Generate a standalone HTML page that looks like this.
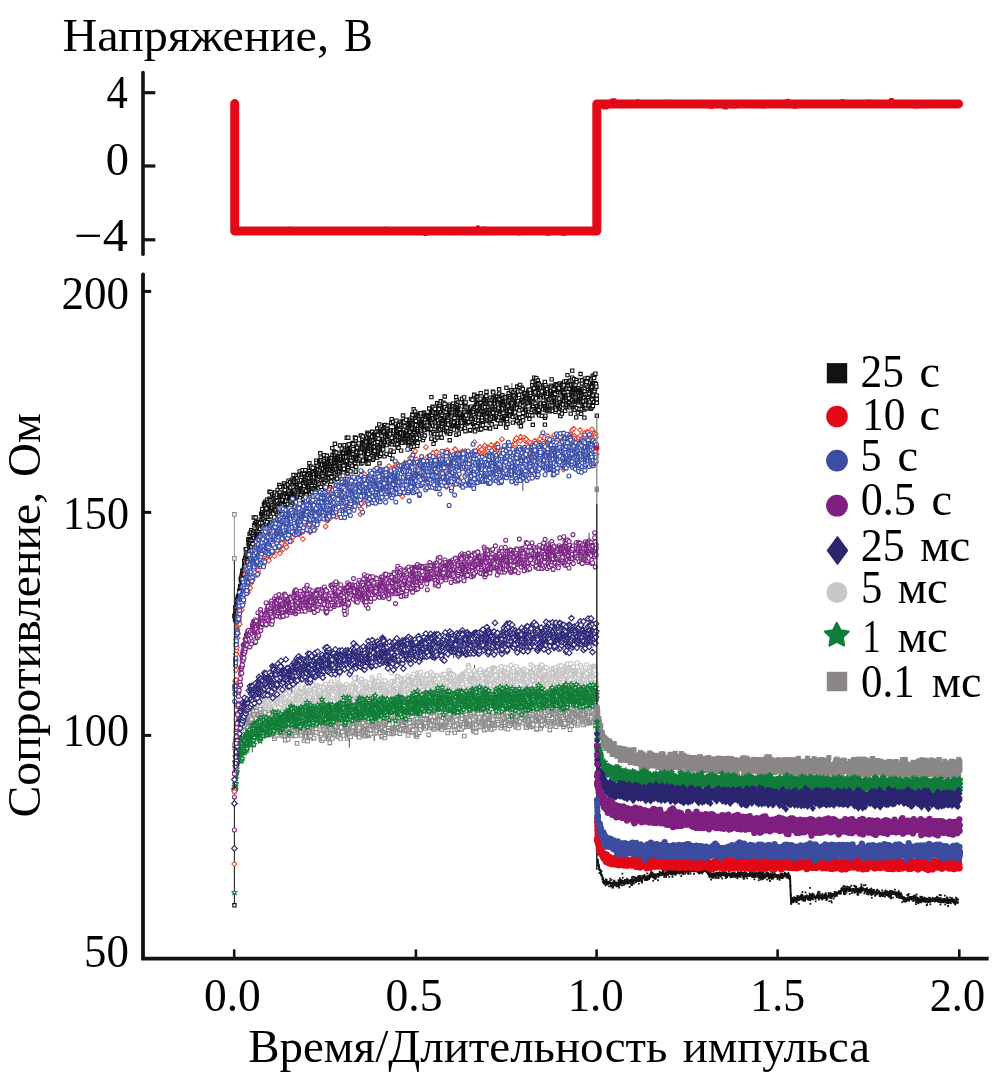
<!DOCTYPE html>
<html><head><meta charset="utf-8"><title>chart</title><style>
html,body{margin:0;padding:0;background:#fff;overflow:hidden}
svg{display:block;will-change:transform}
text{font-family:"Liberation Serif",serif;fill:#000}
</style></head><body>
<svg width="1004" height="1089" viewBox="0 0 1004 1089">
<defs><marker id="hK" markerUnits="userSpaceOnUse" markerWidth="1" markerHeight="1" refX="0" refY="0" overflow="visible"><path d="M-1.65 -1.65H1.65V1.65H-1.65Z" fill="#fff" stroke="#0e0c0c" stroke-width="1.1"/></marker><marker id="hR" markerUnits="userSpaceOnUse" markerWidth="1" markerHeight="1" refX="0" refY="0" overflow="visible"><path d="M0 -2.5L2.5 0L0 2.5L-2.5 0Z" fill="#fff" stroke="#e8442c" stroke-width="1.05"/></marker><marker id="hB" markerUnits="userSpaceOnUse" markerWidth="1" markerHeight="1" refX="0" refY="0" overflow="visible"><path d="M-2.0 0a2.0 2.0 0 1 0 4.0 0a2.0 2.0 0 1 0 -4.0 0Z" fill="#fff" stroke="#3a4eaa" stroke-width="1.1"/></marker><marker id="hP" markerUnits="userSpaceOnUse" markerWidth="1" markerHeight="1" refX="0" refY="0" overflow="visible"><path d="M-2.0 0a2.0 2.0 0 1 0 4.0 0a2.0 2.0 0 1 0 -4.0 0Z" fill="#fff" stroke="#7d2585" stroke-width="1.1"/></marker><marker id="hN" markerUnits="userSpaceOnUse" markerWidth="1" markerHeight="1" refX="0" refY="0" overflow="visible"><path d="M0 -2.8L2.8 0L0 2.8L-2.8 0Z" fill="#fff" stroke="#2c2878" stroke-width="1.2"/></marker><marker id="hL" markerUnits="userSpaceOnUse" markerWidth="1" markerHeight="1" refX="0" refY="0" overflow="visible"><path d="M-2.1 0a2.1 2.1 0 1 0 4.2 0a2.1 2.1 0 1 0 -4.2 0Z" fill="#fff" stroke="#c6c4c4" stroke-width="1.1"/></marker><marker id="hG" markerUnits="userSpaceOnUse" markerWidth="1" markerHeight="1" refX="0" refY="0" overflow="visible"><path d="M0.00 -2.50L0.73 -1.01L2.38 -0.77L1.19 0.39L1.47 2.02L0.00 1.25L-1.47 2.02L-1.19 0.39L-2.38 -0.77L-0.73 -1.01Z" fill="#fff" stroke="#0f7d36" stroke-width="1.15"/></marker><marker id="hY" markerUnits="userSpaceOnUse" markerWidth="1" markerHeight="1" refX="0" refY="0" overflow="visible"><path d="M-1.8 -1.8H1.8V1.8H-1.8Z" fill="#fff" stroke="#8c8989" stroke-width="1.05"/></marker><marker id="fY" markerUnits="userSpaceOnUse" markerWidth="1" markerHeight="1" refX="0" refY="0" overflow="visible"><path d="M-2.5 -2.5H2.5V2.5H-2.5Z" fill="#8b8787" stroke="none" stroke-width="0"/></marker><marker id="fG" markerUnits="userSpaceOnUse" markerWidth="1" markerHeight="1" refX="0" refY="0" overflow="visible"><path d="M0.00 -3.40L0.94 -1.29L3.23 -1.05L1.52 0.49L2.00 2.75L0.00 1.60L-2.00 2.75L-1.52 0.49L-3.23 -1.05L-0.94 -1.29Z" fill="#117d3b" stroke="#117d3b" stroke-width="0.8"/></marker><marker id="fN" markerUnits="userSpaceOnUse" markerWidth="1" markerHeight="1" refX="0" refY="0" overflow="visible"><path d="M0 -3.7L3.1 0L0 3.7L-3.1 0Z" fill="#2c2670" stroke="none" stroke-width="0"/></marker><marker id="fP" markerUnits="userSpaceOnUse" markerWidth="1" markerHeight="1" refX="0" refY="0" overflow="visible"><path d="M-3.1 0a3.1 3.1 0 1 0 6.2 0a3.1 3.1 0 1 0 -6.2 0Z" fill="#7f2080" stroke="none" stroke-width="0"/></marker><marker id="fB" markerUnits="userSpaceOnUse" markerWidth="1" markerHeight="1" refX="0" refY="0" overflow="visible"><path d="M-3.1 0a3.1 3.1 0 1 0 6.2 0a3.1 3.1 0 1 0 -6.2 0Z" fill="#3d4d9f" stroke="none" stroke-width="0"/></marker><marker id="fR" markerUnits="userSpaceOnUse" markerWidth="1" markerHeight="1" refX="0" refY="0" overflow="visible"><path d="M-3.0 0a3.0 3.0 0 1 0 6.0 0a3.0 3.0 0 1 0 -6.0 0Z" fill="#e30a17" stroke="none" stroke-width="0"/></marker><marker id="fK" markerUnits="userSpaceOnUse" markerWidth="1" markerHeight="1" refX="0" refY="0" overflow="visible"><path d="M-0.9 -0.9H0.9V0.9H-0.9Z" fill="#141210" stroke="none" stroke-width="0"/></marker></defs>
<rect width="1004" height="1089" fill="#fff"/>
<path d="M234.7 103.6V231H596.8V103.9H958.6" stroke="#e30a17" stroke-width="9" stroke-linejoin="round" stroke-linecap="round" fill="none"/>
<path d="M460.0 231.5h3.3M319.3 230.3h3.6M241.9 233.1h3.4M404.7 231.8h1.8M329.7 229.5h2.5M434.8 228.8h3.4M459.0 228.9h1.6M296.4 229.0h1.1M252.6 230.7h2.4M562.8 230.9h2.5M414.9 230.2h1.6M483.6 232.7h2.1M241.3 232.4h1.5M334.2 231.2h2.5M538.2 231.1h3.2M272.2 232.4h2.5M546.7 234.2h2.8M260.9 231.1h2.0M292.9 232.1h2.1M584.5 233.3h2.8M464.6 230.3h1.5M395.0 230.1h2.2M274.0 232.8h1.6M476.5 232.0h3.6M473.1 230.8h3.5M572.6 230.5h2.7M291.2 233.4h3.8M434.4 231.6h3.7M465.8 229.2h2.1M384.7 232.9h1.1M548.4 232.1h2.6M353.4 231.0h1.1M371.0 231.6h1.4M580.4 230.5h2.3M424.4 234.6h2.0M447.8 231.3h2.1M422.7 230.7h3.7M293.2 229.3h1.0M505.0 229.3h1.4M387.5 232.6h1.0M461.2 230.1h2.5M495.5 229.2h1.6M367.8 232.4h2.0M573.7 229.6h2.0M335.6 228.5h2.3M585.1 230.9h2.6M555.6 229.4h2.7M390.2 230.9h2.2M564.8 229.0h2.3M422.9 232.5h1.8M523.7 230.5h3.2M461.6 233.3h2.0M380.2 228.8h1.2M314.9 229.9h3.5M279.6 229.8h2.4M449.3 230.7h1.9M578.4 232.2h2.9M463.6 229.8h1.2M384.9 230.8h3.4M497.0 233.1h3.7M522.3 230.9h2.6M562.3 232.0h1.1M247.1 231.0h1.7M306.0 231.6h1.1M447.8 232.5h3.0M247.4 231.9h3.8M429.5 232.5h3.0M455.0 229.0h2.7M254.0 232.4h3.9M540.6 229.2h2.0M351.9 229.4h2.9M520.7 228.4h3.6M520.6 231.1h3.3M550.7 229.6h2.7M464.8 229.4h1.3M472.7 230.9h3.5M522.8 229.9h3.2M545.3 231.3h1.5M249.4 231.5h1.6M438.4 232.4h2.1M329.0 228.7h3.0M275.6 230.9h1.4M473.2 232.8h2.1M370.8 229.9h1.6M327.1 229.9h2.4M268.7 231.1h2.7M345.5 232.8h3.3M286.1 230.9h1.4M268.6 231.9h1.8M347.9 231.8h2.9M305.9 229.0h3.7M372.1 228.9h1.3M496.0 230.3h3.5M477.3 226.8h1.2M422.6 231.1h1.6M333.7 230.7h3.2M555.6 231.0h1.6M521.4 230.4h3.2M590.9 232.5h3.5M513.5 231.2h2.9M304.9 230.7h3.3M493.9 231.9h2.1M387.8 230.0h3.5M430.9 231.1h2.6M494.0 230.9h3.5M563.7 230.6h1.4M507.7 228.5h1.4M490.9 232.4h3.8M283.4 228.8h4.0M281.1 232.0h2.7M397.1 231.0h1.6M561.9 234.2h3.3M263.8 229.3h1.1M350.5 229.2h3.2M400.2 232.7h4.0M552.8 231.9h1.7M378.7 230.1h1.4M251.6 231.1h1.4M302.1 229.5h2.5M304.7 231.5h1.8M425.5 231.5h2.5M461.2 231.3h2.2M518.4 234.0h1.5M288.0 228.3h3.9M571.4 228.7h3.9M313.2 230.8h2.5M562.1 229.9h1.9M451.2 231.3h1.7M403.7 230.9h3.3M531.8 231.2h3.1M539.1 232.7h3.2M346.2 231.8h3.3M298.4 230.5h2.8M356.0 232.3h1.5M421.1 232.6h3.9M442.5 231.3h1.8M522.2 232.6h2.9M574.6 229.5h2.2M483.6 228.0h2.0M475.7 233.1h2.7M510.7 229.2h3.2M245.4 233.5h2.4M384.0 228.3h2.6M497.3 229.0h2.7M436.5 229.3h1.1M399.4 230.9h2.7M266.1 230.5h1.7M308.8 230.9h1.6M399.9 231.0h3.1M434.8 232.4h2.4M458.4 229.8h3.0M465.9 229.8h2.7M379.4 232.0h2.1M404.3 230.8h2.5M359.0 229.5h2.1M537.3 232.0h2.3M490.9 230.9h3.6M444.0 229.3h3.0M478.5 231.6h2.3M304.6 231.9h1.9M753.3 102.3h2.3M732.3 106.9h3.8M916.5 103.9h1.8M914.8 107.0h3.1M626.1 102.3h1.6M749.6 105.2h3.5M768.6 103.3h2.4M732.9 104.7h1.6M712.7 102.2h3.3M620.2 102.3h3.5M758.5 103.3h3.0M687.6 103.3h2.1M826.8 103.7h2.4M786.8 103.8h1.6M942.5 103.7h1.9M691.2 102.9h2.3M874.8 102.2h1.6M648.7 104.3h3.3M773.8 102.4h3.0M821.0 104.3h3.3M722.4 104.0h2.3M774.2 103.4h2.3M827.8 104.1h1.4M661.8 103.3h3.9M609.2 103.0h1.5M768.9 104.3h2.4M658.0 103.7h3.4M665.5 101.2h2.2M748.7 104.4h1.5M928.9 103.5h3.0M617.6 104.2h2.8M874.9 105.8h3.9M915.5 101.4h1.9M611.6 99.8h3.7M952.4 101.8h3.0M841.5 103.3h3.9M816.4 106.5h2.5M606.6 101.9h3.1M749.9 104.5h3.3M719.9 102.7h1.4M665.6 104.8h2.3M930.4 103.4h3.7M842.2 101.3h2.2M601.2 104.4h1.7M650.7 102.9h3.1M675.6 103.4h3.8M695.6 102.9h1.4M890.2 99.5h2.5M612.5 105.0h3.5M630.0 104.4h3.3M816.5 103.0h2.9M761.9 107.0h1.9M869.8 104.2h3.2M734.7 106.3h3.1M737.9 103.6h3.9M854.0 101.5h3.2M699.2 102.8h3.6M759.5 104.7h1.9M627.4 105.5h1.8M661.6 102.4h2.4M676.3 102.8h3.8M697.2 102.4h2.5M626.7 105.4h3.4M623.7 105.8h3.6M908.7 104.0h2.6M731.4 103.7h1.2M694.3 104.6h2.4M761.3 101.6h2.0M614.9 103.7h1.5M629.2 103.4h3.9M806.3 103.3h2.0M803.3 103.9h2.8M885.8 103.5h1.6M807.5 102.2h1.5M820.4 105.4h1.4M794.0 107.2h2.2M696.1 105.8h2.6M844.5 103.1h1.3M891.2 104.8h1.3M688.8 102.7h3.5M924.1 104.6h2.0M668.5 101.2h3.8M625.0 103.4h2.5M786.6 100.2h2.3M650.2 105.7h3.9M867.3 101.0h3.4M710.7 103.1h1.0M910.2 104.4h2.4M835.6 103.7h1.5M649.5 103.0h1.2M677.1 103.9h2.4M726.9 106.0h1.8M612.1 106.2h3.3M691.1 103.4h3.3M744.8 103.8h3.8M710.5 107.5h1.8M649.7 104.8h2.8M933.1 103.6h3.1M769.3 104.1h3.9M847.7 104.0h3.7M636.7 100.8h2.0M933.9 105.0h3.8M817.7 101.4h2.7M763.3 102.8h3.2M841.6 100.6h1.5M889.4 102.9h3.3M917.5 106.4h1.8M761.2 102.7h3.8M732.7 104.6h2.2M733.4 103.8h2.4M759.6 103.7h2.3M649.8 104.9h3.3M801.0 104.6h3.4M681.9 101.6h1.8M708.2 104.2h2.1M715.1 104.1h1.6M637.9 103.4h3.3M705.5 104.0h1.1M743.9 102.7h1.8M724.0 108.0h2.8M654.9 102.6h1.2M945.2 103.1h1.8M671.3 102.4h1.9M815.5 101.6h3.9M615.1 103.6h2.8M850.1 105.2h2.0M601.5 102.5h2.7M627.0 102.0h2.0M625.1 104.3h3.8M754.9 105.4h3.1M603.4 107.9h3.9M919.6 103.8h1.3M713.2 103.1h1.7M609.1 103.9h2.9M635.8 104.4h3.7M719.4 105.3h1.3M883.4 104.3h2.6M820.0 102.4h1.8M807.8 105.1h3.5M828.1 103.5h1.0M917.1 102.1h1.4M846.7 102.4h3.4M761.1 102.2h1.1M903.1 105.7h1.7M908.3 103.5h1.9M779.8 104.1h2.3M671.0 105.6h2.5M909.3 104.2h2.0M699.8 105.1h2.5M634.4 103.1h4.0M806.2 105.0h2.5M779.5 105.6h3.9M937.8 103.6h3.5M822.1 105.8h2.7M674.8 105.9h1.0M848.7 103.3h2.4M947.1 103.2h1.2M752.6 102.9h1.2M689.9 103.0h2.6M735.8 103.9h1.9" stroke="#e30a17" stroke-width="3" stroke-linecap="round" fill="none"/>
<path d="M373.7 696.5v-12.0M284.8 695.2v8.2M461.5 694.1v-9.6M305.3 687.5v5.0M288.5 705.7v9.7M283.9 698.8v12.5M418.9 678.0v12.8M489.3 680.1v6.6M474.1 684.6v-10.1M357.0 683.6v-8.8M474.6 677.0v-12.1M562.2 682.9v7.9M548.0 682.9v5.2M426.7 688.9v7.8" stroke="#3a3838" stroke-width="0.9" fill="none"/>
<path d="M234.8 743.4l.6-1.6 .1 1.1 .1-1.9 0 9.2 .2-6 .9-6.7 0 7.4 0-1.8 .3 .5 .5-8.9 .1 1.3 .3-.8 .1 1.4 .4 .1 .4-.8 .3 2.4 .1-11.6 .2 5.9 .1-10 .1 7.7 0-10.2 .5 1.4 .7-1.2 0 5.1 .1-1.2 .1 5.3 .3-7.5 .2-1.5 0 8.2 .1 .6 .1-1.9 .1-.6 .2 .6 .1-3.6 .2 4.2 .1-7.3 .3 .7 .1 3.7 .3-10.5 0 7.9 .2-4.2 .2 5.4 .2 1.2 0-2 .8-1.9 .6-9.2 .4 10.7 0 3.1 .4-4 .2 3.7 .4-3.8 .1 .7 .7-.8 .3 1.9 .2-4.8 .4 .1 .3 3.2 .1-11.6 .1 6.9 .1 5.1 .5-11.4 .8 4.6 .2 .7 0 1.5 .2-6.2 .2 5.2 .5 5.8 .1-10.3 .1 8.7 .3-9.3 .7-3.6 .1-1 .1 .6 0 9.9 0-12.1 .1 17.4 .1 2.4 .2-17.6 .9-.8 0-2.5 .4 15.5 1-11.5 .1 7.2 .6-3.2 0-1.1 .2-1.8 .2 6.6 .3-11.6 .1 14.1 .4-9.2 .2-.6 .1-1.1 0 3.6 .2 8.5 .1-14.1 .4 .3 .3 5.2 0 .3 0-2.3 0 2.4 .1-1.4 .1 1.2 .1 .2 .6 4.9 .1-3.9 .1 4.7 .1-10.3 .1-1 0 13.3 .1-12.3 .9 6.1 .5 13.2 0-13.5 .2-9.2 .4 11.6 .1-1.1 0-12.7 .1 12.7 1-9.8 .2-2.8 .5-2.6 .6 8.3 .2 3.4 .3-1 .1-9 0-4.9 0 13.4 .3-1.9 .4-.5 0-.7 .2 6.4 0 3.3 .1-3.6 .1-9.7 0-5.2 0 12.5 .1 2.2 .2-11.3 0 7.5 .3-1.1 .1-3.8 .4 .1 .2-4.2 .2-1.3 .3 3.8 .2 5.2 .1-6.6 0 6.6 .3 1.5 .3 9.5 .4-11.4 .1 7.9 .2-16 .3 9.5 .1 4 .4-6.8 .2 .8 .2 .9 .3-2.2 .5 5.6 .2-11.8 .1-.7 .1 15.6 .1-2.5 .2 5.8 .1-9.6 .4-10.7 0 9.7 .1-3.2 .2 1.6 0 5.6 .1 4 .3-6.6 .5-1 .1 2.8 .6-3 .1 3.7 .8 8 .4-9 0-.9 0-10.3 .2 2.1 .2 1.9 .3 1.9 .7-.9 .3-8.1 .1 2.9 .2 1.1 .2-5.5 .3 9.3 .1 3.8 .3 4.8 .1-8.6 .1-6 .2 11.2 .6-7.6 0-2.1 .3-.5 .1 7 .1-6.9 .1-.8 .2 1.5 .1 5.9 .1-9.6 .1 5.1 .1 4.4 .3-11.2 .4 6.5 1.1 2.5 .3 6.6 .2-13.3 .6 4 .1 .1 .2-.4 0 8.6 .2-16 .1 11.8 .1 1.2 .2-8.9 0 14.1 .6-8.5 .3-2.7 .3-4.4 0 12.3 .2-2.7 .2 8 .8-5.3 .2-9.3 .2-7 .4 11.6 .4-.2 .1 4.6 .5-3.6 .4-2.9 .5-6.9 .2 10.7 .1-4.6 .5 13 .2-9.4 .6 2.1 .2-2.9 .6-6 .2-8.4 .2 14.1 .2-9.9 0 8.9 0-.6 0 5.7 .2-16 .1 14.8 .1 1.8 .9-1.9 .6-5.3 .4 6 .9-1.3 .1-5.1 .2 2.4 .3-1.3 .3 .1 .3-4.7 0 2.3 .4-1.3 .2 5.2 .3-3.1 0-12.6 .2 15.6 .1-6.6 0 11.8 .2-7.8 .1 2 .3-9.6 .2 11.8 .2-10.5 .1 .7 .5 3.4 .1 1.6 .3 6.6 .4-7.1 .3-4.3 .4 7.8 .2-6.2 .1-1.2 .2 8.3 .3-2.8 .4 0 .1 1.6 0 7.4 .2-11 .2 7.9 0-12.7 .4 4.6 0 .7 .3 0 .2 6.8 .4 .7 .1-14.2 .4 11.5 0-10.7 0 8.9 .2-12.5 .2 15 .2 1.6 .1-17.4 .1 15 .1-14.3 0 8.4 .2-4.9 0 8.1 .9-5.7 .1 7.9 .1-3.1 0 3 .1-8.8 0 11.7 .1-17.7 0 1.2 .5 4.3 .2 5 .6-3.9 .2-.3 .1-2.5 .4 6.3 .3-2.5 .4 6.3 .5-8.8 0-4.6 .8 6.4 .4 7.6 .2-7 .6 10.1 .1-19 .1 19.6 .3-3.9 .2 3.3 .1 2.5 .2-15.3 .4 10.9 .1-5.5 .1 3.4 0 2.3 .3-4.8 .1-1.9 0-4.4 .1 9 .1-8.5 .3 8.1 0-10.7 0 16.7 .3-2.6 .1-5.2 .6-12.5 0 11.4 .8 6.3 .5-17.4 0 19.3 .3-13.9 .1-1.6 .3 5.6 .3-2.2 0-1.5 .1 1.5 .5 2.4 .1-3.5 0-4.7 .1 9.3 .2-9.2 0 3 .1 .8 .5 7.8 .2-5.2 0 2.5 .2 1.4 .4-2.2 .2 1.4 .5 4.8 0-15 .2 8.9 .5 5.6 .1-6.6 .1 4.2 .2 .7 .2-2 .3 1.5 .3 14 .3-17.1 0-8.5 0 .7 .1 11.5 .1-2.8 .1-2.8 .1-1.5 .1 6.4 .1-.9 .1-4.1 0 0 .7-3.4 .4-6.1 .3 9.3 .9 5.2 .1 5 .1-14.1 .4 12 0-4.4 .2-5.8 .1-2.1 .1 7 .2-.5 .2-3.8 0 6.1 0-10.3 .5 10.4 0 .4 .1-2.8 0-2.1 .5-.1 .1 11.7 .2-16.2 0 10.5 .1-10.8 0 16.6 .2-6.1 .2-.6 .1-6.1 .1 .2 .1 5.3 .1-1.1 .1-5.5 .3-9.4 .3 4.4 .1 10.1 .1-14.7 .1 2.7 0-.2 0 17.2 .1-7.2 .3 1.6 .1-2.5 .1 1.6 .2-4 .1-4 0 9.5 .1-4 .7-3.9 0 5.7 .9-8.5 .2 2.4 .1 12.9 .2-12.4 .2-3.9 .6 6.2 .1-.8 0-1.4 .4 3.4 .4-.9 .1-5 .2 12.7 .3 .5 .6-10.1 .1 9.6 0-20 .1 5.7 0 16.1 .5-5 .4-11.8 .1 7.6 0 10.3 .3-8.7 .1-9.3 .1 3.1 .2 4.9 .1-3.4 .1 .1 0 4.6 0-1.8 .3-5.5 .1 8.5 .1-6.8 .2 14.1 .1-12.2 .1 8.1 .3-5.3 0 2.6 .1-4.7 .1 0 0 12 .1-15.6 .4 3.4 .1 5.6 0 0 .1-2.3 0 2.8 .2-9.3 .2-.6 0 12.4 .1-9.1 0 7.3 .1-4 .1 0 0 8.8 .1-6.3 .3 2.1 0-10.9 .6 1.5 .2 11.4 .3-6.7 .4-.8 .1-5.5 .6 6.3 .2-5.1 .1 7 .4-.8 .3 3.6 .2-12.3 .3-.6 .2 3.4 1 2.5 .1 2.9 .2-.8 .1-3.4 .1 .2 .3 1.2 .4 8 0 4.4 .3-4.5 .5-11.5 .2 7.5 .2-2.3 .4 6.6 .5-1.3 0-5.4 .1 2.5 .1-2.3 .1 4.4 .4-8.5 0 4.9 .3-7 .2 4.4 0 4.6 .3 3.4 .3-.9 0-1.2 .2-8.6 .1 12.3 .4-16.2 .1 12 .1-12.8 .5 11.8 .2 6.6 .1-23.4 .1 14.7 .1 8 .3-18.1 0 11.7 .1-4.9 .5 2 0 12.3 .4-10 .1-7.9 0 2.6 .3 1.1 0-4.4 .1 1.6 .4 1.9 .1-5.1 0 5.2 .1-.4 .4 8.7 .5-7.8 0 1.2 .3 4.8 .2-3.9 .2-.7 0-2.4 .5 10.5 0-9.8 .5-3.3 .1 8 .1 .6 .1 4 .4-3.8 0 2.3 .5-3.5 .2 2.4 .1-16.5 .3 .1 .5 3.3 .3 11.9 .3-7.2 .3 5.5 .1-1.4 .2-7.6 0 10.4 .2-2.5 .3 6.1 .3-15.8 .3 20 .1-6.7 .3-8.3 .3 7.7 0-5.1 .1 3.1 .6 4.6 0 1.6 .2-11.9 .1 6.9 0-11.9 .3 2.7 .1 3.6 .1 7.4 .3-7.9 .2-.1 .2 5.1 .3 5.7 .1-2.2 .1-9.7 .2 1.1 .2 7 .5-7.5 .1-.1 .1 7.3 .1-10 .5 11.8 .2-12.5 .2 1.3 .1-1.9 .2 6.3 .3-2.6 .4 10.5 .1-4.6 .2-6.8 .8 8.4 0 2.1 .1-18.7 0 11.2 .2 5 0 3.5 .3-17.3 .2 9.5 .4 6 .1-7.9 .2 9.9 .2-13.4 .1 2.4 0 .3 0 9.6 .1-6.2 0-4.7 .1-2.2 0 3.4 .4-5.5 0 7.6 .2 .8 .1-7.5 .4 5.5 .2-1.7 .2-2.4 .4 10.3 .1-11.3 0 10.2 .4-6.4 0 3.6 .1 6 .3-15.1 .2 15.2 .3-6.2 .1-3.3 0 7.5 .4-8.6 .5-4 .2 12.2 .1-3.2 .6-6.3 .1-8.6 .8 9.2 .3 3.7 0-.5 .2 10.5 .7-8.1 .3 9.5 .1-11.8 .2-2.1 .3 2.1 .2-2.4 .1 3.5 .4-7.9 .1 9.3 0-10 .2 15.6 .1-10.9 .1 10.8 .3-5.7 .6-3.1 .5 9.2 .2-10.6 0 4.4 .1-2.5 .2-7 .2 14.1 .6-.6 .4-4.8 .6 .1 .2-1.6 .1 7.2 .3-3.4 .1-6 0 9.4 .4-7.8 0 5.8 .1 2 1-3.7 0 3.3 .3-2.5 .1 3.3 .1-6.8 .4-5.7 .1 6.8 .1 3.3 1-1.5 .1-18.9 .4 8.6 1.2 9.9 .6 1.5 0-4.5 .1-2.7 .3 5 0-4.2 .2-2.3 .1-3 .8 7.6 .2-2.4 0 4.9 .1-10 .1 11.6 0-7.8 .1 3.9 .3 1.6 .6-9 .1 13.6 .2-6 .1 2.8 .2-15.4 0 12 .2 .2 0 3.3 .4-12.6 .2 3.5 .3 9.6 0-14.6 0 2 .2-3.1 .9 17.4 .8-8.5 .1 3.5 .3 2.4 .1-13.6 .4 15.1 0 4.1 .1-3.2 .1-.7 .4-5.3 0-8.6 .3 18.7 0-10.9 .1 1.9 .2-2.3 0 5 .1-1.1 .1-4.1 0 6.9 .1-1.2 .2-8.4 .1-.8 0 12.5 .2-.4 .1-3.7 0-6.8 .1-1.1 .4 5.5 .1 2.6 0-12 .1 8.8 .1-5.5 .4 3.6 .1-.5 .3-3.1 .1 11.1 .2-3.1 .2-11 .3 9.9 0-11.5 .1 4.8 .7 1.4 .8 2.7 .4 1.8 .4-1.5 .2-11.5 0 3.4 .1 14.3 0-6.8 .2 6 0-5.6 0 1.4 0-4.2 .4 7.8 0-11.7 .5 13.6 .1-8.3 .9-7.9 .1 8.1 .1 4.8 .6-11.5 .4-.2 0-.7 .1 11.1 .2-1.4 .2-9.5 .2 5.7 .4-2.8 .1 1.9 .1-5.1 0-1.6 .1 5.3 .1 6.5 .2-8.1 .1 6 .2-2.2 .3-.1 0-10.2 .4 18.4 .3-11.2 .1 3.1 0 11.4 0-1.8 .1 1.8 .4-10.2 .1-.4 .1 6.2 0-9.7 0 6.3 .1-5.2 .2 4.9 .2-5.7 .6-4.4 0 1.8 0 13.4 .7-14.8 .2 13.6 .3-18.6 .2 13.3 .4-9.6 0 9.1 .2-10.5 .1 12.6 .1-4.7 .1 5.8 .1 .5 .1-11.5 0 13.6 .1-10.6 .2 8.2 .4-15.2 0 15.5 .2-6.4 .2-.4 .4-3.8 0 7.7 .1-11.5 .1 3.1 0-5.9 .4 8.1 .3-.5 .3 .6 .2 1.4 .2 .2 .1 2.7 0-5.7 .3 2.6 .2 1.7 0-4.9 .2 11.9 .6-10.2 0 3.3 .1-1.2 0 4.2 .1 13.8 .3-19.7 .9 1.8 .5 4.8 .1-.4 .3-6 .2 8.5 .8-.4 .1-9.4 0-5.7 .2 13 .1-12 0 11.8 .1-4.8 .5 7.6 0 2.3 .1 1.3 .2-3.8 .3-3.2 .3 8.2 .2-10.7 .2 8.8 0-7.2 .3-1.9 .2 .2 .3-4.3 .4 3.9 .7-10.5 0 23.4 .1 .1 .1-11.9 .5-7.4 .1 .7 .9 8.3 .2-5.1 .4-5.4 .2 2.8 .2 1.4 .1 9.1 .1-8.4 .1 1.2 .4 1.3 .8 2.9 .1 1.7 .3-4.9 0 4.2 .3-5.6 .2-1 .4 11.4 .7 2.3 0-3.1 .2-14.9 .1 .5 0 5.9 .8 12.8 .2-8.8 .2-1.1 .1-6.9 0 15.6 .2-14.7 .9 4.9 .1 2.3 .5 7 .1-5.7 .4-1.1 .7-3.2 .3 7.5 .4-4.2 .3-7.4 .3-4.5 .3 12.3 0-1.3 .1 0 .2-4.5 .5 6 .2 5.9 .4-18.6 .2 13.9 .6-5.1 .2 4.1 .3-7.5 .7-1.9 .3 12.1 0-7.4 .4 7.9 .8-13.7 .7-6.2 .3 16 .1 1.2 0-13.6 .6 7.8 .1 6.6 .1 .5 .1-14.4 .1-1.8 .3 12.8 .1-7.6 0 2.8 .1-7.6 .5 8 0-6.2 .3-.8 .3 6.8 .9-3.2 .1 9.6 .1 2.6 0-7.7 .6-7.6 .2 15.3 .3-6.4 0-5.9 .1 6.2 .2 2.3 .2-9.6 .1 5.1 .1 2.8 .6-4.6 .1 .4 .7 3.4 .1-.1 .6-5.6 .1 6.1 .1 5.2 .1-12.2 .1 8.8 .5 3.6 .2-4.9 .1-3.3 .2 7.9 .6-11.4 .1 12.7 .1-10.7 .1 .9 .2 6.3 .6-4.1 0 6.2 .3-4.9 0-6.3 .1 9 .2 4.2 .3-12.2 .3 .4 .4 14.8 0-18.9 .1 .1 0 8.6 .4-8.1 .1 4.9 .3 .6 0 5 .2-7.2 0 5.1 .4-10.4 .1 4 .2 14.6 .2-17.6 .5 12.1 .1-9.1 .2 2.2 .1 .5 .2-5.4 0-1.2 .2 1.4 .2-1.5 .6 5.9 0-6.9 .7 2.6 0 10 .2-3.1 .3-8.7 .1 3.2 .2 8.5 .2-15 .4 18 .4-9.7 .2 10.9 .2-24 .1 1.8 .4 3.6 .1 19.8 .8-11.6 .2 2.1 .1 4.4 .2-9 .1 1.4 .1-.7 .2 4.3 .1 7.1 0-13.9 .5 14.5 .1-8.9 .4-2.8 0 3.7 .6-3.2 0 5.2 0-4.6 .1 4.6 .1-5.9 .1 1.4 .2 2.9 .2 2 .1-6 .2 4.9 .6 2 .1-5.6 .1 12.2 0-20.4 .1 8.2 .2-2 .5-1.7 .2 10.4 .1-7.9 0-3.8 .3 9.2 0 4.6 .2-12 .4 2.9 .1 10 .2-10.6 .2-2.2 .1-.7 .2 9.2 .4 5.2 .4-2.9 .3 2.5 0-11.1 .1 13.1 .1-6.4 0-12.8 .4 13.6 .1-13.9 .3 6.2 .2 6.4 .1 5.2 .4-.5 0-1.2 .3-15.2 .1-3 .7 8.9 .4 4.1 0-5.4 .2-1.5 .2 1.5 .2-1.5 0 5.2 1.2 3.8 .2-6.3 .1 6.4 .1 4.8 .1-4.9 0-1.2 .6-11.5 .8 2.7 .6 5.7 .1-6.4 .1-1.4 .1 1.4 0 5.5 .1 9.5 0-6.9 .3-7.9 .3 1.7 0-1.1 0 1.5 .1 1.1 .2 1.2 .1-5.8 0 7.6 .1 2.3 .4-.6 .1-1 .2-2.5 .2-8.7 .9 10.4 .1-5 .1 5.3 .1-.5 0-10.2 .2 6.3 .2 2.3 0 6 .2-3.1 .5 2 0-10.5 .2 7.7 0 1.8 .1-8 .1 10.5 .2-3.9 .1-1.4 .7-3.5 .3-.1 .2-4.7 .1 4.9 .5 2.2 .1 9.3 0-19.8 .2 7 .3 7.4 .1 3.6 0-17.9 .2 13.7 0-11.4 .1 11.7 .3-8.9 .2 11 .4-8.3 .1 10.4 0-17.8 .1 1.1 .3 6.3 0-4.7 .1 5.2 0-5.5 .3 9.5 .1-4.8 .2 7.6 .1-3.3 .7-.3 .4 1.8 .3 10.1 0-10.9 .6-11.7 0 12.5 .2-9.5 .3 12.7 .3-6.8 .6-.9 0 0 .6 11.3 0-15.5 .1 9.7 .2-9.3 .1 .7 .1 12.3 .1-15.2 0 2.7 0 2.6 .1-3 0 13.6 .5-20 0 7.6 0 .8 0 4.6 .3-.4 .9 4.9 .3 .1 .3 1.1 .2-12.6 .3 5.9 .1-1.6 .3 1.1 .3 8.2 .1 3.1 0-11.7 .1 4.2 .1-9.5 .1-1.5 0 11.5 .3 3.1 .1-11.5 .4-2.1 .1-4.6 0 12.2 .1-5.1 .5 3.8 0 6.6 .1-11.4 .6 8.1 .1-5.8 .2 9.9 .3-4.4 0-5.2 .3 3.9 .5-11.2 .3 4.3 .4 3.6 .6 .5 .2-2.3 .1 1.1 .1 6.9 0 1.9 .1-9.5 .2 11.8 .4-6.8 .1-5.5 .1-9.3 .3 16.8 .2-3.4 0-1.1 0 4.1 .1-.3 .3-.6 .1-1.2 .3-1.8 0-6.8 0 4.5 .3 6.6 .8 4.6 .1-18.4 .5 9.9 .3-6.8 .1 4.9 .2 4 .3 2.1 .1-3.5 0 10.2 .1-6.4 .2-1.2 .3 .4 .2 3.8 0-1.4 .7-17.9 .2 11.4 0-6 .3 12.7 .2-4.7 .1-7.1 .1 2.6 0-4.6 .2 10.4 .1-5.5 0 14.5 .2-12.4 0-8.1 0 5.7 .3 4.2 0 7.7 .8-8.5 .1-6.4 .3 1.3 .1 .7 .3 .9 .1 2.7 .2-5.3 .3-.6 .4 19 .3-2.7 .1-14.7 0 6.7 1.5-1.1 .2-9.7 .1 8.1 .3-5 .1 1.4 .1-3.2 .1 11.3 0-6.5 .1 1.6 .2 2.3 .2-10.5 .4 15.2 .2-9.2 0-3.5 .1 4.3 .1 3.3 .7 0 0-5.1 .4-2.9 .1 12.5 .3-8.4 .2 3.8 .3-5.5 0-.7 0 12.9 .2-11.3 .1-3.8 .1 5.6 0 9.6 .4-9.2 0 7.5 .5 .5 .1-2.6 .1 2.6 .1 2.1 .2-11.8 1 9.4 .4 1.8 .5-12.9 0-1.9 0 2.7 .1-2 0 10.9 .3-8.9 0-9.5 .5 20.2 .4-10.3 .2 3.3 0-5.2 .2 8.4 .3 8.6 0-9.2 .2-4.9 0 .5 .4 .2 .2 3.7 .1-13.2 .6 5.8 .2-2.4 0 15 .2-16.2 .8 5.4 .2 2.6 .2-.5 .2 2.3 0-5.1 .3 2.8 .1-3.5 .1 6 .1-7.5 .2 10.1 .3-3.1 0-1 .2 3.3 0-13.5 .6 14.4 .2 2.6 0 .9 .3-4.9 .2 5.1 .3-13 .1 3.6 .2-.3 0 2.4 .1 2.7 0-8.4 .3-3.9 .1 10.9 .2-6 .7 14 .2-19.4 0 6.9 .7-9.7 .2 6.2 0 6.3 .2-10.6 .4-2.3 .5 14.7 0 2.1 .1-10.5 .2 2.9 .1 3.5 0-8 0 3.5 .1 6.4 0 6.1 .2-16.7 .1 14.8 .1-1.8 .2-3.5 .5 .1 0-8 .2 6.3 .3-5.7 .2 9.9 .2-13.1 0 7 .3 5.2 .1-3 .5 2.8 0-5.1 .2-7.2 .1 16.8 0-9.8 .1 2.5 .2 9.5 .4-11 .2 11.6 0-9.8 .3-.2 .1 6.4 .4-.6 .1 1.4 .3-9.1 .5 5.6 .1-1.5 .4-5.5 0 5.4 .3-1.4 0-1.4 .1 5.8 .1-1.1 0-2.6 .4 6.7 .5-3.1 .1 1 .1-4.4 0-6.1 .4-2.7 .2-1.1 .6 8 0 .4 .1 6.8 0-.5 0 1.8 .1-5.7 .2-4 .5 .1 .2 9.3 .1-15.7 0 3.8 .4 3.8 .1-8.4 .1 10.6 .9-.5 .5-3.4 0-4.5 0 4.1 .1 6.1 .2-8.9 .3-2.3 .1 3.9 0-6.3 .2 9.4 .4 8.3 .3-9.9 .3 9.7 0 1.9 .1-13.6 .1 10.2 .1-4.2 .3-3.7 .3 4.4 .1-6.9 .2-2.1 .1 3.6 .1 4.1 0-9.3 .2-3.1 .2 16.9 .2-12.2 0 9.3 .1-9.4 .2 7.8 .1-7.2 0 4.3 0 3.6 .5-9.5 .1 5.6 0 1.8 .3-.4 0-3.9 .2 15.4 0-12.1 .1 3.7 0-8.1 .1 10.8 .4-16.8 .6 10.2 .2 7 0-.1 .1-9.7 .1 .7 .5-1.3 .1 4.5 .3-6.8 .4 11.3 .4 4.7 .2-7.7 .6-6.9 .1 4.1 .2-2.9 .6-1.4 .3 3.7 .1 10.1 .2-14.7 0 9.9 .3-11.2 0-4.3 .1 10.3 .6-4.7 .1 11.3 .1-.8 0 1.1 .1-10.1 0-8.1 .6 20.4 .2-.2 0-12.6 .2 17.1 .2-19.9 .3 13.6 0-5.4 .2 10.1 .5-2.6 .2-13.7 0 5.4 .3-2.4 0 5.8 .1-15.9 .1 10.7 .2-.2 .4-6 .8 2.3 .7 14.9 .1-18 .5 15.9 0-8.1 .1-8 .1 15.8 0-12.2 .2 2.2 .1 1 0 8.9 0-11.7 .2 .7 .1 8.1 .1-8.7 .6 7.3 .2-3.8 0 1.6 .7 6 .1-7.5 .1-4.2 .1 11.7 .1-5.4 .1-4.4 .2-.8 0 2.1 .2 10.9 .3-11.8 0 15.1 .1-25.1 .1 11.2 .1-1.4 .1 8.4 .2-6.4 .4-.4 0 10.5 .1-14 .5 5.2 .3-4.3 .2 6.7 .2-4 .1 10.7 .5-13.7 .2 16.1 .8-22 .2 14 .4-11.7 .5 12 .3 .9 0-6.6 .1 3.2 .2 4.3 0-9.9 .1-1.5 .2 4.4 .2-.9 0 1.5 .1 .6 .1 3.9 .1 7.3 .3-3.5 .6-9.5 0 .7 .1-.1 .1 5.4 .1-.4 .2-3.9 .2-4.8 .1 13.7 .1-10.2 .2 1.4 .2 8.8 .5-12.2 .1 10.5 .6-9.3 0-9 .1 15.9 1-3.4 0 .3 .3 4.5 .4-2.8 0 2.4 1-14.2 .3 8.9 .2-5.3 .4 9.6 0-4.4 .5 5.8 .1-7.2 .1 6 0-1.4 .7-10.9 0 5.3 0 14 .8-4.7 0-1.1 .1-6.3 .3 1.3 0-10.5 0 9.2 .2-2.8 0 2.6 .1 .9 .1-3 0-7.1 0 3.9 0 14.9 .2-18.6 .1 14.3 .2 3.1 .2-4.8 .1-5.1 .2-6.9 .3 1 .1 4.5 .2-3 .3 .8 .4 11.8 0-1.3 .1-1.8 .2-4.8 .6 10.5" fill="none" stroke="none" marker-start="url(#hL)" marker-mid="url(#hL)" marker-end="url(#hL)"/>
<path d="M531.8 718.0v11.6M515.0 711.4v-7.8M312.2 733.0v8.1M434.1 712.1v11.7M572.6 715.4v12.3M329.9 735.3v10.0M295.1 726.2v8.3M264.4 734.4v-8.0M407.8 724.2v8.8M453.9 717.0v-10.5M497.2 712.8v8.3M349.3 736.6v11.0M374.2 730.6v10.5M516.3 720.2v-6.0" stroke="#3a3838" stroke-width="0.9" fill="none"/>
<path d="M234.6 748.2l0-2.8 .7-4.3 .9 .1 .3-4.6 0-4 .2-.4 .4-2.7 .3-5.7 .3 .7 .2 6 0-9 .6 3.6 0-5.7 .1 9.8 .2-1.8 0-8.3 .2 .7 .4 5.1 0 .6 .1-8.9 .3 3.3 .2 0 0-6.7 .1 13 1-.9 .1-5.4 0-6.1 .2 5 .2 .7 0-3.1 .2 4.6 .6 .5 .4 2.6 .2 3.2 .1-8.6 0 2.2 .4-5.1 .1 10.1 .1-2.3 .3-11.7 .3 4.7 .7 2.4 .4-8.4 .5 6.5 .1 1.8 .3-15.1 0 16.5 .1-.1 0 4.1 0-6.8 .1-1.9 .3 2.5 .3 9.9 .1-7.4 .5 2.5 .1-5.6 .1 10.3 .3-5.3 1-9.6 .2 7.9 .2-3.9 .3 5.7 .2-1 .4-1.7 .2 6.4 .1-6.1 .1-2.2 .7 10.1 .1-8.6 1.2 6.2 .4-13.3 .3-2.2 .2 1.3 0 11.1 .7-6.5 0 .2 .2-2.1 1 6.7 .5 8.7 .1-6.7 0-11.7 0 11.1 .1-3.8 .1 18.2 .4-8.6 .3-14.1 .2 .6 .8 8.8 .1-8.6 .1 12.8 .1-1.8 .3 8.9 .8-16.3 .2-3.1 0 17.6 .5-23.7 .1 8.6 .1-4.1 .1 4.5 .1 2.2 .4 3.6 .1 5.7 .1-14.5 .1 5.3 1 7.8 .3-10.3 0 3.5 .1 9 0-12.2 .5-1.1 .1 .3 0 7.1 .3-5.6 .3 12.3 .1-9.5 .3 12.6 .3-17.6 .1 4.3 .1-8.6 .2 6.6 .6 2.6 .1 7.3 .2-8.7 0 7.7 .1-.4 .4-9.5 .4 1 .1 13.8 .6-4.3 0-10.5 .3 3.1 .1-2.7 .1-.1 0 3.6 .2-1 .3-2.1 .4-4.8 0 7.2 .3 5.2 .6 .6 .3-7.1 .2 11.7 .3-11.1 .1 7.9 .1-.3 .1 6.5 .6-14.2 .4-.1 .2 10.8 .6-4.7 .3 6.6 .3-.3 .3-13.9 .5 5.8 .2 14 .1-3.7 .2-8.3 .3 .4 .1-1.7 0 .9 .3 9.8 .1-10.4 .9 6.2 .1-11.9 .8 5.6 .1 9.6 .1-15.3 .1 6.3 .3 .8 .1-2.4 .3-2 .1 6.6 .1 .5 .2-3.3 .1 6 0-6.1 1.2 5.2 .1-.7 .2-3.2 .1-2.8 1 5 .2 5.5 .2-11.1 .2-4.5 .1 .7 .3 7.1 0-9.2 .2 17.1 .3-10.9 .1 6.9 .1-12.9 .1 9.3 .5 .7 .2 1.1 .1 6.8 .5-19.1 .3 7.9 .1-2.7 .2 .8 .2 12.9 0 1.5 0 2.4 .1-4 .1-6.1 .3-5 .1 1.5 .1-7.9 .4 10.9 0 2.3 .2-5.8 .2 7.3 .8-1.4 .1 2.7 .5-8 0 12.8 .3-13.1 .4 2.4 .9-.4 1.6-2.8 .5 1.7 .4 2.3 .1-9.1 .3 6 0 9.5 .2-4.6 .3-12.1 .1-4.7 .1 9 .1 1.6 .3 10.1 .5-14.8 .3 5.5 .2-6.2 0 13.1 .1 .2 .2-6.8 .6 4.7 0 3.3 .3 1.8 .2-10.3 0-7.3 .2 8.2 .3-3.3 .3 20.1 .3-13 .5-7.4 .3 9.8 .2-3.1 .1-3.6 .9 .3 .3 6.2 .2-8.2 .6 6.7 0-2.9 .4 7 .2 0 .1-4.1 .4-1.3 0 2.1 .1 0 .3-6.2 .6 3 .2-5.5 .8 7.9 .4-6.7 .1 16.1 .1-13.5 .3-5.9 0 5.2 .2 2.4 0-6.8 .3-.9 .2 11.3 .1-8 0 10.5 .4 3.6 .3-7.3 .2-1.5 .2 6.8 1.1-7.6 .2 12.5 0-13.2 .9 8.1 0-8.1 .1 2.2 .5 1.3 .1-4.6 .1 10.1 0-2.5 .4-15.3 .5 14 .5-12.3 0 14.9 .1-12.2 .9 3.4 .3 5.7 .2 .2 .6-3.4 0 2.2 .4-9.9 .3 7.9 .4 1.9 0-9.2 .1 15.6 1.2-11.1 .4 5.3 .9-3 .1 3.2 .9-8.2 0-1.5 1.9 4.2 .1 1.5 .2 5.2 0-7.6 1.2 10.7 .1 2.6 .2-5.5 .7 6.8 .3-15.7 .7-2.6 .1 1 0-5.9 .2 21.3 .1-13 .1-3.3 1.1 7.2 .3-3.8 .5 7.2 .1-9.3 .1 .4 .2-5.9 .3 3 .5 9.7 .4 1.7 .1 2.3 .4-10.6 .8 9 .1 4.9 .7-10.8 .1-.5 .2 9.9 .5-18.8 0 9.6 0 15.1 .1-7.5 .5-2.5 .1-5.2 0-7.4 0 3.2 .6 1.3 .7 5.9 .1 2.2 .5 5.6 .2-17.1 .4 1.4 .1 2.8 0 7.6 .2 0 .1-6.9 1.1-1.1 .2 5.7 .2 .3 .7-5.1 .1 7.2 0 1.7 .1-11.9 .2 2.9 0 .4 .2 4.4 .9-8.3 .1 9.4 .4 4.6 .6-11.9 .2 9.7 0-3.8 .2 6.5 .5-10 .1 5.2 .1-1.1 .1-8.6 1.2 16 0-11.6 .3 .2 .1-4.9 .1 6.1 .1-.8 .1 4.1 .9 2.7 .2-2.1 1.2 3.3 1.3-8.4 1.5 1.4 .6-2.1 0 9.3 .1-11.6 0 9.5 0-13.1 .2 18.1 .1-21 .2 15.1 .1-14.1 0 12.1 .1-10.4 .1 .6 0 11.2 .3 .6 0-1.9 .6 1.3 .2-7.3 0-2.3 .1 11.2 .2 3 0-17.6 .4 14.4 .2-14.7 .9 18.2 0-6.6 .2-1.8 0 3.5 .1-7.3 .7 3.8 .5 1.4 .3-7.2 .3 2.3 0 6.5 .1-4.6 .3-4.3 .6 1.2 .1-1.7 .8 10.8 .3-12.5 .5 11.3 .5-8.3 .1 8.6 .2 1.7 .2 .7 .1-1.4 .1-4.9 0 5.3 .1-1.6 0-6.4 0 5.1 .1 1.5 .5-6.9 .2-.3 0-5.3 .2 13.6 .1-5.5 .5-5 .1 2.9 .1 7.6 .2-3.4 0 6.7 .3-2.4 .1 3.2 .1-9.7 .6-3.3 .1-4 0 0 .5 .9 .1 1.9 .1 11 1.1-2.7 .7-9.3 .2 9 .1 3.3 .1-7.6 .1-3.8 0 9.5 .1-5.3 1.3 3 .1-2.2 0 7.9 .1-16.6 .3 15.2 .2-5.8 .3 7.4 .3-16.1 0 7.1 .2-1.4 .5 7.4 .4-12.2 .3 7.7 .2 6.1 0-2.5 .5-10 .1 7.5 .3-.5 .1-4.4 .1-7.5 .2 18.5 .1-13.9 0 13.1 .6-1.4 .2-4.7 .2-3.7 .6 .7 .4 3.8 .4 4.3 .3-11.4 0-1.4 .2 2.6 .3 1.8 .6-.2 .1 1.9 .3-3.9 0-.7 0-2.9 .1 5.9 .3-.3 .6 4.5 .2 .8 .4 2.9 .2-6.4 .2-2.5 0-4.9 .2 2.7 .2-2.8 .4 8.6 .2-2.8 .1-5.6 0 1.2 .1 2.2 0 2.6 .1-11.3 .2 8.1 .1 10 .1-2 .9-2.7 .1-1.4 .1-3.4 .6-3.9 .5 5.4 0 .4 .4-6.1 .2 12.9 .2-8 .1-5.2 .1 2 0 5.4 .1 7.2 0-13.8 .3 9.4 .6-5 .2 2.6 .5 10.6 .3-10.9 .2 2.1 .4-3.7 0 11.3 .2-3.2 .1-8 .4-3.4 0 9.4 1-11.6 .1 12.2 0-5.7 .2-3.1 .2 3.7 .2 11.9 0-3.2 .4-5.6 .1-.2 .5-5.3 .1 1.2 .1 7.8 .7-6.9 .1 6.6 .3-7.5 .7 6.7 0 1 .5-6 .1 4.7 .8 2.1 0-8.8 .5-5.1 1.8-1 .1 15.3 .3-2.7 .4-15.9 .5 12.3 .1 1.6 .2 2.2 .1 2.1 .4-2.1 .1-12.4 .2 13.3 .2-3.7 .9-1.1 .1-.6 .1-8.1 .4 12.3 .2 1.6 .2-4.4 0-2.1 .2-1.3 1 7.9 .1-5.3 .7 .6 .6-14.6 .4 5.7 .2 11.3 .5 3.3 .1-10.1 .7 6.2 .1-11.8 .2 8.4 .5-3 .1 5.9 0-8.6 .2 1.3 .1 2.4 .6 .6 .7-5 .2 .3 0-4.1 .1 12.7 .5-6.3 .2-3.6 .5 3 .2 7.5 .1-8.3 .1 9.6 .7-10.6 .1 1.4 .2 8.5 .6-2.1 .5-.6 .4-2.1 0-2.3 0-4.5 .1 2.1 .2 4.3 0-.7 .3 11.3 .1-7.2 .4 1 .6-11 .4 4.8 .1 4.4 .8-1.1 .4 6.1 .5-15.8 1 14.9 .2-14.8 .2 9.7 .4 3.5 .3-9.7 0 .2 .4 1.3 .4 3.9 .2 0 1.1-6.2 .3 16.4 .2-12.6 .2 1 .5 12.2 .1-1.9 .2-12.9 .2 12.2 .1-14 0 5.4 0-6.6 .6 3.4 0-.3 1 7.3 0-2 .1 5.5 .1-6.7 .4-3.8 .2 4.5 .3-7.3 .2-.3 0 7.2 .3 3.4 .4-13.8 .4 5.5 .8-8.3 .5 5.9 .1 2.7 .6 5.8 .2-5 0-7.6 .1 8.8 .4 4 .2-3.5 .4-2.9 0 6.1 .1-8.1 .1 5.9 .5 1.7 0 1.6 0-4.8 0 2.4 1.1-6.6 .1 6.8 .7-11.6 0 11.9 1.2-7.8 .2 16.1 .4-13.5 .1 2.4 .2 4.2 0-6.7 0 2.7 .4-5.2 .2 .9 .2 6.5 0-7.8 .1-.4 .1-.3 .5-.8 0 0 .4 8.4 .3-12.6 1.3 8.4 .1-.6 .5 8.6 .3-3.9 .1 4.3 .1-13 .1-4.3 .9 15.9 0-2.3 .2-4.3 1.7 1.1 0 3.7 .2-.5 .1-3.6 .4-2.8 .1 2.5 .4 5.8 .6-8.6 .1-1.3 .3 .4 .2 2.2 .3-7.8 .3 3.9 0 12.6 .1-.4 .1-12.5 .4 11 .2-.8 .1 1.4 .1-12.1 .3 4.8 .2 3.4 0 .5 0 3.7 .3-6.9 .2 8.3 .7-3.6 .3 .5 .1-9.7 .1 9.5 .2-8.3 .8 7.7 .3-.7 .5 2.9 .4-3.5 0-10.8 0 8.2 .1-5 .2 3.7 .1 4.6 0-7 .1 .7 .2 7.9 1.1-8.7 .1 8.7 .4 6.5 .1-11.4 .7-4 .3 8.2 .1 1 .3-5.3 .2-1.8 .2-5.8 .2 10.5 .8-2.2 .3-2.6 .2-1.4 .7 11.9 .6-10.7 .6 2.6 .1-2.6 .5-5.8 .2 12.5 .2-9.1 .2 9.1 .2-9.8 .2 4 .2 9.9 0-12.1 .2 14.6 .7-16.1 .5 9.3 .1-12.7 .4 6.8 1-7.3 .1 17 .1-14.3 .7 10.2 .1-1.8 .8 4.9 .6-10.3 .3 3.5 .3-2.7 .1 4.6 0-2.6 .1-6.6 .3 9.7 .6 5 .2-5.1 .1-5.6 .5-3.5 .3 9.3 .9 2.8 .5-3.5 0 12.3 .9-16.6 0-3.5 .3 1.4 .2 1.6 .1-4.2 .3 5.1 0-2.7 .1 7 .1 2.6 .1-11.9 .5 6.1 .1 4.3 .1-3.6 .1 3.3 .4-7.7 .4 4.2 .4 2.5 .1-2.6 .2-2.4 .8 7.6 .4-3.1 .1-5.4 0 4.9 0-2.6 .5 4 .6 1.3 .5-11.5 .1 2.1 .8 10 .3-8.4 .1 10.4 .6-4.1 0 6.9 .2-11.9 .2 7.6 .1-2.6 .1 1.9 .1 1.6 0-12.4 0-2.5 .3 18.7 1.3-14.6 .3 6.2 0 3.9 0-2 0 7.4 .3-22 .3 17.7 .1-7.9 .1-5.7 .1-3.8 .5 2.8 .5-.4 .1 7.3 .4 1.1 .1-7.1 .2 12.5 .3-8 .1 3.5 .5-.3 .2-4.9 .8 9.3 .5-3.8 .6-8.8 .1 9.1 .8 0 .2 2.3 0-5.9 .8 8.3 .2-7.3 .4 4.1 .1 5.5 0-13.7 .1-5.4 .1 19.2 .1-10.1 .3-2.6 .1 .9 .2 7.8 0-13.6 .2 8.4 .2 1.1 .5-8.9 0 12.8 .1-1.7 0-12 .5 10.4 .3 6.6 .4-7.9 .2 2.6 0-8.9 .5 3.2 .7 .8 .1 4 .1-2.3 .1 2.2 .1 3.8 .3 1.5 .4-9.8 .7 1.5 .1 6.6 .1-11.6 .2 13 .2-7.9 .2 7.2 .2-11.3 .2 9.1 .1 4.4 .2-16.1 .2 10.1 .2-4 .1-4.7 .3 9.2 .2-2.7 .3-8.7 0 5.1 .1 2.3 .6 3.6 .2 4.5 .9-2.4 .2-1.7 .3 .7 0 .3 0-9 .1 6.9 .9-9.9 0 8.9 .1-7.5 .4-1.4 0 7.8 .4 3.3 .4-1.6 .2-6.8 .3 8.7 .2-8 .6-4.9 1.2 4.7 .3 11.9 .4-4 1-6.7 0-1.2 .3 9.7 .2-6.3 .5-6 .6 9.7 .2-4.5 .2 7.5 .5-8.2 .3 6 0 .4 .3 1.4 .1-2.9 .4 5.6 .1-15.6 .8 5.2 .3 1.5 .3-7.2 .1 5.3 .3 4.7 .4-5.7 0 12.5 .1-9.5 .1 .9 .3-11.2 0 14.8 .2 .2 .9 1.3 0-5.4 .4-.9 .6-2.7 .7 6.5 .3-11.1 .4 3.6 .1-7 .2 12.5 .5-2.4 0 5.6 .1-3.2 .6 2 .3-.2 .4 1 .1-1.6 .6-10.9 .2 12.5 0-13.7 .2 11.4 .2-4.8 .1 10.4 .1-5.9 .1-6.8 .1 5.3 .3 .4 .7 5.9 .1-12.7 .2-3.8 0 6.1 .2 4.9 0-4.5 1 11.8 .1-4.9 .1-9.8 .2 8.2 .2-2 .3-7 .3 5.2 .3 2.6 .1 1.3 .4-6 .6 1.8 .4-10 0 6 .2 4.7 .1-4.4 1-.5 .2 9.8 .1-12.1 .6 5 .8-5.5 .3 10.5 .6-1.4 .1-9.8 0 1.3 0-1.5 .4 5.3 .1 12.3 .3-9.5 .2 10.2 .2-.3 .1-8.9 .6-.5 .2-7.4 .3 4.1 .2 7.3 .2-1.6 .1-1.5 .4-4.1 .1 10.9 .3-9.3 0 9.4 .3-6.7 .6 6.4 .1-8.7 .1-4.2 .4 13 .4 .3 .1-2.4 .3-4.6 0 7.7 .3-8.6 .3 7.1 .1-1.2 .1-5.9 .2 1.9 .2-.8 .3-4.9 0-5.8 .1 16.7 .3-.9 1.5-9.6 .1 6 1.1-7.7 .2 8.6 .1-4.2 0-2.2 .1 5.7 .1 8.7 0-8.6 .1 7.8 .1-23.9 .4 10.7 1 3.6 .1 .3 .4-4.5 .1-2 .4-.3 .2 7.2 .7-2.1 .2 1.1 .1-.8 .2 6 .1 4.4 .5-15.3 .1 .6 .3 12.1 .3-3.7 .1-2.5 0 5.2 .3-4.1 .5-6 .9 2.4 .6 1.1 .1-8.3 .1 5.8 .2 3.7 .3-8.9 .2 .6 .1 1.5 .1 11 0 .1 .2-13.5 .2 7.7 .5 2.3 .6-1.5 .2 5.8 .3-7.7 .1 3.7 0 4.7 .2-8.8 0-1.8 .1 6.9 .1 1 .1-3.8 .2-7.8 .3 10.3 .6-6.2 .2 8 .3-7.3 .2-3.7 0 17.8 .1-6.9 .4 3.4 .6-20.5 .2 5.9 .5 12.3 .2-2.8 .3-6.6 .3-5.7 0 1.5 .2 .9 .3 10.8 .2-8.4 .6-2.5 0 10.3 .1-10.3 0 2.2 .1 10.3 .3-.4 .2 1.8 .3-19 .1 7.5 .2 7.7 .1-9.2 .2 7.5 0-9.4 .1 12.5 .1-12 .4-1 .1 16.9 .8-4.3 .1-2.7 .3-1.5 .3 2.2 .1 3.2 0-9.6 .1-5.2 .3 2.9 .5 10.7 .1-8.7 0 7.5 .6-6.8 .4 3.9 0-7.3 0 4.2 .1-3.3 0 .9 .5 8.1 .1-4.4 .2-4.3 .2-5.4 .2 17.7 .4-14.4 .1 8 0 2.9 .3 1.9 .2-.9 .1-9.2 .1 11.5 .2-17.3 .3 1.5 0 8.5 .3 5.4 .3-3.2 .3 7.7 0-3.7 .2-10.7 .5 8.9 .1 .1 0 3.3 .1-.4 .1-.3 0-12.2 .5 11.5 .3-8 .1-2.6 1.2-.8 0-.6 .1 6.5 .2-5.4 .1 1.4 .1 1.3 .1-11.2 0 14 .2-3.9 .5-6.8 0 .7 .3 12.9 .3-.3 .3-1.7 .3 7.4 .3-6.7 .2-6.5 0-.6 .2 7 .3 10.2 .7-13.3 .3 9.5 0-5.4 0 3.5 .3-10.1 .1 10 0 1.7 .2-16.7 0 6.2 .4-3.7 .4 1.4 .1 2.7 .3 6.2 .3-4.4 0 4.9 .3-10.1 .3-1.8 .1-4.9 .3 6.9 .2 9.8 .5 .8 .1-5.9 .2-5.1 .4 7.9 0-7.3 0 1.4 .3 5.9 .2-6.9 .6 2.8 .1-1 0 7.5 .1-8.3 .4-3.7 .1-1.5 .1 16.5 .5-10.6 .3 8.6 0-8.5 0 4.3 .2 2 0-7 .2-.5 .1-2.2 .1-3.8 .3-1.2 .4 9.1 0-9 .1 0 .6 8.5 .1-.1 .2 3.3 .1-8.2 .2-1.2 0 10.6 .1-4.4 .6 2.4 .1-8.2 .4 6.1 .4 4.2 .2 .4 .4-2.5 .5 4.9 .1 2.8 .1-17.1 0 6.8 .1 5 .1-13.1 .4 8 .7 4.3 .6-11.9 .1 11.8 .1 4.7 .2-7.4 0-10.3 .1 6.5 .1 9.2 .5-15.8 .1 7.7 .3-3.7 .4 .7 .1 5.6 .1-.5 .1 7 .1-9.2 .3 4.1 .1 2.3 .6-5.7 .3 9.2 .1-10.9 0 8.3 .2-12.9 .2 13.6 .3 1.5 .8-1.5 .2-8.8 0 8.7 .1-3.8 .2 2.5 .4-8.1 .3 10.3 .3-17.8 1.1 17.4 .1-10.8 .1 10.7 .3-7.3 .9 5.5 0-6.7 .5 12.9 .1-4.5 .4-16.2 .1 13.5 .1-8.7 0-.6 0 4.3 .2 4.1" fill="none" stroke="none" marker-start="url(#hY)" marker-mid="url(#hY)" marker-end="url(#hY)"/>
<path d="M295.2 718.3v8.5M252.3 744.6v7.7M394.1 699.9v7.8M427.1 702.3v6.6M545.9 696.1v-5.9M463.7 709.6v-8.6M501.2 702.6v-11.2M307.3 714.5v-9.7M282.4 725.1v6.1M302.9 718.0v10.2M308.1 705.8v6.5M397.5 710.7v-8.2M513.7 697.4v-8.4M503.5 705.3v-6.6" stroke="#3a3838" stroke-width="0.9" fill="none"/>
<path d="M234.6 789.3l.1 1.4 .2-4.6 .2 2.9 .1-1.1 .1-3.5 .3-1 .2-4.7 .2-12.8 .1 9 .5-2.2 0-10.2 .1 9.2 0-6.9 0 4 .2-6.1 .2-3.1 .4 2.7 .6-11.6 .4 9.9 .3-4.8 0 1.3 0-7.1 0-5 .1 1.5 .1 10 .3-2.6 0 2.9 .1-5 .6 .8 .3 1.4 .5-9.3 .3-3.3 .1 19.6 .2-.4 .1-11.3 .1 1.7 0 .1 0 3 .1-10.9 .1 3.7 .3 3.1 0-6.4 0 7.3 .3 7.6 .2-8.7 .2-1.2 .3 1.4 0 2.6 .1 .2 .1-14.2 .1 12.4 .1-13.4 .2 1.9 0 3 .1 7 0-9 0 10.7 .3-9.8 0 6.7 .4-7.4 .1 4.7 .1-4.9 .1 1.7 0 10.3 .1-9.9 .1-1.6 .1 3.2 .3 7.1 .2-6 .1-1.6 .2 3.3 .2-13.6 .1 10.7 0-8.2 .1 9.3 .1-9.5 .1 10.6 .2 3.9 0-7.1 .3-.1 0-5.1 .1 9.4 0 1.4 .3-15.1 0 10 0-9.1 .5 1.3 0 2 .1-2.8 .4-3.8 .1 1.2 0 2.2 0 5.7 .2 2.3 .1 .1 .7-4.1 0 2.6 0-11.4 .2 10.3 .2-4.9 .4 .3 .2 8.4 .3-10.7 0-1.1 .2 2 .7 6.3 0-4.7 .1-2.1 .2 7.9 .2-16 .1 19.1 .3-4.5 .1-4.3 .1-3.6 .1 9.5 .1-8 .2-9.1 .2 15.3 .1 .7 0-12.5 .4 16.5 .3-19.1 0 6.5 .2 5.4 .4-5.6 .1-1.4 0 .4 .1-5.7 .3 8.2 .4 .3 .7-11.1 .4 10.3 .2-1.4 .1-8.6 .1 6.2 .1-6.7 0 6.7 .2 4 .1-9.8 0 9.6 .1 .7 .5-4.2 .6 5.2 .1-6 0-2.5 0 3.1 .2 1.6 .1 2.4 0 5.5 .3-15.6 .4 16.2 0-4.1 0-13.2 .1 19 0-5.5 .4-17.2 .1 10.1 .2 7.8 .3-1.6 .1 3.7 0-10.3 .1-10.1 .1 6.7 .2 1.3 .1 7.3 .1-5 .1 5.9 .1-6.9 0 1 .1 5.6 0 .1 .2-13.2 .1 6.4 .6 1.8 .2 6.3 0 .9 .1-8.9 0-.5 .2-6.9 .2 13.3 0-5.7 0 .1 .1-10.2 .2 10.3 1.1 1.1 .9 4.4 .2-15 .2 15.2 .2-3.1 .4-.6 .1-5.4 .1 11.2 .1-10.9 .2 6.5 .5-11.4 0 .3 .5 5.9 0 8.7 .1-14.1 0 .9 .1-.2 .3-1.2 .1 11.5 .2-2.6 .1-4.6 .5 9 0-11.5 .2 9.5 .1-4.8 .3 5 .1-11.7 .2 2.3 .4 .8 0 .3 .1 1.8 .2 2.5 0-3.5 .1-2.2 0 7.5 0-1 .1-4.5 .5 0 0-1 .1 4.5 .5 6.2 .2-2.7 0-18.7 .6 11.1 .3-4.9 .1 11.7 0-2.2 .1 3.4 .2-4.8 .1-6.6 0 2 .3-2.4 .3 4.5 .1-1.5 .4-9.4 .1 3.4 .4 4.6 .2 2 .2-7.4 .2 6.5 .1 4.8 .2 .6 .1-2.2 .1 3 .2-7 .2-3.8 .2 9.6 .1-7.4 .4-7.3 0 15.1 .1-3.9 .2-2.9 0 7 .1-.1 .1-7.7 .3 4.5 0 0 .3-8.2 0 6.9 0 1.7 .1-1 .1-6.9 .4 3.3 .2-4.5 .4 16.7 0-2 0-16.3 .1 12.9 0-3.8 .2 1.6 0-4.5 .4 .9 0-1.6 0-2 .1 3 .5 7.8 0-7.6 0 3.1 .3-3 0 2.7 .3-5.9 .1 7.6 .2-7.5 0 10.8 .1-9.4 0 1.9 .1-3.4 .2 2.6 .2-4.2 .2 4.7 .1-1.8 .2-1.5 .2 8.9 0-12.2 .4 1.7 0 1.1 .6 8.1 0 .2 0-1.7 .1-5.3 .2 3 .2 .1 .2-7.5 .6 1.9 .2 3.2 .2-4.5 0-3.5 .3 11.3 0-.3 .3-8.3 .2 10 .1-6.6 .4 6.9 .1-8.7 .2 4 .1 6 .1-6.8 .1 2 .1 .7 0 2.7 .2-7.8 .1-5 0 1.2 .1 21.2 0-19.3 0-.3 0 18.9 .2-21.5 0 5.9 .2 1.7 .4-.1 .3-5.7 .4 2.1 .3 4.4 .1-6.7 0 1.5 .2 6.3 0-14.3 0 14.5 .1-9.1 .1-2.3 0 6.8 0 2.1 0-5.8 .2 6.5 0-3.9 0-1 0-6.8 .2 7 .1 .7 .2-5.8 .3 15.8 .1-.3 .4-8.1 .2 .1 0-.1 .1-3.7 .1-.8 .4 4.7 0-5.4 .5-3.6 .2 13.2 .1-12.7 0 14.7 .1-7.4 .1 .8 .3-3.3 .1 1.1 .2 3.6 0 .6 .1 8.2 .1-8.1 .1-3.3 .1 3.2 .2 3.6 .1-11.4 0 14.7 .1-6.1 0-.4 .2-9.9 .5 15.3 0-9.1 .1 1.8 .1-6.5 .1 5 0 6.4 .4 .9 .1 0 .1-3.2 .4 1.9 .3-.9 0-3.8 0 6.5 .4-7.6 0-5.1 .1 6.9 .1-7 0 2.1 .8 4.1 0 5 .1-1.2 .2 7.6 .1-1.1 .1-14.7 .1 1.1 0-2.3 .1 10.5 .2-3.1 0-7.9 .1-2.5 .3-.7 0 2.5 .2 2.1 .1-.2 .2-1 .2 2.2 .4 6.2 0-8.1 0 5.8 .1 2.8 .3-4.9 .4 1.5 0-3.2 0 5.1 .1-7.2 .1 9.7 .1-10.5 .7 13.4 .8-16.9 .2 7.1 0 8.4 .1-13.8 .6 12.5 .1-13 .1 4.2 0-1.2 .2 8.8 .3 5.5 .7-8.2 .2-14.4 .1 19.3 0-7.2 .3 3.4 0 9.3 .2-16.7 .3-4.7 0 12 .1 .8 .1-.7 0 5.2 0-8.6 .1-3.6 .4 2.8 .1 8 0-2.1 .1-10.1 .1 13.9 0-5.5 .1-9.5 0 12.3 0-8 .2-2.8 0 5.8 .1-2.7 .2 5.2 .1 1.1 .2-12.6 .5 13.6 0-7.3 .4-7.8 .1 5.6 .1-2 .1 10.2 .2-4.3 .2-2.4 0-4.6 .2 4.5 .2-1 .1 3.8 .2-2.8 0-3.6 .1 11.7 .3-5.5 .1 10 .1-11.6 .1 2.8 .1 4.2 .1-8.7 0 11.2 0-6.6 .1-5 .2 6.3 .4-.1 .1-9.1 .2 1.2 .4 7.8 .1-7.6 .3 6.8 0-6.9 .4 1.9 .2 5.3 .1 2.1 .4-2.2 0-5.7 .2 5.9 .2 7.3 .3-7.3 .2-1 .2-2.9 0-3.2 .2 5.2 .1-9.8 .2 7.4 .5 2.3 .3-6.2 .1 7.1 .1-8.7 0 7.4 .1 5.6 .2-9 0 3.5 .2-4.7 1 12.9 0-3.4 .3-11.8 .2 7.4 .1 5.5 .5-.4 .3-9.4 .1-3.5 .1 5.8 .1-13.5 .5 4.9 .2 10.7 0 .6 0 6.6 .2-13.2 .1 8.4 .4-6.1 .3-3.4 .1 1.2 .1 5.4 0 5.6 .1-.2 0-5.1 .1-4.2 0 1.5 0-2.1 .6-1.2 .1-4.1 .1 6.5 0-5 .6 14.6 .5-2.6 .1 1 .1-10 0 5.7 .2 8.2 .1-9.5 .5-6.5 .1 .2 .1 8 .5-.7 .1-1.9 .1-2.2 .2 7.3 0 4.8 .3-17.8 0 3.3 .2-.8 .3 9.8 .1-5.9 .7 8.6 .3-3.6 .1-.7 0-8.2 .1-1.9 .1 10.4 .1 1.8 .1 3.3 .2-4.2 0 .9 .2-5.4 0-7.1 0 9.8 .1-6.4 .1-2.6 .1 6.8 .1 12 0-8.3 .4-10.5 0 7 .3-6 .4 5.6 .1 2.9 0 5.8 .1-13.8 0 2.1 .1-2.3 .1-2.2 .3 10.4 .1-1.7 0 2.8 .2 .9 .1 4.6 .5-10.3 .2 6 .2-7.4 .2 5.5 .1 1.5 .5-3.5 .2-5.2 .3-2.6 .4 11.3 .4-2 .3-8.9 0 6.6 0-7.6 .2 2.8 .1-1.4 0 12.9 .5-13.3 .2 4.3 0 6.7 .1-2.6 .3-8.9 .1 3.1 .2 8.8 .5-10.8 .3 .6 .1 9 0-10.5 0 4.6 .2 8.5 0-15.4 .2 1.4 0 2.6 .1 2.4 0 4.9 0 .2 .3-.9 .1-8.4 .1 6.1 .2-6.9 0-2.5 .2 1.1 0 14 .4-12.3 0 4.9 .3-3.5 .3-2.8 .1 16.1 0-10 .5-1.6 .4 8.2 .1-4.1 .1-3 .2-.7 .1-3.4 .1 9.1 .3 3.8 .3-21.1 .1 10.9 .2-4.5 .2 11.6 .2-4 .1 7.6 .2 5.7 .1-13.4 .3-.1 0 11.4 .7-9.4 .1-6.2 .1 12.5 .6-15.1 0-1.2 .1-3.4 .2 12.9 .1-15.1 0 19.9 .1 .5 .2-12.1 .1 9 0-7.9 .1 11.9 .2-3.7 .1-9.9 .3 3.8 0 6.5 .3-10.8 .2-2.3 .2 12.3 0-5.7 .1 3.9 .5-14.9 .2 13.7 0 3.2 .1-11 0 1.9 .4 13.6 .1-5.4 0 2 .2 .5 .2-7 .2 .7 .1-4.2 .5 2.3 0 2.1 .3-3.4 .1-1.1 .5 14.7 .2-10.8 .1 4.5 .5-1.9 .3-3.6 0 7 .1-9.6 .7 2.5 .4 5.5 .2-5.5 .3 1.7 0 .8 .1 3 .1 .9 .1-.2 .3-6.1 0 7.9 0-.8 0-8 .4 .3 .2 2.2 .2-.2 .1-1.2 .2 9 0-10.8 0-.7 .3-2.9 .1 10.6 0-4.6 0-5.5 .2 7.5 .2-10.8 .2 7.3 .1 6.7 0-14 .1 4.7 0 14.2 .1-10.9 .1 2.4 .1 2.7 .1-12.5 0 7.2 .4 9.3 .1-2.7 0-3.9 .2 2.2 .1-6.9 .1-8.8 .2 3.2 .2 14.7 0-7.4 .2 7.4 .1-14.8 .1 14.6 .1-4 0 2.1 .3 3.6 .4-6.5 0 3 .5-.1 .7-15 0 3.4 .1 11.6 0-1.1 .2-9.4 0 6.8 0 5.6 .1-7.3 0-3 .1 9.8 .2-7.1 .1-8 .1 16.8 .1-5 .2-9.4 0 9.3 .1-5.1 .5 5.9 .3 4.7 .2-3.8 .4-7.8 0 .5 .3 1.6 .2 5.5 .3 3 0 .8 .1-13.4 .2 10.2 .2-14.6 .5 3.6 0 .1 .1 6.8 .2-1.5 .1 4.6 .1-7.1 .1-1 0-6 .1 7.4 .2 5.2 .1-6.1 0 4.8 .1 .4 .1 .6 .2-4 0 6.3 .1 5.5 .6-18.3 .1 7.8 .2 7.3 0-8.5 .1-2.9 .1 2 0 .3 .1 7.6 .5-1.3 .3 1.9 .8-8.4 .3 9.5 0-5.5 0-5.8 0 1.8 0 11.8 .1-13.6 .1 7.5 .1-9.5 .3 10.6 .1-1.8 .5 9.1 .1-11 .1-11.7 0 14.6 .1 8.9 0-15.9 .1-1.2 0 4.7 0 3.7 .1-10.9 .1 7.8 0 2.2 .1-9.2 .5 11.1 .1-2.7 .1 .6 .1-10.8 .2 14.3 .3 3.1 0-15.4 .2 9.9 .3-4.4 .1-12.5 .2 16.8 .1 2.5 0-7.5 .1-6.2 .2 16.3 .3-8.6 0-4.8 .1-.1 .1 12 .3-1.8 0 1.2 .2-.9 0-3.1 .3 2.3 .2-10.7 .1 1.8 .2-.4 .2 9.5 .5 2.7 0-11.8 .2-3.9 .1 2.5 .1 11.5 .2-5.6 .2-3.4 .1 7.2 0-7.9 .2-5.1 0 8.8 .5 1 .2 3.1 0-3.1 .3 2.8 .1-10.3 .1 10.9 0-11.3 .1 2.5 .1-2.9 .1 3.9 .1-.4 .3 2.5 .2 3.5 .1 .6 .2 4.1 .2-4.1 .1-4.5 .2-9.4 .3 1.7 0 3.3 .1 8.1 .1-1.8 .1 1.8 .1 1.6 .1-10.1 .4 1.5 .2 14 .1-18.1 .2 11.1 .1-8.2 .1-2.4 0 11.4 0-2.1 .2 5.5 .3-11.6 .2 9.9 .2-5.9 .2-5.3 .1 4.9 0-6.1 .3 11.2 .1-3.9 .1 .7 .5-1.3 .4-8.2 0 5 .5 2.4 0-7.6 0 9.1 .1 6.5 .2-4 .5-.5 0-1.6 .7-1.6 .2-4.1 .1-1 .1 17.8 .1-13.2 .2-.4 .1-1 .1 .1 .1 6.5 0-5 0 1.1 .3 1.7 0-2.2 0-.5 0 2.3 .3 1.6 .4-11.3 0 10.3 .1 1.3 .2 1.4 .3-.4 0-12 .2 12 0-2.7 .5-2.1 .1-2.6 .2 1.4 .5 .9 .3-8.1 .1 9.1 0-1.1 .2 3.2 .5-5.6 0 5.4 .1-10.1 .1 .1 .2 2.4 .1 0 .6 2.8 .1-5.7 .2 20.9 .1-18 0-.9 .2 2.2 0-1.5 .2 5.9 .1-7.1 .2 7.9 .2-.7 .1-7 .6 12.1 0-8.4 .3-4.8 0 8.8 .1 1.8 0-6 0-1.2 .2 10 .1-1.9 .1-5 .1 7.6 0-7.8 .1-1.1 .5 2.8 0 5.7 0-17.4 .1 1.9 .3 2.6 .1 2.7 .1 5.1 .1-4.8 .2 3.7 .4-2.7 0 .3 .2-1.6 .1 8.6 .4 2 .1-13.8 0-2.3 .3 .3 .4 9.1 .1 1.1 .3-7.5 .1 15.9 .2-12.6 .1 2.9 0 2.7 .4-4.5 0-4.6 .1 6.4 .1-9.3 0 6.9 .2 .4 .2-6 .5 11.6 .4-8 .1 9.8 .1-5.3 .1 .6 0-2.2 .1 4.8 0-9.9 .1 .8 .2 14.2 .3-14 0 .4 .5 8.4 0 .1 .4 8.5 .2-11.6 .2 4.6 .4 .1 .1-12.1 .2-1.3 .1 1 0 9.3 .1-7.3 .7 10.8 .1-10.5 .1 .3 .2 .3 .3 8 .1-1 0-.6 .1-10.6 .1 8.3 .1-4 .4-.9 .3 10.9 .3-5.7 .1 2.8 .3-7.4 0-.8 .3-4.6 .1 16 0-2.9 0-4.7 .1-5 0 2 .1 6.2 .1-6 .6 9.9 .2-11.5 .4 .6 .1 6.8 .2-11.1 .1 2.3 .1 9.8 0-14.2 .3 11.7 0-11 .1 13.4 0-4.8 .1-5 .1 5.5 0-.3 .2-3.5 .1-8.5 .1 15.3 .1-6.8 .2-5.8 .1 10.8 .3 2.1 .1 3.6 .1-.3 .1-7.8 .6-2.4 .1 5.9 .1-12.8 0 12.9 0 2.2 .2-7.3 0 0 .1 4.8 0-12.7 .2 13.2 .2 5.6 .2-14.1 .1 13.3 .4-10.9 0 6.2 0-7.5 .1 10.4 .2-1.3 .1-18.4 .2 11.5 0 8.6 .1-8.2 .1-3.9 0 9.7 .3-10.9 0 3.9 .1 8.5 0 3.5 .2-6.3 .3-6.8 .2 10.8 .2-9.4 0 7.3 .2-11.9 .1 4.1 .1 10.8 .2-8.2 .1-3.7 .1 3.5 .2-4.3 0 3.6 .3 10.5 .1-2.4 0-9.3 .1 7.1 .4-7.5 0 6.2 .2-5.9 0 8.6 .2-1.5 .1 .4 0-13.3 .2 8.7 .1-10 .2 10 .1-3.9 .1 8.2 .3-9.4 .3 3.8 0-3.5 .1 2.5 .4-3.4 .2 2.5 .5 .6 .2 8.7 .5-12.1 .1 1.4 .1 6.8 .3-5.2 .1 4.2 .2-13.2 .1 .2 .1 13.7 .1-4.9 .4 1.1 .3-4.8 .2 10.7 0-6.7 .1-8.3 .2 8.5 .1 7.8 0-2.6 .2-.5 0-9 .1 10 .1-5.8 .3 3.8 .2 .7 .1-1.6 .1-5.2 .2 2.4 0 .7 0-9 .1 13.9 .1-5 0-3.6 .3 12.3 .2-5 .1-5.2 0 4.9 .1-.8 .1-11 0 7.3 .1-5.2 .1 8.9 .2-2 .3-.2 0 .2 .1 2.8 .1-7.2 0-7.3 .4 8.4 .1-1.6 .2 9.8 .1-10.4 .3 1.8 .3-7.1 .2 7.4 .2 4.1 .3-2.4 .3 8.7 .4-5.6 .2-11.7 .4 6.6 0 7.2 .2 3.7 .2-8.8 0-.1 .2-4.6 .1-.8 .2 5.1 .1 1.1 0 .1 .1 5.4 .3-15.8 .1 7.4 .1-6.1 .5 4.6 .2 2.4 0-2.9 .2 5.9 .3-9.4 .4-.6 .6 10.9 .1-16.6 .1 20.5 0-12.3 .1 13.1 .3-4 .1-9.6 0 12.9 0-5.6 0-1.8 .3 5.5 .1-11 .1 4.9 .3-3.8 0 5 .3-8 .2 13.2 0 1.9 .1-4.1 0-4.3 .2 2.9 .1-2.9 0-2 .1 4.8 0-7.4 .2 6.2 0 3.1 .1-5.2 0 6 .2 3.2 .1-7.1 0-4.4 0 2.6 .1-2.7 .5 9.5 0 .9 0-16.4 0 2.7 .1-1.4 .1 15.1 .1-13.1 .3 3.7 .4-11 .2 17.4 0-7.8 .2 1 .2-1.2 0-.1 .3 5.9 .2 12 .2-20.2 0 3.8 .1-.5 .2-4.5 .2 3 .1 6.2 .3-6.7 .2 8.4 0-4.8 .3 10.2 .1-11.7 .1 9 .1-12.2 .1 15.1 .1-10.1 .4 4.9 .3-1 .2-1.6 .2-6.2 .1 9.3 .2 2.3 .2-12.6 0 8.9 .1-5 .2-7.6 .2 .1 .1 15.4 0 2.3 .1-11.8 .4 9.1 .3-5.3 .2-.9 .3-5.3 .2 4.5 0 1.5 .2-9.5 .2 19.5 .2-6.3 0-7.2 .1 8.9 .3-7.5 .1 3.7 .3-7.9 .1 4.8 .1 11.5 0-2 .2-12.8 0 4.4 .2 8.7 .3-9.7 0 3.3 .4-4.1 0 3.8 .7-8.1 0 13.3 .3-8.5 .4-4.5 0 4.6 0 3.1 0-3.6 .3 13.5 0-2.9 .4 .4 0-3.7 .1 3.8 .3-11.7 .1 4.3 .1 8.3 0-5.3 .1-4.3 .6-8.3 .2 5.2 .2-2.1 0 8.3 .1 3.2 .1-10.5 .8-3.9 .2 17.1 .3 1.7 .3-4 0 .6 .2 4.2 0-21 .3 4.6 0 7 .2 1.6 .4-6 .1 .2 0-2.5 .3-1.1 .1 12.2 0 .7 .1-14.5 .2 4.7 .1 5.9 .1-4.9 .1 1.1 .1 .1 .1-9.5 .5 13.9 .6-6.1 .2-.6 .2-2.9 .1 2.2 .1 14.3 0-20.6 .1 8.1 0-3.1 .1-.7 0-.5 .1-2.7 .1 11.6 .1 3 0-7.1 .1-3.3 0 9.9 .1-9 .2 7.1 0-4.2 0-.7 .3 .2 .3 .8 .3 6.7 .1-6.7 .2 8.9 .5-12.5 .1-2.2 .1 2.4 0-2.5 .2 7 .2 2.9 .2 1.6 .3-8.9 0 6.7 .1-7.6 .2 7.8 0-6.2 .4 2.1 .2-9.3 .1 11.4 0-6.2 0 8.6 0-2.5 .4 2.5 .5-4.2 .3-3.5 .4 1.1 .1-3 .1 5.8 0 2.4 .2-1.2 .2-8.7 .1 2.6 .1 4.4 .1 6.5 .2-9.7 .1 1.7 0 7 .1 4.7 0-16 .2 11.8 .1 3 .1-2.8 .7-1 .5-11.7 0 6 .1-1.4 .2 7.8 .1-.2 0-10.7 .6 4.2 .1 1.3 .2-11.3 .2 4.1 0 12.4 .2-7.3 .1 5.7 .2-14.9 .2 4.1 .1 7.3 .1 2 .1-11 .1 16.8 .1-7.5 .1-7.7 .2 3 .1 10.9 .4-13.3 .8-3.8 .1 5.8 .2-2.6 .1 5.7 0-2.6 .1 8.3 0-7.8 .3 4.8 0-9 0-3.8 .1 16.2 0-7.2 0 5.6 0-9 .1 8.9 .1-11.5 .1 10.4 .2 2.2 .2 2.3 .4-10.7 .1 3.3 .3 8.8 .4-8.5 .1 8.9 .1-.7 .1-12.1 0 7.5 .2-3.7 .2 3.8 .3-5.1 .3 9.3 .3-19.6 0-1.2 .4 15.5 .1-5.4 .1 6.8 .2 4.4 .2-13.1 0 6.1 0 5.1 .1-5.8 0 1.9 .2-4 0 .2 .5 4.7 .1-5.3 0 8.3 .1-1.4 0-4.5 .6-1.3 0-1.4 .3 2.4 .1-7.4 .1 16.5 0-11.7 .2 5.6 .5-6 .1 6.8 0 4.7 .1-6.7 .1 2.5 .2 .7 0-12.9 .2 5 .8-.6 .1 7.6 .1-15.2 .1 3.3 .3 15.5 .1-8.7 0-6 .3 1.3 .1-5.6 0 13.3 .3-2.2 .2 6.7 .1-9.3 .1 6.3 .4-7.7 .4-.8 .1 2.6 .1 9.1 .1-15.9 0 10.1 .5 2.5 .2-8.4 0-1 .4-.8 0-2.8 .1 21.1 .1-9.9 .2 2.3 0-1.1 .3-.3 .1-1.3 .1-5.2 0 3.6 0 2.6 .6-5.4 .4-3.2 .1 12.2 .1-7.5 .5 3.8 .4-3.7 0-.7 .1-1 .8 2.1 .1 4.8 .3-3.4 .1-1 .1-5.2 .7 11.9 .3-7.1 0-1.4 0 5.4 .1 3 0-.3 .1-.1 0-9.2 0 7.6 .2-.6 .3 4.1 .1-7.2 0-.7 .1-5.7 0 6.8 .2-1.2 0 2.7 .3 5.2 0-3.7 .1-14.8 0 2.8 .4 5.6 0 13.6 .2-12.8 0 8.1 .1-7.6 0 5.4 .4-4.1 0-6.9 .4 7 .1 3.7 .1 .7 .4 2.6 .5-5.8 .3-2.4 0 2.6 .1-11 0 11 .1 4.7 0-9.8 .1 3.7 .2-4.5 .1 5.4 .2 1.9 0-11 .3 13.3 .1-.7 0-17.4 .2 6.8 .7-.4 .4 9.1 .3-2.2 0-5.4 .1 6.6 .1 1.2 .1 8.8 .1-13 .1-1 .2 2 0-.7 .1 1.4 0-11.4 0 4.2 .4 6.7 0-.4 .2-4.2 0-2 .6 10.7 0 1.4 0-10.9 0 2.8 .1-3.3 .1 8.6 .1-6.4 .1 1.6 0-4.7 .1-.3 .3 7.1 .2-7.2 .3 2.5 .1 2.4 .2 5.9 .1-7 .1-1.8 0 3 .1 8.1 .1-12.2 0-2.3 .2 16.7 .1-12.2 0 9.9 .2-7.3 .4-7.9 0-2.7 0 10.3 .1-11 .1 12.1 .1 9.6 0-14.4 .2 13.7 0-14.6 .3 2.9 0 1.5 0 1.8 .1-6.6 0 9.5 .1 6.2 .3-11.7 0 .8 .1 4.2 0-2.2 0 1 .1 6.5 .2-4.7 0-8.1 .4-.4 0 5.7 .2 6.2 .1-6.8 0-9 .2 8.7 .2-5.5 .1 2.8 0 4.3 .1-8.5 0 6.5 .4 6 .2-5.7 .2 2.9 .1-5 .1-2.9 .4 1.4 .1 2.8 .1-5.1 .1 1.8 0-3.5 .6 24.9 .1-13.2 .2-7 .1 6.1 0-6.6 .1-7 .1 14.9 .1 6.4 0-16 .3 6.2 0 1.8 .1 4.8 .1-2.1 .5-2.9 0-3.6 .1 1.1 .2-1.6 0 6.2 .1-10.7 .2 12 0-2.8 .1 3.4 .2-7.2 .2 6.9 0-5 .1 1.1 .7-10.8 .1 12.1 0-12 .1 8.5 0-5.2 .1 16.7 .1-7.5 .6 3.6 .4 .1 .2-7.2 .1-.1 .2-7.5 .1 .9 .1 6.6 0-1.2 .1 6.6 .3-5.4 0 6.8 .1-12.9 .1 2.8 .1 6.1 0-11.8 .5 7.3 .2 6.6 0-11.2 0 8.4 .4-13.1 0 14 0-5.6 .4 6.9 .5-6.6 0-4.8 .2 13.7 0-4.2 .1-2.1 .2 8.2 .2-5.9 0 .8 .3-.8 .3-4.8 .1 9.1 0-13.5 .1 21.7 .2-17.7 .2 3.7 .4 2 0 .9 .2-5.6 0 2.2 .2 3.5 .2-9.8 .3-2.4 .5 13.3 .1-11.8 0 6.6 .1 6.8 .1-10.1 .1 .9 0 2 .1-4.4 .3 10.8 .2-13.6 0 5.8 .4 5.8 0-11.2 .1 5 .1 8.8 .1-.7 .2-.4 .1 5.1 0-15.3 0 .6 .1 10.9 .3-7.8 .6-9.7 .1 9 0 6.9 .2-2.7 0-.4 .3-10.9 0 2.2 0-2.8 .1 2.5 .1 0 .4 13.7 .1-6.8 0 .1 .3-9.2 .2 19.8 0-7.3 0-9.8 .1 2.2 .1 7.9 .2 .9 .1-1.2 .1 1 .2-2.1 .1-7.8 .1-1.4 .2 2.8 .3 10.2 .3-11.3 .1 12.7 .1-1.1 .2 2.8 .1-14.5 .3 4.2 .1 6.1 0-5.6 .1 2.2 .2-3.8 .2-1.2 0-2.5 0 13.7 .1-3.8 .2-6.2 0-.9 0 5.4 .1-13.3 .4 8 0 4.6 .2-9.8 .3 5.9 0-3.1 .1-1.3 0-2.6 .1 13.7 0-7.3 0 11.3 .1-5.5 0-9 .1 7.4 0-9.2 .1 8.2 .6-3.6 .6 5.8 .5 2.9 .1-13 .5 4 .1 9.3 .2-11 .2 12.3 0-13.2 .1 7.8 .2-2.8 .3 2.1 0 .6 0 7.9 .1-7.7 0-8.2 0 4.4 0-4.3 .1 5.7 .2 2.7 .6-7.6 .1-6.1 0 5.9 .1 5.9 .2-5.5 .1 5.7 0-7.7 .2-6.8 0 10.9 .3-2.1 .1 7.3 .3-6.9 .3 10.1 .1-9 .3-1.8 .1-2.5 .1 16.4 .5-14.4 .5 6.5 .1-10.5 0 5.3 .4 9 .1 .6 .1 2 0-17.2 .2-.7 .1 5.7 .1-1.6 .2 10.7 .2-4.7 0 4 .4-5 0-2.4 .2 .3 .1 3.6 .1 8.2 .1-6 .1 3.1 .1-8.8 .1 10.1 .1 2.3 .7-3.5 .3-1 .1-3.3 .1 5.3 .2-7.7 .1 7.4 0-12.2 .3 3.3 .5 9.4 .2-1.7 .2-6.6 .3 8.2 0-6.4 .1-2.5 .1 3.8 .1 4.3 .4-4.3 .1-7.1 .5 7.5 0 .6 .4-2.1 .1 .5 .1-6.9 .1 9.3 .1 .9 .2-3.7 .2-2.5 .1 3.5 0-9.7 .4 7.9 .1-5.9 1.8 15.6 0-11.4 .1 1.9 0-1.5 .1-9.6 .1 10.7 .1-3.5 0 8.8 .2-1.4 .2-9.1 .1 7.7 .1 1.2 .2-6 .1-.4 0-.2 0 3.7 .1 5.9 .2-10.3 0-2.7 .3 6.6 .1-5 .1 1.9 .1-3.3 .2 10.7 .1-8.5 0-1.3 .1 3.6 .2 4.9 .1 2.5 .1-2.2 0-7.8 .1-.2 0 .6 0-3.2 .3 5.3 .3-4.8 .1 2.7 0-2.1 .1 9.3 .5-7.7 .2 12 .1-8.3 0 4 0-5.6 0-5.9 .1-1.4 .3 3.9 .5 6.8 .8-8.7 .1 11.5 .2 0 0-12.4 .1 3.4 .1-6.6 .8 13.8 .1-7 .2 9.5 0-.3 .2-2 0 5.4 0-15.3 .4 1.2 .2 4.7 .3 6 0 1.1 0-7.1 .3-7.2 .6 8.4 .3-3.4 0 .7 .2 5.1 .2-3.9 0 4.5 .1 8.4 0-2.3 .2-10.7 0-7.7 0 10.1 0-8.8 .1-2.4 0 20.6 0-17.1 .1 10.5 .1-5.9 .1-4.3 .1 11.6 .1-.8 .2-15.2 .1 14.9 0-8.4 .4 2.8 0 .6 0 2.2 .1-2.1 0-4.4 .2 12.5 .3 2.6 .2-14.3 0-6.2 .1 8.7 .1-.6 .1-6.9 0 11.3 .1-10.5 .1 2.8 0-7.5 .5 0 0 7.6 0 9 .1 2.5 0-14.2 .1 12.9 .3 3.9 0-2.2 .2-9.2 .1-3 .1 15.6 .5-3.3 .1-5.8 .2-.3 .2-1.2 0-4.7 .1-2.6 .1 11 .8-.6 0 .5 .2 1 .1-1.6 0-9.4 .1 2.4 .6 1.9 0 1.8 0-8.1 .2 2.4 0 7.7 0 2 .2-9.2 .3 2.8 0 3.9 .1-.6 .1 3.4 .1-16.4 .1 11.6 .1-1.8 .1 5.6 .1-5.4 0 3.5 .4-2.1 .2-6.7 .2 11.2 .2-8.1 .1-5.8 .4 13.4 0 4.6 .1-9.2 .4-.5 .1-.9 0 2.4 .1 1.9 .1-4.5 .1 7 0-9.7 .2 10.4 .4 .2 .2-12 0 5.2 .3 2.3 .2-9.2 0 16.8 .1-7 0 1.4 0-7.3 0 .8 .1-4.5 .2 13.5 0-.5 .1-1.6 .2-.3 .2 6.3 0-11.6 .3-9.4 .2 21 0-8.2 .3 2.5 .3-2.6 0 2 .5-.7 .1-5.7 .1-2.3 .5-.4 .3 4.2 .1-7.8 .5 4.5 .1 8.2 0 1.2 .6-3 0 4.1 .1-7.6 .1 7.2 .1 2.9 0 3.2 .2-17 .1 11.5 .2-4.4 .1-7.1 .1 6.9 0-5 .2 2.4 0 7.7 .2-1.8 .1-10.8 .1 12.2 0 .4 .1-.2 .5-9.3 .1 8.2 .1-7 .3 .1 .1 2.3 .2 5.7 .2-6.2 .1 11.2 .4-15.4 .1-2.1 .1-2.3 .7 13.4 .2-1.8 .2-4 0 1.6 .2-5.4 .3 9.8 .1-3.7 .2-7.2 .1 .8 .3 14.9 .1-7.9 .1-9.5 .1 11.5 .2-.2 .3-5.1 .1 1 .1 5 .2-10.9 0 8.4 .1-.7 0-3.9 0-1.8 0 4.1 .1-5.4 .1 7.2 .1-8.6 .4 5.2 0 5.9 .2-3.4 0 1.2 .3 .6 .2-5.9 .1-2.4 .2 10.5 .1-7.4 0 3.8 .3 5.2 .3-8.3 0 12 0-12.3 .2-1.7 0 0 .1-6.3 0 5.9 .1 4.6 .1 8.2 0-11.2 .4 12.7 .4-4.9 .3-.5 .2-5.9 .3 2.8 .1 .8 .2 4.5 .1-13.7 0 10.4 .2 7.2 .1-6.6 .2-8 .1 10.2 0-16.9 .2 15.9 .2-11.3 .1 7.2 0-7.4 .2 9.7 .2 .5 .3-6 .1 5.4 .1-6.9 .2 1.8 .1 5.7 0-12 .2 .7 .1 6.6 .2-.7 .1 8.1 .5-14.8 .2 12.4 .6-5.5 .2-2.7 0 6.3" fill="none" stroke="none" marker-start="url(#hG)" marker-mid="url(#hG)" marker-end="url(#hG)"/>
<path d="M458.5 639.1v10.9M528.6 637.4v6.3M318.6 667.8v5.3M291.8 681.0v11.5M448.6 647.6v10.5M334.6 657.1v6.5M339.7 664.8v12.1M384.1 658.5v-10.7M255.9 695.1v11.6M453.6 650.1v8.3M581.2 633.4v8.2M453.8 648.1v-8.6M559.8 641.0v-10.8M501.3 635.2v9.3" stroke="#3a3838" stroke-width="0.9" fill="none"/>
<path d="M234.7 789.7l1.1-28.4 .1 .2 .1 4.2 0-2.7 .2-7.6 0 1.1 0-.4 .1 4.7 .1-13.8 .2 6.2 0-.6 .6-6.2 .1-6 .6-4.6 .3 .5 .1-6.4 .3 6.2 .3-8.4 0-.4 .3-.4 .4-6.1 0 12.8 .2-11.9 .2 .2 .2 6.3 .4-17.7 .2 8.3 .1 3.4 0-15 .1 4.1 .5 9.9 .1 1.5 .1 1.2 .5-4.4 .6-17 .2 17.4 0 1 .2-2.9 0-9.7 .1 2.3 .2 4.3 .6 1.6 .4-8.6 0-10.1 .1 13.4 .1 1.2 .1-7.1 .2-2.3 .1 4 .1 4.8 .1-9.7 .2 7 .2 4.6 .2-9 .1 5.9 .4-1.4 0-4.7 .1-1.7 .1 1.8 .4-2.6 .2-.5 0-2 .6 5.5 .1-2.4 .1 7.1 .2-5.9 .1 3.4 .6-16.6 1-4.4 .7 20.5 .2-7.8 .5-5.7 0 1 0-3.6 .1-1.3 .1 9.6 .1-10.1 .1 15.4 .1-18.4 0 2.8 0 .1 .6 4.4 .3-6.8 .1 14.7 .7-11.9 0 7.6 0-3.4 .2-3.7 .7 13.5 .2-14 .1 2.3 0 4.9 .3-4.4 .1 5.4 .2-.6 .1-13.1 0 13 .1 1.9 .2-11.3 .2 7.9 .1-4.9 .1 2.7 .2-2.9 .1-1.8 .2 4.9 .7 1.5 0-7.6 .2 11.2 .4-5.7 .1 .4 .3-.1 0-4.2 .2-7.9 .3 2.8 0 2.2 0 1.8 .2-3.2 0-7.3 .2 24.8 .1-16.6 .4-4.2 .1-1.8 .1 7.8 .2 6.6 .1-.9 .4 1.2 0-11.1 .2 4.7 .2-8.7 0 10.5 .4-3.2 .2 1.4 0 2.2 .2 5.2 .4-12.9 .5 1 .1 .4 0 1.4 0-5 0 14.8 0-5.7 .2 6.6 0-3.9 0-11.5 .8 13.1 .2-5.5 .4-14.7 .1 17.3 .3-1.4 0 5.9 0-10.9 .3-9.6 .3 3.2 0 1.4 .3-.9 .1 1.3 .2 .5 0-4.8 .2 3.1 0-4.7 0 8.9 .2 2.3 0 1.8 .2-1.8 .6-5.4 .1 7.2 .3 .5 0 8.3 .1-7.3 .4-7.9 .1 10.7 .2 .4 .2-.8 .2-12 0 1.5 .2 .5 .6-7.4 .3 11 .1-2.6 .3-.4 .1-3.9 0 7.2 .4-1.8 0-5.5 .3 .7 .1 .7 .3 7.5 .1 6 .1-9.8 .2-6.7 0-.7 0 5.4 .4 .6 .1-14.5 .4 31.7 .2-13.9 .4-3.8 0 7.4 0-20.4 .1 1.9 .2 1 .3 7 0 .7 .1 6.8 .1-2.1 .3 .2 0-9.6 .5 7.6 0 7.9 0-9.1 .1-5.4 .3 .3 .2 1.5 .2-.1 .2 7.8 .2-12.8 .1 4.9 0-3.1 .1 1.8 .4 12.4 0-3.7 .2 2.7 0 8.7 .1-15.7 .2 5.7 .7-20.5 1.2 9.7 0-3.4 .3-2.4 .7 6.3 .2 6.9 .2-15 0 .6 .1 16.6 .1-6 .2-16.3 .6 22 .2-9.3 0 10.5 .6 5.6 .3-19.6 0 1.2 .7 11.4 .2-8.5 .1 2.3 .2-4.5 .1 2.4 .4 5.2 .3-9.2 .1 5 .1 3.8 0-6.9 .3 6.9 .3-6.1 .3 2.8 0-16.5 .2 11.1 .1-1.2 .1 8.2 .2-6.5 .1 6.7 .2-9 .7 6.9 .2 8.7 0-7.7 0 4.3 .3 5.8 .1-18.5 0 16.2 .3-10.3 .6 8.4 .1-6.7 .1-1.2 .2-3.8 .1 3.6 0 11.9 .1-14.8 .5-.9 .2 .9 .1-.2 .3 .9 .1 3.8 0 5.2 .2-8.5 .7-7 .2 6.9 0 4.8 0 3.6 .2-5.4 .1-2 0 1.7 .2-.6 .1-3.2 0 6.1 0-1.3 .5-9.2 .1 10.1 .1-5.8 .1 12.8 .2-11.5 .1 3.9 .4-13.5 .1 12.1 .1-4 .2-8.7 .5 10.5 .1-8.1 .3 2.3 .5-2.5 0 6.2 .1-4.4 0 13 .1-6.9 0 7.2 .3 1.5 0-17.7 .1 3.4 .3 1.1 .1 7.8 .2-13 0-4.6 .1 11.9 .1-6.6 .5 16.8 .2-12.6 0-1.3 0-5.1 .2 5.1 0 4 .4-1.4 0-7.9 .1 3 .1-4.8 .1-3.1 .2 7.3 0 .7 .1 5.6 .1 2.3 0 2.2 .3-9 .2 7.4 .1-10.6 .2-1 .5-2.9 .1 1.7 0 .4 .3 8.7 .3 1.1 0 7 .3 1.8 .1-11.9 0 3.4 .3 4 .1-8.9 0 7 .3-8.2 .3 14.6 .1-15.3 .1-4.3 .2 12.8 .3 1.2 .2-7.5 .1 3 .2 5.1 .3-14.2 0 17 .2-6.9 0-.7 .2 1.2 .2 .2 .2-4.9 .3 4.7 .5-9.8 0 11.2 .2 5.3 .4-12.7 .1 8.7 0-1.1 .1-6.6 .2-4 .2 11.6 .8 9.2 .2-11.8 .1-12.8 0 21.7 0-14.2 0-5.6 0 9.5 .2-15.3 .1 10 .3-.7 .1 7 .4-.2 0-9.2 .1 6 0 1.7 .4-2.8 .1 2.1 .1 11.7 .1-25.5 .3 11 .1-.4 .1 17.7 .1-8.7 .1 5.9 .2-14 0-1.1 0-5.1 .1 13.5 .2-1.6 0 .7 .1-6.4 .1-1.5 0 2.2 .1-4.9 .2 12.3 .1-.6 .1-16.8 .2 14.9 .1-6.1 .2 2.1 .3-2 .3 4.4 .4 3.3 .2-10.8 .8 13.1 .1-1.7 .1-5.7 .3-6.9 0 16.4 .1-23.1 .3-.7 .2 10.3 .1 4.4 .2 8.9 0-12.8 .1-5.3 .6 9.6 .2 7.3 .3-17.4 .2 12.8 0-7.6 .3 8.1 0-8.7 .3 .2 .1 3.9 0-15.3 0 19.1 .1-9.4 .1 1.6 .2 11.1 .2-.6 .3-5.6 .1-4.6 0 5.9 .1-4 .1-1.2 .2 .6 0 4.4 0-2.1 .5 6.5 0-11.2 .2 7.5 .4-8.6 .1 9.9 .1 4.3 0-16.4 0 12.1 .5-.8 .4-12.2 .1 6.2 .3 1.7 0-7.4 .3 5.3 .1 7.3 0 4.2 .1-20.2 .1 7.9 .1 2.8 .4 12 .1-18.9 .4 7.6 .1-1.1 .1 .5 .3-6 .1 9.7 0-11.9 0 5 .3 8.7 .6-8.4 .1-4 0-3 .2 7.1 .2 .8 0-15.8 .1 16.4 0 2.3 .2-3.3 .1-.9 .1-2.4 .1-4.9 .1 11.6 .1-11 .2 8.9 .1 4 0 .9 .1-.9 .2-13.5 .4 15.2 .1-23.3 0 16.4 0-12.6 .4 5.1 .2 13.6 .1-.6 0-8.3 .1-9.2 .1 8.8 .1 11.6 1.2-11 .1 5.3 0-16.5 .3 11 .2 2.6 0 4.5 0 5.1 0-15.4 .1-4.8 .1 12 .1-5.8 0-5.9 .4 12.5 0-10.7 .2 11.3 0-10.5 .2 .9 0 3.9 .1 6 0-8.3 .3 16 .1-17 0 10.8 .1-8.1 .6 6.8 .2-7.1 .3 7.9 .2-1.6 .3-11.7 0 10.7 .8-11.7 .5 4 .2-.7 .2 11.5 .1 6.3 .3-24.8 .5 7.3 .1 5.3 .2 1.9 .2-7.7 .1 5.6 1.2-5.6 0 8.3 .1-3.9 .1 9 .1-.6 .1 2.4 .1-2.8 .4-16 0 8.4 .2-6.4 0 .1 .1 8.3 .5 2.9 .1 2.6 .1-17.8 .1 21.8 0-7.7 .2-5.2 0-3.8 0 16 0-9.5 .1-7.6 0 5.5 .5 2.6 .2-1.6 0-6 0 6.5 0-6 .4 1.6 .4 6.4 .3 1.7 .3-6.2 0-8.7 0 4.6 .7 8.5 .3 4.3 .1-12.6 .1 6.6 .5-1 .1-3.8 .3 1.9 .1 5.8 .1-4.7 .1-7.2 .1 16.5 .1-12.8 .2 3.7 .4-4.1 .1-2 .2-3.5 .1 3.6 .6 9.7 .1 0 .1-10.4 .5 1.9 0 5.9 .5-11.1 .3 5.2 .1-3.4 .1 1.3 .1 14.6 .2-13 0 6.2 .7 1.5 .1-8.3 .2-.9 .2 2.2 .1-.5 .1 18.9 .4-13.7 0-7.5 0 3.6 .1 4.7 .1-1.9 .2-2.8 .4 6.3 0-.2 0 3 .4 5.4 0-20.9 .2 10.7 .8-3.2 .1-2.7 .1 6.5 .1-.2 .1 2.2 0 1.3 .2-16.6 .1 9.1 .5-1.7 0-12.2 .2 14.9 0-6.6 .1 8.5 .2-7.4 .4 2.2 .2-1.9 .1-1.4 0-1 .2 14.7 0-16.3 .2 13.3 0-6.6 .6-4.1 0 5.5 .2 8.2 .1 .6 0-19.9 .3 21.8 0-13.8 .3 4.3 .2-11.5 .1 12.4 .1-.6 .1-6.4 .1 6.1 .1 .9 .3-5.2 0 1.4 .1 5.1 .1 4.7 .4-9.4 .4-2.4 .1 12.5 0-6.5 .1 3.9 .1-7.8 .5 1.8 .1-4.2 .5-3.2 .1 10.4 .1 3.8 .1 2.5 .2-2.9 .1-6.1 0 2.2 .1-5.4 .4 .5 .4 6.2 0-12.8 .7 12.1 0-5.4 .2 3.2 .2-5.1 0-3 .1 7.5 .1-3.7 .1 0 .1 6.4 .1 4.3 .4-18 .1 22.4 .6-14 .5 5.8 0 8.8 .2-16.8 .1-2.5 0 3.1 .1 5.7 .2 5.2 .1 1.8 .2-9.3 .8 2.4 0-.1 .3-3.8 0 6 1 .7 0-15.2 .1 10.1 .5-15.7 .1 12.5 0-2.6 .1-2.9 .2-2.7 0 3.7 .5 11.8 0-9.4 0 3 .2 1.9 .2 .5 .2 4.4 0-11.7 .1-2.5 .1-.4 .1 11.4 0-2.9 .1 .3 .1 .5 .4 2.6 .1-4 .2 5.8 .1-1.1 .2 7.4 0-5.5 0-4.9 0 3.5 .2-4.5 .1 10.9 0-1.8 0-5.5 .1-8.4 .3 13.5 .2-16 0 10.2 .1-18.2 0 6.7 .1 18.5 .1-2.6 .8-5.2 .2-4.5 1.1-10.5 .2 5.3 0-1.3 .3 17.2 .4-17.5 .2 2.3 .1 6.4 .1-5.2 .1 15.8 .1-8.5 .2 1 .1-3.6 .2 6.3 .2-2 .2-16.6 .2 16.9 .1 2.3 .1-11.8 0 5.8 .2-13.9 .1 7.8 .3 6.3 .1-5.6 .1 1.6 0-1.7 .3-5.7 .4 9.9 .1-9 .2-1.4 .1 14.7 .1 2.2 .1-3.5 0-1.7 .3 3 .2 5.7 0-3.1 .4-14.2 .1 13.9 .2-13.9 0 .6 .4-4.7 0 14.2 .3-1.5 .2-4.7 0 .5 .1-6.4 0 11.2 0-5.3 .1-1.9 .2 9.1 .3-.8 .1-19.2 .1 16.2 .1-13.7 .1 13.7 0 3.2 .1 5.3 0-9.9 .4-13.8 0 18.8 .1-12.5 .2 5.3 0-10.4 .1 21.5 .3-20.2 0 7.8 .1 1.2 .1 8.2 .1-10.2 .4 4.4 .1-7.7 .1 13.1 .1-.3 .2-7.3 .2 5.7 0 4.4 0-7 .2 3.1 .4 5.5 0-17.9 .3 1 .2 7.3 0 1.7 .1-3.3 .1 2.3 .1-1.5 .1 1.3 0 10 .2-18.7 .1 16.9 .2-9.8 0-5.8 .1 11.5 0-5.6 0-3.4 .1-1 0-4.1 .2 9 .2 16.2 .2-15.2 .4 7.4 .1 1.4 .1-7.4 0 1.8 .3-3.4 .1 9.8 0-11.5 .4 7 .1-13 0-3.4 0 14.7 .2-4.8 .3 10.8 .4-1 0-9.9 .7 7 0-8.7 .2 10.3 .2 1.3 .1-7.7 .2-4.5 0 5 .1-1.3 .4 4.8 .2-1.2 0 3.2 .1 3.7 .3-4.2 0-15.8 .3-.9 .1 14.6 .1 12.6 .1-20.8 .5 9.7 .1-10.9 .2-2 .4 13.9 0-18.3 .2 .2 .1 14.9 0-6.8 .2 5.4 .2 3.5 .1-13.2 .4 1.3 .2 15.7 .1-13.1 .2 11.1 .1-3.6 .2-18.4 .1 27 .1-18.1 .4 4.7 .1-5.3 .6 10.5 .1-13.3 .2 12.7 .1 4.1 .5-11.9 .1 11 .2-16.5 .2 6.6 1.1-6.2 .3 5.2 .4 2.6 .1 5.8 .5-14.2 .1 7 .4-2.7 0 13.4 .1 2.9 .1-23.2 .1 4.2 0-2.2 .4 17.2 .1-6.6 .1 15.5 .2-24.2 .2 .7 .2 10 0-3.7 0-1.2 .1 4.3 .6-14 .1 2.5 0 3.7 .1 2 .4 1 0-.1 0-9 .1 1.3 0-.6 .1 .6 .3 12.2 0-9.4 .4 9.3 .6 1.4 .4 4 .1-6.9 .2-8.5 0 1 .1-7.1 0 4.7 .3 11 0-6.5 .2 .1 0 10.9 0-13.8 0-4 .1 8.8 .1-5.4 .4 10.9 .1 4.6 .1-22.3 .7 16 0 1.1 .3-6.6 .4 10.9 .4-5.1 0-14.6 .1 25.2 .4-20.3 .1-1.1 .1 10.1 0 2.5 .1-9.5 0 10.3 .1-3.4 .6-1.9 .1-8.3 .1 15.4 .1-5.5 0-12.1 .2 8 .1-4.6 .1 10.3 .2-8.3 .3 12.8 .3-17.4 .4 7.1 0 7.4 .1-11 .1 .4 0 3.1 .1 7.8 .1-14.5 0 6.4 0-6.4 .2 2.6 0 4.5 .5 4.9 0-1.1 .1-9.8 0-2.6 .1 12.3 0 8 .2-11.6 .4 8 0-1.8 .4-12.1 .7 11.9 .3-7.3 .3 9.4 .1-7.2 .8-4.3 .1-8.8 .2 16.5 0-6 .2-7.8 0 7.6 .1 15.1 .1-10.4 .8-3.6 0 8.7 .1-12 .5 .5 .3 13.7 .1-11.7 .3 4 0-8.3 .1 9.4 .2 4.9 .1-12.7 0 8.9 .2 3.1 .4-14 .1 6 .1 2.5 .1-8.9 .4 3.4 .1-2.7 0 2.4 .2 6.8 .1-4.3 .1 2 0 2.6 .2-3.1 .5-11.6 .2 15.7 .2-9.1 0-1.9 .1 14.8 .3-3.8 0 1.9 .2-12.4 .3-.3 .1-.2 .1 5.6 .2-13.8 .1 12.4 .1-2.9 .4 7.4 .1-11 .1 8.2 .1 9 0-6.6 .2-10.4 0 13.9 .1-.6 .1-1.3 .4 .5 .1-14 .5 3.1 .8-2.1 0 16.4 .4-6.6 .1-1.9 .2 .7 .1-6.5 .1 8.6 .3-.1 .5-15.9 0 3.9 .1 10.5 .1-9.8 .2 6.3 .6 6.5 .2-1.8 .4 7.2 0-18.2 .1 11.6 .3 1.2 .1-5.8 0-2.2 .1 7.3 0 2.1 .1-10.8 .1 14.9 .6-15.6 .2 3.3 0 8.7 .6 4.4 .1-4.9 0-3.9 0-14.3 0 1.9 .1 .8 .1-2 .2 18.7 .2-7.9 .1-5.3 .2 1 0 0 0 15 0-1 .3-8.2 .5 4.3 .1-15.5 .3 5.6 .2-7.4 .1 20.5 .6-15.9 .3 3.5 .2 5.3 .1-13.4 .4 5.4 .8 6.2 .2 4.1 .2-6.2 0-1.2 .3-6.4 0 6.6 .3 6.6 .1 5.8 .3-5.4 .6 5.8 .7-12.5 .4 1.2 .1 14.8 .2-17.4 .2 7.7 .1-2 .1-12.2 .3 11.9 .2-2.9 .1-1 .1 8.3 .3-12.3 .1 21.1 .2-15.1 .7-8.7 .2-4.3 0 11.8 .1-1.2 .4 5.7 .1-4.1 .2 4.2 .1 3.5 .9-13.4 .1 6.8 .2 1.5 .1-6.7 .2 13.5 .3-6.6 .1-9.7 .3 8 .1 1.9 .5-12.9 .3 7.8 .3-10.9 .1 8.8 .3 6.3 .2-4.8 .3 3.2 .1 4.6 .1-15.1 .1 2.6 .1 13.9 .4-6.1 .1-9.2 .1 4.7 0 .8 .2-8 .1 18.1 .2-6.3 0-1.6 .1 7.8 .4-11.1 .2-4.2 .1 2.4 .5 8.3 .1 3.4 .1 0 .2-2 .1-2 .6 5.1 .1-5 0-3 .1 1 .1-7.8 .3 8.2 .1 7.3 .3-7.9 .2 3.4 .1 1.5 .1-5.4 0-7.9 .1 8.7 .2 5.6 .1-.7 .6-15.9 .2 17.9 .6-11.4 .3 14.3 0-.5 .1-5.5 .1-11.5 0 .2 .2 15.9 0-10.5 0-4.1 .1 2.3 0-1.3 .1 16.8 .1-18.6 .1 13.6 0-14.3 .2 16.9 .1-19.5 .2 9.5 0-.8 .3 6.4 .1-2.7 .2-3.4 .1 6.9 0-10.3 .1-1.6 .2 11.3 .1-11 0 3.3 0 4.3 .1-13.5 .3 9.3 .1-1.9 0-2.1 .1-5.6 .6 20.4 .5-4.9 .3-1.5 0-15.7 .1 2.8 0 15.5 .1-13.9 .2 16.7 .3 .6 .1-13.7 .1 .4 .1 13.1 .4-3.5 .2 3.9 .3-2.6 .1-10.1 .4 .5 .1-.8 .1 5.7 .2 1.8 0 6.3 .2-9.3 .5 10.7 .2-1.8 0-13.3 .7-6.8 .1 21.4 .3-6 .1-15.6 .2 2.2 .2 14 0-5.5 .6-1.6 0 3 .1-.8 .2 9.3 0-18.8 0 2.7 .3 2.8 .1 13.2 .2-15.7 0 1.2 .1-.9 .2 2.1 .1 11.7 .4-2.8 0-5.7 .2-7.7 .2 6.4 .1 12 0-14.3 0 5.7 .1-4.4 .2-3.2 0-.6 .4 .9 0 1.5 .3 6.6 .6 6.2 .4-13 .7 9.7 .1-4.7 .1 .4 .3 9.4 .1-20.1 .3 3.2 0 12.9 .1-4.7 .3-11 .1 7.8 .2 6.4 .2 2.6 .2-5.7 .1-7 0-5.4 .5 11.1 .3 7.5 0-18.5 .2 1.5 0-1 .2 2 .1 14.2 .3-15.5 .1 2.4 0 11.8 0-5.6 .1-1.4 .8 .4 .2 11.9 .1-13.6 .3-1.2 .2 8.2 .4-10 .1-4.2 .2 20.7 .1-2.6 .3-7.7 .2 3.7 .8-9.3 .2 6.2 .1 .9 0 1.5 .5-8.7 .1-4.7 0 5.9 .7 7.6 0-16 .4 14.7 .1-2.4 .1-3.4 0-9.5 .1 15.5 .9 4.9 .2-12.3 .7 2.6 .4-4 .1 5.8 .2 .3 .1 5.6 .3 0 .1-10.8 .1-.6 .1 4.4 .1 7.2 0-12.5 .3 3.1 0 8.2 .3-19.9 .6 17.3 0-13.2 .1 10.4 .1-8.4 .1 12.8 .1-13.3 0 2.4 .1 19 .2-14.9 0 4.4 0-2 .1-10.4 .2-.7 .2 21.7 0-.4 0-14.6 .1 8 0-10.7 .1 12.1 .1-15.3 .2 10.1 0 5.4 0-5.1 .3-1 .2-7.9 .1 1.1 .1 2.4 .1 4.9 .4-5.1 .1 8.6 .1 3.4 0-6.6 .3-5.4 .2 3.8 .2-4.6 .6 .6 .2 14.1 .1-.9 .6-.8 0-8.3 .2 5.9 0 6.5 .4-13.6 .2-7 .1 2.5 .3 20.2 .1-20.8 0-2.1 .2 12.2 .6-20.9 0 12.6 .2 .8 .1 3.7 .4 3.5 0-8.8 .2 6.8 .1 9.7 .2-9.5 .2-1.3 .6-5.9 .4 5.3 .2 4.4 .1-11.2 0 7.1 .1 4.5 .1 1.4 .7-2.6 .8 6.7 0-12.1 .4 5.4 1.3-2 0-2.4 0-1.4 .2-2.4 0 2.7 .1 .7 .2 3.5 .1-3.3 .2 15.1 .2-10 0 6.5 .1-13.2 0-4.9 .1 16.7 .1-9.9 .1 6.1 .8-10.1 .2 9.6 .2-1.8 .3-15.1 .1 5.1 0 11.1 .1 1.3 .3-13.3 .3 1.8 .6 2.3 .1 10.2 .2-5.5 0-14.8 .1 13.1 0 8.1 0-5.4 .2 1.5 .3-3.4 0 3.6 .4-9.9 .1-4.7 .3 22.5 0-27.7 .1 1.8 0 24.4 .1-15.4 0 9.6 .4-9.7 .1-1 0 4.5 .6 4.1 0-6.2 .1-8.4 .5 9.5 .1 7.4 .1-3.5 .3-17.4 .1 14.7 .1-7.2 .2-7.3 .3 8 .7 3.7 .3-2.4 .3 6.8 .1 2 .3-9.5 .2-7.2 .1 21.6 .2-1.3 .1-9.3 0 2.2 .4-8.5 .1 6.8 .1-2.2 .1 11.7 .5-1.8 .2 3.3 .1-10.3 .2 5.9 .2-11.7 0 12.6 0-11.1 .7 11.4 .3-13.8 .2 9.7 .1-4.7 .8-3.6 .6 17.7 .1-13.6 .1 16.3 .2-17.7 .1 7 .1 0 .1 0 .1-6.8 .2-2.7 .2 11.5 .2-7.5 .4 12.5 .1-17.1 .4 3.3 0 1 0 5.2 .9-5.2 .2 10.2 .1-11.1 .5 5.1 .1 2.4 .2-13.3 0 14.1 .3-3.8 0-4.9 0-6.5 .2 21.7 0-6.4 .1 1.8 0-3.4 .1 4.1 .4-6.8 .9 12.3 .5-9.1 .3 3.9 .1-8 0-8 .2 13.8 .7-10.2 0 2.9 .3-.7 0 2.1 .1-4.4 .3 11.4 .3-1.1 .1-10.4 .2-4 0 9.8 .1-4.7 .1-8 .1 18.1 .3-7.9 .3 5.4 .2-15.7 0 5.3 0 7.1 .1-3.2 .1 15.7 .1-5.8 .1 1.1 .2-9.4 0-.2 .1 .5 .1-4 .1 8.2 .1-4.4 .5-4.7 .2 9.1 0-7.2 .5 4.5 .1-5.1 .3 10.9 .3-12.6 .1 8.6 .1 6.5 0-11.3 0-4.1 0 14.4 .3-18.7 .3 1.2 1 15.4 .2-10.1 .1 5.8 .1-15.5 0 12.8 .1-4.9 .4 2.1 .1 10.1 .2-6.5 .1 3.4 .1-16.9 .3 15.7 .1 2.8 .3-20.4 .1 17 .2 6.9 .1-4.7 .2-4.2 .8-1.1 .2-5.2 0-5.8 .1-.8 0 8.9 .7 9.2 .2-6.2 .2-2.3 .2 15.9 .3-20.7 0 21 .3-13.5 .1-3.8 0 11.3 .1-5.3 0 9.3 .8-16.7 .2 15.5 .5-4.6 .3-.5 .2 .7 0 .4 .1-9.5 .1 12.9 .3-1.2 .1-17.1 0 4.4 .1-4.6 .4 18.2 .1-18.8 .1 10.9 .1 6.1 .2-10.3 .7 9.1 .1-10.4 0 7 .2-8.3 .2 11.9 .2-5.6 .1 6.3 .4-4.2 0-8.8 .1 .1 .1 11.5 .1 6.4 .2-15.9 .1 5.8 .4-3.6 .3-3.5 .1 12.6 .1-8 .2 5.6 .1-3.3 .2-11.7 0 11.3 .1 4.8 0-8.4 .2 8.7 .1-21.8 0 23 .3-13.5 0-1.9 .5 11.4 .3-7.1 0 7.6 .4-6.9 0-8.3 .1 15 .1-13.7 0 10.6 .3-2.1 .4 15.5 .1-15.4 .2 2.5 .2-12.9 0 3.6 .2-.4 0 3.2 .2-8.9 .1 17.6 .1 0 .1-.5 .2-1.2 .2 6.8 .1-11.6 .4 7.3 0-7.2 .1-3.6 .7-2.6 .6-2.1 .1 7.4 .3-1.7 .1 4.9 .1-14.3 .5 10.6 .1-1.2 .4 4.8 .1 7.2 .1-12.3 .3 5.7 .1 .6 0 9.9 0-.2 .1-3 .1 .7 0 .1 .1-5.7 .2 6.4 .1-17.9 0 5.5 .7 2.7 .1 4.3 .1-17.6 0 18.3 .1-12.8 .4 1.3 0-7 .3 9.6 .1 9.9 .1-3 .1-7.7 .6 8.6 .1-5 .2 .9 0 5.5 .2-8.6 .2 5.2 .1 2.4 .1-4.9 0 7.8 .1-5.9 0 5.9 .2-8.3 0 13.5 .1-19.5 0 6.9 .5-4.8 .3 8.1 .2-16.5 .1 18 .3 .2 .1-17.9 .1 13.9 .1-2.2 .1 13 .2-11.6 0 2.9 .3-9.7 .1 12 .1-3.4 .3 7.2 0-3.4 .6-13.6 .2 9.9 0-13.5 .5 16.4 .3-4.2 0-4.6 .1 2.5 .2 4.3 0-11.8 .2 5.7 .1 .1 .2-7.5 0-.7 .5 8.3 0 .5 .1 5 .2-2.9 0-6.2 0 1 .1 6.8 .5 1.8 .7 12.5 .1-15.7 .2-4.7 .2-5 .1 24.1 .1-12.8 .1 .4 0 3.2 .2-.8 0 5.3 .5-10.8 .4 11 .3-9 .1 1.6 .6 4.7 0-.5 0-1.4 0-11.5 .2-5.3 .1 28.3 .2-23.3 0 11 .1-6.8 0 3.3 .2-11.8 0 16.6 0 3.7 .1-11.1 0 1.4 .5-.7 0-5.4 0 2.4 0 11.7 .2-12.6 0 10.7 .1 1.1 .2-8.2 .2-8.5 .2 16.7 0-4.4 .3-20.6 0 10.4 .1 2.3 .1 9.6 .4-10.6 .1 15 .2 2.7 .1-17.1 .2 8.2 .2-2.2 .3 9.2 .2-14.2 0 5 .3-2.6 .2 11 .3-.4 .1-17.7 .6 3.6 .2 10.2 .3-8.5 .1 3.2 .5-1.5 0-2.4 .1 3 .4-7.3 .1 9.2 .1 3.3 0-12.9 .1 14.2 .2 7 .3-5.7 .3 .7 .1-18 0 11.8 .4-8.4 .3 1.7 .3-.2 .3 10.9 .1 3.3 .1-14.4 0-2.1 .1 7.6 .1 8.3 .2-9.6 .2 3.8 .4 1.7 .1-17.7 .3 12.7 0 1.2 .1-9.8 .2 15.3 .1 1.2 0-17.1 .2 6 0 2.4 0 1.2 .1 8.1 .2 1.5 .4-4.8 .1-1 .1-1.2 0 0 .3 .2 0 4.9 .1-9.1 .3 8 .5-11 .2-8.7 .1 12.7 0 15.7 .4-8.2 0-.9 .1-6 .5-2.5 .2-.7 .4 12.9 .1 3.7 0-11.2 .6-4.8 .3-1.3 0 5.1 .3-3.8 .1 7.2 .1 4.9 0-15.1 0 2.8 0 10.8 .1-9.6 .3 4.2 .1 4.2 .3-1.2 .3-2.2 .2-11.5 0 6.8 .2-14.8 .2 20.9 0-.6 .3-4.8 .4 4.2 .2 8.5 .3-16.3 .1 10 .2-1.7 0-.2 .1-2.7 .1-9.8 0 9.9 .5-12 .3 12 .1-10.8 0 14.9 .1-8.2 0-13.6 .6 17.4 .1 1.9 .1 3.7 0-8.1 .1 7.7 .4-5.3 .1 16.5 .1-21 .2-7.1 0 13.2 .2 2.2 .1-4.3 .4-2.3 .2-1.9 .2 11.7 .5-14.5 0 11.5 0 2.6 .3-14.9 0 5.7 .1 .5 .1-1.3 .1 3.6 .2-2.6 .3 9.9 .4-6.1 .1-13.4 .3 7.4" fill="none" stroke="none" marker-start="url(#hN)" marker-mid="url(#hN)" marker-end="url(#hN)"/>
<path d="M361.4 589.5v12.0M323.6 596.9v6.7M494.5 556.3v6.1M285.8 599.3v7.8M348.2 604.9v10.3M370.5 589.4v11.2M589.1 540.8v-8.1M488.0 559.6v6.2M365.9 592.5v10.7M368.4 592.9v6.4M310.5 599.9v5.8M421.2 578.0v10.0M589.3 551.3v5.7M338.7 586.7v-5.7" stroke="#3a3838" stroke-width="0.9" fill="none"/>
<path d="M234.7 772.8l.3-.4 .2-6 .2-3 .1-6.2 .1-5.2 .6-20.2 0 11.6 0-6.7 .1-.1 .1-7.4 .2-3.6 .1 2 .2-4.1 .4-9.9 .3 1.1 .1-8.1 .2-3 0-7.9 .3 8.4 .1 .9 .2-8.5 .2-4.3 .2-4.1 .2-5.3 .1 7.6 .1-9.3 .3 2.2 .3-4.1 0 2.3 .5-3 .2-5.4 0 .7 0 11.3 .1-16.5 .2-1.3 .1 .6 .5 .7 .3 4.6 0-17.2 0 10.2 .1 .3 .1 .3 .1-5.6 .3 3.7 0-6.8 .3-5.4 .3 3.5 .1 2.9 .1-8.9 0-5.3 0 15.4 0-6.4 .1-1.9 .7 6 .2-7.6 .1-2.7 0 5.8 0-9.5 .2 2.6 .1-1.9 0 1.2 .1 2.2 .4 3.2 .1-12.4 .1 .6 .1 5.6 .1 3.7 .2-5.4 .2 .8 .2 1.7 .1-6.4 .2-4.4 .2-.8 .3 9.8 .2-7.8 .3 8.9 .1-10.4 .1 0 .2-3.7 .3 4.8 .4-5.5 .1 6.7 0-1.6 .4-.8 .1 1.7 .2 2.8 .3-4.6 .1 12.3 .7-14.5 0-.7 1 6.1 .1 6.3 .5-10.5 .4-4.7 0-3 .1-1.3 .8 2.3 .1-.7 .1-.8 0 5.9 .1-10 0 9.8 .2 5.2 .4-9.2 .2-6.1 .3 9.6 0-1.1 .3-4.5 0-2.1 0 19.6 .1-18.1 0 5.3 .1-9.9 .2 6.3 .1-3.6 .2 19.3 .2-15.8 .2-4.7 0 10.1 .1-4.8 .1-5.7 0 6.4 .3 2.2 0 6.5 .7-3.9 .1 5.3 0-.2 .5-24.5 .3 12.5 .2 6.2 .4 4.2 .5-7.3 .2-2.4 .2 .8 .3-4.6 .1 4.1 0-7 .1 11.1 0-3.5 .2-3.6 .1 1.9 .1-15.5 .1 10.3 0-3.5 .1 3.3 0-6.8 0 17.5 .1-15.4 0 7.6 .1-.4 .1-7.1 0 7.8 .1-5.3 0 9.3 .1-7.2 .4-4.2 0-1.3 .6 8.1 0 2.1 .2-.8 0-3.4 .2-1.9 1.4 .8 .3-4.8 .1 1.1 .3 2.3 .3-2.9 .1 7.9 .8 2.3 .1-22.3 0 15.3 0 6.4 .2-11.5 .1 6.3 .4-1.1 0 .2 0-4.4 .2-4.6 .1 .4 .7-2.9 .3 8.5 0-3.2 .1 .1 .2 7.7 0-13.4 0 4.2 1.1 .8 .2 6.5 0-6.8 .3 3.3 .3-5.3 .4-6.9 0 21.4 0-6.8 .1-4.5 .1 3.2 .1 .5 0-8.3 0 9 .2-2.2 .1 5.3 .2-2.5 0 1 0-17.5 .4 16.5 0-12.1 0 18.9 .2-6.3 .4-1.2 0 4.3 .1-4.8 .1-12.9 0 13.5 .4-8.5 1.1 3.1 .1 1.4 .1-9.8 .1-4.7 0 11.1 .1-1 0-4.8 .2 1.5 .1 4.5 0 5.1 .3-6.8 .1 4 .5 4 .1-6.7 .1-13 .1 4.6 .3 3.8 0-1.5 .3-2.7 .2 12.4 .1-5.7 .1-4.2 0 12.8 .1-7.9 .2-9.1 0 10 .5-8.9 .1 13.1 .1-13.6 .3 1.3 .1 10.2 .5-16.2 .1 10.7 0 3.4 .3-.4 .6 7.8 0-13.6 0 4.5 .3 .8 0-7.7 .1 10.7 0-.7 .1 6.8 0-15.6 .1 4.1 0-1 .7-.3 .2 6.6 .3-1 .5-3.4 .2-1.8 0 9.1 .1 2.9 0-12.6 0-7.9 .2 15.6 .1-2.2 .4 6.9 .4-9.7 .2-.5 0-1.3 .7-10.7 .1 1.5 .2-.8 .4 6.8 0 9 0-1.5 .2-4 .2-7 .1 1.2 0-3.5 0 7.3 .4 1.9 .2 1.3 0-5.1 .4 14.1 0-14.7 .2 1.5 0 3.5 .2 5.6 .1-4.1 0 3.8 0-10.2 .7-.2 .2 9.6 .3-10.7 .1 12.7 .6 .1 0-7.3 0 1 .2 1.3 .3-8.7 0 11.6 .1 0 .1-1.8 0 3.4 .1 .7 .1-15.7 .1 8.6 .1 .3 .1-8.3 0 12.9 .7-11.6 0 12.1 .1-7.6 .2 1.2 .8 6.4 .1-2.7 .1-6 .4 2.8 .7 3.3 .2-10.5 .1-.7 .1 15.8 .3-18.4 .2-1.9 .2 18.9 .3 .6 .2-.7 0-19.7 0-.9 .1 13 .1-1 .3 11.2 .1-23.9 0 8.8 .1 3 .1 7 0-8.1 .1 6 .3 5.4 .1-5.2 .1-16 .1 14.3 .1 3.3 0-9.7 0-.8 .1 2.7 .2 6.2 0 3.9 .2-13.2 .1-.8 .1-2 .2-1.5 .2 5 0-.3 0-2.8 .3-1.6 .1 9.8 0 5 .7 2.9 0-16.4 .1 13.7 .6-2.8 .2-.8 .2-7.8 .3-5.7 .2 3.1 .1 12.3 .1-10.1 .4 8.5 .1-.4 .2 2.2 .2-2.2 0-7.9 .3 13.1 .1-7.4 .1-6.9 .2 15.3 .2-10.5 .2 .2 .1 2.2 .1-3.8 .2 7.7 .1-4.4 .3-3.6 .2 1.1 0 5.8 .2-11.4 .1 13.9 .3-18.8 .1 19.2 .4-5.6 .4 8.3 .1-10.3 .3-6 .3 3.1 0 5 .1-4 .1 6.2 .2-6.7 .1 7.5 .1-1.3 .1-17.5 .1 6.6 .4-8.6 .1 8.8 .1 8.8 .1-8.1 .4 2.3 0 .9 .1 5.6 .3 3.5 .4-2.4 0-.2 .2-7.8 .1 7.9 .6-4.4 .1 5.3 0-1 .1 4.2 0-19.1 0 19.5 .2-3.8 0 4.5 .1-13.2 .2 5.6 .3-2.3 0 3.1 .5-4.3 .3 3.2 .2 6.7 .1-11.5 .2-2.8 0-.8 .6 13.6 .1-16.1 0 7.6 .3 8.1 .2-9.8 .1 9.6 .3 1.6 .2-13.1 .1 8.3 .1-1.5 .1-8.1 0 3.9 .5 14.8 0-18.1 .3 2.7 0-1.7 .1 8.8 .2-1.2 .5-3 .1-4.2 .1 10.3 .6-3.7 .2-7.7 .1 10.2 .2-5.1 .3-9.8 .3 10.8 .1 4.6 0-4.1 .1 9.3 .2-9.6 .4-11 .4 13.8 .4-6.9 0-1.1 .4 3.6 .2 2.1 .1-11.1 .6 11.1 .1-6.4 .4-2.8 .2 1.1 1-4.2 .1 19.1 0-11.1 .1-7.3 .4 14.8 .1-13.2 .6 7.9 .2-2.7 .1 1.9 0-1.6 .1 6 .2-9.9 .1 5.5 .4 5.7 0-17.2 .4 11.4 .3-5.7 .1-1.9 .2 4.9 0 0 .3-5.8 .2 21.6 .1-19.2 .1 6.4 .2 14.3 .1-5.1 .1-17.1 .4 7.7 0 13.4 .7-9.2 0-2.6 .3-2.6 .1 8.4 .1-.6 0-3.7 .2-2.9 1 1.3 .4-4.9 .3 4.3 .1-.3 .1 6.7 .6 2.8 .1-15.6 0-7.6 .9 .2 .3-.5 .3 20.4 .1-17.9 .1 9.8 .1-12.6 .1 10.7 1.1-5.7 .1-5.7 0 15.3 .2-6.6 .1 13.6 .6-1.6 .1-11.9 .3 .7 .1 1.7 .2-6.5 .1 10.6 .2-15.4 0-2.2 .1 9.7 .1 12.9 .1 0 .1-10.8 0 7.1 .3-4.8 .2-2 .5 9.3 .3-4.2 .2-5.7 .1-6.3 .3 16 0-9.8 .1-2.6 .3 5.8 .1-9.7 .1 18.2 0-13.4 .4 6 .3-1.6 .4-.8 .5-6.4 .1 8.9 .2-1.8 .1-11 .5 19.2 .6-9.2 .1 .6 .6-3.5 .1 11.5 .3-1.6 .1-11.1 .2 9.8 .1-2.7 .1 5.4 .2-13.6 .2 12.9 0-3.9 .1-1.3 .2 13.2 .2-18.2 0 8.7 .2 6.5 .3-19.1 .1 12.3 .1 13.7 .3-25.4 .6 1.4 .1 .9 .2 12.7 .2-13.4 .3-3.3 0 .8 .2 13.3 .1-5.7 .5 5.1 0 1.4 .1-19.4 .2 6.1 .1-1.4 .1 11 .1 6.4 .4-14.7 0 1 .1 12.1 .3-10.7 .2 .4 .1-8.7 .3 5.8 .1 6.2 0 1.1 .3-12.3 .1 5.7 .4-5.6 .2 6.1 .7 1.8 .2 1.9 .1-8.7 .6 .5 .6-1.4 0-.6 .2 7.8 .2 6.7 .1-12 .1-8.7 0 9.5 .2-2.5 .6 9.4 0-7.7 .2 8.8 .1-4.2 .1-.2 .7-5.8 .6 9.9 0 5.8 .1-16.1 .2 12 .2 3.9 .2-.7 .2-5.7 .5 7.2 0-11.9 0 4.9 0-3.9 .6 5.4 .1-.7 .1-7.3 .1 1.9 .1-6.9 .1 3.8 .6-7.3 .3 9.5 .2 3.9 .2-5.8 0 7.1 .2 .3 .2-.1 0-6.1 .1-6.5 .2 10.7 .1 .3 .5-6.4 .1 10.7 .2-8.3 0-5.9 .4 5.4 0 .7 .3 2.6 .2 7.5 0-5.9 .1 1.8 0-.6 .1-2.1 .2-10.1 .1 13.8 .1-1.9 .1-7.8 .2 6.7 0-8.6 .3 9.2 0 3.7 .1-7.9 .1 5.4 0-5.6 .1-11 .5 17.2 .1-3.5 .1 9.3 0-27.1 0 25.3 .1-5.7 .2-1.2 .1 8.7 .3-14.6 .1 10.4 0-10.4 .2 1.2 .1 6.3 .3-2.3 .1 12.6 .2-3.2 .1-25.1 .1 20.9 .4-7.1 .1-6.9 0 9.8 .1-7 .1-4.3 .4 3.2 .1-7 .1 8.9 .3-11.3 .1 4.7 0 27.6 .1-15.1 0-9.8 .1 5.3 0 3.1 .1 1.1 .3 4.4 0-14.4 .1 7.1 .1 6.9 .1-12.7 .1-5 .4-.4 .1 8.7 .1 9.8 0-7.1 .1 4.1 .1-.1 .1-7.6 .3 .9 .1 10.7 0-9.1 .1 .3 0-12.5 0 .6 .2 23.9 .7-3 .1-8.7 .1-8.7 .2 8.7 0 3.1 .1-9.4 .1-2.5 0 .9 .3 13 .5-3.5 .2-14.5 .3 7 .7 7.6 0-8.5 .2 10 .1-6.9 .2 12.3 .6-5.5 .4-5.5 .3 1.5 .1-.3 0 3 .3-13.4 .4 .6 .2 9.2 .8-3.2 .6 9.4 .4-7.8 .2-.7 .2 1.4 .4 10.2 .1-9 .3 0 .1 5.9 .1-6.2 .3-.4 0-1.2 .2 6.8 0-2.6 .1-5.7 .1-3.1 .2 1.1 .1 3.3 0 5 .3-14.2 .2 8.4 .1 5.3 .4-5.8 0-2.2 .2 .6 .5 13.7 .1-18.9 .1 6.6 0 7.5 .1-15.1 0 8.8 .1 8.8 .1-8.2 0 10.9 .1-14.5 0 4.7 .6-.3 .1-6.4 0-.8 .2 2.6 .3 13.5 0-15.1 .2 9.5 .2-12.3 .1 4.3 0-8.4 .4 11.8 .3-5.9 0-1.1 .2 2.4 .1-4.4 0-2.5 0 16.3 .1 1.2 .3-3.6 .1-1.8 .3-7.1 .2 15.6 .1-8.4 .2 3.7 .4 4.9 .4-1.7 0-10.4 .1 5.8 .1-2.5 .6 12.4 .1-7.7 0-12.6 .3 16 .2-3.5 .1-15.9 .2 11.5 .1 1.2 .3-6.9 0-.8 0 1.5 .5 9.4 .3 2.1 .6-17.2 .1 7 .1 10.9 0-1.9 0-14.7 .3 5.8 0 7.5 .2-7.9 .6 4.6 .7-7.1 .2 6.6 .2-14.4 0 15.2 .1-7.1 .2-6.5 .4 4.3 0 1.4 .2 10 .2-.5 .2-6.7 0-1.9 .1 8.3 .1-9.1 0 23.9 .4-19.9 0 4.2 .1 5.9 .3-8.1 .2-3.9 .3-1.2 .3-1 .1 7.9 .5-18.6 0-2.6 0 6.1 .2 21 .4-4 .5-9.5 .4 8.6 .1 3.9 0-5.2 0-14.3 0 17.6 0-15.6 .1-2.6 .3 7.1 0 5.1 .1-16.2 0 9.4 .8-5 .3 7.9 .1 7.4 .1 8.4 0-13 .4-4.6 .1-8.8 .1 16.4 0 5.5 0-16.8 .3 3.6 0 10.7 .5-2.7 .1-1 .3-1.4 0 1.2 .4 2.9 .1-13.9 .4 3.2 0-7.6 .3 2.5 .1 1.9 .1 21.3 .2-15.2 0-5.8 .2-3.3 .5 13.6 .3-7.1 0-.6 .5-2.1 .2 20.5 0-2 .2-7.9 .1-12.8 .1 17.9 .3-7.5 .1-8.5 .1 8.7 .2-1.3 .1-14.2 .1 19.2 .4-10 .4 5.5 .4-15.9 .1 18.4 .5-15.2 .1 8.2 .1 1.2 .3 4 .8-9 .6 11.9 .3 3.2 .1-1.7 .1-20.7 .3 15 0-1.9 .1 4 0-15.5 .1 6.7 .2-2 .2 18.3 .2 .4 .4-6 .1-1.6 0-4.6 .3-6.1 .1-2.1 0-1.1 .1 11.1 .6-14.7 0 6.3 .1-.3 0-2.7 0 3.5 0-2.1 .3 9.5 .3 1.9 .1-8 0 .7 0-2.8 .1 4.9 .1 3.1 0-13.9 .1 7.3 .4-2.5 .1 1.6 0 2.4 0 7.2 0-13.2 .4-3.6 .1 23.1 .1-12.7 .1-1.1 .1-1.3 0 10.5 0-4.3 .1 1.4 .2-14.5 .1-1.2 .1 .1 .1 10.8 .1-12.7 .2 17.5 0-8.4 .1 15 .8-21.6 .2 10.1 .4 .3 .2-3.9 .1-7.1 .2 11.3 0 4 .5 4.5 .1-4.5 .1 1.6 .2-17.3 .2 8.3 .4 3.6 .1 1.9 .1 1 0 5.4 .2-18.5 0 12.5 .5-13.4 0 4.8 .1 4 .1 2.8 .3-11.6 .5 .4 .6 7.7 .7 3.7 .6-.2 0-.2 .2-9.6 .2 9.9 .1 .6 .1-11 .2-2.2 .1 2.6 .2 7.3 .3 4.3 .2-11.3 0 11.2 .2 3.7 .2-6.8 .1 1.4 .2 1 0 10.3 .1-16.4 .1-4.2 .4-3 .3 8.7 0 .1 .2-6.3 .1 10.1 .1-.8 .1 1.7 0-1 .2-4 .3 3.2 .3 .1 .3-15.3 0 5.5 .2 9.5 0-12.2 .4 8.4 .2 0 .1 1.9 .3-1.3 .6-3.2 .1-5.6 0 12.8 .2-1.6 .2-.8 .1-2.6 .3 3.8 .5-6.2 .6 5.2 .2-11.6 .1 4.3 .5 8.5 .1-13.2 .1 5 .2 11.1 .1-5.5 .2-3.7 .1 13.9 .2-21.8 .3 17.2 .1-15.5 .1 .9 0 2.9 0 4.7 .1 9.9 .1-13.4 .5-5.5 .1 1.9 .5 8.2 .3-1.3 .1-10.8 0 6.6 0-3.2 .1 10.8 .3 4.7 .1-23.3 .1 1.7 .3 21 0 5.2 .2-11.3 .2 .1 .5 .1 .5 4.5 .1-21.9 0 10.9 0-6.8 .1 5.5 .1-.3 .2 2.5 .3 6.5 .2 1.5 .3-9.1 0 3.6 .1 1.2 0 1.5 0 6.8 .1-6.2 .8-3.6 .1 3.9 .4-11.7 .2 5.1 .2 .4 0-1.3 .2 6.7 .3-2.8 .1-9.1 0 6.7 .1 3.6 .4-3.8 .5 9 .3-18.4 .4 6.1 0-1.2 .3 13.5 .1-15.6 0 3.1 .2 14.1 .4-14.6 0 10.2 .1 1.3 .1 .7 .2-7 .5-5.1 .4 10.6 0-7.5 .5 3.6 .1-6.1 0 10 .1-1.3 .1-12 .2 5.9 .4 3.8 .1-9.6 .1 10.6 0-4.3 .1-4.3 .1 .8 0 3 .6-7.4 .4 5.3 0-4.6 0 .8 .2 7.5 .1 2.1 .1-1.5 0 4.6 .2 .4 0-13.4 0 20.2 .5-17.4 .2 5.1 .7-8.7 .2 15.3 0-2.3 0-10.2 .1 1.4 .1-1.5 .1-4.1 .2 8 .2 6.7 .2-5 .1-7.5 0 1.2 .1 2.8 .4 2.7 .3-6.9 .2 14.5 .4 3.1 .1-15.3 .1-6.3 .1 .6 0 22.5 .2-14.2 .8 2.7 .1 1.5 .1 7.4 .4-8.4 0-8.9 .2 13.5 .4 .4 .3-8.7 0 2.6 .1 12 0-18 0 12.1 .1-9.7 .1 14.2 0-7 .1-9.5 .1 2.1 .4 5.3 1.1-8.6 0-4.9 .3-1.3 .3 12.8 0-8.9 .2 6 .1-5.5 .1 18.9 .1-20.6 .2 1.3 .1 5.4 0-6.6 .5 1.3 .1-6.1 .1 8.3 .1 11.8 .1-4.7 .5-.1 .2-1.3 0-2 0-1 .1 2.9 .3-.9 .3 5.2 .1-17.1 0 23.3 0-15.5 .4 6.6 0 11.5 .1-6.9 .1-3.3 .1-15.1 0 7.3 .1 2.6 .3 7 .1-2 .2-15.5 .1 9.2 .1 10.2 .2-9.4 0 5.5 .2 1.3 0-14.4 .6 18.9 0-10.1 .1 2.4 0-2.5 .1 4.2 .3-9.9 0-4.6 .3 10.3 .1 .8 .2-9.6 .1 18.3 .1-16.4 .3 9.1 .5-15 .1 17.2 .2-3.6 0 2 .7-11.5 0 13.6 .1-9.6 .1 9.5 .2-2.7 .2-2.7 .2-9 .4 10.1 .4-11.1 0 4.2 .6 17.2 .2-13.5 .3 2.4 .1 4.6 0-3.4 .1-11.3 .2 15.9 .1-7.6 .1-.9 0-.8 0 9.6 .2-10.2 .6 14.3 .2-11 .2 9.5 .3-21.2 .1 9.1 .1 0 0 11 .4-10 .3-8.8 .1 3.8 .1 3.2 .1 4.2 .2-.3 .4-3.2 .1 8 .7-5.8 0 .5 .1-5.4 0 12.3 .3-13.9 .2 1.3 .1 1.5 .3-8.7 0 .4 .2 14.4 .1-8.6 0 7.1 .3 .7 .1-1.1 .1 3.7 .4-10.5 0 5.6 .3-5.8 .1-1.5 0 15.9 .7-14.2 .4-1.6 0 3.9 .1 3.6 .1-7.6 0 .5 .1 .6 0 16 .3-12.7 .2-.1 .1 2.5 0 5.9 .3-8.8 .1 5.4 .2 1.3 .4-4.3 .3-2.1 0-4.8 .1 5.7 .1 3.6 .1-6.1 .1 .2 0-.5 .4 5.3 0 10.3 .2-9.8 .1-6.8 .1 4.9 .2-15.5 .1 14.8 .2 2.9 .2 2 .1-17.9 .2 28 .1-6.9 .1-10.4 0 11.9 0-17.5 .1 20.3 0-23.5 .3 5.7 0 13.3 .1-1.4 .1-8.6 .1 2.8 .1-5.1 .3 16.7 .1-18.9 0 15.9 .2-8.7 .1 7.5 0-17.4 .3 4.1 .2-7.1 .1 2.6 .2 3.3 .1 .9 0-3.3 0 13.8 .4 3.8 .1-11 0-9 0 6.8 .3 11.7 .1-.4 .3 1.6 .1-1.4 0-13.7 .1 7.5 0-8.4 .4 16.4 .2 1.8 .3-10 .1 6.3 .1 4.1 .1-11.8 .2-3.8 .5-6.8 .4-.2 0 13.7 .1-6.5 .1-3.8 0 15.1 .5-5 .1-1.3 .3-.7 .1 4.7 .3-3.6 0-13.6 0 18.5 .2-13.3 .2 9.4 0-3.5 .4 1.2 .6 6 .2-1.9 .2-9.4 .1 6.6 .2 .8 .6-17.8 .4 9.6 .1 3.6 .1-.3 0 9.3 0-11.5 .4 3.1 .3-1.9 .3 9.6 .3 7.6 .2-7 0-10.7 .1 7.7 .1 5.4 .1-9.4 0-.2 0-2.2 .2 .6 0 1.6 .3 1 .5 8 .2-11.1 .1 11 0-18.5 .2 1.9 0 18.6 .2-5.3 .2-12.4 0 .1 0 15.9 .1-10.3 .1 12 .2-14 .2 6.1 .3-.6 .1 4 .1-1.5 .1-.3 .1-9.2 .3-7.3 0-1.1 0 11.7 .2 9 0-8 .5 11.5 .1-11 0-9.2 .1 12.1 .4-4.1 .4 5.2 .2 4.4 .2-13.5 .1 4 .1-5.9 0 11.9 .1-2 .2-5.6 .3 10.1 .2-11.7 .1 9 .2 6.3 .1-3.1 .1-11 .2 2.9 .2-13.4 0 6.7 .2 3.8 .1 3.8 .1-21.5 0 16.1 .4 3.8 0-2.9 .1 12.5 .2-9.1 0 5.1 .6-9.5 .2-4.7 .1 3.5 .2 2.4 .3 2.7 .3 7.2 .5-2.6 .1-9 .2-4.4 0 9.9 .3-3.8 0 5.7 .1 5.9 .2-18.2 .1 7.2 0 .9 0-4.5 0 2.2 .1 5 0 1.9 .1-7.5 .1 1.6 .1 12 .1-4.2 .3-1.9 0-6.4 0-7.3 .2 12.1 .1-1.1 .1 4.5 0-6.9 0-2.4 .2 16.3 0-.2 .1-21.8 .2 10.8 .1-7 0 11.2 .4-11.4 .1 17.1 .5-2.4 .7-17 .3 5.1 .1-4.3 .2 9.9 .1 3.6 .1 3.7 0-9.5 .3 10.8 0-18.4 .1 4.9 .5 12.4 0 1 .1-20.5 0 .2 .1 11.3 .3 9.1 .4-9.5 0-8.1 .5-.3 0 5.3 .3-9.5 .6 15.1 .1-14.2 .1 7.3 .3 .1 .2 5.8 0-7.5 .1 8.9 .3 8.5 .2-11.1 0-3.2 .7 3.8 .2-6.2 0 7.3 0-24.3 .6 22.8 .3-7.9 .1 4.1 .1-2.4 .2-6.8 .4 5.1 .1 7.1 .1 5.8 .2-4.1 .1-12.6 .2 8 .3 2.5 .2-1.5 0-2.9 .1-3.4 .5-4.5 .4 2 .3 9 0-8.6 .1 14.6 .1-2.5 .1-6.9 .1-7.8 0 5.1 .2 17.4 .6-5.1 .1-5.6 .1 3.7 .4-.1 .1-13.6 .2-3.3 .1 13.3 .5-17.4 0 7.6 .4 12 .1 6.3 .1-12 .1-2.5 .2 11.7 .1-5.5 .2-17 0 9.3 .2 14.2 0-9.8 .1-4.6 .4 17.5 0-16.1 .1 7.5 0-9.8 .1 11.4 0 4.6 .3-11.8 .8 1.2 .1-9.9 .1 9.9 .1 12 .4-10.4 .1 1.5 .1 1.6 .2-1.7 .5-8.3 1-8.7 .6 20.6 .3-9.8 1.2-5.7 .4-.3 .1 9 .2-.8 .1 1.2 .2-4 0-1.5 .3 2.7 .1-4 .1 6.3 0-7 .1 9.1 .1 8.7 .4-1.2 .5-15.4 .1 6.3 .3 4.5 .2-7.3 .2 1.3 .1-8.3 .6 9.5 .2 1.2 .1 10.5 .5-8.3 0-6.4 .1-6.5 .1 3.3 0 6.3 0-2.4 .2 0 0 4.2 .2 5.2 0-18.6 .1 16.5 .7-7.1 .4 .4 0 8.6 .1-2.2 .5-4.8 .2 4.2 0-4.3 .1 .7 .2 3.8 .2 7.4 .1-19.2 0-1.4 .2 12.5 .3 3.8 .2-11.8 .1 13.2 0-18.6 .5 9 .1-12.9 .3 11.4 .3 6 .2 1.3 .2 .6 0 5 .4-8.9 .1-19 .1 15 .2 2.9 .2-9.6 .2 .7 .1 1 .2-1.3 .1 17.9 .2-18.1 .9 20.7 0-14.1 .1 5.1 .4-10.3 .2 5.7 0-3.6 .3-6.9 0 20.2 .1-10.9 0 5.1 0 4.1 .1-6.4 .1-7.9 .3 6.1 .1-1.1 .1 .7 .1 12.4 .2-16.2 .1-2.7 .2 3.6 .1 6.4 .1 4 .2-18.7 0 4.9 .3 .6 .1 9.4 0-3.6 .1-2.4 .2 12.2 .1-16 .1 8.5 0-11.3 .1 16.7 .2-11.4 .1 7.1 0 7.1 .3-13 0-10.4 .1 18.2 0-9.1 .2-5.7 .2 5 .1 12 .1-17.5 .1 5.3 .1 9.1 .3-6.9 0 4.2 .2 3.2 0-.6 .1-8.1 0-4 0 22.7 .7-20.4 .3 2.5 .2-4.9 .5 15.4 .3 .4 0 .9 .2-6.9 .1-5.2 .8 6.9 0-4.1 .1-3.1 0 6.7 0-2.7 0 3.5 0-1.7 .4-4.3 .4 12.5 0-6.8 .1-3.9 .4-7.3 0 7.4 .1 1.5 .2-6.7 .2 17.1 .1 1.6 .1-12.3 .2 7 .7-16.7 .3 1.8 0 9.6 .2-19.3 .2 22.5 .2-.5 .3-11.8 .1 2 .1 9.8 .4-1 .2-8 .1-.3 .1-2 .8 8 0-9.8 .1 14 .3-5.1 0 1.6 .2 5.6 .1-12 .3-4.1 0 2.9 .1 .3 .4-13.2 .3 8.7 0 5.1 .2 12.7 .4-11.4 .1 2.1 .2-12.7 0 21.7 .1 2.3 .3-10.7 .1-9.3 .1 5.7 0 .6 .3-7.9 .1 15.8 .1-1 .3-4.4 .1-12.7 .2 21.8 0-5.8 .1-14.5 .3 21.9 .2-14.9 .2 10.1 .1 5 0-24.9 .2 15 .1 .3 .8-5.7 0 6.2 .2-5.8 .1-5.1 0 23 0-22.2 .1-4.2 0 20.1 .1-11.2 .2-1.1 .1-2.2 0 5.5 .1 5.8 .2-13.2 .3 6.5 .2 7 0-.6 .1-5.1 .3-.5 .2 .2 .3-3.2 .3 8.2 .1-8.3 .1 7.3 .1-9.8 .2 4.4 0 10.5 .3-7.5 .1-7.8 .1 11.8 .1-9.3 .3-14.5 .4 29 .1-17.8 1.4 11.4 .5-1.1 .1-2.2 0 .2 .3 3.6 .2-3.6 0-.1 .1-9 .3 3.3 0 .4 .2-6.2 .1 14.1 1.2-6.8 0 8.4 .2-7.8 .2 5.2 .2-6.9 .3-6.5 .2 2.9 .2-1.7 .1 18.3 .4-14.1 .1 5.8 0 .7 .8-1 .1-9.9 .4 3.8 .1 10.7 0-2.1 .1-5 .1-2.2 0 13.8 .1-9.1 .3-6.4 .2 1.5 0 7.5 .2-4 .2 11.7 .1-18.7 .3 4.4 .5 4.6 .3 5.4 .1-10.4 .3-4.5 0 4.3 .1 8.9 .2-1.3 .4-3.7 .4 5.4 .3-15.9 0 13 .5 4.4 0-11.2 .3 3 .1 1.7 .1-9 .1 9.5 .3-4.9 .1 8.3 0-10.8 .2 16.5 0-17.3 0 15.2 .4-8.4 0-9 .1 15.4 0-12.6 .4 6.2 0 8.5 0-9.7 .1 6.2 .1-11.3 .1-2 .4 7.9 .3 6.8 0-5.6 .1 1 .1-3.3 0-9.6 0 1.3 0 7 .1-2.8 .1 4.4 0 .6 .1-4.7 .1 5.8 .2-8.7 .1-.2 .5 5.4 0 5 .8-2.8 .1-8.5 .1 20.6 .1-7.4 .2 4.4 0-14.8 .2 1 .6 3.6 .1 1.8 0 11 .5-11.6 0-1.3 0-3.3 1.1 4.7 .2 5.4 .1-2 .2-21.9 .1 5 .1 14.9 .1-1 .1-9.5 .1 6.5 .1-.8 .1 19 .1-16.1 0-1.6 .8 5.6 0-10.1 .1 3.5" fill="none" stroke="none" marker-start="url(#hP)" marker-mid="url(#hP)" marker-end="url(#hP)"/>
<path d="M265.7 516.5v6.4M517.1 418.7v6.3M511.9 395.2v-12.2M438.0 420.7v7.2M422.6 417.4v10.9M332.8 468.7v6.5M336.3 469.3v12.3M438.0 422.6v6.5M419.7 422.5v12.7M381.0 443.8v-6.4M547.0 389.1v7.8M487.6 400.8v5.3M403.0 431.4v9.5M290.4 496.9v-7.1" stroke="#3a3838" stroke-width="0.9" fill="none"/>
<path d="M234.7 615.4l0 .7 .3 1.3 .1 2.1 .2-12.1 .1 11.5 0-5.5 .1-2.1 .3 8.4 0-5.7 0 4.3 0 2.4 .3-7.6 .5-.7 .3 .7 .2-10.4 .1 1.7 .1-4.8 0 4 0 .6 .3 .4 .1 2.9 .1-10.4 .4 7.1 .3 0 .1-8.5 .2 .3 .1 5.8 .3-11.1 0 5 .3 5.8 .3 2 .3-17.6 .1 8.1 .1 4.3 0-1.5 .1-8.3 .3-9.4 .1 11 .2-1.5 .1-1.2 0 9.2 0-9.7 .2-6.8 0-1.9 .1 2.7 .1 .4 .1-5.5 .1 12.1 .1 2.2 .1-2.3 .4-5.6 0-8.9 .1 10.8 .1-13.4 .2 3.9 .1-3.6 .1 11.2 .2-7.7 .1-1 .2 7.9 .5-7.7 0-4.9 .2 3.7 .1-7.1 0-4.6 .1 15.6 0-5.2 .1-1.1 0-2.1 0 15.5 .1-17.2 .6-2.6 .1 3.9 0 1.8 0-11.2 0 19.5 .4-12.1 0 5.2 .1-21.5 .2 31.5 0-26.4 .6 1.3 0-6.5 .2 10.8 .7-4.6 .1 6.9 .1 9.7 .1-11.8 .1 1.8 .5-22.5 .4 5.7 0 11.2 0-13.9 .2-3.2 .1 3.4 .3 12.1 0-10.4 .1-2 .2 4.4 0 3.9 0 .2 0-16.8 .2 24.1 .4-15.6 0-2.6 .2 8.2 .2-15.4 .6 13.9 .1-16.4 .1 2 .2 8.8 .1 12.7 .2-10.8 .8 1.2 .2-9.1 0 16.3 .3-18.4 0 4.9 .6-20.4 .5 20.4 .1-12.6 .1 5.9 .5-8.1 .7-5.6 .1 13.4 .4 1 .2-9.3 0 14.6 .1-15.2 .2 18.7 0-2.3 .1-14.4 .1 17.1 .1-16.8 0 13.7 .1-3.9 .1-2.8 .3 4 .3-10.9 0 2 .3 16.2 .1-19 .1 13.1 .3-4.9 0-9.1 .1 4.5 0 6.7 .1-9.5 .6 11.6 .1-.3 .4-.3 .1-12.2 .1 10.7 0-5.1 .2 5.8 .6-15.2 .2-5.6 1 21.9 .1-21.4 0-2 .1-3.3 .1 14.2 0-4.3 .1 8.2 .5-.6 0 11.1 .3-20 .1-3.5 .3 5.1 .1-5 .2-10.2 .1 12.1 .6-3.9 .1-.6 .1 9.9 .1-16.2 0 16.3 .1-19.4 .4 7.5 .1-8.1 .1 13.2 0 1.7 .2-7.2 0 14.9 .1-9.9 .1-1.4 .4-9.7 0 4.9 0 .4 .6 13.7 0-20.9 .1-1.6 .6 13.2 .1-10.5 .5 12.2 .2 2.4 .2-12.9 .6-5.3 .1-7 .4 17.2 .1 13.7 .2-20.6 0-2 .2 16 .1-14.4 0 8.7 .1-18.2 .3 17.6 0 6.5 .3 6.4 .1-9.4 0-7.8 .1 5.6 .1-7.7 .3 7.8 .3-5 .1-11.8 0 12.9 .4-2.3 .5 7.1 .1 1.5 .4-17.2 .1 24.2 .4-24.9 .2 14.4 .3-3.6 0 1.1 .3-4.4 0-8.1 .1-2.6 0 8.3 0 9.2 .5-7.5 .2 6.5 .1 .7 0 .5 .8-8.6 0-4.7 .1 24.8 .3-27.1 .1 6.8 .2 4.8 .1 8.9 .2-25.2 .2 18.8 .6-3.1 0 11.5 .4-7.6 .1-6 .4-18.5 .1 27.4 .1-15.7 .1 .4 0-2.4 .1-2.2 .2-5.5 .1 22.2 .1-13.9 .2 10.7 .1-2.3 .3-7.2 .2 14.3 .3-7.2 .4-6.1 .2 3 .2-4.1 .4-.9 .1 8.8 .1-3.5 .1-1 .2-4 .2 10.7 .2-1.3 .3 4.2 0 5.2 .4-31.1 .2 27.9 0-14.8 .2 15.1 .2 5.7 .1-25.6 0-.9 0-4.7 .1 3.6 .2-4 .1 17.8 0-3.4 .6-6 .2 18.5 .1-11.8 0-14.2 0 15 .2-.8 .2 10.8 .2-15.5 .1 15.5 .1-.8 .1-4 .3-9.8 0-3.9 .5 .7 .3 10.3 0-18.4 .1 22.6 0-23.8 .1 8.9 0-8.8 .2 5.1 0 3.4 0-3.7 .1-8.8 0 20.1 .1-9.2 .6 2 .3 5.1 .1-2.7 .2 3.2 .1-.7 0-4.3 .3-12 0 5.7 .1 13.3 .1-4.3 .2 8.9 .1-18.5 .1 8.7 0 .7 .1 15.1 .3-14.4 .2-1.3 .1 3.1 .2-.8 .2-18.6 .1 14 .1-1.1 .4 5.1 .1-12.9 .2-2.5 0 13.1 .1-13.1 .1 9.3 .2 3.2 .1-2.4 .1-11.6 .1-5.9 0 12.4 .4-5.4 .2 9.2 .1 4.1 .2-14 .3 9.2 .1-11.2 .1 17.8 .1 4 .1-6 .3 9.1 .1-6.5 .1-2.6 .1-1.2 .2-7.5 .2-7.5 .4 17.4 .1-20.6 0 4.7 .1 11.2 0-7.3 .2 11.3 .3-12 0-3.2 .1 8.1 0-10.4 .1 3.6 .3 5.8 .1 11.1 .2-5.1 .5-3.4 .1-15.2 .2 5.8 .1 4.3 .3 15.1 0-24.9 .1 9.5 .3-13.3 0 15.9 .1 12.9 0-8.4 .1-8.3 .2 4.9 0-3.1 .1 12.7 .3-9.6 .5 5.9 .1-14.1 .1 10.5 .2-1.2 .1-15.7 0 18.2 0-2.4 0 11.4 .2-12.9 0 3.1 .1-2.3 .1 1.1 0-.7 .3 1.9 .2-16.8 .1 27 .2-31.3 .2 19.8 .4 9.9 .1-12 .2 11.4 .2-18.2 .2-6.7 .1 6.6 .1-6.8 .1 12.1 .1-5.4 .1 8.5 .4-12.5 .1 18.5 .1-14.7 .1-1.8 .1-8 .1 21.1 .1 13.2 0-35 .2 11.7 .1-5 .3 17.7 0-3.8 .3-7.2 .2 11.6 .3-15.8 .2-2.5 0 0 .3-3.4 0 13.7 .2-.9 0-11.9 .2-.1 0 6.2 0 1.8 .4 5.7 0-4.5 0-8.1 .1 11.4 .1-2.3 0-2.9 .6-3.6 .1 14.6 .1-3.2 0-4 .1 2.1 .1-17.3 .1-6.9 .1 19.5 0-14.9 .2 19.1 0-4.6 .1 7.9 .1-16.5 .4 20.4 .2-9.7 .2-8.3 .4-9.4 .3 22.5 0-3.8 .1-10.9 .1 5.8 .2 10.9 0-5.3 .1-13.2 .2 15.9 .1 3.4 .1-14.4 .1-5.7 .3 2.9 0-1.1 0-5.9 .1 12.1 .1 .9 .1-8.6 0 10.7 .4 5.2 .2-14.3 .1 1.3 .2-.7 .1 8.2 .1-5.3 .1 5.1 .2 6.6 .4 3.9 .4-21.6 .4 19.1 .1-7.6 .2-11.2 .3 3.7 .1 7.7 0-22.4 0 2.3 0 6.7 .2 3 .2 4.6 0 12.8 .1-16.2 .1 6.7 0-2.2 .1-7.2 0-5 .1 13.1 .5 8.5 0-16.2 0-5.7 0 7.7 .2 .2 .2-4 0 15.6 0 2.3 .1-17.8 0 14.9 .2-3 .2-2.5 .1-5.1 0 14.3 .4-13.2 .2-13.2 .3 21.9 0-11.6 .1 4.5 .3-12.2 0 5.8 .1-9.9 .3-7.2 .4 4.3 .1 29.2 0-23 .1 15.8 .2-18 .3-1 .1 16.5 0-16.8 .1 12.7 0-5.2 .2 22.3 0-14.9 .1 8.1 .1-6.1 .1-12.6 0 9.6 .4 0 .2-4.3 .1 6.5 .2-7.6 .7 10 0 3.1 0-21.5 .3 1.9 .1 1.3 0-4.4 .1-4.1 .1 17.3 .2-11.6 0 21.5 .2-17 .2 5.5 0 8.9 .2-9.2 .1-3.4 .2 3 .2 .7 .2-3.9 .1-3.9 .1 13.4 .2-11.9 .2 22 .1-6.8 0-2.4 .4-9.8 0-1.8 0-9.9 0 28.9 0-11.2 .1-4.1 .1 18.8 .1-26.7 0 11.5 0-14.4 .3 8.6 .2 10.9 .1-11.6 0 .6 .4 2.3 0-4.4 .1 10.5 .1-8.9 .1 7.7 .1-12.1 .1 14.9 .1-17.1 0 5.7 .1 .8 .2-7.1 .3 18.8 0-4.6 .5-3.5 0-.5 0 17.7 .1-28.8 0 .1 0 8.5 .1-4.7 .3 7.1 .4-7.4 .1 2 .1 12.1 .1-15.6 .1 6.7 .1 14.2 .1-23.5 .3 19.2 .1-19 .3 11.1 .2-21.2 0 15.8 0 6.6 .1-15.5 .4 13.7 0 2.2 .3-4.7 .1 1.6 .1 .9 .1-2.8 .5-.8 .2-6.6 0 2.3 0-9.4 0 2.1 0 13.6 .1-.3 .2-3.2 .1 6 0-9.5 .1 6.1 0-2.7 .1 17.2 .1-14.8 0-2.5 .1 8.1 0-27.7 0 32.3 0-2.8 .2-18.1 .3 4.8 .2-2 0-5.7 .1 11.9 .1-1.2 .5 6.3 .1-9.7 .2-7 0 5.7 0 20.5 .2-4.4 .2 4.2 0-21.3 .2 4.5 .1-.3 .1 10.1 .5-13.6 .3 0 .1 4.2 0 6.4 .2 4.2 .6-12.6 .1 13.1 0-6.9 .1-5.2 .1-4.2 0 14.5 0-17.9 .1 11.8 .2-9.3 0 10.1 .1 2.2 0-9.2 0 3.4 .1-17.1 .5 22.7 .1-11.2 .3 3.7 0 7 .5 4.6 0-16.4 .1 4 .2 19.5 .1-30.8 .1 10.5 .1-6.1 .5 13.6 .2 6.1 0-18.9 .2 9.3 .3 3.1 0-5.8 0 11.6 0-16.9 .1-3.1 .2 20.8 .2-19.6 0 12.7 .3 2.9 0-12.8 .1 2.3 .1 .8 .3 2.6 .1-16.5 .1 12 .2-6.8 .3 10.1 1-7.8 .2 4.5 0-.3 .1 2.7 .2-7.6 .1-14.2 0 12.2 .1 11 .3 17.9 .1-33.4 .4 28 .2-22.1 .2 17.6 0-2.6 0 .8 .2-2.4 0-12.3 .1-14.8 .1 32.6 .2-21.3 .1 21.3 .1-13.7 0 7.6 .1-19.9 .1 11.9 .2-3.4 .3 9 .3-13.4 .1 6.1 0 10.3 0-13.1 .1-.5 .1 10.4 .1-12.4 .4 14.3 0 7.9 .3-18.6 .2 4.9 .1-9.6 .2 12.4 .4-7.2 .3-1.9 .2 14.3 0-21.3 .2 10.4 .1-8 .2-3.7 .1-.1 0 7.5 .3 .3 0 6.9 .1-13.7 .1 10 0-4.8 1.4 9.1 .1-20.9 .1 20.5 .1 8.4 0-3.3 .1-6.1 .5 14.8 .1-31.2 0 13.3 0-15.7 .2 19.3 .2 9.5 .4-14.7 0 8.3 .1-1.6 .1-7.6 0 1 .1-5.6 0 11.5 .2-10.8 .2 12.2 .3-.6 .8-3.9 .2-10.5 .1-1.2 .3 14.7 .1-5.1 .1 2 0 .1 .1 4.5 .2-6.2 .2 5 .5-2.8 .5-20 .1 16.9 .3 11.1 .3-28.2 .1 21 0-7.8 .5-1.1 .2 1.1 0-8.5 .2-1.2 .1 23.7 .2-20 .1-6.1 .1 7.2 .1 17 .6-11.2 .5-6.6 .4 8 .3-2.6 0-4.2 .1-2.9 .4 7.5 .1 1.8 .5 3.2 0-1.7 .2-10.1 0 18.1 .1-18 .1 14.1 .2-16.9 .1 19.8 0-13.2 0 10.3 .4-5.6 .1 7.4 0-1.6 .2-6.1 0-12.5 .1-4.9 .1 23.7 0 7.3 .1-14.7 .3-4.4 .1 8.9 .1 .2 .1-19.8 .3 13.6 .1 3.2 0 12.7 .2-14.9 .2 .1 0-2.6 0 12.4 0-21.2 .4 4.5 .1 4.6 .2 11.4 .1-23.2 .3 5.8 .1 2.7 .1-4.9 .2 8.8 .1 1.8 .2-11.1 .1 7.4 0 6.1 .3-.6 .1-3.1 .2-7.2 0 1.2 .3 4.3 0 6.9 0-11.4 .3-4.8 .1-4.7 .7 27.9 .1-14.8 .2 3.3 .1 3.5 .1-11.3 .1 18 .2-8.4 0 2.6 0-9.1 .1 3.4 .2 4.2 .1-16.9 .4 22.3 .2-8 .1-1.8 .1-8.4 0 12.6 .1-7.9 .1-9.6 0 3.9 .7-4.9 .1 23 .1-16.5 .1 17.6 .4 .7 .2-22.4 .3 11.3 .2-17.6 0 6.5 0 22.6 .2-14.1 0-6 .1 11 .1-13.8 .1 6.2 0 1.1 .2 5.6 .1-12.7 0 18 .4-1.2 .2-13 .1 16.4 0-3.6 0-20.1 .1 15.9 .5-22.9 .2 39 .5-7.4 .1-26.6 0 23.4 .1-20.7 .1 21.1 .2-8.3 .1 .8 0-14.4 0 .9 .4 11.6 0 3.7 .1 6.2 .1-3.7 .2-6.4 .2-11.1 0 15.8 .1-15.2 .3-2.3 .3 8.1 .1 9.5 .5 .7 0-8.8 .1 4.9 .1-6.1 0-10 .1 3.3 0 17 .2-20 .1 14.7 .6-18.6 .1 6 .1 10.4 .1-10.5 .1 25 .1-13 .1-15.4 .1 14.5 0-.7 .1-.6 0-3.7 .1-12.5 .2 12.2 .1 4.4 .5-14.5 .1 .5 .6 26.3 .1-14.6 .2-4.6 .1 10.4 0-13.2 0 1.7 .2 7.9 .2-8.4 0 7.2 0-11 .3-3.8 .3 8.1 .4 .6 0-.3 0 8.5 .1-11.1 .8 2.6 .7 2.1 0-4.1 0-.4 0 23.3 0-11.1 .4-10.1 .3 16.8 .2-20.3 .2 .2 .3-7.3 0 0 .3 20.2 .1-24.1 0 18.7 .1 6.6 .6 14.3 .2-16.6 .3-10.9 .2 10.1 .1-19.4 0 9.7 .1 1.1 .4 .5 0 18.5 .3-21.1 .7 11.3 .9 2.6 .2-5.7 0-4.1 .1-11.7 0 .9 0 16.2 .2-13 .1 3.6 .1-10.1 .1 12.7 .3-2 .3 .6 .2-3.7 .1 16.2 .1-17.4 .1 9 .1 11.2 .2-16.3 .1 9.2 .1-14.4 0 14.2 .5-2.7 .1 10.6 .5-22.7 .3 7.5 .2-2.8 .3 2.9 0 6.5 .1-7 .1 .4 .2 5.7 .2-16.4 .2 18.3 .3-7.2 .1 9.8 0 7.8 .2-26.3 .4 15.8 .2 2.4 .2 .4 .1-.2 .1-4.9 .5-16.8 .1 1.8 .1-1.3 0 14.6 0-4.7 0-15.9 .2 16.3 .3 1.1 .1 1.6 .1-7.9 .1 2.9 .1 10.8 .1-.8 .3-17.3 .4 4.1 .1 12.5 .3-5.9 0 4.4 .3 5.1 .1-.2 .6-6 0-4.3 .1-12.1 .3 21.5 .2-11.2 0 4.3 .1 1.5 0 0 .6 .3 .1 3.5 .1-4.9 0 0 .3 5.9 0-13 .4 12 .1-.6 0 2.9 0 3.6 .1-11 0-6.3 .2-4.4 .2 15.5 .2 1.5 .1-19 0 21.3 .1-10 0-2.5 .1 10 .2 1.3 .2-13.1 0 19.8 .2-29 0 12.1 .2-7.6 .2 5.2 .2-4 .3 10.9 .2 .9 .2-12.6 .1 3.7 .1 11.5 .1 7 0-5.7 .1-20.7 .2-2.7 .2 7.2 .1 2.3 0 7.4 .1-5.8 0-1.2 0-13.2 .2 25.3 .1-24.5 0 8.8 .2-3.2 .1 .7 0 1.6 .3 2.1 .1 12.6 .1-.5 .1-3.1 0-9.8 .1-15.1 .3 37.2 0-9.3 .3-5.4 .2 6.6 .3-8.4 .1 11.2 .2-16.6 .1-6.4 .1 23.6 0-30.2 .1 10.1 0 6.7 .2 7 .1-.5 .2-6 .1-12.7 .1 4.8 0 4.1 .2 10.7 .2 1.9 0 4.7 .1-27.4 .2-.5 .4 28.4 .1-13.2 0 16.2 0-8.1 .4 5.1 .3-27.3 .1 13.3 .1 2.4 .1-2.9 .1 2.8 .2-15.5 .1 10.1 .5-10 .1 17.6 .5-10.9 .4 9.4 .1-5.4 0 12.4 .1-25.7 0 11.8 .1-.2 .1 3.1 .3-8.5 0-3.3 .1 16 0-18.7 0 12.5 .3-.2 .2 .5 .1-1.2 0 5.4 .2-7.9 .3 .2 .3 11.7 .1-14 0 16 .1-11.5 .1-7.5 .2 4.1 .1 18.6 .5-20.8 .1 18.6 .1-14.2 .1 5.2 .1-16.1 .1 9.1 .1 6.7 .1-5 .1-10.6 .1 1.6 .2 13.8 .1-1.1 0 2.8 .1-3.2 .1 8.6 .2-11.1 .2-4.9 .1 7.8 0-7.2 .1 .1 0-4.7 0 7.2 .1 3.3 .4-10.7 .2 1 .6 9.7 .4 3.2 .3-14 .1 7.1 .1 6.1 0-2.7 .1-9.8 .4 3.5 .3-3.4 .1 12.7 .7-9.4 0-10.8 .2 20 .1-11.9 .4 .1 .1 5.2 .1 .3 0-.9 .3-4.7 0 6.5 0-1.3 .1 5.6 .3-15.2 .1 8.7 0 12.4 .3-3.5 .1 8.9 .1-41.6 .1 31.7 0-17.2 .1 4.4 0 3.5 .2-3.6 .2 3.9 .1-4.8 .1 8.4 0-3.5 0-8.4 .2 8.2 .3-13 .3 6.1 .1 12.9 .1-14.2 .1-4.1 0 24.8 0-13.8 .2 25.5 1-10 0-4.9 .2-7.1 0-12.1 .1 24.3 .1-25.2 .1 7.3 .2 23.6 .3-14.6 .1-5.3 .1 2.5 0 4.1 .3-9.3 .2 .5 .1-.8 .8-13.6 .2 15.7 0 17.4 .1 1.1 .2-3.3 .1-17.1 .3 5.5 0-1.9 0-6.4 .2 13.9 0-15.9 0-3.1 .6-3.3 0 24.4 .1-22.9 0 1.4 .1-2.7 .2 20 .1-2.9 0-8.7 .4-9.3 .1 11.1 0-13.2 .2 24.8 0-15.7 .3 17.3 .3-10.4 .1 14.5 0-32.3 .4 20.7 .2-6 0-3.7 .1 13.5 .1-3.5 .2 15.4 .2-22.8 .2 9.2 .1 3.1 .3-5.8 0 1.1 .1-1.6 .1 8.2 .4-25.3 .1-1.1 .1 9.8 0 7.2 .4-9.6 .1-2.6 .2 22.2 .1-21.5 .1 9.9 .1-7.1 .3-7.2 0 23.7 .1-31 .1 10.8 .2 9.3 .6 3.8 .1-8.4 .2 8.8 .1 6.9 .1 3.8 0-9.1 .1-2 .2 1.8 .2-4 .2 9.4 .2-18.4 0 10.2 .3 1.7 .2 12.3 .3-16.6 0 14.4 .2-10.4 .1 3.9 .1-1.6 .1 1.4 0 7 .5-14 .5-12.9 0 4 .4 31.6 .2-27.5 0-2.4 .1 4.1 0 19.3 .3-20.7 0 2.5 .1-9.2 .3 24.7 .1-15.7 .1-3.4 .2 2.3 .2 .3 .3 14.2 0-13 .1 1 .1 5.6 0-10.3 .1 10.4 .2-15.5 .1 19 .4-13.6 .4-2.9 .2 16.8 0-1.4 0-21.2 .1 2.5 .5 12.1 0 5.3 .2-.9 0 7 .5-11.6 .4-6.7 0-3.8 .2 6.6 .2 11.5 .4-13.4 .3 13 .2-28.2 .1 37.8 .1-26.9 .1-4.5 .1-3.2 .3 13 .1 11 .1-14.4 .1 13.3 .1-13 .2 4.4 .1-1.8 0-3.2 .1-5.6 .1 20.1 .1-2.6 0 5.5 .1-3.4 0-15.7 .3 2.5 .2 6.3 0 9.7 .1-24.4 .1 6.8 .2 24.8 .1-20 .2 1.2 .1 13.6 0-17.9 .6 17.1 .1-14.4 0-7.6 .1 3.3 .1 12.5 .2 1.8 .2-7.2 .1-13.3 .1 26 .1-11.1 0 5.2 .1-12.2 .1-1.3 .2 10.7 0-2.1 .2 7.7 .2-19.1 .1 16.2 0 3.7 .2-27.5 .4 17.3 .5 1.5 0-2.4 .5 .1 .2 2.3 .1-1.3 .4 .3 .1-19.2 .2 25.1 0 6.3 0-16.3 .1-8 .5 23.9 .1-7.9 0-5.7 0 4.1 .1-16 0 15.3 .1-11.3 .1 24.3 .2-28.8 0 19.8 .2-6.9 .1 5.5 .2-5.4 .2 7.9 .3-15.6 .4 13.1 .3 2.5 .3-4.4 .2-9.3 0 11.9 .6 .9 .5-.4 .1-10.6 .9-.4 .2 19.6 .1-18.4 0-5 0 22.8 .1-22.2 .7-8.9 0 18.5 .2 1.6 .1-5.9 0-6.5 .5 15.3 .5-7.8 .1 2.1 .1-16.4 .5 11.4 .1-.4 0-2.1 .1 15 .3-15 .1 3.1 .1 9.6 0-6 .2-.2 .3 10.7 0-31.1 .3 24 .1-9.9 0 18.1 .4-20.1 0 24.5 .2-9.5 .3-4.6 .3-11.9 .1 6.7 .2 7.5 .1-7.6 .2-7.7 .3 21.8 0-29.8 .1 2.8 .2 12.4 .1-4.2 .2-4.4 .1 11.1 0-14.9 .1-1.8 .6 21.6 0-15.8 .3 17.4 0-.2 .1-20.8 .1 11.4 0-6.8 0 10.8 .1 1.9 .2-6.9 .5 4.4 .1-3.3 0 18.6 .2-18.8 .2-1.8 .2-5.7 .4-4.7 .2-5.4 0 9.9 .3 17.5 .2 8.6 0-18.3 .1 13.6 .1 1.2 .2-18 .2 8.7 .2 3.6 .1-2.5 .3-10.5 .1-1.6 .1 9.2 0-4.6 .2 15.1 .2-19.5 0 .3 .4 6.2 0 .5 .1-4.9 0 6.4 .1-6.3 .3-7.1 .1-.3 .2 14.7 .9-7.9 0-10.2 .1 22.1 .2 1.6 .1-3.7 0-17.2 .1 16.9 .1 11.3 .2-13.6 .1-2.7 .3-15.9 0 3.3 .1 22 .1-29.3 .2 25.6 .4-4.5 .1-13.7 .3 3.3 0 17.5 .1-19.2 0 19.6 .2-14.2 .4 1.2 .2 4.9 .3-2.2 .1-8.8 .1-.9 .5 3.2 0-4.1 .1 21.2 .1-10.9 .2 12.8 .1-4.7 0-5.2 .1 2.6 0-.8 .1 14 .1-8.3 0-16 .2-.7 0-5.9 .1 21.1 .2-8.8 0 0 .6 5.9 .4 8.5 .1-24.5 .5 11.5 .1 5.7 .3-7.5 .2-17.9 .3 21 0-20.2 0 5.1 .5 4.7 .1 7.3 .5 8.7 .1 0 .2-16.3 .1 2.8 .1-7.6 0 11.7 .1-10.8 0 5.5 .3 .2 .3-3.6 .2 6.8 0 2 0 9.2 0-17.8 .1 26.4 .1-30.8 .5 21.8 .1-7.8 .1 4.3 0 4.8 .2-5.7 .1 2.9 .1 3 .2-22.4 0 4.5 .1 1.3 .3 15.9 .2-9 .1-6 0-4.4 .2 21.1 .2-10.6 0-4.7 .2 5.3 .2-2.6 .2-7.8 0 16.6 .2-27.1 .1 28 .1-17.9 .1-2.3 0 1.8 0-5.2 .2 18.7 .1-13.2 .2 14.7 .4 9.6 .2-12.3 0 12.4 .3-19.6 .1-7.8 .2 9.9 .1 5.5 .3-.7 .1 7.2 .1-21.8 .1 6.4 .2-6 .1 5.9 .2 4.4 0 4.2 .1 5.7 0-21.6 0 17.2 .2-14.8 .2 10.7 0-1.1 0 2.7 0-3.1 0 1.7 0-6.9 .1-.4 .2 12.3 .3-.2 .1-14.1 .1 20.1 .1-21.4 .1 6.8 .3 13.4 0-16 .7 18.1 .2-18.1 .1 16.8 .2-2.8 0-16.9 0 8.6 .3-10.6 .2 6.6 .2 21.8 .2-23 0 24.9 .1-8.7 .1-31.1 .1 18.7 .1-5.1 0 20.1 .1-4.8 0 1.2 .2-2.2 .1-11.3 0 17 0-10.4 .1 7.8 0-11.7 .4 16.8 .2-13 .3-14.6 .2 5.2 .1 14.3 .1-10 .1 8.4 .2-20.9 0 7.3 .3 11.8 .2 2 0-4 .2 2.3 .1-15.6 .3-.9 .2 14.7 .2-12.9 .1 17.5 .1 .1 .1-15.7 .4-9.6 0 13.5 0 2 .5-15.5 .2 15.1 .1 2.7 .1-7.5 .1 7.9 0-13.3 0 9.6 .5 11 .1-12.4 .3 13.7 0-18.3 .1 23.8 .2-27.5 .5 14.1 0-17.2 0 8 0 9.9 .3-14.1 .1 17.1 .2 .2 0-2.2 .2 3 0-14.2 0 6.9 .4-1.9 .3 3.6 0 4.1 .1-6.2 .2-15.9 .1 14.1 0-6.6 .1 10.7 0 8 .1-15.8 .2 2.2 .4-.2 .5-9.8 .1 15.5 .1-6.8 .1 17.1 0-19.5 0 5.6 .1-6.1 0-12.2 .1 34.5 .6-19.9 .1-10.9 .1 1.4 .4 12.1 .1-7.8 .1-.2 .3 21.5 .1-19.6 0-2.7 .2 15.4 .1-23.4 .1 36.5 .4-5.6 .1-12.8 .1-20.1 .5 19.7 .1-13.4 .2 35 .4-4.6 .4-33.8 .1 12.5 .2-.3 .5 17.1 .3-28 .1 17.1 .1 6.6 .1 7.6 .1-18.6 .7-2.4 .2-5.4 .6 6.9 .1 7.9 .3 1.1 .3-16.6 .1 3.2 .1 7.6 .1-5.2 .1-2.2 .3 .6 0 12.8 0-8.6 .3-.3 .1 14.3 .8-12.8 .1-7.7 0 3.3 .4 12.1 0-17.8 .2 19.3 0 3.2 .3-22.8 .1 19.4 .1-17 .1 7.9 .1-11.8 0 18.8 0-11.1 .1-8.5 .5 21.9 0-15.5 .1 22.4 .3-29 .1 8.7 0 1.9 .2-4.4 0 18.9 .2-19.5 .3 4.1 0-4.9 .1 8.2 .1-4.1 0-5.8 .2 8.9 .5-1 .1 11.1 .1-8.8 .2-3.9 .1 1.6 0 4.9 .4-20.3 .1 30.1 0-5.6 .1-28.1 .3 43 .2-18.9 0-2.4 .1-5.9 .1-7.5 .1-1.1 .1 12.8 .1-10 .1 10.6 .2-9.6 .2-4.7 .3-10.4 .1 33.8 .2-18 .1 0 .3-8.1 .3 6.9 .2 5.1 0 6.1 .2 8 .2-31.1 .2 18 .2-13.5 0-6.7 .8 30 .2-2.1 0 6.1 .2-27.7 .3-4 .1 13.9 .1 15 .1-26.1 .2 6.2 .2 23.7 .2-29.2 .1 3.8 0 24 0-1.8 .1-4.7 .1-17.5 .1 26.4 .1-17.5 0-.5 0 19.1 .1-22.3 0 11.9 .5 1.2 .3-17.4 .1 1.1 0-1.7 .1 8.5 .1-8.2 .1-2.7 0 17 .3 .9 .2 3.5 .1-9.8 .2-9.7 .2 5.2 .2 2 .1-3.4 .1 24.5 1.1-7.6 .1 1.1 0-13.3 0-10.3 .2 17.8 .1-15.6 .1 17.5 .1-17.8 .5 9.7 .1 6.4 .6-18.8 0-3.1 .1 35.8 0 6.9 .1-36.9 .2 19.9 .1-1.4 0 3.3 .1-24.4 0 30.6 .5-21.2 0 13.3 .1-11.3 .3-3.2 .1-5.7 0 5.8 .1 7.3 .3-4.2 .1 14 0-18 0-3.2 0 16.7 .1-16.9 0 3.6 .4-.4 .1 9.3 .3 3.8 0 4.7 .1-4.5 .1-11.9 .4 11.6 .1-5.6 .1 3.8 .2 7 .5-11 .4-12.4 0 24.2 .4-18 .1 1.6 .2 10.6 .2-.1 .1-11.3 .1 16.2 .1-24.5 0 4.3 0 8.3 .3-7.5 .2 3.1 0-6.5 .3-8.1 .6 16.3 .2 13.8 0-4.1 .3 5.5 .1-13.4 .2-4.7 .5 1.4 0-5.4 .1 5 0 8.3 .1-9 0-4.2 .3 10.7 .1-5.4 .1 5.7 .5-1.6 0 4.8 .3 2.6 0 2.6 0-7.2 .1-14.9 0 7.7 .2 18 .1-27.7 .1 20.4 .4 5.1 .4-25.2 0 15.6 .2 4.3 .4-6.8 0-12.6 .1 15.9 .1 2.4 .2-11.9 .3 7 .5-6.5 0-2.2 .5 15 0 3.4 .2-23.2 .1 3.6 0-.4 .3 20.3 .1-9.7 .4-15.2 .1 19 .2 12.9 .1-10.5 .1-11.6 0 15.2 .1 7.6 .8-9.7 .2-21 .4 18.5 0-11.8 .1 21.5 .1-3.5 .1-25.4 .6 15.6 .2-8.8 0 12.7 .1 4.2 .1-6.3 0-9.6 0 12.2 .2-17.4 .1-2.9 0 2.4 .3 7.8 .1-9.2 0 7.3 .4 8.1 0-19.1 .1 14.8 .2-3.7 .1 4.9 .4-.9 .1 14.1 .6-4.3 .1-11.6 .1 4.8 .1 4.7 0-15.7 .1 7.5 .2-15.1 .4 19 .1-2.1 .2-10.8 .2-2.3 .3 10.5 0-20.4 0 9.9 .1 21.6 0-1.5 .5-9.8 .3-12.3 .1 14.3 .1-11.4 .1 9.3 .2-13.4 .2 16.9 .1 4.6 0 2.1 0-7.3 .2 8.2 .2-17.6 .1 18.6 .7-26.5 .3 32.8 .1-27.9 .1 6.6 .2 12.9 .1-11 0-9.6 .3 10 .4 1.1 .3-18 0-7.1 .1 21.6 .1-11.5 0 19.3 .1-10 .1 15 .1-15.7 .1 15 .2-19.6 0 10.7 0 1.7 .1-7.2 .4 6.3 .1-4.9 0 18.3 .3-21.6 .2-8.8 0 9.6 .2-4.1 .2 8.5 0 5.6 0 3.5 .2-8.7 .1 10 0 6.2 .2-20.7 .4 6.3 .1-10.8 0 13.1 .5 4.2 0-13.2 .2 5.3 0 23.4 .1-17.8 .1-19.6 .3 13.2 0-11.1 0 11.5 .1 14.5 .1-18.6 0 11.9 .5-12.4 .4 23.6 .1-12.2 .1 2 .1-11.8 0 1.7 .3-4.2 .5 1.7 .1 11.6 .2-3.9 0-1.7 .2 13.4 .2-18.1 .2-10.5 .2 12.3 .4 7.9 .2-26.8 0 16.8 .1 8 .1 1.1 .1-2.8 .1-6.2 .2 22.9 0-21.6 .1 4.5 .1 1.4 .2-2.2 .1 6.3 0 6.9 .1-10.2 .1-15.4 0 6.2 .3-9.4 .3 11.1 .1 13.9 0-11.6 0-3 .1 10.4 .1-12.5 .2 2 .1 8.3 .2-4.3 .2 1.3 .1 5.4 0 5.1 .7-.3 0-14.1 0 5.6 .1 20 0-8.1 .2-18.1 .1-3.3 .1-9.4 0 6.9 0 22.2 .1-1.7 .2-11.6 .5 10.3 .5-3.4 .1-20.4 .1 3.9 .1 15.3 .2 8 0-14 .1-12.3 .1 15.3 .8 .2 .1-19.4 .1 8.7 .2 11.2 .3 8.2 .2-13.9 0 9.3 .3 3.1 .1-4.4 .4-6.7 .3 8.8 .1-16.7 .1 16 .5-19.2 0 7.9 .4-2.4 .1 20.9 .1-11.8 .1-10.3 0-7.3 .2 9.2 0 .5 .5 18.4 .2-8.9 .2-8.9 0-2.9 0 12.8 0-5.9 .1-9.7 .2 11.5 0 9.8 .1-9.3 .1-18.4 .2-2 .1 30.4 0-11.4 .1-11.1 .4 7.5 .5 11 .2-24.1 0 11.9 0-6.9 0 9.5 .3-1.2 .2-16.3 .1 8.2 .1 2.9 .4 2.5 .2-14.8 0 12 .5-1.7 .4 2.7 0 14.1 .4 2.1 0-7.5 .1 3.7 0 16.6" fill="none" stroke="none" marker-start="url(#hK)" marker-mid="url(#hK)" marker-end="url(#hK)"/>
<path d="M582.9 444.1v11.9M347.4 490.9v11.1M559.2 459.5v9.3M349.0 495.0v11.6M401.4 476.8v10.5M265.6 542.8v-11.3M366.7 496.4v11.7M452.9 467.1v7.2M511.0 469.1v8.7M335.3 495.1v-5.4M354.2 492.5v10.2M446.8 450.8v10.0M252.6 558.3v-10.3M596.2 454.2v6.6" stroke="#3a3838" stroke-width="0.9" fill="none"/>
<path d="M235 686.5l.3-5.4 .1 6.1 .3-5.3 .1-2.1 .1-9.6 .1-10.7 .1-5.9 .1 .9 .2-9 .1 4.8 .4-2.8 .5-17.7 .2-3.3 0 11.4 .1-12.8 .3-.1 .1 8.4 .3-15.1 .2 6.6 .1-14.2 0 12.1 .1-1.4 .1-1.5 .4-3.1 .1-9.1 .3 16.5 .6-14 .1-8.7 .4 3.8 .2-5.8 0 6.9 .3-2.1 .3-7 0 .6 .2 12.3 1.3-11.5 .1 4.6 .3-2.3 1.4-26.6 .6-3.4 .3-1 .1 14.5 .1 6.3 .2-20.2 0 10.2 .3 9.2 .1-6.2 .2-1.6 .6 2 0-5.8 .1-6.5 .2 11.4 .1 1.2 .2 8.2 .1-13.7 .1 10.7 .2-27.8 .1 12.8 .4 14.9 .2-9.9 .1-7.2 0 15.8 .2-20.9 .2 4.4 .3 5.8 .2-3.3 .1 13.8 .6-10.8 .1 3.3 0-2.3 .1-17.6 .2 22.4 .2-4.7 0-10.9 .2 1.3 .2 4.3 .1 .6 .1-3.7 .2-4.3 .4 14.1 0-21.3 0-.2 .4 16.2 .1-14.6 .5 9.5 .6-.9 0 6.4 .1-3.8 .1-.6 .3-4.8 0 1 0 6.2 .3-7.4 .2 4.3 .2-13.1 .1 16.1 .1 1.5 .1-2.3 0-7.8 .1-6 1.1 0 .1-1.9 .7-2 .2 13.1 .3 3.1 0 2.9 .3-14.7 .1-4.5 .2 5.4 0 .3 .3 5.2 .1-4.6 .4 5.6 .5-6.6 .2-3.8 .2-2.2 0 .2 0 2.7 .5-9.1 .3-7.8 .1 5.1 0 13.1 .1-1.5 .8-2.2 0-.4 .6-5.4 .5 2.9 .1 13.2 .5-7.9 .3-11.3 .7 4 .4 .9 0-.8 .2-6.4 .1 12.3 .1-6.7 0-10.4 .3 3.4 .5 9 .2 2.4 .7-18 .2 22.9 0-14.9 0-2.8 0 13.1 .4-14.9 .1 .5 .1 4.3 0 8.4 .2-15.6 .1 10.2 .3 14.5 .5-17.5 .5-7.7 .2-5.1 .3 11.6 0 14.1 .1-19.1 .3 5.6 .7 2.2 .2 6.2 .5-8.1 0-8.1 .5 13.6 .1 4.1 .2-14.1 .1 9.7 .5-9.4 .1 7.8 .6-22.1 .2 31.8 .2-28.4 .3 8.4 .2-7.8 .3 2.8 .1 13.3 .1-4.1 .9 4.1 .1-15.5 .5 6.8 0 14.8 .4-6.2 .3 1.9 .1-16.6 .1-4.5 .1 5.3 .2 12.6 0-2.4 .3 2.3 .3-.3 .3-10.1 .5-5.6 .2 26.5 .2-13.8 .1 3.2 0-8.6 .5 6.9 .2-13.4 .7 15.7 .1-21.9 .2 12.2 .3 15.2 .8-15.6 .1 15.8 .2-38.4 .1 25.5 .4-9.8 0 .7 .1 3.8 .2 .7 .5-10.2 .3 15.1 .5 8.5 0-25.2 .2 8.2 .1 .8 .2-7.9 .2 9 .2-.6 0 18 .1-24.9 .1 18.3 .2-14.9 .6 5.7 .1 3.9 .1 6.7 .3-6.1 0-6.4 .3 2.4 1 1.7 0-11.6 .1 15.7 .1 .8 .3-20.3 .1 6.1 .5 3.6 0 9.6 .2-23.4 .1 10.4 .3-9.8 .3 22.7 .1-15.1 0 10.4 .2 8.2 0-5.7 .4 1.5 .1-6.9 .1-6.9 .4-12.8 0 4.4 .6 22.3 .6-6.7 0-14.1 .5 9.1 .4-4.5 .1 2.1 .2-.5 .1-.6 .4 13.1 .9-26.5 .5-1.1 .4 17.1 .2 3.7 .3-14.1 .6 12.2 .6 4.1 .2 4.7 .2-27.5 0 26.1 .2-10.6 .3 5 .5-15.2 .1-.6 .1 17.2 .1-4.5 .1-1.2 0-3.6 .1 .8 0-5.1 .2-6 .5 15.6 .5-9.2 .6 1.7 .3 21.3 .3-14.3 0-8.6 .2 12.6 .2-.5 .2-3.6 .2-7.6 .1-7.8 .1 12.5 .1 1.3 .3-3.3 .4 5.6 .3-10.8 .1 5.8 .8-17.2 .6 10.7 .4-11.5 .1 3.9 .2 .9 .5 20.6 .3-8.9 .2-17.9 .2 11.2 .1 12 .9-20 .2 28.1 .2-7 0-19.9 .1 10.5 0 16.1 0-29.5 .3 21.2 .3-21.3 .3 6.9 .2-7 .1 2.7 .2 5.2 .1-11.2 0 10 .2 2.5 .7-8.6 .1 15.6 .3-21.8 .1 7 .4 15.9 .1-3.4 .1-3.1 0 12.3 .1-16.3 .5 6.6 .3-3.4 .4-3.4 .1 20.1 1.3-19.7 .1-7 .8 18.3 .6-2.5 0 3.9 .1-24.6 .7 15 .3-2.7 .2 4.2 0-.8 .5-7.4 .1 2.7 0 1.3 0 5.5 .4 2.1 .3-8.3 .1-8.1 0 12.3 .2 1.3 .3-9.8 .5 12.8 .1-14.4 .1 7.4 0-11.4 .4 12.4 0-4.3 .1 1 0-8.6 .3 7.9 0 3.2 .2-7.7 .1-2.5 .9 9.1 .1-9.9 .2 10.8 .1 3.5 .1-10.2 .1-3.1 .1 5.4 0 9.1 .1-9.1 .9-9.3 .1 29.7 0-9.2 .1-1.5 .6-11.7 .6 8.4 .3-.1 .2-2.5 .1-9.6 .1 14 0 6.2 0-17.3 .3-7.3 0 17.2 .4-4.9 .1-7.6 .6-9.2 .2 3.8 .3 23.4 .4-23.9 0-5 .4 7.2 .2 1.8 .2 13.9 .3-7.5 .1-2.2 .3 6.5 .1 7.3 .2-18.4 0 12.4 .3-14.5 .3 6.1 .3-3.6 .1-8.4 .1 18.9 .7-20.3 .1-.4 .3 23.5 .1-5.9 .2-4.6 .4-3.5 .4 3.3 .1 11.6 .2-4.6 0-13.1 .1 12.1 .2 9.1 .1-15.1 .3 5.7 .3 .3 .1-12.4 .3 21.7 .2-2.4 .1-4.6 .1-4.4 0-6.6 .2 4.3 0-3.6 .6 1.9 .5-3 0 .5 .5-6.2 .1-3.4 .1 5.5 .3 12.1 .1-10.5 .5-2.6 .2-4 .4 6.9 .2 11.4 0-21.3 .4 16.9 .3-11.7 0-1.5 0 12.5 .4 6.4 .4-13 .5-12.3 0 17.8 .2-14.5 0 7.8 .2 7.6 .3 4.2 0-6.9 .4-7 .1-11.2 .9 13.1 .3-11.9 .3 7.2 .2 2.4 .3 2 .1 11.3 .3-4.9 .3-9.4 .4-2 .3 1.5 .1 9.7 .2-5.4 0-6.9 .4 1 .3 17.3 .3-4.9 0-1.4 0-20.4 .1 30.6 .2-15.5 .6 12.8 0-21.1 .8 5.1 .4 13.2 .3-17.9 .1-2.5 0 4.8 .7 10.6 .4-15.4 .1 15.4 .1-17.1 0 23.9 .2-2 .1-10.9 .3 8.1 1.1-9.5 .7-12.5 .4 9.4 .2-9.1 0 11.1 .2 7.8 .2-19.8 .4 21.6 0-17.5 .5 5.7 .2-.4 .2-1.9 0 7.7 .2 3.1 .4 3.7 .1-5.7 0-4.3 .1 5.7 .3-4.4 .4-7 .4 6.4 0 3.4 0 10.4 .3-16.5 .2 12.4 .1-14.4 .1 5.7 .5-8.6 .1 29.7 0-24.3 .2-4.9 .3-.9 0 5.2 0 19.6 0-12.1 1-1.7 .2 .7 .3-13.8 .2 11.5 .1 1.2 0-7 .5 9.2 .1-4.6 .1-19.3 1 29 .1-27.5 0 25.3 .1-4.5 0 1.1 .5-18.3 .1 4.2 .5 13.7 .1-7.8 .2-9.9 0 9.4 .2 11.9 .2-4.5 .3-3.8 0 5.1 .8-17.7 .5 17 .2 .3 .3 .1 .1-19.3 0 17.7 .7-12 0-6.2 .1 27.3 .2-14.1 .3-9.6 0 20 .1-19 0 3.4 .1 9.7 .3-15.5 .2-.8 .3 8.3 0 1.7 .1-.9 .5-9.2 0 21.8 .1-22.8 .9 6.9 .2 14.5 .1-10.4 .3-13.9 .6 .3 .1 14.8 .2 .8 0 6.8 .2-5.1 0-2.5 .4-6.1 0 4.4 .2 4.8 .1-2.3 .1 5.1 .4-3.8 .1-22 .7 21.8 .3-11.6 .2-1.2 0 4.2 .1-2.1 .1 16.6 .1-20 .5 .1 .1 24.7 0-13.1 0-19.8 .1 17.5 .1 0 0 14.2 .3-15 0-3.8 .8 14.3 0-13.1 .1 5.1 .4-7.4 .4-10.8 0 16.7 .1 1.4 .2-1.3 .1-11.4 .1 .8 .2 9.2 .7-5.6 .3 10.2 .2-13.4 .1 2.5 .1 7.3 .1-5.1 0 7.8 .3-14.4 0 16.6 .1-6.4 .1 5.8 .3 5.4 .3-2.1 .1-20 .1 12.8 .3-3.9 .8-11.2 1 15.9 .1-4.4 0-1.1 .1-4.3 .3 1.2 .2 15.2 .2-4.5 .1-10.3 0 1 .1-6.4 1.1 21.6 0-18 .3-4.3 0 16 .2-6.1 .1-5.8 .1 15.1 .1 .5 .1-17.1 .4-9.2 .5 7.1 .4 6.7 .1 5 .7 1.4 .1 1.2 .1-.4 0-5.4 .1-.4 .1 6 .3-7.6 0 10.8 .2-14.4 .3 2.6 .8-.1 .1 12.9 .1-18.4 .3 9.3 .6-2.1 .1-6.2 0 14.5 .1-13 .2-8.1 .3 11.2 0 2.5 .3-5.4 .2-7.6 .1 13.9 .2 10.1 0-4 .5 5.2 .5-17.8 .3 10.5 0-3.7 .2-.3 .1-19.4 0 1.2 0 2.5 .3 11.6 .1 1.1 .8-.3 .8 13.5 .4-11.8 .1-5.2 .3-9.4 .1 10.2 .1 2.4 .1 8.8 0-17.2 .2 6.3 .1 5.3 .3-3.2 .1 11.1 0-6.3 .6-10.3 .1 9.1 .1-5.4 .2 6.6 0-4.5 .1-11 .3 .6 .3 27.9 .1-10.1 .1-9 .2 .7 0-5.3 .8 .4 0 4.6 .1-.4 .2-1.7 .1-11.6 .5 14.8 .1 1.3 .5-7 .1 7.9 .2-14 .3 22.4 .2-21.4 .5 6.9 .1 5.3 .3-15.8 .2 5.1 .1 4.2 0-5 .5 17.4 .1-4.9 .7-11.8 .8 18.4 .2-9.1 .3 .9 .4-21.5 0 13 1.3-8.2 .3 6 .1 .1 1-10.2 .3 19.2 .1-10.6 .7-14.1 .4 19 .4-7.4 0 10.2 0-9.2 .1 5.6 .2 19.9 .3-14.3 0-25.9 .4 9 .8-.9 .9 20.9 .1-1.7 .1 0 .2-8.9 .3-2.5 .6 4.8 .1 3 .1-2.1 .2-9.7 .1 9.7 .8-10.2 .3 5.6 .4-.3 .4 3.8 0 12.2 .3-24.4 .4 10.5 .4 5.5 0-2.6 .9 8.4 .7-17.9 0 13.7 .1-3.5 .5 6.3 .2-8.1 .2-1.4 .6 5.2 .2-11.8 .1 1.2 .3-17.8 .5 25.6 .7 6.3 .3-22.2 0 16.1 .6-7.2 0 5.3 .5-6.6 .2 4.7 .5-1 0 3.2 .1 .5 .1 4.3 .7 4.9 .2-8.4 0-11.5 .5 1.3 .2-2.4 .1 8.3 0-2.8 .4 13.4 .3 3.9 0-11.4 .2-10.1 .2-1.1 .2 10.2 .4 1.3 .1-18.9 .2 16.9 0 9 .5-17.2 0 9.6 .3-6.1 .2 11.9 .1-19.2 .4 14.8 .3 2.6 0-1 0-9.8 .2 1.1 0 9.1 .3-13.4 .1-3.4 .1 9.6 .7 4.6 .1-9.1 .1-11.1 .3 24.8 .2-5 .2-9.5 .1 12 .8-9.7 .3 7.1 .1 5.5 0-11.3 .1-4.3 .2 11.1 .2-15 .2 11.2 .7 6.3 .2-5.2 0 4 .1 4.2 .8-17.3 .3 9 .2 1.6 0-.8 .3 .7 .4 6 0-9 .1-13 .1 10.2 .1 8.3 .1-.5 .3-4.6 .3 1.7 .4-4 .4-14.3 .1 .4 .1 9.9 0 12.1 .1-4 0-13.8 0 11 .1-15.8 .2 15.1 .2 4.9 .6-7.3 0 3.1 .4 13.6 .2-2.3 .2-.2 .1-6.7 .1 15.1 .2-17.1 .2-19.2 .1 10.8 .4 7.6 .2-18.7 0 13 .7-11.1 0 3.2 .8 14.1 .2 5.2 .2-10.6 0-9.7 .3 16.1 .1-14.4 0 1 .2 4.6 0 13 .1-11.4 .2 9.4 .1 .7 0-13.2 .1 6.2 0-7.7 .1 16.7 1.3-9.6 .7-4.7 .3 5.8 .3-6.2 .1 8.5 .1-10.2 0 9.9 .3 10 .1-2.5 .1-3.6 0-2 .4-7.5 0 20.4 .7-34.7 .1 16.9 .2 .2 .1-16.8 .8 27.1 .7-11.1 0-11.2 0 8.3 .1 4.4 .3-5.2 .4 9.1 .5-3.2 .2 11.1 .2-19.6 0 9.4 .1-5.8 0-3.7 .2-6.2 .3 11 .5 .2 .1-2.5 .4-3.2 .5 1.7 .5 8 0-11.6 1.1-4.7 0-.2 .1 3.1 .2 8.2 .9 .7 .1 3.1 .3-11.9 .2 .1 .1 1.1 .3 10.6 .1-3.6 .1-5.2 .4-5.8 .2-.9 .4 23.3 .3-14.6 .1-3.9 .3 11 0-14.6 .3 6.5 0 1.6 .4 6.8 .2 2 .4-16.3 0 14.3 .1-11.5 .2-3 1.3 11.6 .1 4.8 .2-11.1 0 10.5 .1-3.3 1.6 1.1 .1-11 .1 17.5 .2-11.3 .2 3 .1 .5 .3 4.7 .4 2.2 0-18.7 0 8.1 .5-9.3 .9 21.1 .4-4.2 0-26.7 .1 19 .2 .2 .3-2.4 .7-5.6 .3 9.4 .2-5.1 .1-6.7 .4 12.9 .2 1.6 .1-2.4 .4 18.1 .1-23 .2 3.8 .1 6.7 0-12.3 0 17 .2-17.1 .1 17.9 .1-15.5 .1 9.3 .2 6.3 .4-10.4 .1 .5 0 1.5 .7-8.4 .1-6.1 .1-4.3 .9 19.9 .2 3 .1-19.9 .3 18.5 .1-18.9 .1 22.2 .3-7.7 .4 9.2 .1-15 0 8.5 .1-9.1 .4 11.9 .1-10.2 0 5.6 .4-9.8 .4-.1 .2 .8 .8-10.4 0 28.4 .4-17.8 .3 8.9 .1-6.1 0-5.7 .2 12.6 0-4.2 .1 5.5 .3-3.4 .1 3.8 .3-1.2 .3-16.3 0 2.3 .1-5 .6 1.6 .1 10 .5-7.5 0 6.9 .1 23.3 .3-23.8 0 .5 .3 3.4 .2-5.6 0 7.8 .1 6.8 .1-23 .5 6.8 .3 8.5 .1 5.8 .5-12.6 .3-2.3 .1 17.8 .1-26.9 1.1 8.3 .1 4.2 0 1.4 .1 4.5 .1-9.7 .1 11.5 .2 .2 .1-11.6 .3 7.3 .2 5.6 .1-8.1 .2 3.3 0-12.9 .5 7.5 .1 14.9 .2-14.7 .1-.4 .1-1.9 0-1.4 .3 3.9 .2 1 .5-11.3 .3 11.2 .4-9.7 .1-4.1 0 1.3 .3 2.2 0 19.3 .4 6 0-4.8 .2-13.7 .1-9.5 .8 6.7 .2 13.3 .1-10.9 .5 .1 1 21.6 .7-25.2 .3 10.4 0-4.7 .3 6.6 .1-8.6 .2 7.8 0-22.6 .2 23.1 .1-7.3 .1 5.4 .2-5.2 .3-1.2 .3 12.9 0 5.5 .3-16.4 0 7.1 0-6.1 .2-2.7 .7-5 .1-1.9 0 20.5 .1-10.5 0-10.2 .1 14.6 0-4.2 .5-.9 .1-.8 0 10.6 .1-15.1 .2-4.4 .3 4.9 0 17.7 .9-19.4 .1-1.8 0 9.6 0 7.1 .7-15.9 0 24.5 .1-10.9 .1 9.8 0-28.7 .2 25.8 0-20.7 .6 12 .6-.6 .1-1.3 .7-7.7 .2 7.9 .2-.9 .2 4.1 .5 6.6 .1-7.4 .8-1.3 .1-6.3 .1 2 0-6.8 .1 2.2 0-5.1 .4-1.1 .1 15.5 .9-1.1 .4-12 .4 20.2 0-14.1 .2 4.6 .1-15.5 .4 25.1 .1 1.5 .1-29.6 0 19.9 0-15.7 .5 13 .6-19 .3 13.4 .1 3.8 .8 .9 .1 6.2 .7-7.6 .4 4.3 .2 6.2 .2-15.1 .3 6.6 .9-16 .2 15.7 .1-19.7 0 12 .2-.6 .1 3.4 .7-2 0-.3 .2 0 0 8.8 .2-4.6 0 11.1 .2-15.5 .2 18.7 .8-5.1 .1-12 .2 5.9 .1 0 .6-5.5 0-13.4 .3 32.2 .1-11.1 .1-18.5 .3 24.4 0 3.4 .2-6.5 .3-7.8 .5 1.7 .1-16.2 .2 21.7 .6-8.4 .1-7.7 .3 4 .4 22.6 .2-6.6 .1-14.5 .3 5.9 .2-14.6 .1 10.7 .5-3.5 0 15.6 .5-13 .5-8.8 .5 11.7 0-4.3 .3 6.5 .1-4.6 .9-6.7 .1 14.7 .1 5.2 .1-14 .4 16.4 .4-5.5 .6-10.7 .3-6 0 12.3 .5-3.4 .2 .3 .2-13.8 .1 30 .2-23.6 .1 3.9 0 14.3 .4-13.8 .4-8 0 14.5 .4 11.8 .2-18.3 .1 5.3 .1-12.8 .2 11.4 .3-11 .1-.7 0 20.9 .1-17.4 .2 7 0-5.2 .1 3.8 .4-11.2 .1 13.1 0 3 .1-13.3 .3 12.2 .2 11.1 .4-5.9 .3-1.2 0-16.3 .1-5.5 .4 13.7 .9-5.8 .1-4 .2 5.3 .2-12.3 .7 10.1 .1 14.9 .1-19.9 .9 6.9 .2 15.4 .4-10 1.4-1.8 0-9.2 .3 5.6 .6 6.9 .5-13.8 .3 2.9 0 21.6 .1-8.9 .4-20.5 .1 14.9 .3-7.4 .1-4.5 0 19.5 .1 5.4 .8-11.8 0-9.7 .3 5.9 0 13.4 .3-19.3 .2 9.1 .7 6.4 .1 2.7 .5-12.6 .1-6.8 .1 9.2 .4-2.4 .6 14.1 .4-23.8 0 10.2 .3-.2 0-.7 .3-2.3 .1-2 .1 12.4 .2-13.4 .3-1 .1 27.4 .1-33.5 .2 10.9 0 8.6 .2 9.8 .1-19.9 .3 7.7 .4 2.9 .1-.8 0-17.1 0 8.7 0 2 .1-4.9 .4-1.5 .5 22.8 .2-4.6 .2-17.6 .1 27.5 .2-18 .2-4.8 0 16.4 .2-23.7 0 6.1 .8 .5 .1-10.5 .7 9 0 9.8 0 5 .1 7.1 0-9.5 .7-6.2 .4-4.8 0-3.5 .2 5.4 0 14.8 .1-14.3 .1-10.6 .9 15.5 .3-4.6 .2-7.1 .4 10.5 .7 1.6 0-4.2 .1-3.1 .1-7.5 0 30.5 .3-29.6 .2 13 .1-12.7 .2 24.7 .2-26.8 .4 28 .2-23.6 .2-4 0-3.6 0 23.8 .2 7.4 .3-11.7 0 10.5 .4-7.2 .8-1.1 .1-13.8 .1-1.6 .6-3.3 .2 11.8 .1-4.9 0 12.1 .4-9.1 .1 .3 .6-.4 0-9.2 .7-4.5 .1 2.9 .8 5.7 .1 5.3 .2 8 .1-15.6 .1-3.5 .4 29.8 0-24.7 .2-6.1 .1 25.2 .1-11.5 .1-19.4 .8 19.6 .3 3.8 .2-4.8 .3-19.9 .7 24.9 .2-4.3 0-13.3 .2 20 0-17.9 .2 20.2 .4 .8 .4-19.8 .5 13.1 .2-5 .3 2.2 .3-8.4 .8 16.4 .2-2.2 0 10.5 .8-27.8 .2 15.6 0-9.9 .7 6.1 .3-14.3 0-5.7 .2 31.9 .1-12.3 .1-6 0 17 .4-1.6 .2-12 0 16.5 .4-8.7 .2-13 .2 18.3 .2-9.5 .6 9.2 .1-15.7 .2 12 .3-18 .3-.6 .1 15.5 .3 1.2 .6-21.1 .5 19.3 .6-15.8 .6 23.5 0-9.4 .4 4.9 .4 5.1 .3-28.9 0 26.5 .4-25.7 .1 6.9 .1 7.2 .3 9 .8-15.9 .1 16.8 .5-3.9 .9 .4 .4-4 .2-10.7 .2 9.5 .3-6.3 .2-12.3 0 11.7 .1 16.1 .4 8.4 .1-16.9 .1 6.8 0-18 .6 3.7 .2 11.4 .4-.5 .1 3.2 .5-17.8 .1-4.5 .5 19.1 .6-17.7 .1 2.6 0 25.6 .4-8.3 .2-.1" fill="none" stroke="none" marker-start="url(#hR)" marker-mid="url(#hR)" marker-end="url(#hR)"/>
<path d="M320.9 511.7v6.3M430.4 486.9v-7.9M459.3 474.0v9.4M289.2 515.7v-12.2M296.3 532.1v-7.7M526.3 460.6v-7.6M404.4 469.6v-9.8M476.8 454.9v6.3M535.5 467.5v7.2M538.4 448.5v6.2M522.8 478.3v12.6M495.1 463.0v11.2M261.6 554.0v8.9M370.2 475.3v9.6" stroke="#3a3838" stroke-width="0.9" fill="none"/>
<path d="M234.7 701.4l.1-15.9 .1 8.6 0-4.9 .1-2.2 .1 2.2 0-3.1 .4-24.9 .1-3.1 0 7.5 0-2.7 .4-23.8 .1 4.5 .2 1.1 .2-4 .1-5.9 .1-4.6 .3-8.4 0 10.3 .2-.5 .1 1.5 .1-13 .3-4.4 0 2 .3-2.8 .1 4.9 0-18.7 .1 5 .1 9.8 .2-14.3 .1 12.1 .1 5.3 .7-16.4 .1 3.9 0 2.8 .1 4.5 0-3.2 .1-18.1 .2 6.6 .6-2.7 .3 2.9 .3-3.3 .1 2.1 .2-1.4 0 3.2 .1 .6 0-2.2 .1-.5 .1-2.8 .2 2.5 0-10.2 0 15.3 .2-8.1 .5 4.8 0-2.1 0-10.5 .1 18.6 .1-8.3 0-17.6 .3 13.7 .1 1.1 0-2.6 .2 .7 .1-9.9 .1 17.6 .2-9.7 .2 .9 .1 3.4 .1-9 .4 4.1 .2-1.8 .8 2.8 .1-23.8 .1 24.6 .1-12.8 .1-9.4 .3 13.4 .1-1 .1-5.7 0 17.4 .3-4 0 1.4 .1-4 .2-2.5 .2-8.1 .1 2.3 0-4.2 .1-5.8 0 10.4 0-1.6 .3-3.6 0 9.2 .3-10.9 .2 10 .5-3.8 0 1.1 0-13 .1-11.6 .4 12.6 .2 6.4 .1 3.5 0 2.1 .2-7.4 .3 7.1 0-14.5 .1-3.5 .1 18.2 .2-4.8 .1 3.8 .1-4.1 .2-4 .3-10.6 .1 21.8 .1-9.4 .4-10.1 .2 19.3 .2-30.4 .3 10.9 0 .6 .2-6 0 9 .1 11.5 .3-16.6 .1 5.8 .2-7.5 .1 10.8 .1-4.6 .2 9.5 0-12.8 .1 8.8 0-7 .1-5.2 0 2.7 .1-2.6 0-7.2 .1 3.8 0 12.4 .2-11.2 .4 16.9 .2-11.5 .3-.8 .3-9.2 .1 10.7 0-4.1 .2 3.6 0-2.8 0-11.8 .2 28.5 0-13.5 0 3.2 .1-23.2 .1 19.1 0-8 .2 11.6 .1-16.9 .1 10.3 0-10.2 .2 15.6 .1-.8 .1-.5 .2 .6 0-.8 .2-.1 .1-5.6 0 18.2 .4-34.3 .2 7.9 0 8.2 .1-10.3 .2-1.3 .1 9.8 .2 3.3 .1-19.4 .2 12.2 0 1.7 .1-12.6 0 16.7 .9 10.1 0-29.5 0 20.6 .1-4.8 0-5.7 .1 14.9 .2 2.7 .1-27.6 .1 22.8 .1-9.1 .1 6.2 .2-11.4 .5-6.4 0 15 .1-11.9 0 8.1 .1-4.6 .1 16.8 0-14.5 .1-5.5 .5-4.4 .3 11.8 .2 1 .1-22.3 .1 10.9 .1 21.6 .2 5.7 .1-32.5 0 14 .4-1.9 .3-17.2 .1 20.1 .1 1.1 .3 11.6 .1-26.8 .1 7.3 0-13.2 .4 2.5 .4 4.5 .2 15 .1 1.1 0-4.8 .1-2.2 0 1.6 .1-6.2 .2 4.5 .2-8.2 .2-8.5 .1 20.1 0-2.7 .7 6.8 0-4.6 .1-9.8 .2 7.6 .1 9.4 .1-17.5 0 9.1 .1-3.1 .3 3.7 .3-18.4 .1 24.7 .2-12.5 .1-.9 .1 10.1 .3-19.8 0 9.7 .1 3.6 .5-3.4 .2-14.7 .3 24.4 0-21.6 0 14.9 .2 8.3 0-9.6 .1-6.4 0-4 .1 2 .1-2.6 .4 17.9 .1-12.5 0-10.3 .1 26 .3-1.1 .1-7.9 0-19 .2 8.4 .7-4.4 .2 .3 0 16.3 .2-7.8 .1-5.9 0-7.3 .5 2.2 .2 10.3 .5 11.3 .2-20.4 .1-3.8 .6-3 0 2.8 .3 15.2 0-8.3 .1 6.8 0 2.4 .8 3.6 .4-22.7 0 10.2 .2-11.1 .3 17.3 .1 3.2 .1-8.3 .1 5.1 0-.9 .5-5.2 .1 16.5 0-16.1 .1 6 .2-3 0-13.6 .1-1.7 0 27.4 .2-29.8 .1-7.2 .1 10.5 0 13.2 .1-24.6 0 15.9 .2 4.5 .1-7.8 .1-1.5 .4 14.4 .4-2.8 .1-4.1 0 12.4 .4-17.5 0 12 .4-26.1 0 13.6 0 10.5 .1-3.5 0-13.4 .1 17.2 0-14.1 .2 3.4 .2 5.4 0 11.7 0-18.3 .2 1.4 .2 5.1 .1-12.3 .3 13.4 .1 4.6 0-23.5 .4 11.5 .2 11.1 .1-.7 .3-8.2 .2-6.2 .3 19.8 .1-14.6 .1 14.5 .3-21.3 .4 18.2 0-18.1 .1 0 .1-4.9 .2 18.3 0-14 0 21.2 .1-11.6 .2-2.1 .3 8.2 0-7.6 .3-2.1 .2 12.3 .3 6.3 0-.7 .4-23.3 .2 15.3 .1-.7 0 4.6 .4 .9 .2-24.6 0 10.2 .1 9.2 0-18.8 .1 4.1 .2 .6 .2-2.7 .1 6.1 .1 12.4 0-23.3 .2 22.5 .1-4.1 0-14.9 0 7.7 .2-1.1 0 23.2 0-12.8 .1-10.6 .1-2.8 .3 3 .1-6 .2 6.3 .1-4.3 .1 4.4 .1-8.3 .5 11.6 0 2.9 .1 1.9 .3 .6 .1-14.1 .1 18.7 .2-33.3 .1 14.3 .6 3.2 .2 1.5 .1-2.5 .2 .6 .6 18.4 0-14.5 0 3.7 .5 3.4 .1-15.4 .4-4.3 0 8.8 .2 12.2 .1-10.4 .1 8.3 .1-8 .3-7 0 23.6 .1-32.4 .1 11.3 0 18.6 0-17.4 .2 16.6 .3-15.2 .1-3.3 0-.1 .3-4.3 .1 14.4 .2 8.2 .1-7.8 .5 1.4 .1-11.8 0 16.3 .2-7.7 .2-15.2 0 18.9 .2-10.4 0-7 .1 25.7 0-5.2 .1-19.8 .2 10.8 .1-3.1 .1 14.2 0-29.5 .1 27.4 .1-24.5 .1 21.3 0-12.6 0 13.3 .1-9.2 0-1.4 .1 8.5 0-4.7 .1 5.9 .6-3.7 .1 10.9 .5-16.3 .1 3.3 0-5.5 .2 12 .1-7 .2-1.7 .2-5.4 .3 20.6 .2-13.3 .2-8.4 .2 20.8 0-14.4 .1-9.9 .2 5.7 .1-6.5 0 .5 .1 21.2 .1-11.1 .3 4 .1-4.8 .3-4.4 .1 12.5 .1-1.9 .1-8.9 .4 2.3 0-1 .2-.8 .2 .1 .1-16.2 .1 21.2 .5-16.5 0 7.7 .1 2.3 0-5.2 .1 8.6 .2-2.7 0-11.7 .1 13 .1-8.9 .3 24.4 .1-20.4 .2 2.1 .3 .8 .4-3.8 0-3.3 .4-5.2 .6 8.2 .5 16.4 .1-3.8 .1-6.9 .1 3.7 .1-2.9 .4-6.4 .1 6.2 0 6.7 0-15.8 .2 14.2 .2 11 0-28.1 .3 9.2 0-10 .1-1.3 .2-1.1 .3 16.7 .3-14.5 .2 11.1 .5-6.9 0 11.7 .3 11.4 0-28.7 0-4.5 0 13.6 .4-4.1 0 15.3 0-11.9 .3 3 0-15 .1 22.9 .3-13.9 .1 24.8 .2-13.5 .1-6.6 0 13.3 .3-7.4 .3-6 0 3.6 .2-3.3 .1-1.1 .2-16.3 .3 21.8 0-5.7 0-13.4 0 20.2 0 5 .5-12.4 .5 11.9 .2 .1 .2 4.4 .2-20.1 .3-8.1 .2 22.4 .2-6.8 .2-9.6 .1 3 0 7.2 .3-10.6 0 0 .1 15.8 .1-15.6 .4 9.7 .6 .8 .1 5.6 .1-9.9 .2-16.6 0 14.9 .3-2.6 .3 7.4 0-13.8 .5 5.7 0-6.2 .1 4.9 .1-.8 .1 7.2 .1 8.6 .1-22.6 .2 7.6 .4-8.9 .3 17.8 0 3.6 0-2.4 .1-4.5 .3 0 .1-1.4 .2 5.7 .1-17 .1 20.5 .2 3.3 .2-24.1 .1 5.1 0 7.7 0-13.4 .2 6.3 .3-8.2 0 5.9 .1-.2 .2 4.1 .1 8 .2 .1 .2-.3 .1-22.7 .1 25.8 .1-11.5 0-7.8 .3 13.9 0 2 0-7 .2 14.4 .1-21.8 .1 5.1 .2-1.7 .2-3.1 .2 24.4 0-2.9 0-9.1 0 2.5 .1-.2 .1-8.8 .1 16.6 .1-4.7 .1-12.7 .1 17.6 0-15.5 0-5.4 .1 17.4 0-17.8 .1 8.2 .4 10.6 .3-3.4 0-13.1 0-3.4 .3 15.3 .2 2.3 .4 2.8 .1-5.9 .3-5.8 .1 .3 .2-5 0-2.7 .1 1.4 .2 .4 .1 12.9 .1-9.4 .5 9.8 .2-10.4 .4-9.6 .5 22.2 .2-11 0 9.1 .1-22.5 0 8.8 .4-8.7 .3 7.1 0 12.6 .2 2.5 0 3.6 0-3.2 0-11.1 .3-.6 0 11.5 .3-10.1 .2 7.3 .1-.4 .6-10.4 .3-9.8 .2 21.8 .1-17.3 .4 18 .1-28 .1 16.8 .1 6 0 2.5 .2-16.7 .2-7.1 .3 19.3 .2-10.2 .4 8 .4-2.8 .4-13.5 .3 20.3 .1-.7 0-19.2 0 20.8 .8 6.8 .2-21.6 .1 3.5 0-.8 0 8.2 1-16.1 .1 6.6 0 23.7 .1-15.5 .2-13.9 .2 9.1 .1 .4 .2-4.5 .1 .8 0-6.6 0-4.4 .1 13.4 .2-14.2 .1 22.3 .3-14.3 .1 16.4 .2-11.5 0 5.5 0-10.8 .1-.4 0 21.1 0-10.1 .1-24.6 .4 23.6 .1-11.3 .3 9.5 .1 5.8 0-11.5 .5 .6 .1 25.2 .1-33.7 0 25.2 .1-12.2 .2-.1 .2-13.8 .1 7 0 12.8 .1 7.6 .2 3.4 0-30.9 0 14.2 .5 12.9 0-27.6 .5 16.8 0 1.3 .2 8.7 .1-14.4 .1 7.5 .4-19.8 .5-.3 .2 8.6 .1-6.6 .1 10.8 .2 14.1 .1-4.4 0-10.7 .5 17.4 .1-23.9 0-.5 0 16.3 .2-21.3 .1 7.2 0-.4 .2 9.8 0-13.9 .1 21 0-2.5 0-23 .2 3 .4 32.3 .2-24.1 .1 10.8 0-19.6 0 5.1 0 5.9 .1 1.7 0 8.5 .3-14 .4-8.9 .1 19.9 .3-9.6 .3 1.5 0 3.5 .1-6.5 .1 4.7 0-5.4 0-12.2 .2 19.1 .3-7.9 .2 10.9 .5-2 0-5.9 .3-13.8 0 33.1 .2-18.8 .2-2 .1 1.1 .1 10.1 .5 5.5 0-18.1 .2 9.7 0-2.2 0 4.2 .2-6 0-1.1 .3-10.6 .2 3.1 0 3.7 .2 6.2 .7 6 .1-8.9 .1 8 .5-16 .2 .8 .2 5.2 .1-12.8 0 23.3 .3-15.1 .1-7 .1 5.9 0 8 .2-5.7 .2 3.8 .4 .5 .2-6.3 .1 2.9 0 8 .2-15.3 .1 22.1 .2-3 .7-11.6 0-2.3 0 1.7 .1-16.5 .2 25.4 .1-20.8 .1 28.1 .5-20.9 .4 3.1 .4-1 0 27.5 .1-30 .2 8.4 .1-6.3 0-6.4 .1 6.9 0 1.2 .1 5 .3-11.6 .1 6.6 .4 6.9 .1-15.7 .2 18.9 0-4.8 0-.5 .2-13.5 .2 2.3 .5 5.2 .6-.9 .3 6.9 0 6.5 .4-9.2 .2 2.8 0-2.1 .2-.9 .5 8.7 .3 .4 0-16.9 .2 21.7 0-11 .2-10 .4 10.3 .2-4.3 0-6 0 23.2 .2-16.5 .1 8.2 .2-1.7 0-17.6 .1 .1 .1 21.6 .1 1 0-14.7 .1 4.3 .2-1.9 .1-4.1 0-4.1 .1-7.6 .1 15.1 .1-10.8 .2 15 .1-6.3 .4-8.7 .2 15.3 .4 .9 .1-11.5 .2 2.8 .1 .6 0-10.2 .1 28.7 0-21.8 .1 9.6 .5 12.9 .2-6 .4-14.1 .2-1 .1 4.9 .2-9.3 0 15.6 .2-8.4 .2 16 .6-19 .1 6.3 0-10.6 0-7.2 .1 15.3 .2 9.7 .3-16.3 .1 3.7 0 13.4 0-18.5 .2 26.2 .1-28.9 .1 12.2 .2 8.1 .1-13 .1-1.4 .1 11.7 .4-2.4 0-21.3 .2 20.4 .1 10.3 .2-14.8 .2 13.4 .2-23.5 0 6.6 .1 0 .1-4.5 0 7.6 .1 11.1 .1-8.5 .1 14.3 .1-15.2 .1-1.9 .1 1.2 .3-2.9 .2-5.2 .1 17.8 .4 .4 .1-10.6 .1-4 .2 8.9 .2-3.5 .1 16 0-32.4 .1 29.5 .2-28 0 .4 .1 16.8 0 9.1 .3-26.6 .2 23 .1-2.8 .1-8.7 .2 11.4 .4-5.2 .1 9.2 .2-15.7 .5 6.2 0 .7 .1-9.8 .1-7.2 .2-1.5 .2 18.2 .2-13.3 .1 3.7 0 4.4 .5 3.8 .1-15.9 .1 11.1 0 1.3 .2 8 .2-2.6 0-11.6 .2-7.7 .3 10.2 0-4.6 .2 3.7 .1 .6 0 7.9 .1 14.9 .2-29.5 0 21.5 .1-5.2 .1-1.9 .2-18.2 .2 10.9 .2 17.5 0-22.1 .2 16 .1-4.8 .7 .7 0 4.9 .4-12.2 .4-2.7 .5 4.8 .2 9.9 .2-13.7 0 1.9 .2 7.8 0-6.5 .3-7.5 .2 17.1 .3-4.4 .1-10.2 0 3.6 .1-.2 .3-4.6 .2-2.9 .1 23.7 0-6.2 .2-18.7 .7 16.1 0 10.7 .1-11.5 .1-9.6 0 14.1 .5-13.4 .5 17.4 .2-10.1 .2-.2 .1-4.2 .2 12.3 .1-20 .1 5.3 0 2.9 0-1.6 .1-.2 .1-5.4 .1 1.4 .1 2.3 0-7.7 .7-8.3 0 13.3 .4-2.1 .1 5.6 0 10 0-6.7 .1 20.6 0-8.3 .3-4.4 .1-10.4 .1 9.7 0-7.2 .3-2 .1 5.8 .2 3.2 0 5 .2-18.3 .1 5.6 .2-2.2 0-.7 .1-.6 .1 6.8 .1-8 .1-3.2 0-2.9 .2-2.3 0 8 .1 2.1 .3 8.3 0-12.8 0 2.6 .2 6.9 .5-16.9 .1 6.9 0 9.3 .1 6.1 .2 1.7 .2-11.8 .1 15.5 .2-18 .1 16.2 .3-21.6 .5 7.2 .2-11.7 .1 8.2 .4 7.4 .1 4.5 .4 1.8 .4-17.3 .2 18.5 0-7.7 .2-9.5 .3 7.4 0-8.7 .2 7.1 .1-12.4 0 6.8 .3-3.8 .1 17.1 .1-18.8 .3 26.4 .1-23 .4-2.9 .8 .2 0 4.8 0 3.8 .3 8 .3 1.5 .3-3.4 0-14.6 .5-4.2 .2 13.8 .1-2.9 .2 14.1 .1-38.4 .1 13.8 0 12.8 0-13 0 9.4 .2 20.3 .1-26.8 .1 15.5 .1 9.7 .2-20 .3 4.2 0-.5 .1 2.7 .1-.3 .2 11.4 .2 12.3 .2-38.8 .5 4.8 .1 13.1 .1-8.6 .2 11 .3-.4 .1-13.9 0 17.8 .1-7.6 0 8.5 .1 .3 .2-19.9 .2-.7 0 12 .1-1.6 .3-18.6 .2 21.5 0 2.3 .1-3.4 .1 13.3 .1-9.4 0-15 .5 10.2 .1-4.8 .1-17.9 .1 15.7 .2 22 0-19.5 .3 1.5 .1 3.1 .2 5.7 .3-6.2 .2-2.3 .1-12.4 .1 19.9 .1 5.8 0 2.9 .3-15.6 .4 5 0 4.6 0-15.3 .1-7.1 .1 23.5 .4-10.9 .2 9.2 0 5 .1-8.9 .4-6.6 0 10.2 .6-22.3 0 22.4 0-14.5 .3 4.6 0 16.9 .5-5.7 .2-9.5 .1-6.8 .1 3.8 .1-2.3 0 6.9 .1-3.6 .2 7.2 .3-17.1 0 29.3 .1-16.9 .2 18.6 0-21.8 .2 20.8 .3-21.2 .6 6.5 0-15 0 9.3 .2-12.5 .1 .4 .1 10.8 0 13.1 .6-29.2 0 6.4 .4 21.5 .3-9 .2-14.4 .4 5.4 .1 16.6 0-21.2 .1 10.9 0-5.1 .1 8.6 0-9.2 .3 9.9 0-16.1 .1 14.3 .5 3.2 .2-11.3 .5 7.2 0-6 .1 5 .2-7.5 .2 10.5 .3 13.4 .2-22.5 0 7.5 .1 8.6 .2-4.8 .5-5.9 .2-5 0 11.1 0-13.7 0-.1 .1 22.9 .4-16.4 .1 10.2 .2-20.3 .1 10.2 .2 8.6 0 2 0-4.5 .5 2 .2-14.8 0-.2 .1 10.7 .4 4 .2-10.7 .3-12.7 .2 16 0-3.3 .1 17 0-17.5 .2-9 0-.5 .1-2.8 .1 6.6 0 1.1 .1 23.4 .1-24.8 .2 17.5 .1 .7 .4 2.7 0-19.4 .3 3.2 0 5.9 .1-6.4 .2-5.4 0 14.4 0-2.2 .3-2.8 .4 16.9 0-19 .1 6.1 .1 1 0 .6 .4-19.1 0 24.4 0-15 .2-.2 .6-3 .1 21.8 0-5.8 0-16.9 0 6.2 .1 10 .4-16 0-1.7 .1 16.6 .2-11.3 .3 4.8 .2-1.3 .1-9 .1 4.2 .1 15.7 0 8.2 .3-7.5 .3-4.5 .6-4.9 .3-7.9 .2 16.6 .1 8.1 .3-3 .1-8.5 0-12.3 .1 18.3 .2-14.4 .2-1.6 .5 2.4 .1 10.7 .1-12.4 0 1.4 .1-12.6 .1 25.8 .1-15.6 0 21.8 .1-25.1 .4 30.7 .1-14.9 .2-2.7 0-17.7 0 26.1 .1-20.4 0-4.4 .5 21.8 0-18.9 0-.5 .1 19.9 .1-.7 .2-1.5 0-16 .1 19.3 0-3.9 .1-11.6 .3 14.2 .1-5.1 .1-.7 .1-14.9 .1-10.1 .1 34 .2-19.8 .2 8.2 .1-13.9 .1 6.4 0-2.3 .2 1.2 .3 11.6 0 1 .1-12.4 .1 .5 .1-1.7 .2 1.5 .2-3.1 .2 19.9 0-14.7 .1-4 .7-4.8 .6 20.1 .1-15.2 .4-3.8 .1 2.5 .1 9.2 .1-15.3 .1 29.7 0-6.5 .1-17.1 .1-1.7 .1-1 .1-7.2 .2 23 .4 3 .1-2.1 .3-3 0 2.9 .1-2.7 .2 3.2 0-15.2 .6 20.5 .3-.3 .1 23.5 .2-24.9 .5-13.4 .1 5.9 0 2 .5 4 .3-7.6 .1-5.2 .1 .7 .1 .9 .2-11.6 .2 16.1 0 18.3 .1-28.2 0 15.6 0 1.4 .1 8.4 .1-6.2 .1-18.6 .2 .7 .3 2.8 .1 6.4 .1-11.9 .2 8.2 .1-10.1 0-1.1 .1 14.7 .1-8.4 .2-1.3 .4-7.8 .2 5.2 0-5.7 .1 8.4 .2-.6 .1 2.7 .2-5.1 .2 35 .1-15.7 0-10.7 0-6 .3 19.9 .1-24.2 .3 14.6 .3-2.3 .3-3.3 0-10.4 0 18.7 .2-20.8 .1 29.1 .4-17 .1 12.8 .2-6 0-13 .2-6.2 .1 14.4 .2 6.2 0 5.6 .1-16.5 .2-10.4 .1 12.7 0-7 .1 1 0 19.9 .4 .5 .4-9.7 .5 2.7 .1-12.7 .3-6.7 0 12 .1-2 .4 .2 .1 19.2 .1-20.1 .3-1.7 .1 20.3 0 2.7 0-19.5 .2-.8 .6-7.7 .1-1.4 .5 3.2 .2-3.6 .1 5.9 0 22.9 0-18.8 .1 1.1 .1 1.8 0-13.7 0 31.8 .1-28.5 .2 29.3 0-23.7 .1-10.9 .2 1.2 .2 27.2 .2-23 .2 6.4 .3 2.6 .8 9.3 .7-12.4 0 21.3 .6-17.2 .1 1.6 .1-.6 0-10.1 .3 15.4 .1-7.7 .3 .4 .2-11.2 .3 7.9 0 9.1 .2-13.4 .3-8.4 .2 32.2 0-27 .4 12.8 .2-5.1 0 7.2 0 13.8 .2-26.2 .5 1.1 .1 8.2 .2 14.1 0 1.5 .2-4.5 .1 5.9 .1-29.7 .1 29.5 .1-7.4 .4 4.8 .2-.3 0-12.5 .3-11.7 .1 11.7 0 6.7 .4-13.2 .2 4 .1 17.8 .1-29.5 .5 27.1 .1-17.8 0-20.2 .3 13.1 .1 14.4 0-6.6 .1-3 0-5.3 .1 14.9 .2 13.5 0 3.2 0-14.5 .2-2.4 0-12.9 .1-7.7 .1 22.1 0-2.3 .2 4.3 0-.6 .3-5.8 .1 14.3 .1-27.4 .2-.2 .1 8.4 .2-.2 .1-12.6 1.1 20.8 .1-6.5 0 17.1 .1-27.5 .2 3.8 .5 13.3 .2 10.5 .1-4.4 0-22.5 .6 6.2 .1 2.7 .1 12.6 .1-9.5 0 6.4 .1-11.8 .7 3.7 0-8.7 .2 22.5 .3-6.8 0-11.2 .1 3.4 .1 1.2 .1 15.2 .6-11.4 0-1.8 .1-2 0-5.9 .1 15.8 .1-7.5 0-3.9 .2-4.9 .1 10.2 0 1.9 0 9.1 0-16.6 .2 8 .4-10.6 .1 17.8 .1-22.6 0 12.5 0-3.2 .2 3.4 1 6.2 0 5.5 0-16.4 .6 10.5 .3-12.6 .1-1.3 .3 8.5 .1-11.3 .1 15.4 .1-4.1 0 10.4 .2-6.9 .1-9.3 .3 11.8 .1 3.6 .1-5.1 .3 5.4 .1-17 .8 10.6 .7 3.7 0-22 0 9.3 .1-.3 .3 18.8 .2-2.9 .3-4.5 0-.5 .1-.9 .1-13.9 0-1.2 .2 24.3 .3-15.3 0 .9 .1-13.3 .3-2.6 0 1.9 .1 1.4 .2 10 .1 11.2 0-4.1 .1 9.1 .2-16.2 0-2.5 .1 .5 0 8.7 1-22.5 0 12.6 .2 3.8 .3 7.3 .1-18.1 .5 8.9 0 .5 0-8.1 0 11.4 .2-3.2 .1 7.7 .2-10.6 .2-3.7 .1 17.5 .1-4 .1 7.4 1-5.7 0 4.3 .1-7.9 0-10 .2 10.9 .1-8.8 .1 7.1 0 .9 .2-6 .2-7.1 0 .4 0 11.3 .2-7.8 .3 9.2 .1 4 .1-4.3 0-13.8 .1 23.9 0-16.5 0 3.2 .1-4.1 .2-8.3 .2 9 .1 9.8 0-11.6 0 15.3 .3-16.2 .1 1.5 .1-3 .1 10.5 0-7.1 .1 3.2 0-1.4 .2-1.9 .2-15.8 .4 17.3 .1 14.4 .2-9.5 .1 13.1 .2-10.9 .2-18.1 .2 15.9 .1-5.3 .2 7.6 .1 7.6 .1-2.3 0-16.5 .1 8.6 .3-13.6 .1 19.6 0-16.3 .7 23.6 0-15.6 .2-11.7 .1 26 0-11.8 .1-13 .7 15.7 0-3.2 .2-9.7 .1 2.5 0 14.3 .1-5.6 .3-20 .4 3 .3 15.9 .3 5 0-1.9 .1-6.1 0 3.1 .2-1.9 .1-21.9 .2 17 0 2.4 .1 11.2 .1-17.9 0 2.7 .2 16.1 .3-15.1 0-5.1 0 1.1 .5 12.6 0-8.4 .4-11.7 .3 27.1 .2-20 .6 16.8 .3-.9 0-17.1 .1 8.8 .3-17.3 .4-5.6 .2 24.9 .4-18.7 0 11.1 .3 4 .1 7.1 .1 3.6 .3-28.8 .2 9.5 .1 6.2 0-3.7 .1 12.4 0-10 .2-7.3 .3 14.5 .2 6.3 .1-6.6 0 5.1 .3-15.3 .4 22.5 0 2.4 .1-15.4 0 7.7 .2-2.6 .3-7.6 .1 2.2 .1 1.2 .3-17.6 .2 5 .1 .8 .1 3 1.1 12.5 .1-17.9 .1 16 0 5 .1-13.1 .1-1.1 .1 13.3 .3-5.5 .1-1.2 .1 9 0-3.7 .1-9.7 .1 3 .3-7.9 .3 .4 .1 25.5 .1-10.6 .1-13.6 .1 6.6 0-11.2 0 24.5 .1-20.9 .4 14.4 .2-17.9 .1 8.1 .1-11 .2 29.3 0-14.6 .1 5.4 .1-8.7 .6 4.5 .1-16 .1 17.7 .1-20.1 .3 23.9 .2 4.9 .2-30.3 .3 29.3 .2 2.8 .2-21.2 0 8.4 .1 13.8 .3-30.9 .1 18.7 .4 3.6 .2-8.9 .1-4.4 .1 17 .2 .9 .2-6.9 .2-8.5 .1-7.9 .2 20.3 0-3.7 .1-.1 .1-21.4 .1 9.2 .1 9.6 .1 11.3 .4-3.9 0-16.7 .3-1.6 .1-7.5 0 0 0 29.3 .1-21.4 .2 6.6 .2 6.6 0-6.9 .2 10.2 .1-9.8 .1-15.6 .1 12.3 .1-10.2 .2 3.8 .1 10.2 .1 11.8 .1-21 .1 16.6 .3-10.7 .1-9.4 .1 23.5 .1-20 .2-4.9 0 16.1 .2-5.1 .1 15.9 .1 .2 .3-1.8 .1 5.5 .4-29.8 .3 16.4 .2 .5 .5-20.5 .3 28.9 .5-16.7 0 9.2 .1 9.8 .8-11.3 .3 3.3 0 4.8 .2-18.3 0 5.8 .3 6.7 0-8.5 .3-12.6 .3 11 .1-10.1 .1 10.4 0 11.7 .2-14.6 .1 2.9 0-3.2 .1 14.3 0 5.6 0-18.5 0-7.5 .1 20.3 .1-13.5 .1 21.1 .4-30.9 .4 3.3 .1 1.5 .4 3.8 .2 5.1 .4-9.8 .1 4 .1-8.9 .4 19.4 .2-3.9 .1-11.3 .3 6.3 0 12.7 .1-1.8 .5-24.1 .4 11 .1 10.6 .9 11.9 .1-14.6 .2 5.6 0-12.8 0 1.5 .1-1.6 .2 15.3 .2 4.4 .2-26.2 0 10 0 12.1 0-12.2 .1 1.9 .2 7.5 .1-22.2 .2 3 .1 15 0-1.6 0-7 .1 2 .3 5.6 0 6.2 .3-21.6 .2 10.8 .3-7.6 0 4.3 .2-2.2 .1 12.1 1.1-5.2 .1-13.5 .1-1.2 1.1-11.9 0 32.4 0-7.8 .2 9.8 .1-1.5 .2-21.3 .1 1.5 0 14 .1-16.4 .4 1.7 .3 22.2 0-7.4 0-3.8 .2-2.3 .5 20.8 0-27.9 .2 7.7 .1 14.2 .8-1.7 0-1.6 0-8.2 .2-4.3 0 3.2 .1 11.3 .2 2.8 .4-7.5 0-9.6 .1 7.9 .1-22.2 .2 25 .2-15.1 0 16.1 0-1.1 .2-5.7 .2 11.1 .1-16.1 .2 13.3 0-10.9 .1 12.7 0-12.9 .1 14.4 0-13.8 .5 .3 .4 1.1 .1-17.4 .2 18.6 .1-12.4 .1 18 .1 5.4 0-15.1 .1 14.1 0-23.8 .3 21.7 0-4.5 0-2.2 .1-4.8 .5 1.3 0 9.3 0-3.6 0-1.2 0-15.7 .3 9.7 0-1.9 .2 14.4 .1-3.5 .4 4.8 .2-18.5 .3 3.3 .5 17.4 0-10.2 0 9.5 0-4.5 0-15 0 24.6 .1-16.1 .1-3.9 0-13.7 .1-.7 .2 8.8 .3-7.1 .2 32 .1-26.6 .2 18.8 0-3 .1-18.4 .2 24.9 0 .1 .3-18.7 0 2.2 .3 3.9 .1-2.3 .3-2.2 .2-5.1 .1 10 .1-8.1 0 4.8 .2-11.9 .1 12.9 .1 9.3 .1-31 .1 14.8 0 11 .2 9.8 0-8.6 .2-13.4 0 24.9 .1-24.8 .2 20.6 0-11.3 .2-4.2 .1-7.2 0 3.1 .1-11.9 0 21.1 .1 .6 .2 3 0-.1 0-10.3 0-15.3 .1 19.2 .1 5.4 .1-.4 .1-7.1 0 1.1 .2-5.3 .4 15.5 .6-19.4 .1 17.4 .1-14.7 .1 10.8 .2-1.8 .1-19.1 0-3.7 1.2 17.3 .5-2.2 .5-6.7 0 23.2 0-.5 0-6.2 .9-8.5 .1 .4 .1 7.2 0-7.2 0-2.2 .1-15.1 .1 14.1 .3 16.3 .3 4.6 .1-14.3 .2-13.3 .2 4.9 .2 3.4 .1 7 0 10.2 .2-27.6 0 5.6 .1 18.5 .3 5.3 0-21.6 0 8.4 .2 2.3 0-3.9 .1-7.4 .1 22.4 .3-10.9 .1 3.8 .1-1.1 .1-13.2 0 13.5 .2-.3 .1-25.6 .1 28.4 .2-2.5 .1-4.8 0-12.6 .1-3.8 .5-1 0 24.6 .1-4.3 .4 6.8 0-12.8 .1 6.7 .2 3 0 14.1 .3-22.6 0-6.7 .1 1.9 .3 7.9 0-20.6 .1 11.5 0 8.9 .1-10.1 0 14.9 .2-1.2 .2-22.3 0 .4 0 25.2 .1-24.7 .2 18.5 .1-5.5 .2-11.4 .1 18 .2-13.5 0 17.9 .4-7.7 .4-2.4 .2 1.4 0-7.9 0 13 .1-9 0 14.7 .1-15.1 .1 11.9 .3 6.1 0-19.9 .4 10.5 .2-14.8 .3-1.6 .4 3.2 0 1.7 .1 11.7 .2-7.5 .2 15.4 .2-13.5 .1-2.9 .2 14.3 0-22 .3 13.2 .2 13.8 0-13.7 .2-6.2 .1 10 0 4.2 .3-20.4 .1 11.8 0-6.2 .1 4.3 .3 .5 0 3.1 .3 3.5 .6-13.9 0 1.6 0 15.1 .1-8 0 8.7 .1-15.5 .1 11.7 0-11.2 0 16.5 .1-13.6 .1 2.8 .3 9.8 .2 4.6 0-11.6 .1-4 .1-5.7 0 24.2 .1-27.4 .2 21.8 0-4 .3-8.7 .5-9.9 0 2.9 .1 9.7 .1-11.3 .1 14.8 .2-5.7 0-6.1 0 5.6 .1 11.9 0-4.8 .1-6.5 .1 6.3 .7-4.1 0 4 0 12.3 .1-32.5 .2 5.8 0 4.9 .2 11.3 .6 5 .1-3.7 .1-22.2 .6 15.3 .2-2.1 0-11.1 0 7.9 .2-9.1 .9 11.9 .1-5.7 .3 1.8 0-14.8 0 7.8 0 27.5 0-14.9 .1-4.3 0 15.5 .1-19.5 .1 .2 0 17.2 .2-1.7 0-6.5 .4 8.6 .1-6.1 0 .8 .6-1.8 0-6.8 .3 3.8 .4-8.6 .1 1.9 .3 13 0-4.3 .3-15.2 0 22.4 0-10.8 0-5.8 .1 10.1 .1 .6 0-9.8 .1 1.1 .2-8.9 .1 20.4 .3-12.1 0 1.2 .2-6.6 .3 8.2 .1-1.1 0 16.1 0-32 0 19.8 .1-2.5 .1 4.2 .6-.5 0 2.9 0-14.5 .1 1.4 .2-.9 .1 16.9 .1-17.4 .4 8.2 0 7.6 .1-6.3 .2 .4 .2-3.9 0 15 0-18.2 .1 11.2 .1-1 .3-12.8 .2-2.8 .7-.6 .2 19.6 .1 5.2 .3-16.7 .1 14.7 .1-11.1 .7-9.6 .1 11.3 .3-9.7 .1-1.6 0 19.6 .1-4.5 .1-15.5 .3 8.9 .1-4.1 .1 7.1 .1-6.9 0 3.9 .2 9.9 .1-4.1 .2-12.6 .1 1.6 0-1.8" fill="none" stroke="none" marker-start="url(#hB)" marker-mid="url(#hB)" marker-end="url(#hB)"/>
<path d="M234.4 514.4V558" stroke="#9a9797" stroke-width="1.1" fill="none"/>
<path d="M234.4 558V905" stroke="#222" stroke-width="1.1" fill="none"/>
<path d="M234.4 514.4h0" marker-start="url(#hY)" fill="none"/>
<path d="M234.4 558.4h0" marker-start="url(#hY)" fill="none"/>
<path d="M234.4 905.3h0" marker-start="url(#hK)" fill="none"/>
<path d="M234.4 892.5h0" marker-start="url(#hG)" fill="none"/>
<path d="M234.4 864h0" marker-start="url(#hR)" fill="none"/>
<path d="M234.4 848.4h0" marker-start="url(#hN)" fill="none"/>
<path d="M234.4 830h0" marker-start="url(#hP)" fill="none"/>
<path d="M234.4 803.5h0" marker-start="url(#hN)" fill="none"/>
<path d="M234.4 797h0" marker-start="url(#hP)" fill="none"/>
<path d="M234.4 791.6h0" marker-start="url(#hR)" fill="none"/>
<path d="M234.4 779.6h0" marker-start="url(#hN)" fill="none"/>
<path d="M234.4 774h0" marker-start="url(#hP)" fill="none"/>
<path d="M596.8 415V504" stroke="#8f8c8c" stroke-width="1.4" fill="none"/>
<path d="M596.8 504V870" stroke="#222" stroke-width="1.4" fill="none"/>
<rect x="594.6" y="486.6" width="4.4" height="5.6" fill="#8b8787"/>
<circle cx="596.8" cy="448" r="2.6" fill="#e30a17"/>
<path d="M597.5 858.7l.4 2.8 .4 3.2 .4 .7 .4 1.8 .4 2.8 .4 .3 .4-.3 .4 .8 .4 4.1 .4-.2 .4 2 .4 .3 .4 .8 .4 .6 .4 1.8 .4 .6 .4 .3 .4 2.5 .4-2.7 .4 1.6 .4-.2 .4 1.8 .4-2.2 .4 1 .4 1.2 .4-1.6 .4-.2 .4 1.4 .4-1 .4 0 .4 .3 .4-.2 .4 .3 .4 3.1 .4-2.8 .4 2.1 .4-2.6 .4 .9 .4 .6 .4-2.4 .4 2.7 .4-4.3 .4 4.9 .4-2.3 .4 1.1 .4-.2 .4-1.4 .4 2 .4-1.2 .5 1.2 .4 0 .4-.5 .4-2.6 .4 3.7 .4-4.3 .4 1.6 .4 2.3 .4-4 .4-.3 .4 1.6 .4 1.2 .4-2.4 .4 0 .4 1.2 .4 1.3 .4 .1 .4-.2 .4-2.5 .4 3 .4-3.8 .4 2.4 .4-1.6 .4 1.3 .4-1.4 .4 1.4 .4-1.7 .4 1.9 .4 .8 .4-1.1 .4-1.1 .4 .3 .4-.7 .4 .8 .4 1 .4-2.5 .4-.8 .4 5.3 .4-3.1 .4-1.3 .4 .3 .4 .6 .4-.5 .4-1.4 .4 1 .4-.1 .4 1.4 .4-2.8 .4 2.8 .4-2 .4-.7 .4 .7 .4-2.8 .4 4 .4 .7 .4-3.1 .4-.6 .4 .5 .4 1.7 .4-1.2 .4 0 .4 4.3 .4-4.5 .4-1.6 .4 1.6 .4-.8 .4 .3 .4-2.7 .4 4.3 .4-1.5 .4 .7 .4-1.7 .4 0 .4 3.4 .4-3.8 .4 .8 .4 .2 .4-1.4 .4 .3 .4 2.4 .4-1.1 .4-2.5 .4 2 .4-.3 .4-4.8 .4 3.8 .4 .5 .4-.1 .4-.4 .4 1.5 .4-2.2 .4 2.4 .4 0 .4-2.1 .4 2.2 .4-1.1 .4 .3 .4-1.7 .4 0 .4-1.3 .5 .5 .4 1.5 .4-1 .4-1 .4 .4 .4-1.1 .4 1.3 .4 .6 .4-2.2 .4 0 .4 .1 .4 .5 .4-1.4 .4 .4 .4 1.2 .4 1.2 .4-.3 .4-.6 .4 .7 .4-.9 .4-.4 .4 2.1 .4-2.4 .4 .4 .4-1.7 .4 .6 .4-.3 .4 1.1 .4-1.3 .4 2.1 .4-2.6 .4 2.4 .4-1.7 .4-.3 .4 .5 .4-.6 .4-1 .4 4.2 .4-2.3 .4-.3 .4-3.7 .4 4.4 .4 .6 .4-2.2 .4-.8 .4 3.9 .4-4.6 .4 3 .4-2.9 .4 1.5 .4 1.6 .4-2.8 .4 .4 .4-.6 .4 2.5 .4-1.1 .4 1 .4-1.7 .4 1.3 .4-.1 .4-1.9 .4 3.4 .4-5.6 .4 4 .4 .8 .4-2.1 .4 .5 .4 .2 .4-3.2 .4 2.6 .4 .1 .4 .6 .4-.2 .4-3.1 .4 2.5 .4 .1 .4 .1 .4 1.5 .4-4.6 .4 1.6 .4 1.4 .4 .1 .4 .9 .4-.4 .4-.6 .4-.7 .4 .7 .4-.8 .4 1.3 .4-1.2 .4-.4 .4 .7 .4 1.1 .4-1.3 .4-.7 .4-.2 .4 .7 .4 .9 .4-.5 .4 1.8 .5 .3 .4 .5 .4-1.5 .4-1.5 .4-.6 .4 .4 .4-.9 .4-1.8 .4 5.7 .4-1 .4-.5 .4-2.5 .4-.1 .4 3.7 .4-3.5 .4 .3 .4 1.5 .4-2 .4 .1 .4-.9 .4 2.5 .4 1.7 .4-1.7 .4 .9 .4 0 .4-.9 .4 2.6 .4 2 .4 .2 .4 1.2 .4-1.4 .4-2.6 .4 3.1 .4-.5 .4 .9 .4-2 .4 3.4 .4-.8 .4-.3 .4-2.4 .4-.2 .4 2.1 .4 .6 .4-.2 .4 .2 .4-1.8 .4 .9 .4-2.3 .4 .6 .4 .7 .4-.1 .4 2.1 .4-.9 .4 .1 .4-2 .4-1 .4 3 .4-1.7 .4 3.1 .4-2.1 .4 .5 .4-2.4 .4 2 .4-.3 .4 .8 .4-.1 .4-1.1 .4 .7 .4-1.7 .4 3.1 .4 .3 .4-2.6 .4 1.3 .4 .9 .4-.8 .4 .2 .4-2 .4 1.5 .4-1 .4-.4 .4 2 .4-.1 .4 1.9 .4-1.4 .4-1.7 .4 1.5 .4 .8 .4-3.6 .4 2 .4 .8 .4 0 .4-1.3 .4 .6 .4-.4 .4 2.6 .4-1.3 .4-.3 .4-1.3 .4 2.4 .4-.5 .5-4.2 .4 2.7 .4 2 .4-.2 .4-2.8 .4-1.1 .4 2 .4 .8 .4-2.6 .4 1.2 .4 1.2 .4 0 .4-1.4 .4 1.7 .4 2 .4-3.9 .4 .8 .4-2.3 .4 2.6 .4 1.4 .4-1 .4-2.6 .4 3.8 .4-1 .4 .4 .4-.4 .4-1.3 .4 2 .4 .1 .4-1.8 .4 .7 .4 .7 .4-1.6 .4 1.5 .4-.2 .4-1 .4-.9 .4 3.6 .4-3.8 .4 1.9 .4 1.1 .4 .7 .4-.3 .4-3.3 .4 3.7 .4-1.1 .4-2.7 .4 1.2 .4-.4 .4 1.5 .4-.7 .4-1.5 .4 4.2 .4-2 .4 .7 .4-4.6 .4 4.2 .4 1.7 .4-2.5 .4 .2 .4-3.3 .4 4.2 .4 3 .4-1.6 .4-4.5 .4 3.4 .4-1.8 .4 3.2 .4-.6 .4-1.9 .4-1 .4-.5 .4 2.7 .4-1.2 .4-2.8 .4 2.4 .4-1.8 .4 1.6 .4 3.9 .4-3 .4 1.8 .4-.1 .4-3.6 .4 4.5 .4-3.2 .4-.6 .4 2.5 .4-1.1 .4 .8 .4-1.6 .4 2.1 .4-2.7 .4 1.1 .4-1.1 .4 2 .4-.6 .4 .8 .4-1 .4 .7 .4-.9 .5 1.8 .4-.8 .4 .5 .4 1.1 .4-.9 .4-.6 .4-2.6 .4 3.5 .4-2.7 .4-.1 .4 .7 .4-1 .4 2.4 .4-1.2 .4 .6 .4-1.9 .4 1.4 .4-2.9 .4 2.4 .4-.2 .4-1.1 .4 1.8 .4-1.1 .4 1.1 .4-1 .4 .6 .4-2.3 .4 4 .4-.7 .4 .2 .4-.4 .4 11.5 .4 8.8 .4 7.5 .4-2.7 .4-2.4 .4 2.1 .4 .3 .4-.9 .4-.1 .4-2.9 .4 3.8 .4-1.7 .4 1.5 .4-3.1 .4 2.3 .4-.2 .4 .8 .4-2.6 .4 1.8 .4-1.8 .4-1.7 .4 3.8 .4-2.1 .4 1.5 .4-.5 .4-1.4 .4 1.3 .4-3.1 .4 .6 .4-.6 .4-.8 .4 3.1 .4 1.1 .4 .4 .4-1.3 .4-.5 .4-.2 .4-.3 .4-1.2 .4 .2 .4-.8 .4 1.6 .4 .5 .4-.4 .4-1.1 .4 .1 .4 3.2 .4-2.4 .4-.7 .4-1.7 .4 5.5 .4-3.5 .4-1.4 .4-.8 .4 4.3 .4-1.4 .4-.9 .4 .2 .4-.2 .4 .1 .4 .8 .4 0 .4 .9 .4 .4 .4-.7 .4-1.6 .4 .4 .4-.8 .4-1.8 .5-.1 .4 1 .4 3.1 .4-2.7 .4 .3 .4 0 .4-.4 .4 1.1 .4 1.8 .4-3.3 .4 2.2 .4-1 .4 1.5 .4-1.5 .4 1 .4-.8 .4 1.8 .4-4 .4 1.7 .4-2.7 .4 4.3 .4 1.4 .4-1.4 .4-.6 .4-.5 .4 .1 .4-1.1 .4 .5 .4 1.1 .4 .2 .4-1.1 .4-3.1 .4 3 .4 2.3 .4-.8 .4-2.8 .4-.5 .4 1 .4-.2 .4 .7 .4 0 .4-2.3 .4 3.2 .4-2.7 .4 1 .4-.1 .4-.8 .4-.6 .4 .3 .4-.2 .4-.7 .4 .5 .4-2.2 .4 .5 .4-.4 .4 0 .4 1.2 .4-1.6 .4 .2 .4-1 .4-1.9 .4 2.1 .4-1.4 .4 .5 .4 1.4 .4 3.3 .4-4 .4-1.8 .4 .6 .4 1.9 .4-1.5 .4 1.4 .4-1.9 .4 .1 .4 .1 .4 .9 .4 1.1 .4-1.6 .4-.3 .4 1.8 .4-3.5 .4 3.1 .4 .4 .4-.9 .4-.3 .4 .6 .4-.9 .4 .2 .4-.2 .4 1.9 .4-1.4 .4-.4 .4 1 .4-2 .4 .8 .4-2.4 .4 5 .4-1.9 .4-.8 .4 3.1 .5 .4 .4-2.2 .4 .5 .4 1.4 .4-3.1 .4 .6 .4 1.1 .4 .2 .4-4.8 .4 4.9 .4-2.2 .4-.5 .4-.1 .4 1.2 .4-.8 .4 1.5 .4 .3 .4 0 .4-1.7 .4 2.6 .4-1.9 .4 2.1 .4-2.4 .4 .6 .4 1.1 .4 1.9 .4-2.8 .4 2.3 .4-1.3 .4-.8 .4 1.4 .4 .2 .4 1.1 .4-4.4 .4 6.4 .4-2.1 .4-.1 .4 .3 .4-2.8 .4 3.3 .4-1.4 .4 .5 .4 .4 .4-1.1 .4 1.2 .4-.5 .4 1.1 .4 .4 .4-1.4 .4-.1 .4 .6 .4 .1 .4-2.3 .4 .7 .4 4.3 .4-3.7 .4 1.4 .4 .9 .4 .1 .4-2 .4-.5 .4 3.7 .4-2.6 .4 .3 .4-1.2 .4 1 .4-1.4 .4 2.2 .4-2.6 .4 1.5 .4 1.3 .4 .1 .4-3.4 .4 3.1 .4 1.5 .4-2.9 .4 .3 .4 3.2 .4-2.8 .4-2.8 .4 3.4 .4 2.9 .4-.9 .4-4.3 .4 1.4 .4-.3 .4 1 .4-1.4 .4 .3 .4 .1 .4-.3 .4 1.2 .4-1.6 .4 1.4 .4-.6 .4 1.6 .4 2.4 .4-3.7 .4 .5 .4 2.1 .5-1.4 .4-3.5 .4 4.5 .4-1.3 .4 2.4 .4-.5 .4-.6 .4-1.7 .4 4 .4 .5 .4-1.2 .4 .6 .4 .3 .4 1.1 .4 0 .4 0 .4 0 .4-.2 .4-.6 .4 2 .4-.9 .4 1.6 .4-2.1 .4-.4 .4 1.3 .4-1.3 .4-1 .4 2 .4-2.3 .4 .3 .4 1.5 .4-2.1 .4 1.4 .4 1.4 .4-2.3 .4 1.2 .4-.2 .4-.3 .4 .8 .4-.9 .4 .6 .4 .1 .4-1.2 .4-.6 .4 3.4 .4 1.7 .4-4.5 .4 0 .4 3 .4-1.5 .4 1.3 .4-1.4 .4 1.5 .4 .1 .4 1.1 .4-3.1 .4-.1 .4 2.5 .4-1 .4-1.3 .4-.2 .4 2.1 .4 .9 .4-1.8 .4 1.5 .4-3.1 .4 2.9 .4-1.5 .4 2 .4-2.9 .4 0 .4 2 .4 1 .4-2.8 .4 1.7 .4 1.2 .4 0 .4-.5 .4-2 .4 .2 .4 1.2 .4-.7 .4 .7 .4-.3 .4 .3 .4 .2 .4-2.3 .4 1.9 .4-1 .4-.5 .4 1.8 .4 .8 .4-.8 .4-.7 .4-.8 .4-1.5 .4 1.5 .4 1 .4-.7 .4 1.9 .5-.5 .4-1 .4-.2 .4 2.4 .4-3.6 .4 3.1 .4-3.6 .4 4.3 .4-1.2 .4 1.3 .4-1.9 .4 0 .4 1.4 .4 .2 .4-2 .4 1.4 .4-2.4 .4 1.3 .4-1.2 .4 .9 .4 1.7 .4-2.3 .4 3.4 .4-4.6 .4 4.4 .4 .1 .4-2.7 .4 1.1 .4 .2 .4 .8 .4-2.1 .4 1.4 .4-.2 .4-1.5 .4 .1 .4 1.1 .4-1.3 .4 1.3 .4 .6 .4 .7 .4-.1 .4-.3 .4 2.7 .4-2.4 .4-.8 .4 .6 .4-1 .4 .8 .4 1.1 .4-1.3" fill="none" stroke="#141210" stroke-width="2.0" stroke-linejoin="round"/>
<path d="M597.5 861.7l.4-7.4 .4 11.9 .4-1.2 .4 3.5 .4 4.6 .4-3.3 .4 2.9 .4-2.2 .4 4 .4-3.3 .4 3.8 .4 4.4 .4 2.8 .4-3.6 .4 2.4 .4 2.1 .4 .7 .4-.9 .4-1.1 .4 3.7 .4-6.1 .4 4.2 .4-3.6 .4 1.8 .4 2.6 .4-1.1 .4-.8 .4-.4 .4 4.2 .4-4.6 .4-.6 .4-2.4 .4 4.8 .4 2.9 .4-6.5 .4 4.5 .4 1.6 .4 1.8 .4-1.3 .4-3.9 .4 1.5 .4-2.7 .4 2 .4 .3 .4 1.7 .4-1.1 .4-.6 .4 2.7 .4-2.5 .5 2 .4 .3 .4-5.9 .4 5.9 .4 1.5 .4-7.4 .4-1.8 .4 4.3 .4-.2 .4-2.5 .4 3.1 .4 2.1 .4-11.6 .4 4 .4 5.9 .4-1.9 .4 3.2 .4-2.1 .4-2.7 .4 3.1 .4-3.1 .4 2.9 .4-3.2 .4 .5 .4-1.6 .4 4.9 .4-3.5 .4 2.1 .4 .6 .4-2 .4 6.1 .4-5.2 .4-1.9 .4 4.4 .4 0 .4 .9 .4-8 .4 7.3 .4-5 .4-2.7 .4 5 .4 1.7 .4-6.3 .4 1.9 .4-1.5 .4 4.7 .4 0 .4-3.8 .4 2.5 .4-1.8 .4-1.1 .4 3.2 .4-4.5 .4 7 .4-2.9 .4-4.9 .4 .3 .4 .3 .4 1.3 .4 3.3 .4-2.1 .4 1.1 .4-4.2 .4 1.4 .4 .8 .4-.4 .4-.4 .4-1.6 .4 2.3 .4 2.1 .4-1.5 .4-1.1 .4-.5 .4 2.8 .4-6.4 .4 3.2 .4 2.5 .4 .3 .4-.4 .4-.6 .4-3.9 .4 2.8 .4-.9 .4-.6 .4-1.9 .4 .2 .4 2.5 .4-3.9 .4 .9 .4 7.1 .4-3.7 .4 .8 .4 0 .4-3.7 .4 4.7 .4 0 .4-1.3 .4-2.7 .4 .9 .4-.2 .5-.2 .4 4.9 .4-3.2 .4-2.1 .4-1 .4-2.1 .4 3.2 .4 .4 .4-2.5 .4 .3 .4-3.8 .4 5.6 .4-1.1 .4-2.2 .4-1.3 .4 3.9 .4 2.5 .4-6.6 .4 5.7 .4-3.8 .4 1.3 .4 3.7 .4-6.8 .4 3.7 .4-3.4 .4 1.7 .4 2.7 .4-4.8 .4 .2 .4 6.6 .4-8.1 .4 3.1 .4-.3 .4 1.6 .4 1.1 .4-3.8 .4-.9 .4 7.1 .4-7.6 .4-2.1 .4-.2 .4 6.5 .4 1 .4-1.4 .4-6.1 .4 7.6 .4-4.8 .4 3.1 .4-2.6 .4 2.7 .4-1.2 .4-4.1 .4 1.8 .4 2.3 .4 .5 .4 1.6 .4-2.8 .4-3.5 .4 .7 .4 7.9 .4-8.8 .4 5 .4-.4 .4 1.9 .4-1.5 .4 1.7 .4-8.1 .4 5.2 .4-1.1 .4 3.5 .4-1.1 .4-5.8 .4 3.5 .4-2.2 .4 3.8 .4-4.8 .4 6.4 .4 .7 .4-6.3 .4 2 .4 1.4 .4 .4 .4 2.1 .4-4.3 .4-.4 .4-1.3 .4 .9 .4-.2 .4 1.4 .4-.2 .4 1.8 .4 2.7 .4-2.7 .4-.5 .4-3.6 .4 2.4 .4-2.8 .4 3.2 .4 1 .4-.5 .5 1.2 .4-1.4 .4 1.6 .4 1.4 .4-.6 .4 .6 .4-4.6 .4-2.2 .4 3.8 .4 1.6 .4-.3 .4 1.8 .4-2.7 .4-.9 .4-1.2 .4-.4 .4 2.8 .4 .2 .4-1.7 .4-1.3 .4-1 .4 .6 .4 3.6 .4 1 .4-3 .4 .6 .4 3.7 .4 .4 .4-1 .4 3.9 .4-.3 .4-7.3 .4 6.5 .4 3.6 .4-4.5 .4-.3 .4 2.3 .4 .9 .4-.8 .4-3.4 .4-2.5 .4 3.3 .4 1.4 .4 .7 .4 1.4 .4-4.9 .4 4.4 .4-7.8 .4 4.7 .4-1.8 .4 3.3 .4 2.3 .4-.4 .4-5.2 .4 1.2 .4-5.8 .4 8.2 .4-3.1 .4 3.1 .4-1 .4-1.1 .4 4.4 .4-6.5 .4 1 .4 1.3 .4-1.1 .4-2.2 .4 3.3 .4-1.2 .4 2.6 .4 2.4 .4-5.8 .4 3.4 .4 1.3 .4-.7 .4-1.7 .4-1 .4-2.9 .4 .7 .4 3.6 .4-1.1 .4 1.1 .4 1 .4-1 .4-1.9 .4 1.7 .4 2.2 .4-3.1 .4 .6 .4 2.1 .4-2.7 .4-1.3 .4-.3 .4 3.5 .4 .2 .4-2 .4 0 .4 .9 .4 1.5 .4 1.9 .5-8.2 .4 5.8 .4-.7 .4 .9 .4-.1 .4-2.1 .4 .3 .4 2.9 .4-5.9 .4 2.6 .4-.6 .4 .1 .4 1.7 .4 1.2 .4 2.5 .4-6 .4 5.9 .4-8.7 .4 6.7 .4-.4 .4-1.8 .4-4.3 .4 3.8 .4 4.4 .4-4.3 .4 0 .4 1.8 .4-.7 .4-.2 .4-1.1 .4-1.7 .4 2.4 .4-1.8 .4-2 .4 5.1 .4 1.1 .4-4 .4 2.6 .4-.6 .4-1.6 .4-.3 .4 6.3 .4-4.3 .4-7 .4 5.5 .4 1.3 .4 0 .4-1.7 .4 1.2 .4 2.3 .4-.6 .4-3.2 .4 7.5 .4-4.3 .4 2.4 .4-7.6 .4 2.6 .4 6.1 .4-1.7 .4-1.6 .4-2.6 .4 2.6 .4 2.4 .4-1.9 .4-3.4 .4 4.4 .4-1.2 .4-.4 .4 1.4 .4-3.1 .4 1.3 .4-3.3 .4 3.6 .4 3.6 .4-4.9 .4 .7 .4-1.9 .4 1.9 .4 2.8 .4-3.4 .4 6.2 .4-4.9 .4-4.6 .4 5 .4 .2 .4 2.1 .4-6.3 .4 1.6 .4 4.3 .4-3.7 .4 2.2 .4-4.3 .4 1.7 .4 0 .4 1.7 .4-.9 .4 1.8 .4-1.8 .4 1.6 .4 2.3 .5-4.1 .4 1.5 .4-.7 .4 .7 .4 3.4 .4-2.5 .4-6.2 .4 5.6 .4-2.3 .4 3.8 .4-4.3 .4 2.3 .4 1.8 .4-3.1 .4 .7 .4 .9 .4-.6 .4-2.1 .4 .9 .4-.9 .4 .1 .4 3.5 .4-.1 .4-1.7 .4 1.2 .4 1.1 .4-4.3 .4 4.7 .4-2.8 .4 3.7 .4-1.6 .4 8.5 .4 9.1 .4 8.3 .4-3.1 .4-2.4 .4 1.3 .4 1.6 .4 1.3 .4-2.9 .4 .1 .4 2 .4-2.3 .4-.3 .4-.3 .4-.5 .4 4.3 .4-.3 .4-6 .4 2 .4-1.7 .4 1.5 .4 6 .4-5.2 .4 0 .4-1.6 .4-.9 .4-.2 .4-.4 .4-1 .4 5.4 .4-7.8 .4 7.6 .4-1.4 .4 2.6 .4-4.5 .4 3.5 .4-1 .4 1.8 .4-8.3 .4 6 .4-1.5 .4-1.4 .4 2.8 .4 1.1 .4-2.7 .4 2.5 .4 .3 .4-2.7 .4-3.2 .4-5.7 .4 15.9 .4-7.9 .4 2.8 .4-3.9 .4 3 .4-3.5 .4-.6 .4 5.6 .4-2.1 .4-2.2 .4 1.7 .4 0 .4 0 .4 4.6 .4-4.2 .4 0 .4-1.2 .4 1.9 .4-3.5 .5-2.3 .4 4 .4 3.7 .4-8 .4 1.7 .4 2 .4 2 .4 .4 .4 .6 .4-1.9 .4 3 .4-5.5 .4 4.6 .4-3 .4 1.2 .4 .6 .4 .4 .4-1.3 .4-.1 .4-1.5 .4 3.6 .4 1.7 .4-2.3 .4 .9 .4-2.6 .4-.5 .4-2.7 .4 1.5 .4 6.8 .4-3.7 .4-.9 .4-3.2 .4 3.4 .4 4.2 .4 1.4 .4-6.1 .4-1 .4-1.4 .4 .7 .4 3.9 .4-3.2 .4-3.5 .4 3.5 .4-.9 .4-2.3 .4 2.3 .4-1.9 .4 3.3 .4-2.5 .4 0 .4-.9 .4 .7 .4-.7 .4-.1 .4 1 .4-1.1 .4 1.6 .4-.7 .4-4.3 .4-.4 .4 .5 .4 1.5 .4-2.3 .4-2 .4 4.2 .4 3.8 .4-8.1 .4 1.1 .4 6.8 .4-2.2 .4-2.2 .4 2.8 .4-5.8 .4 1.8 .4-1.5 .4 1.1 .4 1.5 .4 1.1 .4-3.2 .4 6.6 .4-6.1 .4 3.3 .4-1.3 .4-4.3 .4 4.3 .4 3.1 .4-4.1 .4 0 .4 2.6 .4-1.3 .4-4.4 .4 7 .4-.8 .4-5.7 .4 1.5 .4 0 .4 2.5 .4-.1 .4 4.2 .4-.5 .5 1 .4-5.5 .4-.8 .4 2.3 .4-2 .4-1 .4 4.8 .4-1.3 .4-6.9 .4 5.9 .4 .5 .4-2.7 .4 1.6 .4 .4 .4-4.8 .4 8 .4-3.6 .4 2 .4-6.7 .4 5.6 .4 .7 .4 2.5 .4-5.7 .4 3.5 .4-1.7 .4 4.5 .4-2.1 .4 .9 .4-.4 .4-.2 .4-3.5 .4 5.3 .4-.2 .4-2.9 .4 6.4 .4-5.5 .4-1.9 .4 3.3 .4-1 .4 1 .4-3.8 .4 3.5 .4 2.4 .4-3.9 .4 2.8 .4-1.7 .4-2.5 .4 .4 .4-1.2 .4 3.4 .4-.3 .4-.5 .4-.4 .4 1.4 .4 2.2 .4-.2 .4 1 .4-1.4 .4-1.9 .4 2 .4-4.7 .4 5.1 .4-1.2 .4 1.9 .4-3.3 .4 .9 .4 .7 .4 2.1 .4-6 .4 2.5 .4 2.1 .4-1.5 .4-1.4 .4 2 .4 .7 .4-.9 .4-1.8 .4 4.3 .4-4 .4-.4 .4 1.7 .4 4.2 .4 .3 .4-6.9 .4 1.3 .4-1.6 .4 .6 .4 5.9 .4-5.7 .4 2.1 .4-1.5 .4 0 .4-2.8 .4 4.8 .4 .4 .4-.6 .4-1.7 .4 .1 .4 1.2 .4-.2 .5 3.8 .4-4 .4 1.1 .4 3.3 .4-.3 .4 0 .4-4.2 .4 0 .4 1.6 .4 1.6 .4 5.6 .4-4.3 .4-.5 .4 3.6 .4-3.9 .4 1.6 .4 3 .4-.7 .4-2.9 .4 3.2 .4-1.1 .4 .2 .4-5.5 .4 2.9 .4 .1 .4-2.2 .4-1.8 .4 6.9 .4-2.5 .4-1.4 .4 1.4 .4-1.3 .4 0 .4 1.5 .4-1.2 .4-.6 .4 .5 .4 3.8 .4-3.1 .4-1.9 .4 1 .4 3.6 .4-5.2 .4 .8 .4 7.9 .4-1.4 .4-8.2 .4 3.9 .4 3.6 .4-3.8 .4 5.1 .4-.8 .4-1.3 .4-1.8 .4 2.5 .4-5.2 .4 1 .4 4.7 .4-3.1 .4-2.4 .4 1.1 .4 2.6 .4-1.4 .4 .5 .4 .1 .4-2.2 .4 2.3 .4 2.1 .4-3 .4 .1 .4 .3 .4 5.8 .4-.9 .4-4.4 .4 2.1 .4-.5 .4-1.4 .4-2.4 .4 4.3 .4-4 .4 6.3 .4-2.8 .4-1.6 .4 .7 .4 .6 .4-2.6 .4-.8 .4 2.6 .4-1.2 .4-.3 .4 1.4 .4 .5 .4 .2 .4-3.1 .4 3.3 .4-1.5 .4 1.1 .4-4.1 .4 .6 .4 4.4 .5-3.7 .4 .7 .4 1.5 .4-5.2 .4 6.1 .4 3.4 .4-9.3 .4 5.7 .4-.9 .4 2.2 .4-1.9 .4-1.2 .4 2.5 .4 .5 .4-3.1 .4 3.3 .4-6.7 .4 8.9 .4-4 .4 1.1 .4-1.7 .4-2.5 .4 5.6 .4-3.3 .4 6.3 .4-2.8 .4-2.1 .4 1.1 .4-2.3 .4-2.3 .4 4.8 .4 .8 .4-3.3 .4-1.6 .4 1.9 .4-1.8 .4 2 .4 1.5 .4 .6 .4-2.4 .4 3 .4-3.5 .4 2.7 .4-.2 .4-4.4 .4 2.1 .4-1.2 .4 4 .4-.4 .4-2.9" fill="none" stroke="none" marker-start="url(#fK)" marker-mid="url(#fK)" marker-end="url(#fK)"/>
<path d="M596.9 707l.2 1.2 .1 1.3 .2 1.3 .2 1.2-.6 4.9 .1-7.5 .6 3 0 10.5 .1-2.2 0-3.1 .8 3.5 .3-2.5 .4 3.3 0 8 .1-7.7 .1 .9 .3 2.6 .1 7.3 .4-3.7 .1 5.5 .2-2.1 .2 2.9 0-3.3 0-6.6 .1 8.4 .8 1.5 .1-1.5 .2 3.7 .2-5.7 0 2.2 0 .4 .1 1.4 .2 .1 .4 .8 .3 5.8 .1 .1 0-6.1 .3 4.6 0-3.9 .1 .3 .4 7.5 .2 .8 .2-3.3 .1-3.4 .1-1.5 .1 .7 .1 4.2 0-3 .2 4.4 0-.5 .2-.4 .1-1.4 0-1.5 0 0 .1 3.9 0 2.1 .2-4 .1 5.8 .1 0 .1-4.5 .1 .5 .2-4.9 .2 7.3 .6-2.8 .2-2.5 0 5.9 0 .8 .3-4.4 .1 4.5 .2-7.4 .8 8.2 .2-1.3 .3 3.1 .1-5.9 0-1.5 0-2.4 .3 5.9 .4-5 0 4.3 .1 .8 .1-2.7 0 4.6 .1-.9 .2-2.9 .3-1.1 1.1 7.8 .4-7.4 0 .4 .1 9.8 0-9.8 .1 4 .2 3.3 .1-4.5 .2 3.6 .1-1.8 0-3.1 0 2.3 .4 1 .2-1.3 .1-3.8 .4 4.7 .1-5.6 .2 9.5 .2-2.8 .6 .6 .3 1.9 0-2.3 .2 1.5 .1 .7 .2-1.6 0 2.3 .2 1.2 .1-2.6 .3-2.5 0-.5 .2 7.4 .1-4 0 1.2 .1-4.7 .1 1.7 0-2.5 0 2.1 .1 2.8 .5 1.3 0-4.7 .4 .5 .7 2.1 .1-4 .2 5.8 .1-5.2 .2 .6 .1-.1 .1 6.8 .1-7.9 .2 4.1 .2 8.2 .3-8.1 .3 .7 0 5.2 .1-8.4 .4 7.5 0-3.3 .5-4.2 .1 8.2 0-7.6 .1 4.8 .1-1.1 0 4.5 .3-6.1 0 5.6 .1-7.4 .2-2.2 .2 5.8 .1 1.2 .3-.1 .1 3.8 .1-4.7 .1-2.2 .1 3.7 .2-5.3 0 8.2 .1-2.1 .3-4.5 0 1 .3 3.1 0 2.6 .2-6.9 .1-2.5 0 10.6 .1-9.4 .1 9.1 .3-4 .6-6.6 .1 3.5 .2 1.8 .1 3.7 .2-2.2 .2-4.3 .3 8.9 0-2.5 .1-5.8 .3 3.7 0-1.2 .2 5.3 .4-8.6 .3 .2 .1 6.3 0 .8 .1-8.2 .3 2 .8 6.3 .2-3.3 .1 4.6 .1-.4 .2-5.6 .1 8.4 .5-9.8 .1 6.6 .3-1.4 0 .4 .1-1.3 .1 0 .1-7.3 .2 5.5 .4-4.2 .1 7.6 .2-6.1 .1 4.9 .3 .2 .5 1.1 0-.8 .4 .7 .2 1.2 .1-10.3 0 11.9 .4-3.6 .7 2.5 .5 2.3 .1 .6 0-2.3 0-4.4 0 5 .2 .5 .1-5.1 0 .9 .2-.7 .3-2.6 .1 1 .1 6 0 .2 .3-3.9 .1 4.5 .1-6.6 .1 6.3 .3-1.7 0 2.4 .4-1.8 .2-2.2 .5-.3 .1 2.8 .1-5.1 .1 1.6 0 1.4 .2 1.9 .2-4.6 .1 1.7 0-1.4 .2 7.1 .1-8.7 .1-.1 .2 7.5 0-4.6 .1 1.9 .1 3.6 .1-11.1 0 4.5 .1 5.8 0-6.6 .2 1.4 .3 9.2 .2-9.2 .2-2.5 .2 1.9 0 8 .2-6.5 .2 1.4 0-2.6 .4 7.9 .1-5.8 .4-1.1 0-4.4 .1 7.2 .2-6.1 0 5.9 .2 4.8 .1-7.4 .1-1 .1 5.8 .4-6.5 .3 4.3 .4 2.2 .6 1.3 .2-8.2 .5 2.7 .1 7.8 .1-3.8 0-3.2 .2 2.8 .1-2.3 .3 2.5 0 4.6 .5-9.8 .2 8.9 .2-5.1 .2-1.7 0 5.6 0 .6 .1-9.5 .3 1.5 0-1.9 .3 3.1 .3 2.2 .1-6.3 0 8.7 .1-2.2 .2-1.3 .2-7.2 .1 2.3 .6 4.9 .1-3.3 .3 2 .1-3 .4 .1 0 7.4 .1-9.1 0 3.7 .1-2.9 .2 2 .2 4.5 .1-3.2 0-.8 .3 6.2 0 1 .5 .3 .1-3.3 .4 .7 .3 3.6 .1-8.3 .8-.5 0 5.6 .2-7 .3 2 0 .5 .2-3.1 .4 9 0-1.7 .7-3.9 .2 2.3 0 .3 .1 2 .2-3.6 0-.4 0 1.5 .1-1.9 .1 1.2 .3-.7 .2 5.3 .1-5.1 .1 7.6 .3-4.8 .3-4.7 0 4.6 .1-3.8 .1 5.9 0-1.1 .1 4 .1-4.4 0 4 0-2 .1-.9 0-4.6 .1 .7 .1 0 .5 5.3 .2-8.7 .2 3.8 .2 4.7 .3-9.2 .2-.8 .1 .8 0 5.3 .4 3.8 0-3.3 .1 3.6 .5-2.8 .1-8.8 .1 12.8 0-4.2 0-7.1 0 15.8 .2-7.1 .1-8.8 .3 1.6 .1-1.6 .1 13.2 .1-8.8 .1 2 .3-7.4 0 4.3 .2 3.2 0 1.8 .1-1.4 .1-4.5 0 9.3 .4-2.6 .1 3.5 .5-3.1 .1 1 .1-1 .4 1.2 .1-.3 .2-2.4 0 .7 .5-4.5 .1 5 0-2.9 .1-4.3 .1 6.9 1.2-6 0 4.2 0 .6 .1 7.2 .2-11.1 0 3.9 .1-2.9 .2 .2 .2 2.8 0 5.5 .2-7.8 0-2.2 .1 0 .1 5.3 0-3.3 .1 4.1 0-6 .1 5.9 .2 3.9 .2-2.1 .1-7.1 .3 1.4 .1 5.3 .2-11.5 .1 4.1 0 4.7 .2-4.6 .3-.5 .1 2.6 0 1.6 .3-1.2 .1 4.6 0-8.2 .1 12.2 .1-7.2 0-6.9 0 2.6 .1 3.6 .1 .7 .4 3.8 .3-5.8 0 2.7 0-1.8 0 1.3 .1 .5 0-1.1 0 4.6 .4-7.6 0-.8 .2 9 0 0 .1-4.3 .1-5.2 0 1.5 0-4.7 .1 8 0-1.8 .1-1 .3 2.6 .2-1.6 .1 4.8 0-9 .6 1.9 0 8.4 .1-1.6 .1-7.5 .1 4.6 .2-1.1 .2-7.9 0 7.7 .3 .7 0-1.5 .1 5.5 .2 0 .2 1.5 .1-5.4 0-.2 .3 1.6 .2-4.6 .1 6.9 .1-2 .1-6.2 .1 .7 .4 9 .1-4.1 .3 3.1 .1 .6 0-7.1 .6 4.9 .1-7.6 .3-.7 .2 7.9 .2-6.3 .1 9.5 .1-7.7 .2 .4 .4 9.9 .5-5.7 .4-.5 .1-1.3 .1-.1 0-4.3 .1 7.4 0-11.8 .1 18.5 .5-13.4 .3 14.2 0-13.4 .2-2.5 .1-.3 .5 9.4 0-5.5 .5 1.8 .3-2.8 0 6.4 .1-10.7 .1 6.4 0-3.2 .1 1.5 .1 3.3 .4 2.5 .1-2.3 0-2.6 .1-.5 .2 1.4 .1 2.9 .7-.4 .3 4.2 0-9.4 0 5.3 .1-2.3 0-3.3 .2 8.2 0 .2 .2-10.2 .1 2.4 .5 1.1 0 7.5 .3-6.7 0-2.2 .4 7.3 .1-.7 0-8.4 .2 3.3 .1 4.1 .2-6.7 .1 8.7 .4 1.8 .1-11 .2 4.1 .4 2.2 .1 5 .3-7.6 0 .4 0 5.3 .2-4.5 .1 2.8 0 3.8 .2-11.3 .2 1.6 0 6.8 0-1.1 .1-4.7 0 7.9 0-.7 .1-2.1 .2-5.5 .1 2.2 .1 1.6 0 6 1.6-2.5 .1-9.3 .2 3.3 .1-2.8 0 6 .1-5.3 .1 8.9 .1-5.3 .1 4.9 0-2.3 .2-6.2 .2 4.4 .2-1.7 .2 3.4 .2 3 .2-.3 .1 1.1 .1-7.3 0-.9 .6 4.5 0-7.2 .1 9.8 .8-7.8 0-2.3 .3 1.9 0-.2 .3 .5 0 .6 0 2.2 .1-4.3 .3 3.5 .1 9.9 .1-11.5 .4 2.1 .4 4.1 0-3.4 0-3.7 .2 9.7 0 .1 .1-8.7 .2 2.6 .2 .2 .2-1.2 .1-5.3 0 9.7 0 2 .1-5.2 .1-3.1 .1-1.4 .1-2.2 0 12.5 .6-11.4 .2 7.5 .1 3.8 0-8.4 .1-.8 0 9.6 .3-9.9 .2 2.3 0-2.6 .2 8 .3-4.3 .1 3.9 .3-6.3 0 1.9 .1-3.5 0 6.9 .1-1.7 .5 .9 .4-2.9 .6 2.2 .1 2.8 0-.8 .3-3.5 .1 1.3 .8 .9 .3-.2 .1-6.5 .5 3.6 .3 2.6 .1 2.8 0-5.1 .2 8.1 .4-4.2 .2-2 0 1.1 .5-5.9 .3-1.5 .2 6.5 .2 1.9 0-8.7 .2 9 .1-7.3 0 11.8 .2-2.4 0-8.2 .2 4.4 .1-1.2 0 3.1 .2-3.6 .4-2 0 3.3 .2 5.8 .3 .8 0-1.4 .2-4.8 .6-1.9 .1-1.5 .1 4.6 .1-1.3 .2 1.5 0-5.1 0 2.3 .1 3.3 .1 .4 .2 1.2 .1-1.2 .1-1.5 .2 3.4 .3-7.5 .2 5.3 .2-5 .4-3 0 2.9 .2 11.7 .3-12.8 .3 4.8 .2-5.3 .2 1 .6 6.6 .1-2.7 .2 2.6 .2 .3 .2 .1 .1-6.1 0-1.6 .2 9.8 .2-8.3 .1 4.3 0-1.3 .4-1.1 0 5 .1 2 .5-.7 .4-8.6 .2 3.9 .1-7.3 .1 11.8 .1-6 0 7.6 .1-11.4 .4 4.6 .3-3.6 .1 7.7 0-4.3 .1 6 .4-6.3 .2 2.8 .3 2.1 0 .5 .6-6.1 0 1.9 0 2.3 0-1.5 .3-1.1 .2-2.9 .1 6.1 .2-7.1 .2 3.8 0 5.3 .3-10.6 .1 12.3 0-6.2 .2 2.7 .2 .5 0-7 .1-3.4 0 1.8 .3 11 .1-5.1 .7 .8 0-5.3 0 10 .3-12.2 .3-.1 .6 7.6 .1-1 .1 .8 .1 1.5 .1-6 0-.6 0 10.1 0-3.3 .2-8.4 .1 9.7 0-8.3 0 7.4 .3-7.6 .4 5.4 0 1.1 .1-5.4 .2-1.1 .4 4.1 .3-7.1 0 4.7 .1 6.3 .3-9 0 .7 0 8.4 .2-10.9 0 5.7 .2-4.1 .1 8.3 0 0 .2-1.2 0 2.8 .1-5.5 .1-1.8 .1 5 .2 1.7 .1 .8 .1-5.4 .5-.3 .1 .1 .5 2.9 .3-2.5 0 7.3 0-8.9 .2-4.9 .4 10.2 .3 3.7 0-4.2 .1-.9 0-4 .2-2.6 .1 1.7 0-1.3 .3-.3 0 8.9 .3-4.7 .1-2.7 0-1.7 .1 1.4 .1 .6 .1 1.1 .1 3 0-2.8 .1-1.7 0 4.6 .2-1.2 .5-3.3 0-2.7 .1 11.1 0-3 0-3.4 .4 4.3 0-3.9 .2-.1 .1-2.6 .1 4.2 .1 2.7 .4-3.1 0 2.2 .2-5.9 .4 0 0 2.7 .4 1.6 .1-2 .3 9 .4-7.5 0 .2 .1-4.1 0 4.2 0-1 .1 1.5 .2-1.1 .5-5.6 .1 5.4 .1 3.1 .6 .2 .1-.5 .3 0 0-3 .2-3 .2 .1 1.1 6.4 .3-.2 0-2.1 .2-6.5 0 6.8 .3-3.4 .2-1.5 .3-1.6 .2 7.5 .1-8.9 .3-.6 .3 1.3 .1 15.1 .1-3.9 0-.9 0-12 .3 5.5 .1 4.1 .1-1.6 0 2.8 .1-1.6 .1-3.1 0 4.9 0 1.6 0-5.2 0-2.1 .1 .9 0-1.7 .1 3 0-4.7 .1 2.8 .2 0 0 8.7 .1-2.4 0-4.8 .1-2.9 .1 .6 .4 3.7 0-5 .3 4.5 .2-4.4 .1 4.4 .6-1.6 .1 4.5 .2-10.6 .6 13.4 .3-9 0-1.7 .1 6.3 .3 1 .1-2 .2-2.7 .3 2 .2 4.1 .1-4.4 .1 4.2 0-2 .1-.9 .2 1.7 .2-6 .1 2.6 .1 5.5 .2-3.3 0 6 .2-7.9 .3 5.9 .2-.2 .3-7.5 0 4.2 0-7.3 .2 2 0 1.5 .3 5.3 .1-6.7 .9 3.8 0-4.9 0 5.8 .2-.6 0 2.3 .1 1.4 .5-1.9 .1-8.7 0 2.8 0 2.6 .1 .3 .1 3.6 .4-1.1 .3 3.3 .2-3.4 .4 1.1 .1-1.4 0-1.9 0-3.3 .1 3.8 .1 .1 .4-6.5 .1 2.5 .2 4.1 .1-2.7 0 .2 .1-3.1 .2 1.7 .2 5.2 .3-4.2 0 .2 .2 8.3 0-5.2 .1-6.8 .1 4.4 .1 5.5 .2-1.9 .1 4 0-4.4 .1 1.2 .1-4.9 .4 .4 .1-3.4 .2 11.4 .4-8.6 0 5.4 .3-8 0 6.1 .1 1.8 .1 3.1 .3 1.8 .1-1 .6-8.2 .1-4.2 0 6 .2-6.6 .4 11.3 .2-2.3 .1 1.3 .5-3.6 0 .9 .3-6.1 0 1.8 .1 7.5 .4-5.3 0 2.8 .1-6.1 .1 .8 .5 6.2 .1 .9 .1-5 0-.5 .4 1.9 .1-2.9 .2 .8 0-4.7 .2 7.8 .1-.7 .2 6.7 .3-10.7 0 4.9 .1 2.4 .2-5.9 .1-.9 .1 .1 0 7.9 .1-6.3 .1 2.5 .1-3.4 .2 4.2 .1-2.3 .1 5.2 .1-11.1 .2-2.8 .3 8.4 .2 1.9 .1 5.3 .2-12.7 0 7.3 .1-5.1 .1 1.1 0-3.1 .2 3.7 .1-1 .1 .5 .2 1 0 4.2 0-4.8 .5-.3 .3-1.5 .2-4.9 .1 8.6 .3 2.4 0 7.4 .1-9.7 .1 4.2 .1 1.3 .1-10.5 .4 2.4 .1 .1 0-3.6 .1 7.6 .1-1.6 0-3.5 .1 .7 .1-3 0 2.8 .1-3 .2 3.6 0-1.6 .2 6.8 .1-.7 .1 1.9 .4-3.6 .3 2.2 0 .5 .1-5.1 .1 1.7 .1-1.6 .3 .1 .1 7.4 .2-8.7 0 2 .2 3.4 .1 .1 .1-1.5 .4-2.4 0 .8 .2-3.7 .6 2.9 0 8.8 .5-5.2 .3-1.5 .2 4.7 0-4.4 .1-.9 .2-3 .5 6.4 0-2.5 .1-5.7 .1 1.7 0 1.3 .1 1.7 .1 5.2 .3-8.3 .4-2.4 .2 10.8 .3-4.2 0 .9 0-7.3 0 6.9 .1-3.7 .1-2.2 .3 .9 0 1.7 .5 1.7 .3-4.4 .1 7.6 .1-3.3 0-2.8 .2 7.8 .1 .9 .1-7.3 .1 0 .1-.1 .6 8.3 .2-11.7 .1 6.9 .7 2.5 .1-2.7 0 4.2 .2 .8 .1-8.2 .3 1.2 .5 2.1 .4 1.1 .2 .9 .1 1 0-3.4 .1-4 .2 3 .3-6.1 0 9.2 .2 5.1 .1-12 .2-.7 0 6.4 .2 1.2 .2-4.4 0 6.2 .3 3 0-4.6 .3 4.7 .1-8.3 0-2.5 .2 3.4 .2-.5 .1 4.6 .2-.7 .1-6.9 .2-1.4 0 10.1 .7-2.4 .1-6.2 .1 2.3 .1 4.5 .2 4.5 .1-10 .1 3.8 .1-2.2 0 7.7 .1-5.8 .5-3.7 .1 2.1 0 2.1 .2-8.7 .2 1.9 .8 7.4 .2-3.5 0 1 0 1 .2 .5 .1-3.5 .2 5.2 .1-4.2 .1 .9 .1 5 0-.5 .3-4.4 .1-1.2 0-1 .1-1.1 0 4.2 .1 1.4 .4 3.6 0-6.8 0-4.7 .2 9.7 0-6.9 .1-2.1 .2 3.7 .3-.1 .3 4 .2 3.8 .2 2.6 .1-12 0 5.8 .2-9.5 0 10.1 .3-1.5 .1-5.5 .2 1.7 .1-1.1 .6-2.6 .5 7.7 .3-6.6 0 10 0-3.8 .2-4.3 .1 7.7 .2-5.3 .1-5.1 .3 6.3 .1 5.1 0-1.5 .1-7.9 .2 3.7 .4 2.9 .2-11.4 .1 13.5 0-3.3 .1-1.1 .1-2 .2 4.7 .1-2.9 .1-.3 0-2.7 0-.6 .7 6 .4 3 0-1.4 0-1.8 .2-5.8 .5-1.2 0 5.3 0 3.8 0-6.8 .2 2.9 .1-3.9 0 7.6 .4 .5 0-7.9 0 6.2 .1-2.6 0 3.8 .3 .3 .1-8.1 .1 6.2 .1-4.4 0 8.5 .2-11.7 0 2.3 .1 8.1 0-6.9 0 2.7 .4 4.4 .1-6.9 .2-.5 .1-4.1 0 6.2 .1 .8 .1-.2 0-2.3 .2-.9 .2 1.7 .7 3.5 0-7.6 .4 .5 .2 3.6 .5 .4 .1-1.5 0 2 .1 1.2 .1-.7 0 3.5 .3-6.7 .1 2.7 .1 4.7 .4-3.3 0-4.7 .1 6.2 .1-6.6 .1 1 .2-6.5 0 13.5 .6-10.1 .1 5.8 0 1.7 0 1 .8-5 .1 4.7 .1 2 .1-11.2 .1 9.4 .1-6 .2 9.1 .3-11.5 0 2.9 .1 .3 .2 7.1 .4-4.9 .1 0 0-4.4 .6 5.9 .1 2.8 0-8.8 0 9 .5 .1 .4-3.3 .1-5.5 .2 2.4 .1 0 0-2.8 .1 4.1 .1 .8 .1-4.4 .1 4.6 .2 2.5 .2-1.5 .1-3.4 0 6.8 0-1.5 0-5.4 .2 4.6 .1-1 .1-9.9 .4 8.7 .4-5.6 .4 2.5 .2 6.8 .3-.4 0-3.2 .1 0 .1-1 .3-.2 .1 2.6 .3-6.5 .2 8.6 0 .5 .1-3.9 0-1.8 .2 6 0-9.3 0-2.4 .3 9 .4-.5 0-2.5 .1-.9 0-3 0 4.8 .1 3 .2-.2 .1-1.6 .2-.6 0-2.6 0 4.6 .1 0 .1-2.1 0 7.1 .1-8.7 .1 2.8 0-8.1 0 9.5 .1-3.1 .2 2.7 .1-4.6 .2-2.9 .1 2.7 .3-4.6 .1 9.1 .1-6.3 .3 .4 .1 5 .7-2 .1 7.3 .3-10.5 .1-3.8 .3 11.5 0-.7 .1 .5 .1-1.6 .1-7.6 0 2.2 .1 7.1 0-1.5 .2-7.3 0 12.2 .4-10.9 0 3.7 .1-4.4 .2 10.6 .3-2.2 0-.6 .1 1.4 0-1.2 0 4.9 .1-15.6 .3 11.8 .1-2.1 .2-3.3 0-4.5 .5 10.3 .4-5 .1-3.6 0 3.1 .3 7.4 .1-1.1 .2-6.7 0 5.1 .1-6.8 .1 5.3 0-7.6 .1-.6 .1 .5 .2-1.5 .1 5.6 .1-3.5 .1 7.2 0-7.8 .1 12.4 .5-5 .4 5.5 0-4.1 .2-5.8 0 2.2 .1-4.3 .3-1.5 .3-4.1 .1 9.8 0 2.2 .1-2.1 .1 4.1 .1-5.5 .5-1.5 .1 2.8 .1-.1 .3 1.1 .1 3.2 .1-5.5 .3 3.4 .2-1.3 .2 3.9 .3-4.1 .2 3.3 0-2.9 .7-.2 .1 1.8 0-3.3 .3-1.2 .1 3.2 .4 5 .4-2.8 .1-1 .3-5 .1 6.8 0-2.9 0-3.2 .2 3.8 .1 5 .2-8.7 .1-2.5 .1 1.1 .1 6.9 0 5 0-4.8 .3-1.7 .2-6.3 .1 6.8 0-8.8 .1 6.5 0 0 0-7.8 .1 6.7 .1 4.9 .1-1 0-1 .3-6.6 .1 1.8 .4-4.5 0 .7 0 8.5 .1-5.6 .1 .6 0 3.6 .1-9 .1 14.9 .1-10.3 .1 5.2 .1-6.1 .1 3.7 .5 1.9 .1 3.6 .1-9.2 .2 4.5 .4-.4 .5 3.2 0-2.2 0-6.8 .1 7.4 .1-3.1 .1 .1 0 1.9 .1-5.3 .2 6.7 .2 1.5 .1-8.4 .3 8.2 .1-4.9 .1 7.5 .1-2.1 .1-1.8 .4-4 0 3.5 .1 2.5 0-4.3 0 1.8 .2 1.1 0-2.5 .2 4.9 .3-9.5 0 12.5 .2-12.3 .1 .1 .3 3.8 0-1.9 .4 6.5 0-10.9 .1 6.1 0 4.8 .2-3.7 .1 4 .1-4.7 .4 .4 0 2.6 .2-3.3 0 .2 .2-4.9 0 9.3 .3-10.1 .3 10.4 .4-7.4 0 6.9 .1-5.4 .6 5.7 .3-2.2 .6-.8 0-4.4 0 1.9 .2 3.3 .2 .6 0-4.8 .2 6.1 0-6.1 .4 1.1 .2 2.9 .2-2 0-2.1 .9 .7 .1 6.5 .1-7.6 .1-.4 .1 4.7 .1 4.6 0 .3 .1-5.1 0 2.1 0-6 .3 6.6 .1-9.7 .5 10.7 .4-5.2 0 6.9 .4-8.3 .2-4 .3 10 .1-2.5 0-1.7 0 10.2 .2-6.7 .6-5.9 0 .6 .3 0 0 4.8 .3-1.5 .1-9.2 0 9.2 0 0 .3-5 .2-2.6 0-1.1 0 5.1 .2 1.8 .2 1.4 .1-1.6 .2 6.4 .1-1.1 .3-2.1 .3-7 0 5.2 .2 2.4 .2-1.6 0-5.3 0-3.4 .2 6.4 .3 1 .3-2.6 .1-2.8 0-1.5 .1 10.3 0-.5 .2-6 0 4.7 0-2.9 .2 4.5 0 1.3 .5-7 0 10.6 0-11 .3 4.8 .1 5.1 0-2.3 .2-3.3 0-9.8 0 15.8 .5-5.2 .1-2.2 .1 2.5 .2-2.9 0 7.1 .1-5.2 .1-7.5 0 3.1 .2-2.5 0 1.8 .2-1.1 .6 7.3 .1 4.2 .1-.9 .1-3.1 .8-2.2 0-3.1 .1 2 .2-1.1 .1 4.1 .3-7.3 0 6.9 1.2-7.4 0-3.2 .1 13.4 .1-7.2 .4 5.3 0 .4 .1-1.9 .1 1.8 0-3.4 .5 7.7 .2-7.9 .1 .4 .1-1.6 .3 4.9 .1-7.7 .1 5.4 0-8.7 0 2.2 .1 9.3 .2-6 0 .9 0-2.5 .2 1 .1 4.1 .3 2.1 0-6.8 .1-1.8 .2 11.1 0-7.8 .4 4.5 .1-6.3 .2 3.3 .4 1.6 0-.8 .2 6.8 .1-6.4 .1-6.2 .5 7.6 .1 3.1 .3-12.1 .1 11.7 .2-1.1 .2-.1 .4-7.7 .2 5 .2 1.9 .1-1 .3 4.5 .3-1.8 .6-13.3 .4 6.8 .1-7.2 .1 8.1 .1-6.6 .1 4.8 .5 1.1 0 7.6 .2-6.2 0 .9 .2 2.8 .3 .9 .3-10.2 .1 13.8 .1-8.9 .3 .1 .2-6.1 .1 12.4 .1-2.9 0 1.9 .1-4 0-1.9 .2 1 .4 4.6 .1 .9 .2-7 0 3.7 .3-5.5 .1 7.9 0-7.8 .2 6.1 .2 1.2 0 1.6 0-5 .1-3.7 .3 6 0-.5 .1 3.5 .3-9.1 0 7.4 .1 .8 .1-10 .1-1.5 .3 6 .1-5.3 .1 9.8 0-9.4 .1 4.8 0 3.5 .1 .3 .3-8.1 .1 7.6 .4-6.4 .3 .3 .1 6.3 0-8 .4 5.5 .1-6.3 .1 10.9 .1-9.6 .4-.6 .2 1.6 .2 3.2 .3 4.2 .5 5.1 0-8.7 .1 2.1 0 2.6 .2-7.7 .1 9.2 .1-3.5 .6-3.1 .1-4.8 .2 11 .1 .3 .4-8.4 0 3.5 .4-3.4 .1-.1 0 3.6 .2 .1 .2-4.6 .1 6.2 .1-3.7 .1 4.4 .3-2.5 .3 .6 .1-5 .3 .3 .5 6.1 .4-4.8 .3 .2 .1 3.6 0-2.5 .2 0 .1-4.2 0 9.1 .1-.5 .1 2.3 .4-9.3 0 5.7 .1-4 .2-3.6 0-1.2 .3 7.6 0 4.2 .5-3.8 .2-6.1 .1 13 0-6.2 .3-3.5 .1-4.2 .1 2.6 .1-1.8 0 2.3 .1 3.8 .1 2.2 .1-9.7 .1 .2 .1 3 .1 6 0-6.1 0 1.9 .5-4.3 .5 1.7 .3-1 .2 3.8 .2-2 .5 4.5 .1 1.2 0 0 .2-2 0 3.7 .1-1.1 .3-5.4 .7 3.7 .1 1.8 .2-8.5 .1 3 .2 3.9 0 2.4 .2 1.6 .1-2.4 .1 2.4 .1-.2 .2 1.2 .2-13.3 .3 3.4 .1 8.1 0-6.5 .3-.1 .1 1.4 .1 6.8 .2-.3 .1-.2 .9-7.2 .3 3.3 .2 3.8 0-7.2 .5 1.6 .7-4.1 0 2.1 0-2 .1 1.1 0 1.7 0 6.7 .3-7.6 .1 7.6 .3-7.2 .1-.1 .3 4.7 .3 .5 .4-9.2 0 .2 .1 10.6 .1-8.8 .1-4.7 0 5.1 .3 3.1 .1-8.5 .2 3.1 .1 12 .1-8.7 0 2.2 .1-6 .4 13 .3-3.7 .2 .5 .4-8.7 .2 2 .2-1.7 .1-2.7 .1-1.5 .1 9.6 .1 2.1 0-7.1 .1 3.6 0 1.9 0 3 0 .9 .1-4.6 0-7.1 .3 3.2 .2 1.2 0 6.2 .1-3.5 .4-4.4 .4 6.1 .1 1.9 .1-1.1 .4-6 .3-.5 0 6.2 .3-1.4 .1 2 0 .5 .5-5.3 0 0 0 5.2 .1-6.1 0 4 .2-3 .4-1.3 0 3.7 1.2 5.3 0-10.4 .3 5 0-3.3 .2 6.1 .2-.1 0 .5 .3-2.9 .1-4.4 .3 .3 .3 8.2 .2-2.1 .4-5.2 .1 2.9 .1-6.9 .3 5.6 .1 1.9 .2-7.3 .5 2.4 .7 4.1 .3-1.2 .6-.4 0 3.8 .2 2.8 .6-7.7 .2 .1 0-2.8 .2 7.8 .2-.4 .1-8.1 0 2.5 .1 5.2 0 1.2 .1-5 0-4.6 .1 4.7 .4 3.3 .2 2.3 .1-8.4 .1 3.7 .1 5.1 .1-12.1 .3 7.9 .1-3.3 .1-.5 .6 7 .2-8.1 .2 5.7 .2-.4 .3-6 .1 4.2 .1 7.2 .3-1.9 .3-5.7 .1 4.6 0 1.6 .1-10.3 .1 6 0-9.1 .1 10.7 .6-.3 .2 1.1 0 6.3 0-5 .1-6.3 .2-3.1 .2 7.8 0-2.8 .5 3.1 0 2 0-6.1 0-1.9 .3 3 .2 5.7 .1-7 0 1.7 .1-5.8 .3 6.1 .1-1.1 .1-7.6 0 9.6 .4-4.8 .2-4.6 .1 15 .1-7.8 .4-1.8 .1 6.1 .3 .1 0-.2 0-8 .2 6.9 .1-4.7 0-4.2 .3 13.2 .1-11 0-2.5 .1 7.8 .1 .6 .2-1.4 .7-4.2 0 2.1 .2 5.1 0-8.3 0 1.1 .3 4.7 .5 2 .3-5 .2 .2 0 5.5 .2 2.9 .2-12.5 .1 9 .1-6.1 .5-3.3 0 6 .1-7.8 .2 5.2 .1 2.6 .1 1.3 .1-8.1 0 1.4 .1 5.9 .4-2.2 .2 5 .2-8 .3 7.3 .2 2.1 0-1.2 .1-10 .1 11.1 .1-8.4 0 9.6 .1-.7 .1-9.9 .3 4.8 .3-4.2 0 2.6 .1 7.1 .5-5.1 .1 5.4 .3-5.7 .3 7.9 .1-12.1 .2 5.6 .1-8.5 .1 7.2 .1 5.3 0-7 0-.4 .5 7 .1-2.4 0-4.3 .3 1.9 .7 2.1 .1 1.5 .1 2.5 0-3.9 0-1.1 .2-3.8 .5 5.8 .1-9.3 .1 11.9 .3-8.2 0-.4 .1 1.4 0-1.8 .2 3.7 .1-8.9 .8 7.6 .3 4.8 .3 2.1 .1-4.2 .7-4 .4-1.3 .8 8.4 .1-7.8 .1 1.3 0 5.5 .4-1.6 .1 .8 .8-7.3 .3 9.9 .1-3.1 .1-9.5 .2 7.3 .1 2.3 .1 4.6 0-4.6 0-7 .1 5 .3-3.3 .2-1.9 .1 5.5 .4 4.4 .3-2.7 .6 .5 .1-1.2 .2 6.4 .2-4.1 .4-5.9 .2 7 .9-9.7 .3 .5 .1 4.8 0 .9 .1 2.5 .1-4 .1 5.3 0-2.2 .1-6.2 .1-2.5 .1 .1 .2 5.3 0 2.7 .5 4.3 .1-11.1 .1 5.3 .1-3.2 .2 6 0-8.1 0 3.4 .1-.2 .2-6.2 0 1.1 0 7.7 .1-.6 .1-4 .1-.7 0-2.5 .2 9.6 0 2.2 .2-8.4 .2 6 .1-1.9 .1 4.5 .1-11.5 .1 1.7 .1 0 .1 7.4 0-6.5 .2 2 .3-5 .2 4.8 0 0 .3 3.8 .1-8.7 .2 3.4 .3 0 .9-1.9 .4 2.8 .1 2.9 .1-3.6 .5-3.8 .1 3.5 .1 3.6 .2-2.5 .1 8 0-5.3 .3-2.8 0 3.5 .4 .7 .1-6.8 .4 .3 .1 9.9 .1 .5 0 1.4 .1-16.5 0 7.4 .1 2.1 .3-3.9 .1 1 0 1.1 .2 .9 .1-3.5 .3-3.3 0 2.8 .1 3.4 0 2.7" fill="none" stroke="none" marker-start="url(#fY)" marker-mid="url(#fY)" marker-end="url(#fY)"/>
<path d="M596.9 722l.2 5.8 .1 5.7 .2 5.7 .2 5.8-.4 5.5 .5-4.3 .1 6.8 0-3.7 0-1.2 .2-3.1 0 2.3 .2 3.4 0-2.1 .2 .3 .1 3.6 .1-.5 0-1 0 4.3 .1-5.4 .1 5.4 0-.3 .5-1.5 .1 5.9 .1-5.9 .1 .2 .3 1 0 2.4 .1-5.9 0 2 .1 1.7 .2 7.2 .1-6.8 .1 2.9 .1 4 0-5.4 .1 6.5 .3-4.4 1.1 2.1 .6 2.1 .3 2.6 .3 1.6 .5 2.2 .4-4.3 .2 4.2 .4-7.2 .1 3.5 0 4.9 .1-.4 .1-1.4 0-1.8 .2-2.4 .1 4.7 .2 .5 .3 5 .1-3.5 0-1.6 .3 .2 .5-.4 0 4.3 .1-.5 .1-5.4 .1 4.2 .4-2.1 .4 .7 .4-2.5 .1-.4 .2-1.3 0 2.9 .1 1.6 .1 1.5 .1-5.8 .2 6.1 .2 1.7 0-3.6 .6 3.7 .1-6.5 .2 2.4 .4 2 .1 1.1 .3-5.9 .4 1.3 .1-.8 .1 3.8 .2 2.9 .2 0 .1 1.4 .3-7.7 0 2.4 .1 4.5 .7-6 .1 1.6 0-1.9 .2 5.7 .3-3.6 .2 7.3 .2-1.7 .2-5 .2 2.7 .1-6.1 .7 2.2 0 8.7 .4-12.1 .1 11.8 .5-2.7 .1-1.1 .1-5.2 .1 .2 0-.8 .1 9.2 .1-3.2 .2-8 .2 8.9 0-5.1 .3 4.2 .1-4.1 .2 6.7 0-.1 .4-2.6 0-1.4 0 .3 .2 4.6 .1-11.2 .1 6.4 .1-1.9 .2 7.8 .2-2.1 0-7.9 .1-.4 .1 3 0 7.7 0-2.9 .1-3.4 .4-2.6 .2 4.1 .1 .7 .1-4.1 0 7.4 .2-5.8 .2 1 .1-3.1 .1 2.1 0-1.6 .1 1.5 0 1.2 .4-.6 .2 .2 .3 5.2 .3-2.4 .2 3.6 .1-4.5 .5-3.5 .1 4.9 .1-5 .3 5.2 .1-6.2 .2 5.5 .9-5.2 .1 6 .4-2.8 0 6.2 .2-8.6 .3-2.1 0 5.8 0-1.8 .1 .2 .1 1.3 .3 2.5 0-.7 .1-2.1 .1 3.4 .2-1.5 0 2 .1-5.3 .1 7 .1-1.8 .1-7.3 .1 2.7 .1 1.7 .1 4.8 .2-4.5 .1 2.6 .1-7 .1 5.1 0-1.1 .1 3.4 .1-.7 .2-1 .2 1.2 .1-2.2 .5 5.3 .1-8.5 .5 4.8 .3-5 .1 6.2 0-7.1 .1 3.3 .3-2.2 1 4.3 0 .3 0-1.2 .1 4.7 .1 1.4 0-6.1 0-.7 .1 3.9 .3-6.5 .1 1.7 .2-3.6 .3 4.8 0-1.8 .1-4 0 4.7 .4 3.8 0-3.8 .2 5.8 0-5.9 .3-1.8 .3-.1 0 4.1 .2-2.7 0 1.9 0 1.8 0-2 .1 5.2 0 .2 .3 1.1 .3-6.7 .1-3 0 1.4 .1-2.8 .1 7.3 .1-.5 .1-.3 .1 3.8 0-2.5 .1-2.8 0-2.6 .1 4.1 0-3.8 .2 3.8 .2-5 .3 2.9 0 2.1 .2 2.4 .7 .4 .3-2.2 .2-5.7 .3 6.8 0-6 .4 3.9 .1-.5 0-2.2 .1-.2 .2 1.8 0-2.9 .2 3.6 .2-3.9 .1 3.1 .3-1.2 .2 2.7 .2 1.2 0 0 .3-7.5 .1 3.7 .1 1 .1 5.4 .1-6.8 .1 2.3 .2 .3 .2 1.9 .4-.6 .4-5.5 .3 6.9 .1-5.3 .2 2.8 .1-3.7 0 3.4 .1 3.6 0-11.3 .1 5.9 .1 3.8 .2 2.8 .3 .9 0-11.6 .1 8.2 .1-.7 .1-5.5 .1 4.7 .3-2.5 0 6.5 .2-5.1 .4 5.4 .1-4.7 .1 .8 .3-8.7 0 4.2 .6 3.9 0 0 .1-2.3 .1 .9 0 5.3 .1-2.2 .1-1.4 .3 3.8 .1-2.3 .1-1.9 .1 .6 .1 2.5 0-1.9 .1-4.8 0 5.2 .1-7 .1 .9 .3 1.6 0 4.6 .1-2.3 .1 .9 .1 2.1 .1-4 .1 5.6 0-5.4 .1 3.9 .1 .3 .1-5.8 .1 .2 .1-1.9 0 4.6 .1 1 .1-4.6 0 6.3 .1-.8 0-2.8 .3-4 0 11.8 0-5.1 .1-4.8 0 4.7 .1-.8 .1-4.1 .1 5.1 .2-3.2 .1 7.2 .2-9.9 .1 0 .3 3.9 .4-.5 0 1.4 .1-.4 .1 1 .2-3.2 .4 .8 .3-.9 .1 1.7 .1-2.1 0 2.1 .2 1.5 0 2.7 .5-2.6 .5 1.8 .1-5.3 .2-2.2 .1 3.3 0 6.6 .2-2 0-3.7 .2 1.6 .2 0 .9-4 .6 3.6 0-6.3 .2 6.9 .1-5.4 .1 5.4 .2 .2 .3 1.5 0 2.1 .1-3.8 .4 .3 0-2.9 .1 2.9 .2 4.9 .1-3.9 0-.7 .2 3.9 .5-5 0 1.6 .1-5.7 .2 1 0-.7 .5-1.1 .1 6.8 0-6.6 .1 2.2 .1-.9 .1 8 .1-9 0-2.3 .2 1.4 .1 3.7 .1 1.9 .3 5.1 .1-2 .1-3.4 0 2.8 .1-2.6 .1-3.5 .5 6 .2-1.9 .4 .9 .1-6.9 .5 8.6 0-2.5 .1 1.8 .3 1.7 0-1.5 .1 4.2 0-11.8 .3 7.3 0 1.2 .3-2.1 0-8.2 .1 7 .3 3.6 .1-3.4 .5-8.3 0 10.3 .1-1.9 .2 2.5 0-5.9 .2-.5 0 2.1 .3 1.9 0-6.8 0 2.9 0 5.9 0-9.4 .2 4.7 .1 7.7 .2-4 0-4.2 .1 5.9 .1-7.5 .6 .1 .1 .1 .2 5.2 .3 .1 0-2.8 .1 2.4 .2-6.7 .1 5.1 .1-2.3 .1-.2 .2-1.5 0 .6 .1 2.6 .2-1.4 .1-4 .1 4.3 .2-1.8 .4 1.9 .2 5.2 .5-4.4 0 3.3 .2-1.9 .1 1.5 .7 2 .2-3.8 .1-3.6 .2 6.9 .3-10.5 .1 5.8 0 1.8 .2-5 .7 6.4 .2 .4 .1-2.6 .1 4.2 .5-7.7 .1 10.1 .1-2.6 .1-6.4 .1 9.5 .2-6.9 .4-1.5 .2-.6 .2 3.1 .1 4 .1-2.3 .3-3.9 0-.9 .3-.8 0 .5 0 8 .1-6.2 .4 2.2 .5-3.1 .1 7.9 .5-1.2 .3-3.3 .2 .1 .5-2.3 .1 4.2 0-.7 0-3.1 .2-.9 .2 1.2 0-1.8 0-1.9 .5 5.9 .1 1.8 1-.5 .1-1 0-9.3 .4 13.9 0-6.7 .1-1.3 .4 4.7 .1-4.4 .3-3.6 .1 4.1 .1 2.2 .1-7.9 .2 1.4 .2 4.3 .1-4.3 .2 .2 .3 1.2 .3 6.1 .2-4.1 0 .2 1 5 .2-1.7 0-3.4 .4-3.1 .2 .9 .2-1.8 .2-.2 .7 8.3 .3-5.9 .1 2.6 .3-2.7 .1-.2 .3-.7 0 5.4 .1 5.6 .1-13.7 .1 10.3 0-4.7 .1-1.4 0 4.1 .1-4.5 .4 7.1 .1 1.7 .3 .2 .4-.2 .2-.5 .1-4.7 .2 3.6 .2-1.6 .5 1.9 0-.5 .2 1.2 0-2.7 0 2.5 .1-6.1 .4 1.9 0-5.2 .4 4 .1-3.3 .4 4.8 0 1.3 0-1.1 .1-2 .2 6.6 .1-4.9 .3-1.4 .2 1.2 .1 0 .1-.1 .2 .2 .2-6 .2 4.4 .1-3.8 .2 2.1 .2-.8 .2 3.3 0 .6 .4 2.1 0-2.6 .1 2.3 .1-3 .1 .3 .3-1.2 .2 4.9 .1 2.7 .1-6.3 .4 2.5 .2-4.3 .2 8.7 .1-10.4 .1 8.4 .2-7.2 .1 6.8 .1-9.2 .5 3 0 1.7 .1 4.1 0-3.3 0 1.7 .1-3.4 0 .4 .1 3.6 .2-5.6 .1 1 0-2 .3 4.7 .1-3.6 .1 4.2 .2-3.5 .4 1.3 .1-.6 .1-3 .4 .4 .1 4.2 .2 2.5 .1-2.6 .1 3 0 .2 .2 .5 0-8.3 .1 6.8 .2 1 .1-.1 .4-1.8 .1-3.8 0 1.3 .4-6.7 0 5.8 .2 4.1 .1-.6 .1 2.9 .2-3.4 .4-.9 .2 4 .1-6.5 .2 3.9 .4 1.5 .2-.6 .5-.6 .5-2.3 .1-.4 .1 5.9 .2-4.8 0 .9 .1-2.5 .6 .6 .2-3 .2 8.2 .1-1 .4-5.3 .2 1.1 .6 4.1 .3-2 .1-4.9 .5 5.6 0 1 .2 .8 0-5.3 .1 7.1 0-5.7 .1 .6 0 3.2 .3-8.3 .2 1.1 .6-1.5 0 5.4 .2-3.8 0 .1 .4 6.5 0-4.7 .4 1.1 .1 2.1 .3 2.4 0-1.8 .1-3.1 0-1.3 .2 4.7 0-4.3 .2-4 .2 5.4 .1-1.2 .3 3.1 .4-.7 .3-1.1 .2 .9 .6-3.1 .1 4.6 0 2.1 .1-2.5 0 .9 .1 2.6 .5-6.1 .8-1.8 .1 8.5 .1-6.5 .4-3 0 .6 0 6.4 .3-1.5 0 5 .2-6.7 .3-2.1 .5 3.4 .1-1.5 .1-2.1 .4-.2 .2 7.8 .1-5.4 .1 2.8 .4-3.5 .4 3 .4 .1 .1-1.4 .2 2 .7-.8 .1-5.1 .1 8.1 0-5.7 .2 4.6 .1-6.4 .2-4.9 0 4.5 0 6.8 .1 1.8 0-6.7 .3 1 0-3.9 0 10.9 .2-2.8 0-1.7 .2-4.4 0 8.2 .1-5.5 .4 4.4 0-6.8 .1 .9 .1-3.9 .6 3 .3 1.6 .1 3 .1-.1 .1-1.7 0-2.2 .3 4.5 .3 2.7 .2-8.8 .2 .9 .2 1.2 .1 .2 .1-3.9 .1 6.8 .2 .8 .8-4.8 .2 3.1 .2 1.4 .1-4.3 .5 3.4 .1 1.4 .1-9.2 0 8.7 0-6.5 .1 6.1 .2-4.6 0 2.7 .1-4.8 .2 3.2 0 7.5 .3-10.7 .1 4.2 .5-1.5 0 8.8 .1-3.7 0-5 .1 3.4 .2-6.1 .2 9.9 .3-5.1 .1-.6 .4 5.7 .4-9.9 .2-.1 0 .5 .1 3.6 .1 4.8 .3-1.7 .1 1.1 0-1.6 .1-4.9 .1 3 .1 .6 .1-2.3 .5 2 0-1.8 .1-2.2 .2 7.3 .2-9 .2-1.2 .1 10.6 0-10 .7 8.2 0-6.5 .4 8.6 0-3.5 .2 1.6 0-6.7 .1 4.1 .2-1.3 .2-1.5 .2 8.3 .1-3.4 .1-6 .1 1.6 0 .4 .1 8.5 .1-4.8 0-2.6 .2 2.3 0-5.3 .2 1.9 0 4.7 0 3.5 .3-5.5 0 6.4 .1-9.4 .1 6.9 .3-7 0 2 .1 1.7 .1-2.3 .7 4.5 .2-5.5 .4 1.8 0 3.4 .3-6.9 .3 6.7 0 1.2 .6-1.7 .8 .1 .2-2.4 .2-1.3 .1-1.4 0 .2 .3 4.4 0-1.4 .1-1.7 .1-2 .4 6.5 .2-1.3 .1 2.4 0-6.1 .1 3 .2 1.5 .2-5.1 .6 7.3 0-.2 .3-4.3 .3-4.5 .2 7.8 .2-4.2 .1 1.6 .1-2.1 .7 .6 .2-2.3 .2 3 .1-2.9 0 1.4 .1 .6 .1-2.7 0 4.4 .1-1 .1 4.7 0-3 .2-5.8 0 2.5 .2 3.6 .1-4 .6-2 .2 1.4 0 5.6 .2-2.2 0-5.6 0 5.4 .2-7.2 .1 3 .1 .1 .2 7.7 0-4.1 0 2.4 .2-4.3 .2 7.2 .3-7.8 .2 5.3 .1-1.8 .2-6 0 4.4 .1 5.5 .2 1.5 .1-2.1 0-5.1 0 4.7 .1 .6 .2-5.8 .2 1.9 .3 2.3 .1-7.7 .1 .9 .3 9.3 .3-5.4 .4 2.9 0-.3 .2-4.5 .2-1.7 .4 2 .1-2.6 .2 3.4 .1-.7 .4 .3 .1 4.1 .2 .3 .6-2.5 .1-2.2 .1 3.1 0-.3 .2 2.2 .3-7 0 3 .1 .7 .1-1.3 .6-1.5 .2 6 .1-1.2 0-1.5 .1 1.3 .1 .2 .1-2.2 0 1.6 .2-5.7 .3 1.7 .3 8.4 0-6.4 .3 2.9 .2 3.1 0-6.4 .2 4 .1-6.4 .1 .8 0 4.8 .1-6.8 .2 8.9 0-6.2 .4 .1 .3 4.9 .4 2.2 .3-8.9 .2 3.7 0-4.5 .4 .1 0 1 .1 5.6 0-7.1 0 4.6 .2-3.6 0 4.4 0-6.4 .5 9.2 0-.3 .3-1.3 0 5 .1-3.4 .3-3.5 .1-1 .1 3.6 .8-6.8 0 4.8 .1-3 0 .6 .1-1 .1 6.1 .3-.7 .2-3.9 .4-.7 .3 1.9 0 .1 .1-4.1 .3 7.7 .1-8.1 0 6.4 .1-2.7 0-3.8 .6 3.1 .1 7.4 .1-7.9 .2 4.1 .1 .7 .1-.6 0-1.1 .1-1.6 .1-1.4 0 3.6 .1 1.8 .3-2.1 .1 2.9 .3-.3 .2-.3 0 .1 0-6.6 .1 .4 .1 .3 0 .1 .1 4.2 0-.7 .2 .7 .4-2.4 .2-.1 0-1.6 0 2.9 .1-4.7 .1-2.9 0 11.3 .1-9.9 .2 6.7 .1-8.3 .1 7.4 0-5.7 .6 2.3 .3 2.7 .1 1.5 .1 2.1 .1-3.5 .1-.2 .3 5 0-8.9 .5 9.7 .1-6.1 0 3 .1-3.6 0 1.4 .4-3.3 .3 6.2 1.3 .8 .4-3.9 .1 2.3 .1-3.6 .2-1.4 0 4.6 .1-2.5 0 1.9 .4 3.5 .4-4 0-1.6 .1 3.3 .4-5 0 2.7 .4 1.2 .6 3 0-6.8 .1 6.4 .1-1.7 .4 .7 0-4.1 .1-1 0 4.1 .2-2.6 .6 .8 .1 1.8 .1-2.8 0-3.6 .4 7.6 0 1.8 0-1.5 .2-3.9 .2-4 .1 4.1 .1-4 .1 7.7 0 .9 .1-4 .2 .8 0-4.4 .5 7.7 .2-3.3 0 4.9 .1-3.8 .1-1.2 .3 4.7 0-7.3 .2 4.9 .2-.9 0-1 .3 4.2 .1-4 .1-3.6 .5 3.7 .1-5.3 .2 2.5 0 2.4 .3 .1 .1 3 .1-4.2 0 7.2 .3-1.6 .3-5.9 .5-.6 0 4 .1-1.7 .1 3.9 .2-8.4 .1 4.8 .1-2 .1 5.9 .2-7.4 .1 8.6 0-8.6 .3 5.4 .2-3.3 .1 4.3 0-1.9 0-2 0 1.6 .2-9.7 .2 11.1 .4-.8 .2 1.9 0-1.5 0-8.7 .1 5.5 .2-3.4 .1 7.2 0-2.8 .1-5 .2 1.2 .5 1.6 0 .3 .1 3.5 .3-3.9 0 6.7 .1-5.3 0-1.1 .3 2.5 0-3.8 .1 7 .3-8.1 .5 7.7 0-4.1 .2 1 0 2.7 .2 2.4 .1-2.7 .1-2.6 .1 2.1 .1-7.9 .5 .1 .1 2.2 .2 1.3 0-1.3 .1 9 .1-10.4 0 .4 0 4.3 0-1.6 .2 4.4 0-1.9 .1 3.8 .1-5.6 .1 2.6 .6 3.2 .7-5.4 .1-.5 .2 4.6 .1-.4 .5-5.8 .1 4.8 .2 3.4 .2-9.3 .4 4 .4-1.5 .1-.5 .2-1.2 .4 5.9 .5-8 0 .5 .1 8.9 0-3.2 .1-1.1 0 .4 .1-.5 .4-.5 0 6.6 .2-4.8 .2 2 .2 3.5 .6-2.7 0-1.6 .3-3.1 .1-.7 .5 1.8 .3 6.2 0-8.3 .1 3.6 .1-1.3 .5 2.3 .1-4 0 4.3 .2-4.5 .2-2.9 0-2.8 0 3.3 .1 1.6 .2 6 .5 1.9 .1-3 0 4.2 .1-6.6 0-5.9 .1 8.8 .1 1.7 .1-7.6 .1 2.2 .3-2.7 .3 2.1 .1 2.9 .3-3.7 .3-.9 .1 9.1 0-4.7 .2-4 .3 4.8 0-7.3 .2-1.5 .1 5.9 .2 1.3 0-2.8 .2 .9 0-3.3 .2 5.2 .2 1.8 .5-2 0 3.4 .3-1.7 0-5 .4-1.6 .3 1.3 0 7.1 0-4.1 0-.8 .3 2.9 0 1.8 .2-6.9 .3 .6 0 3.6 .1 .1 0-1.4 .3-1 .1 .4 .1-.1 .1 8.4 .1-7.2 .1 5 .1-3.6 .1 1.8 .1-10 .1 .8 .2-.6 0 8.2 .1-4.4 .1 .8 0 4.1 .1 1.5 .1 0 1-3.5 .1-6.9 .3 6.2 0-.7 .2 4.7 0 3.4 .6-6.5 .1 2.5 .2-3 .1 2.9 0-3.3 .1-2.1 .1 4.2 .3-7.6 .2 3.9 .6 3.4 0-1.4 0 7.2 .2-9.1 .1 4.2 .2-4.8 0 3.4 0-1.2 .3 7.3 .1-8 .5 1.2 0 2.3 .2-3.1 .1 3.3 .1-9.3 .1 3.1 .2 5.6 0 1.9 .4-2.1 .1-5.4 .2 9.4 .1-6.5 .2 7 .1-11.5 .1 1.5 .1 9.4 .3-3.1 .1-.7 .1-4.9 .2 4 .4 4 0-7.2 .2-1.4 .3 0 .1-2.3 0 7.8 .2 2.4 0-8.8 .4 .4 0 1.6 .2-.8 .1 2.7 .1-.7 .1 5.8 .2-3.5 .1 2.3 0 1.3 .3-7.8 .4 3.5 0 2.8 .3 .7 0 .9 0-5.1 .2-2.2 0-2 .7 3.4 .2 .6 .2-.1 0-2.5 0 2.3 .1 2.3 0-7.4 .3 9.7 0 0 .1-4.4 0 .3 .1 .6 .1-4.5 .1 8.3 .2-.3 .5-1.5 .6-3.3 .4 5.7 .2-5.4 0-1.1 .4 1 0-1.9 0 7.6 .2-6 0 6.2 .1-2.3 .1-1.7 .2-4.6 .2 8.8 0-9 0 1.4 .1-.5 0 2.1 .2 3.1 .1 2 0-4.1 .2-1.6 .3 4.7 0 1.3 .2-2.8 .3-6.1 0-1.2 .1 2.6 .1 .5 .2 4.3 .1 .8 .2 1.9 0-3.8 0 .4 .1 1.5 .3-2.1 .4 2.7 .1-1.9 .3-2.6 .2 1.3 .1 3 .1 2 .2-4.6 .5 .4 .1-4.7 .2 6.3 .3-3.3 .5-4.4 .1 5.4 .2-.1 0 3 .2-4.4 .4 7.1 .1-5.4 0 4.4 .2-9.9 0 3.6 .1 4.1 .2-1.5 .6 6.3 .1-10.9 0 7.7 .1-.9 .2-.6 0-3.3 .1-3 .1 5.2 .5 2 .5-1.3 .1-6.8 0 6.1 .1 3.8 .1-5 .1-.6 0-.5 .1 2.4 0-6.7 .1 4.5 0 7.9 0-4.9 .1-2.8 .2 1.1 .1 3.2 .8 .8 0-3.8 0 .4 .2 4.2 0-7.5 .1 .7 .1-1.9 .6-3.6 0 7.7 .2-4.1 .1 4.1 .1-2.2 .1 5.6 0-.1 .2-9.3 .1 4.5 .2 1.9 .1 1.6 .1-2.5 0-3.5 .2 1.9 .1-3.6 .6 12.9 .4-9.2 .2-1.6 .1 3.5 .1 1.7 .2-1.5 .1 2.9 .3-3.5 .2-4.3 .1 3 .1-1.7 .3 7.8 0-.9 .2-2.4 0-2.3 0-3.7 .1 4.2 .1 5.7 .1-6.3 .1-3.1 .6 4.3 .1 .7 .5 .3 .3-1.7 .2 4.7 0-4.7 .2-3.2 .2 5.3 .4-2.3 .3 1 0-1.1 .1 1.3 .1-7.1 0 9.1 .2 3.5 .4-2 .3 1.4 .1-8.5 .2 1.8 0-3.1 .3 3.4 0-2 .3 2.9 .4-4.6 .1 3.5 .1-2.5 .2 5.9 .1 .9 .1-4.1 .1 2.8 .7-.9 .4 2.3 .1-6 0 3.7 .1-6.6 0 8.4 .1-4.2 0 8.3 0-7 .4-1.9 .3 2.1 .2-1.1 .2-.2 0 4.4 .1-5.5 .2 3.2 .1-2.2 .1-1.5 .2 2.6 .1 2.6 .1-5 .3-2.5 .1 5.2 .4 1.2 0-7.5 .1 13 0-13.5 .1 8.9 .4-4.5 .1 7.2 .6-2.9 .2-8.4 0 11.3 .2-5.5 .2-3.2 .3 4.6 .2-5.7 .3 7.8 0 1.5 0-5.4 1.1-3.3 .1 9.8 .3-4 .1-7.7 .1 1.7 0 7.7 0-4.1 .1 1.7 .2 2.6 0-3.4 .3-2.2 .2-1.8 0-.7 .1 5.7 .2 3.6 .1-3.5 .3 .3 .1-3.7 .4 8 .1-6.5 .3 4.2 .2-6.1 .1 6.7 .1-6.9 .1-.5 .2 5.2 .1-2.9 .5-.5 .1 3.5 .3 2.8 .1-2.9 .2-2 .2 3.9 .2-.4 .1 .9 0-6.1 .2 3.7 .1 .5 .2-2.2 0-3.6 .3 5 .5-5 .2-.6 .3 6.5 0-2.9 .2-.2 .3 .8 .1-.1 .2-4.1 0 2.9 .4-3.4 0 8.6 .1 .1 .4-1.5 0-.4 .1-5 0 3.5 1-3.7 .1 6.7 .3-2.9 .1-.2 .2-1.2 0-3.1 .4 .5 0-.7 .1 1.7 .1-1.5 .1 6.6 .1-3.2 0 5.6 .5 1.1 0-2.6 0-7.9 0 4.7 .1-1.2 .1-1.2 .2 3.9 0-4.4 0 3.3 .4-1.2 .4-3.1 .2 5.3 .1 3.4 .1-1.4 0 1.5 .2-7.7 .1 6.2 .1-6.7 .1 1.5 0 3.4 .5-1.8 .2 5.3 .3-1 0-3.3 0 1.7 .1 2.8 .2-10.1 0 4.5 0-1.2 .1-2 0 5.8 .1-2 .2-6.1 .3 8.1 .1-.3 .1-6.3 .1-.9 .1 5 0-1.7 .2 1.1 .4-2.4 .2 8.4 .1-4.3 0-4.9 .1 7 0-10.8 0 7.3 .1-.8 0-5.8 .1 14.1 .1-6.5 .3-1.6 0 6 0-3.1 .3 .3 .3 1.2 .1-5.3 .1 .2 0-1.5 0 8.5 .4-2.5 .1-2.2 .2-5.4 .1 4 .1-2.7 0 5.9 .1-3.3 .1 1.5 0 4.4 .3-4.9 0 2.7 .5-6.4 .4-.7 .2 3.4 .1 .7 .4-2.5 0 9.1 .1-4.1 .1-1.7 .6 1.7 .2-.2 .1-6.7 .2 4 .1-2.1 .2 2.5 .1 2.7 .2-5.9 .1 3.6 0 5.9 .4-2.9 .7-5.9 .1 6.1 0-4.1 .1-6.1 0 12.4 0-6.1 .1-1.4 .2 .9 0-6.7 .1 3.1 .1 8.8 .1-6.7 .1 .7 0 4 0-4.8 .1 6.8 .5 1.7 .2-6.7 .1-.3 0-4.5 0 8.8 .1 .8 0-3.1 .2 3.6 .1-.9 .1 1 .1-1.3 .8-1.1 0-1.4 0 1.6 .1-2 .4 1.6 .5-2.7 .3 3.7 .2-1.7 .3-.1 .1-.8 .1-4.1 .3-.1 0-.3 .2-.1 .1 2.8 .7 1.1 0-1.1 .5-3.8 .2 6.3 .1-4.2 .1 6 0-1.7 .1-.9 .3 3.5 .1-6.3 .1 1.9 .1 1.3 0 3 .1 .8 .2-.8 0 .8 .2-7.2 .1 .7 .1-.5 0 1.9 .2-2.8 0 1.8 .3 7.4 .1-4.3 .1-7.8 .1 9 .2-2.3 .2 2.9 .2-3.9 0-.7 .3-2.6 .1 5.5 .2-.8 .1 4.9 .4-10.6 .3 6.8 .3-1.1 0-5 .1 8 0-2.3 .1-.5 .3-4.6 .2-1.9 .1 3.6 0 6.2 .1 3 0-13.3 .2 10.8 .1-6 .1 2.4 .6-2.6 0-2.8 .3 .5 .1 7 .1-6.3 .1 6.9 .1-4 .1-3.9 .1 3.4 0 4.9 .2-2.6 0 2.6 .1-6.7 .3 4.3 .2-5.3 .3 5.5 .2 .8 .5 2.4 0-8.7 .1 1.4 0 .9 .1-3.6 .2 4.1 .1-1.8 .3-1.2 .1 5.4 0-2.4 .1-4.6 .2 1.3 .1 .2 .4 9 .2-3.4 0-3 .2 5.4 0 1.6 .1-6.3 .3-1.9 .2 3.5 .2 1.8 .3 2.4 .2 .4 .1-3.4 .2-4.8 .2 2 0-2 .5 1.2 .2 8.1 .1-7 .1-2.7 .2 4.3 0-2.6 .3-.8 .8 .8 .1 3.3 0-2 .1 4 .1-7.5 .5 7 .1-1.5 .3-8.3 .3 6.6 .1-.7 .1 1.7 .2-2.4 0-1.5 .3-2.2 .1 10.9 .1-7.9 .1 2.7 0-4.1 0 5.3 .1 3.1 .8-1.5 0 .9 .2-.8 0 1.8 .3-1.8 0-6.1 .5 2.9 0 1.6 .6-.5 .2-6 .2 6 0-1 .2-.7 0 2.9 .1 1.8 .1-5.1 0 .9 .2 2.9 0 .3 .1 .6 .2-6.8 .1 4.4 .1 .8 0-2.7 .3 4.3 .1-7.6 .1 8.6 .4-1.7 .1-6.1 .1-.8 .3 5.7 .1-5.9 .1 5.9 .1-9.4 .1 3 0 6.5 .2-2.7 .1 8.1 .1-4.6 0-6.1 .1 6.1 .1 .1 0-5.7 .2 2.4 .2 1.9 .1-6.3 .8 6.5 .1-1 .1-4.1 .2 3 .4-.2 0 4.4 .1-.9 .2-5.1 .1 4.5 0-6.1 .3-3.1 0 2.9 0 9.4 .1-8.4 .1 1 .4-3 .4 4.9 .1-2.5 .5 7.9 0-6 .2-2.3 .4 5.2 .2-2 .3-1.8 .4 4 .1 0 .2-6 .3 6 .1 2.8 .4-3.2 0 5.1 0-12.1 .1 5.8 .2-6.3 0 2.8 .2 4.5 .1-4.1 .3 6.7 .2-7.1 .1-3.5 .4 5.6 .4 1.1 .2 5.4 .5-3.7 .1-6.3 .2-2.4 0 4.7 .1-4.3 0 8.6 .3 .4 .2-8.8 .2 1 0 8 .1-2.9 0 5 .2-8.2 .1 .7 .1-2.9 0 3.1 0-.3 .2 .6 .1-1.6 .1 3 .5 4.3 .1-1.7 .1-6.7 0-1.4 .1 8.8 0-5.4 .1 4.3 .2-4.5 .1 .3 0-1.2 .1 1.9 0-.6 .3 5.9 .1-4.4 0 2.1 .3 1.6 .4 2.1 .1-7.1 .1 3.6 1 4.8 .1-3.1 0-3.7 .2 1.4 0-5.1 .2 2.8 .4 5.2 .1-2.1 0-4.1 .1 4 0-5 .3 .6 0 .1 .1 6.8 .5-8.1 .1-.6 .1 .4 .5 5.3 0 4.8 0-10.2 .2 6.4 0-2.2 .2 6 0-1.2 .1-5.3 0 1.2 .2 3.4 0-4.2 .2-2.2 .5 2.7 .1 4.2 0-4.6 .1 4.1 0-3.6 0 1 .1-6.6 .4 7.8 0-3.4 .2 2.6 .1-7.8 0 7.3 .1 1.5 .1-1.4 0 2.9 .1-2.6 0-5.5 .5 7.9 0-4.6 .2-2.5 .2 2.1 .2 8.3 .1-6.7 0 1 .8 1.2 .1 1.1 .1-3.9 .1-4.2 .1 2.4 .2-.3 0 3 .1-1.2 .1 3.4 0-3.4 .2-2.8 0-1.8 .1 5.7 .1-2.7 .2 4.3 0-7.1 .1 6.7 .1 2.9 .2-6.8 .1-.5 0 1.6 .2 4.9 .4-3.4 .5-7.3 .4 5.6 .1-3 .1 4.7 .2-1.2 .6-6.5 .3 11 0-7.3 .3 6.1 .1-.7 .5 2.7 .2-6.7 .4 2.1 .1 2.8 .2-3.4 .2-1 0 .8 .1-.1 .1-.7 0-.7 .5 .5 .2-.9 .1 1 .1 6.9 .1-5 .2 2.5 .2 .8 .2-1.7 0-6.1 .1 5.4 .2 1.8 .5-3.8 .1 4.2 .8-.8 .4-1.1 0-.6 .2-6.1 .1 2.9 .2 3.8 .1 2.4 0-.1 .1-8.8 .2 4.3 .1 3.3 .1-7.6 0 .4 .1 8 .1-8.1 .6 3.2 .1 4.6 0-3.9 .1 .6 .1 3 .6-4.7 .1 0 .1 7.4 .4-2 .1 .2 .2-1 0-4.7 .3-.6 .1 4.8 .2-6.2 .1 4.4 .1-.2 .1-2.6 .3 .7 0-.4 .1 2.9 0-2.2 0-2.2 .2 1.1 0-.4 .1-1.8 0 7.5 .1-2.6 .7-2.8 .1-4.4 .3 3.9 .2 8 0-4.7 .3-3.8 .5 10.2 .1-11.6 .1 4.1 0 3.7 .4-.3 .3-4.5 .1 .2 .5 7.3 .1-2.8 .2-1.4 .1-1.7 .4-4.6 .1 4.1 .1 .4 .1 3 .1-2.8 0-1.7 .3-1.1 0 2.9 0-4.1 .5 7.9 .1-5.5 .1-.5 .2-4.2 .1 4.7 0 4.6 .2 1.6 0-8.7 .1 3.4 .2 .5 0-5.2 0 .1 .1 3.7 0 7.3 .2-3.3" fill="none" stroke="none" marker-start="url(#fG)" marker-mid="url(#fG)" marker-end="url(#fG)"/>
<path d="M596.9 734l.2 6.5 .1 6.5 .2 6.5 .2 6.5-.5-3.3 .1 3.1 .1 1.1 .3 4.1 .2-1.8 .3 3 .2 5.1 .1-6.4 .3 9.1 1 .9 .1-3.4 .3 .6 0 7.5 0-2.3 0 1.2 .1-7.2 .1 4.3 0-3.4 .3 3 .1 1.8 0 1.5 .1-4.9 0 7.4 0-4.7 .2 1.4 0-.4 .1 3.2 .5 1.5 .1-5.9 0 3.4 .1-.2 .1 2.8 0-7.3 .5-1.3 0 8.3 .1-1.1 0 .1 0 2.3 .2-5.9 .6 8.9 0-3.5 .2-5.1 .1 1.7 0-.3 0 6 .3-3.1 .1-.1 0 3.4 .1-.4 0-.7 .4-4.4 .2 3.4 .1 .3 .1 5.3 .3-7.5 .1 7.2 0 .3 .2-1.8 .1-.5 .1 .9 .1-.3 .1 5 .1-8.2 .1 .6 .3 2.7 .2-4 .2 1.2 .1-.7 .2-.4 0 9 .1-7.2 .2 2.8 0-.9 .4-2.2 .1 6.4 .3-7.1 .1 3 .4-2.3 .5 9.2 0-3.2 .2-4 .3 9.3 .1-11.4 .2 5 0 1.4 .2-9.3 0 10.6 .2-2.3 .2-1.4 .2-2.4 .6 1.2 0-1.4 .1 3.8 0-4.7 .1 2.5 .5 7.9 .2-3.2 .1-2.1 0 3.1 .3-8.7 0 1.9 .2 2.4 .1-3.4 0 4.4 .2-4.5 .6 11.6 .2-11.2 0 3.5 .1 3.2 0-5 .3 .2 .1 3.2 0-4.8 .2 8.8 .1-7.9 .1-1.6 .2 8.6 .1-5.6 0 .7 0-3.6 .4 11.5 .3-.4 .6-7.5 .2 5.1 .3-3.3 .2-2.9 .3-.9 .2 7.6 .2 1 0-4.6 .3-3.9 .2 5.6 .2-8.3 .4 6.3 0-6.8 0 2.1 .4 3 .1 3.5 0-.2 .4-3.5 0-1.2 .1 3.6 0 5 .3-6.6 0-2.9 .2-.5 0 7.5 .2-10.5 .5 7 .2 2.5 .2-.3 .4 2 .1 1.5 0-1.7 .1-6.3 0-.3 .1 6.1 0 .3 .1 1.2 .1-4.2 .1 1.2 0 4 .1-5.3 .3-6.9 0 9 .3-1.7 0-2.1 .2 4.9 .1 .5 .1 1.9 .1-6.6 .3-4.1 .1 4 0 7.7 0-10.7 .6 10 .1-12.6 0 2.9 .1 4.3 .1 1.3 .1 2.5 .2-2.8 .1 1 .2-3.4 .1-4.1 0 5.5 .1 4.6 .1-5.2 .3 1.2 .2-2.1 0 6.6 0-4.5 .2-6.1 .1 9.9 0-4.1 .1-4.5 0 1.2 .1 .5 0 5.3 0-8.1 .1 12.8 .2-1.8 .2-5 .1 1.4 .3-5 .1-2.8 .6 5.2 .1-2.7 .1 3.8 .1-3.2 .1 7.9 0-.2 .1-7.1 0 2.4 .2 2.1 0-3.8 .1-5.7 .2 4.5 .2-3.3 .2-1 .2 5.8 0 .8 .1 5.9 .1-1.7 0-3.1 .4 1.7 .1 1.7 .1-4.9 .1-2 0 5.8 .1-6.1 .1 .4 .5 4.5 .5 4.6 .2-4.2 .1 .7 0-3.3 .3 .8 .1 5.5 .1-10.3 .1 7.1 0 6.2 .1-8 .3 5.1 0-.5 .2-7.2 .2-.1 .1-3 .1 5.1 .3 1.1 .1-6.3 .3-1.9 0 5.2 .4 2.6 .1 3.1 .3 .8 .2-1.5 .2-2.8 0 3.6 .6-2.9 .1-2.6 0 5.2 .1-.8 .6-4.6 .1-1.5 0 7.2 .2-10.1 .2 3.3 .2 9.3 .2-2.1 .3-1.7 .2 .1 .1 2 0-4.8 0-5.1 .6 1.2 0 7.3 .3-7 0 5.4 .2-6.3 .1 1.8 .1 6 .3 2.4 0 .8 .2-1 .1-.1 .1-9.1 .1 4 0-.7 .1-3.1 .1 5 .1 4.3 .1-7.4 .1 3.9 .3 1.6 .1 1.1 .1-2.9 .2 3.3 .4-1.3 .2-2.2 .7-5.9 .1 5 0 1.6 .3 1.7 0-1.2 .1 3.1 0-1.5 0-9.4 0 7 .4-3.4 .2 2.5 .2-.6 .1 2.1 .1 2.6 0-.7 .1-7.6 .1 1.6 0 4.6 0-2 .4-2 .1 9.6 0-7.2 .2-4.1 .6 5.3 0-2.3 .3 4.2 .1-5 .4 2.5 .4-3.9 .1 6.8 .3-7.4 .1 4.4 0-2 0 6.2 0-3.5 0-4.2 .1-1.7 .1 6.9 .1-3.8 .4-2.4 0-4 .2 10.6 .1 .7 .2-3.5 0 4.6 .5-4.5 .1 2.2 .1-5.8 .2-3.4 .2 14.6 .1-5.9 0 1.1 .2-9.9 .1 3.7 .1-.5 0 6.4 0-10.2 .4 10.7 .2-7.5 .1-1.1 .1 7.3 .4-.4 0 3.9 .1-9.7 0 4.5 0-3 .1 .2 .1-1.3 0 1.9 0 4.5 .1-5.4 .3 2.5 .4-.8 .2-3 .6 4.3 0 .3 .1 4.9 .5-6.1 .1 2 .1-2.3 .2 1.5 0 1.5 0-1.3 0 2 .7-11.6 .1 9.3 0-5.5 .1 9.2 0-10.1 .3 6.9 0 1.3 .2-5 0 1.1 0 4.2 .3-9.5 0 11.5 .5-.7 .1-1 .3-3.5 .1-3.5 .1 10.4 .1-1.6 .1-.9 .3-4.8 0-4 .2 7.2 .1-.8 .4-3.4 .4 1.7 .4 1.6 0-2.5 .2 3.7 .1-4.9 0-4.1 .1 2.9 .1 6.2 0-2.2 0 5.1 .1-7.2 .2 2.5 .3 6.6 0-10.8 .1 5.9 0-3.7 .1 2.8 .3 2.5 .4-3.4 0-2.1 0 7.2 .3-12.7 .1 5.8 .1-2.3 .1-3.8 .1 6 .5 4.7 .3-5.9 .4 4.3 .2 3.2 .3-7.5 .2 7.9 0-6 .1-3.1 .2 10.9 .1-5.9 .1-.6 0-5.1 .6 2.4 0 .9 .2 1.7 .1 5.4 .2-9.8 0 4.3 0 4.1 .1-3.2 .5-6 .2 .5 .1-2.9 .2 1.7 0 4.6 .5 3 .1-5.4 .3-.8 .1-.6 .3 9.9 .5-1.9 .1-6.4 0 7.7 .5-2 .3-.5 .3-7.7 .3 13.6 .2-1.1 .1-3 .1-.7 .1 1.8 .2-.6 .3-2.3 0 2.4 .4-11.1 .1 3.3 .1 4.3 .1 .2 .1-5.4 .3 5.4 0-5.4 .3 7.6 .2-6 0-.9 .1 .1 .1 5.4 .1 1.1 .1-3.8 0 2.1 .4 .9 .2-6.5 .1 9.5 0-7.1 .1 6 0-6.1 .2 5.2 .1-3 .2 5.3 0-8.4 .1 9.6 .2-6.4 0 8.1 .1-2.9 0-4.9 .2 3 .2-2.8 .2 1.9 0-5.9 .2 .8 .3 2 .1-1.9 .2 5 .1 1.8 0-4.5 .1-5.4 .2 10.7 .2 1.3 0-.4 .2-3.3 .4-1.5 0-6.3 .3 .9 .3 7.9 .1-7.9 .1 5.8 .1-6.4 .2 8.4 .5-5.8 .2-2.2 .3 3.8 .1-1.3 0-.8 .1 4.8 0 .8 .1 4.4 .2-1.3 0-2.6 .2-3.1 .1-.1 0 1.1 .7 4.8 0 .2 .1-.6 .4-9.3 .1 8.1 .3-.3 .2-.2 .2-10.7 .2 4.9 .3 2.4 .1 3.2 0-4.6 0 5.2 .1-3.5 .1 8.3 0-8.6 0 3.8 .3 3 .2-6 .1 5 .1-3.8 0-7.2 .1 4 .1-4.6 .1 6.4 .3-2.4 .1 .1 .3 .7 .3 3.7 .1 3.9 .2-6.1 .1 .9 0-2.2 .1 2.7 .1-5.6 .1 8.8 0-3.2 .2 1.4 .1 2.5 0-3.5 .4-2.5 .1-.7 .1-1.9 .1 5.1 0-3.1 .3 .8 .3-1.3 .1 2.2 .1 3.5 0 3.5 .2-7.8 .1 1.5 0 4.6 .7-.9 .2-1.1 .2-7.8 0 8.9 .2 1.3 .3-9.2 .1-1.1 .2-2.7 .1 13.4 0-7.2 .4 1 0-3.1 .2-3.4 .3 7.4 0 2.7 .1-3.2 .1-6 0 2.6 .4 .9 0-1.4 .2 9.2 .1-9.5 .1-3 .5 1.4 0 3.1 .1 2.6 0-6.5 .6 6 .3-1.5 .1-2.2 .4 2.3 .1 4.1 0 .3 .4-4.2 .2-1.9 .3 1.8 0 .8 .3 4 .1-5.5 .1 .5 0-1.5 .1 .5 0 .8 0 6 .1-6.8 .1 2.7 .3-4.2 .2-.3 .1 .3 .2 8.4 .2-7 .1-2.3 0 4.4 .1-2.1 .1 1.2 .1 6.4 0 .8 .1-10.4 0-1.1 0 6.7 .1-4.9 0 .7 0 2.4 .1 7.4 0-4.8 0 1.1 .1-4.2 .4 2.2 .4 6.9 .1-3.1 0-2.1 .1-.3 .2-8.2 .8 10.3 .1-4.6 .2-3.7 .1 7 .1-5.5 .2 7 .4-1.8 .2-7 .1 1.6 0 2.1 .2 1.2 .1 1.8 .1-.9 .1-.1 .1-3.3 .1-1.4 .3 3.5 .1 7.1 1.4-9.9 0 3.7 0-3.7 .4 7.1 .1 1.7 .1-5.3 .1 .7 0-1.6 .1-3.3 .1 4.9 0 .1 .3 2.9 0-6.9 .1-2.3 .7 0 .2 4.7 .1 3.9 .2-5 0 1.8 .2-5.1 0 7.4 .1-7.1 .5 6.5 .1-2 0-5.1 .3-1.1 0 9.6 .1-2.7 0-1.1 .1 6.1 .1-3.8 .1 3.9 .1-3.1 .3-4.1 .2 .9 .2-7 .4 7.1 0-.5 .1-3.4 .5 4.4 .1-2.1 .2 4.9 .2-1.4 0-1.3 .1-.9 .1 8.4 .2-12.2 .2 1.7 0-1.2 .1 3 .4 2.8 .1-5.1 .1 3.7 .2-.5 0 1.2 .1-3.6 .1 1.1 .9-1.8 .1 4.5 .2-5.8 0 6.3 .5-3 .2 2 .1 .4 .3 1.9 .4-5 .1-1.4 .3 6.2 .1-7.8 .1 .8 .1 4.9 .1-5.2 .3 5.7 .1 2.1 0-2.6 .3 1.4 .1-5.5 .4-1.6 0 2.9 .1-1.9 0 9.5 .2-9.2 .7 3.3 0 2.6 .7-8.4 .2-.9 .1 9.7 .5-1 0-.3 .3-1 .4-4.3 .6 1 .4 2.4 .1 1.9 .2-4.7 .6 4 0-4.2 .1 8.3 .2-9.8 .3 7.4 .6 3.1 .2-1.2 0-.4 .2-2.1 0-1 .3 3.2 .1-10.1 0 9.7 .2-2.9 .2-.5 .1-5.5 .1 .5 .2 0 .2 9.9 .2-8.2 .1 2.1 .1-1.9 0 .2 .3 8.6 .1-5.3 .1-2.5 .3 8.1 .1-7.6 0 .3 .1 5.1 .2-6.1 .1-2.5 .2 7.7 .2-2.3 .2 0 .2-1.6 .6 3 0-1.1 0-6.3 .1 4.4 .1-1.5 .1 1.9 .3-.5 0-4.5 .1 10 .2 0 .4-9.6 0 6.7 .2-5.8 .1 6.2 .1-4.7 .2-.8 .1 3 .1 2.1 0-2.2 .3 8.4 .1-8.9 .3 3.9 .1-5.5 0 8.5 .3-7.7 .1 .9 .1 2.2 .2-3.3 .2 1.8 .1 3.1 0-2.3 .6-5.8 .5-.8 .2 7 0-7 .3 10.5 .3-7.2 .3 .6 0 2.2 0 1.4 .4-5.9 .1 2.2 .2 2 .4-3.4 .1 7.3 .1-1.1 0-4.5 .2 1.1 .2 1.6 0 1.1 .3-1 .1-2.6 .1-1.1 .2 4.7 .3-6.9 .2 2.3 .2 .1 .2 5.9 0-2.5 0-.9 .2 4.1 .3-2.5 .1 2.8 0 .8 .1-10.2 .1 5.2 .1-2.7 .1 0 .1-1.4 .1 6.2 .5-4.5 .1-3.8 .2 7.5 .1-1.4 .2 4.9 0-7.6 .3 3 0-5.8 .4-.1 .1 4.3 .2 1.1 .2 2.9 .3 1.8 .2 .8 .1 .1 .1 3.7 .2-4.2 .3-5 .1-3.4 .1 11.6 0-6.4 0-3.6 .2 1 .3-1.1 .1 4.1 .3 5.3 .1-1.1 .1-2.7 .1-6.5 0 6.9 .3 2.9 .4-10.4 .1 5.9 0 1 .2 4.9 .1-6 .1-1 .1-1.8 .1 0 .1 6 .1-9 .2 12.8 .2-6.5 .2-.9 0-3 .2 1.7 .3 7.5 .5-11.2 0 7.7 .1-11.5 0 3.8 .1-.6 .1 1.5 .1 4 .1 3 0 4.9 .2-8.7 .1-7.7 .1 6.5 .4 3.7 .4-4 .1-3.8 .2 8.7 .2-4.7 .1 3.6 .2-4.2 .5 4.4 .1 2.6 .4-3.3 .2-8 1.1 5.7 0-4.7 .1 3.5 .3 5.6 0-2.8 .2 5.7 .1-5.3 .2-3.7 .2-6.2 .3 10 .2-4.3 .1 5.6 .6-4.9 .2 5.2 .2-5.3 .5-5.3 .2 8.4 1.5 4.7 0-9.7 .1 2.6 .2-1.9 .1 3.7 0 4.6 .1-8.5 .1 3.5 .4-.2 .1-.1 .2 6.4 .4-7.6 .3 6.7 .3-3.6 0-3 .1 9 0-4.5 .7-2.2 .1 5.2 0-14.9 0 10.4 .4-4.7 0 4.2 .1-6.8 .1 10.1 .1-8.5 .3 7.1 .1-2.5 .3 2.1 .2-2.9 .2 4 0 2.2 .3-.7 .1-4.4 .2-1.7 .1 8.4 .2-11.5 .3-3.8 .5 9.8 .1-3 .3 1 .2 4.3 .3-6 .4 6.7 .3 1.5 .1-10.3 0 2.9 0-2 .1-1.8 0 11.3 .1-1.7 .5-6.4 .1 5.3 0-8 .5 6.8 .1-2.4 .1 2.8 .3 1.8 .1-.6 .4-7.6 .3 1.6 .2-4.6 .1 9.4 0-7.7 .2 8.5 0-4.7 .1-1.5 .2-.2 .1 .4 .1 3.2 0 7.2 .1-13.7 .1 4.9 .1 5 .1-1.6 .2-5.6 0 2.6 .5-1.4 .1 5.8 0-3.4 .1 2.7 0-2.9 .1 6.1 .1-1.1 .1-2 0-10 .6 6.1 .4-1.9 .1-1.6 0 4.3 0-.1 .2 1.4 0 1.3 .1-5.7 0 8.5 .3-6.5 .2 3.6 .1 0 0-4.2 .3-1.3 .2-1.8 .1 .4 .1 2 0 3.9 .1 2.7 .3 3.7 0-9.4 .1 9.2 0-13.5 .1 8.6 0-4 .2-2.5 .4 1.9 .2 6.1 .1-1.7 .1-5.5 .1 6.9 .1-2.7 .3 .2 .1-5.7 .2 3.7 .1 2.2 .5-6.6 .3 6 .6 2.8 .4-3.1 0-5.5 .1 9.3 .1-2.4 0 1.2 .1 .7 .1-.2 .1-6.5 .1-2 .1 5.1 0 2.3 .5-.2 .1-3.9 .1 7.6 0-6.5 0 4 .3 2.1 .8-6 .3 8.6 .1-12 0 6.8 .3-5.5 .1-.3 0 7.6 0 1.6 .4-3.3 0 3.2 .1-10.6 0 3.2 .1-4.3 0 5.8 .1 5 .3-2.2 .1 0 .4-5.5 1.1-5.4 .2 8.8 .1-5 0 12.6 .2-16.2 .1 7.2 .6-.6 .1-.6 0-3 .2 8.1 .1-6.2 0 6.8 .3-6.8 .1 8.7 0-6.7 .4-4.7 .1 7.6 0 1.8 0-7.1 .2 7 .3-6 .1 .3 .1-2.7 0 16.2 .2-13.9 .2 3.6 .7-2.5 .2 1.3 .1 .5 0 2.1 .1-1.7 .4 2.8 0-1.5 .1 3.5 .2-9.5 .2 6.9 .1 3.1 0-2.6 .2-4.7 0-1.2 .2-3.6 .2 3.5 0 2.9 .2 6.3 0-5.4 .9 .4 .3-3.3 0 1.4 .3 2.9 0-6.2 .1 10.5 .1-1.4 0-6.5 .2 2.1 .2-.5 .2-3.4 0 2.3 .1-.4 0 .6 .1-.9 .2-1.4 .5 .9 0 .7 0 1.5 .4-6.6 0 10 .1-6.5 0 1.1 .3-.7 .1 3.2 0-1.6 .1 5.8 .2-6.7 .5-3 0 7 0 2.5 .1-.2 .3-5.7 .1-.2 .1 8.6 .4-7.7 .2-1.9 0-3 .2-2.6 .2 2.4 .2 8.2 .3-8.3 0 5.1 .1-2.8 .1 6.5 0-9.4 .1 8.7 .1-5.1 .1 7.7 .1-2.4 .2 1.7 .2-7 .2-.1 .2 .5 .2 9.5 0-8.9 .1 2.5 .5 .4 .1 2.4 .1-4.7 .1-.4 0 .8 .1-3.1 .1 6.9 .4 1.7 .2-7.9 .3 8.3 .6-5.6 0 2.1 .4-7.6 .1 6 0 .2 .2-2.6 0 9.9 .3-5.1 .1-.6 0 4 .1-11.4 .2 6.8 .7 1.2 0-1.4 .1 .7 0-4.6 0-1.5 .2 7.7 .2-8.9 0 8.3 0 3.8 .1-5.8 0 3.2 .2-6.8 .3 4.1 .1 .4 .3-3.7 .1-2.3 0 11.6 .1-5.9 .1-.7 .7-1.5 0-3 0 9.2 .4-4.2 0-11 0 9.7 .3-1.8 0-3.1 .1 5.6 .2-8.6 .3 7.5 .2 6.9 .1-8.3 .1 4.9 .1-3 .1-3.4 .1-.2 .4 2.7 .1-6 .1 15.2 .6-7 0 3.8 .2-8.7 .1 4 0-4.4 .1 7.7 0-10 0-1.2 .2 2.9 0 8.5 .1-4.1 .5-5.2 .2 11.5 0-5.2 .1 2 .1-5.2 .3 3.3 0-1 .4 3.8 .2-.1 .1-4.3 .4-4.2 .1 5.8 .1 1.7 .1-6.1 0 8.4 .1-3.3 .5 2.3 0 .9 .5-4.8 .2 10 0-13.1 .7 .8 .2 2.5 .1 2.5 0-3.9 0-.4 0-1.1 .1-.9 .1-.1 .2 0 0 1.3 .2 3.9 .2 .4 .1-6.9 .1-1.8 .1 4.3 0 1.1 .1-.5 .2 4 .2-.5 0-8.9 .2 3.3 0 3.6 .1-4.8 0 10.5 0-2.6 .4-10.4 .2 6.7 .1 1 .1-4.7 .1 4.9 .4-2 .2 .9 0-5.1 .1 3.5 .1 .2 0 5.7 .1-3 0-6.7 .1 8.5 .2 1.1 .6-11 .1 8.4 .2-.2 0-6.5 0 1.1 .4 3.8 .1 2.3 .1-.3 .1 6.5 .1-12.5 0 7.1 .2-.5 .2-.3 .1-4.5 .3-1.7 .4-1.4 .3 9.9 .1-.2 .3-.8 .1-1.2 0-3.4 .1 5 .2 3.3 .2-7.6 .2-4.1 .2 9.5 .4-2.2 0-9 .2 5.9 .1-1.5 .1 6.1 .2-3.2 0-4.1 .3 1.8 .2-1.7 0 9 .2-1.3 .3 .2 .2 1.2 .2-1.7 .2-7.4 0 5.8 .1-6 .1-3 0 4.1 .5 9.2 .3-10.3 .2 2.9 .1-6.8 0 13.6 0-11 .2-1.6 0 4.5 0 9.3 .2-12.1 0 10.7 .5-.5 .1-5.9 .2 1.7 0-2.4 0 1.9 .1-.5 0 2.8 .3-3.4 .1-6.1 .1 10.1 1.3-3.3 0 6.5 .2-6.9 0-5.7 .1-1.2 .5 4.5 .1-1.1 0 .8 0 6.8 .1-4.9 .1 4.8 .4-1.3 0 3.4 .5-6.5 .1-1.8 0 1.6 .2 3.2 .1-.8 .3 2.4 0 1.7 .1-1.3 .1-4.3 .1-3.5 .3 5.3 .1 .9 .2-3 .2-4 .1 6.9 .3-5.1 0-.2 0-2.1 .1 3.2 .1 9 .1-3.9 .3-5.8 .9-2.6 .2 .7 .1 6 .2-7.6 .3 3.7 .6 1.4 .2-4.6 .4 4.1 .1 6.6 .1-4.5 .5-8.3 .1 6.2 .3-4.3 .1 3.7 .5-1.9 .3-.7 0 7 .1-3.2 .1 6.7 .1-7.9 .2-3.4 0 5.2 .2-1.7 0-1.8 .2-2.6 0 5 .5 .8 0 3.5 0-4 .1-1.3 .1-.9 .1 8.4 0-4.4 .2-2 .4-2.4 .1 8.9 .1-.7 .1-3.1 0-.7 .1-4.8 .3 4 .1 3.7 .2-7.5 .3 9.8 0-7.8 .4-2.8 .2 8.7 .1 2 .2-12.1 .2 5 .4-.2 .1-5.9 .2 12.5 0-7.5 .1 7.2 .2 .6 .3-8.5 .2 4.5 .1 2.3 0-3.5 0-5.5 .1 2.4 .5 7 .7-6.2 .1-1.3 .2 5.3 0 .1 .1 3.9 0-8.8 0 4.9 .1-3.5 .3 3.7 0-2.1 0 3.7 .4 2.8 .1-5.8 .1-2.2 .1-1.5 0-1.5 .4 5.3 0-1 .1 2.7 .2-6.5 .2 6.5 .1-10.9 .2 13.3 .1-6.6 .4 2.7 .1 1 .4-5 .1 .8 .3-3.3 .1 3.5 .3 5.8 0-3.1 .5 .3 .1 1.6 .1-3.5 0 4 .4-7.2 0 1 .2 .2 .2 6.4 .1 1.8 0-4.6 .3-4.2 .1 .2 0 2.2 .1 5.2 .9-6.6 .2 4.8 .2 5.3 .3-12.5 .2 9.5 .8-3.7 .4-2 .3 2.2 .2-1 .1-1 .1-2.4 0-4.4 .1 10.7 0-6.8 .1 2.3 .3 1.3 .3 3.2 .1-6.1 .1 4.4 .1 3.4 .1-8.9 0 6.2 .1 7.5 .2-9.6 .2-8.3 .1 8.2 .2 2.3 .1 3.6 .2-5.9 .2 6.4 0-10.7 .1 8.5 0 .6 .1-3.7 0 4.2 .2-.9 .1-5.1 .6 .3 0 6.4 0-8.9 .1-2.5 0 6.7 .1-7.6 .3 8.8 .1-3.7 .1 .2 .1-2.8 .4 5.8 .2-7.4 0 2.4 .2 5 .1 2 .1-6.1 0 .6 .1 6.7 .2 4.6 .3-14.2 .7 1.8 .3 5.4 0-7.2 .1 3.1 .1-.9 .1-.4 .1 .2 0 8.2 .2-1.2 0-6.7 .6 10.5 .4-6.1 0-5.5 0 8.4 .3-7.7 .1 5.2 .1 2.3 .1-8.5 0 3.9 .6-.6 .7 3 .5-2.8 .1 1.3 .1-4.8 .1 5.6 .2-.9 .1-1.4 .2 4.5 .1-3.1 .7 1.7 .1-5.7 0 7.8 .1-5.7 .5 5.7 0-8.5 .2 4.6 .2-2.3 .4-4.7 .2 .2 .4 5.4 0 .5 0-1.1 0-6 .1 6.3 .1 1.2 .1-4.9 .5 8.3 0-.5 .2-9 .5 6.8 .1-4.2 .1 9.1 .1-1.9 .2-8.7 .5-2.6 .2 9.6 .1-6 0 2.3 .1 7.1 .4-9.3 .1 1.8 0 9.2 .1-2.2 .3-3.4 .6-4.4 .2 8.4 .4-7.2 0-.1 .2 3.4 .3-.4 .2-.5 .2-1.4 .1-1.6 .1 2.7 .2 4.7 .1-5.1 .2-7.5 .2 7.8 .1-7.7 .2 7.7 .1-2.2 .3 1.3 .2-3.3 0 5 .1 1.7 .1-11.9 .2 11 0 .2 0-3 0-4.9 .1 3.4 .2 .2 .1 10.3 .3-12.1 .4 6.4 .6-4.4 .1 .9 0-2.4 0 7.1 .1-8.7 .1 10.6 .2-3.3 .2-.8 .2-4.2 .2-1.5 .2-1.3 .4 2.6 .3 3.1 .3-.8 .1-4.6 0 1.9 .3 8.2 .7-2.2 .1-2.6 .2-.6 .3 2 .1-3.4 .2 2.8 .1-.3 .2-5.2 .2 4.1 0-4.5 .3 11.1 .2-2.8 .1-8.2 0 5.9 .1 2.7 .2-4.4 0 5.4 .4-4.7 .2 .4 0-1.2 .1 2.6 .1-2.5 .1-1.8 .2 0 .1 3.1 0 1.3 0-5.4 .1 9.1 0-15.5 0 10.7 .3-1.4 .7-.3 .2-5.5 .2 7.7 .3 2.4 .2-9.6 .1 7 .1-5.6 .2 1.4 .1-3 .1 6.2 .2-1.6 .2-6.5 0 4.5 .2 .9 .1-3.3 .1 8.7 .3 2.3 .3-1.6 .1-3.8 .1-2.2 .1 2.1 0-.3 .3 5.1 .3-4.1 .1-4 0 3.3 .4 5.3 .1-8.1 0 4.6 .2 .1 .2-.3 .1 3.1 .2-7 0 6.3 .1-12 0 8.9 0-2.8 .1 7 .3-4.8 0 1.3 .2 2.2 .1-4 0-.7 1-2.2 .1-.5 .3 3.1 0-3.5 .1 6 .1-1 .2-6.3 .2 1.1 .1 4 1-4.9 .1 4.3 .3 4.2 0-1.3 .1-8 .1 9.5 .1-3.3 .3-3.8 .2 5.5 .4-2.8 .4 2.5 .1-2.1 .4 2.5 .2-4.4 0 2 .5-5.8 .3 6.7 0 1.6 .3-5.9 .1 .9 .1 3.6 .1 .4 .1-1.3 0-3.6 .1 6.9 .2-.1 .4 .3 .3-7.3 .1 1 0 7.9 .1-4.3 .1-4.6 .2-1.9 .1 8 .1-2 0-4.3 .1 2.3 0 2.3 0-2.9 0 6.7 .1-1.4 .1-.5 .2 0 .2 .2 .1 .7 0 .3 .1-6.4 .5-.8 .2 .4 .1 5.3 .1-9.6 .2 9.7 .2 .1 .2-6.1 0 3.4 .1 2.3 .1 2 .1-8.4 .4 3.1 0 4.2 .1-2.3 0-.1 0-1.8 .1 6 .1 .9 0-2.7 .1-4.1 0-4.8 .1 1.1 .3 9.2 .1-6.9 .1 5.2 .1-5.4 0 3.7 .2-9.4 .1 11.1 .4-4.7 0-1.4 .7 6.2 .2-5.2 .1 9.7 .2-2.9 0-2.6 .4 3.4 .3 .6 .1-.3 .2-.9 0-5.5 .1 8.6 .1 .3 0-8.2 0 .4 .1-5.1 .5-.8 .2 9.1 .3-2.5 0-4.4 .1 2.8 .3 4.6 .1-6.7 0 9.2 .3-8.1 .2 2.5 .1-6.1 .3 7.4 .5-4.6 .7 5.2 .2-2.3 0 3.1 0-1.8 1.1-1.8 .1-1.9 .3 4.6 .1-5.5 .1 1.7 .1 .4 .1 6.2 .5 0 .2-3.3 .1-8.9 .3 4.4 .4 8 .5-11.2 .1 11.8 .3-8.4 0 1.1 .3 3 0 0 .4-2.8 .1-.7 .2 .7 0-3.6 .3 9 .1-1.6 0 1.5 .2 4.4 .1-6.9 0 2.2 0-5.3 .3 5.6 .1-6.6 0 1.5 .5 2.7 .5 4 0-2 0-7.7 0-.5 .3-.7 .1 3.7 .1 .2 .1-.6 .1-5.4 0 8.7 .4-6.9 0 7.2 .1 2 .1 1.3 .1-8.3 .2 3.8 0-1.7 .1-5.4 .1 11.4 .4-3.6 0 3.5 0-6.6 .1 6.3 .4-2.9 0-9.1 .1 5.8 .1 8.6 .4-10.4 .1 6.3 0-4.5 .2 4.7 .3-.3 .1-8.1 0 7.8 .1-3 .1 5.1 .1-4.8 .3 6.8 .1-8.6 .1 5.9 .4 .9 0-11.8 .1 7.5 .1-.9 .1 10.9 .5-9.2 .1-6.6 0 1.7 .4 5.2 0 2.8 .1-3.9 0 .6 .1 1.1 .1-.7 .2-5.5 .2 .7 .2 6.4 0-3.1 .1 4.6 .1-4.1 .2-1.4 0 2.6 .2 2.9 .1-4.2 .1 1.1 .2 4 .1-2 .4-4.6 .1 5.2 .2 2.4 .1-5.8 .1 4.1 .2-5.9 .2 .8 .3-.7 0-1 .3 1 .1 3.6 0-1.3 0-1.4 0-1.4 .1 2.2 .1 3.1 .2-.7 0-3.8 .8-.7 .4 3.5 .1 1.1 .1-5.6 0 3.1 .7 1.5 0-4.9 .1 9.8 .2-2.5 .1-2 .1 5.2 .4-5.7 .5-8.2 .1 10.5 .1-1.7 .1-1.9 .3-6.2 .1 6.9 .3-2.2 0-.6 0 9.7 0-14.4 0 6.4 .5-3.2 .2 1.5 .2 3.6 .1 3.2 .9-3.5 0-.3 .3-1.9 .1 1.8 .9 6.1 .1-7.1 .1-.2 .1 1.6 .1-4.3 .4 1.4 .2 5.1 .3 3 0-12.4 .5 8.4 .1-3 .3 2 .2 .2 .1-.6 .3-4.2 .1 7 0-5.6 0 1.7 .2-4 0 10.1 .1-10.9 0-.6 0 1.1 .3 8.3 .7-9.9 0 1.3 .3 2.5 0-3.5 .2 9 0-1.4 0-.3 .6 3.7 .1-2.4 0-5.3 .2-.9 .1 7.4 .2-3 0-1.4 .1 .6 .2 1.4 0 1.8 .3-6.1 .2 5.7 0-6.3 0 9.2 .2-4.2 0-3.1 .2-1 .1-4.3 .2 .6 .3 2.9 .1 8.2 .1-7.4 .1-.1 .6 .7 .1-.8 .2-.1 .4-2.1 0 6.4 .4-.5 .1-2.1 .2-4.4 .1-.5 .1 5.2 0 2.4 .1-2.2 .1 6.8 .2-12.1 .8 11 .6-7.7 .1-1.8 .2 .7 0 1.9 .1 .4 .5 1.9 .1-5.4 0 7.7 0-.5 .1 1.8 .1-.5 .2-4.5 .2-.8 0-2.1 0 .4 .8-1.4 0 8.6 0-9.5 .1 7.5 0 .8 0 3.5 .2-6.8 0 6.5 .3-10.3 .3 7.5 .1 .1 .2 2.7 0-13.1 .1 7.6 0-6.6 .3 4 .3 9.6 .6-5.1 .2-11.6 .1 10.1 .4 .2 .3-6.8 .1 6.4 .1-2" fill="none" stroke="none" marker-start="url(#fN)" marker-mid="url(#fN)" marker-end="url(#fN)"/>
<path d="M596.9 746l.2 9 .1 9 .2 9 .2 9-.6-5.7 .3 6.9 0 1.1 .1-2.4 0 3.8 .1-1.4 .1 1.5 .1-3.1 .1 3.9 .1-1.6 .3 .3 0-2.6 .1 6.2 .1-2.8 .2 2.2 0 4.1 .4-2.2 .1 .3 0-3.6 .7 4.9 0 3.4 .1-4.7 .1 2.2 .3-.7 .3 5.2 .5-1 0-1 0-1.6 .2 6.1 0 1.2 .1-3.5 .1-2.2 .1 7 .2 .9 .4-2.4 .1-.7 .2 2.2 .2-1.4 .1-3.2 .1 .3 0 1.2 .4-3.5 .3 4.1 .1 1.9 .2 5.7 .1-9.5 0 7.8 0-4.7 .2 3.8 0 1.9 .1-4.2 .1-1.2 .4 1.3 0-2.3 .3 6.8 .6-1.1 .1 2.1 .1 .9 .1-2.7 .2-.6 0-1 .1 4.6 .1-3.4 .4-1.2 0-2.3 .8 4.2 0-.9 .1 7.2 0-7.4 .1 .7 .1-4.2 0 1.4 .1-.9 .2 6.6 .5 1.4 .3-10.3 .3 6.6 0 1.9 .1 2.4 .1-1.7 0-2.9 .2 2.5 0-7.2 .1 7.2 .1-6.3 0 2.7 0 3.7 .1-.3 .1 1.1 .5-1.5 .1-1.2 0-.8 .1 4.2 0-1.3 .2-3.3 .2 3.8 .2 .1 .1 .7 .1 .9 0-.4 .3 .7 0-5.1 .1-4.5 .1 5.7 .1 1.5 0 5.7 .2-5.4 .2 4.2 0-1 .1-.7 0-4.5 .1-3.3 0 3.2 .1 4.6 .2-2.4 .1-1.8 .2 5.6 .5 0 .2-8.4 0-.8 .1 8.1 .3-1.7 .3 2.2 .1 1.9 .1-1.5 .2-6.4 .2 1.4 0 6.5 .3-4.4 .1-5.3 .3 12.2 .6-10.9 .5 3.1 0 4.4 0-2.8 .5 .7 .1-4.3 0 9.5 0-.2 .1-6.8 .3 6 .1-4.8 .5-2.9 0 1.8 0-.9 .5 2.5 .2-5.6 .2 8.1 0-3.2 .3 1.8 .2-3.5 .2 7.2 .1-5.8 .1 4.6 0-1.7 .1 .2 0 .2 .2-2.9 0 2.1 .1 2.3 .6-1.7 .1 2 .2-.7 .2-6.2 .2 6.6 0 2.5 .1-10 .2 .7 0 5 .2-3.3 .1 .9 .1 6.5 .1-7.7 0 1.7 .1 .5 .1 2.9 .1-8.9 .2 7.9 0-3.8 .3-2.2 0 4.8 .5-.7 .2 2 .1 2.3 .2-1 0-3.1 .4 1.6 0 1.2 .1 2.2 .5-8.4 0 7.5 .1 .7 0-8.6 .1 4.6 .3 3 .1-2.1 .1 1 .2 1.6 0 2.3 .1 1.5 .1-7 .3 2 .2-7.2 0 5.5 .1-.5 .1 1.3 .1-6.2 .6 5.6 .2 1.7 .1 1.2 0-6.7 0 4.8 .3-1.6 0-3.8 .8-.1 .3 4.2 .3 3.1 .1-5 .1 6.1 0-6.3 .1 2.3 0-4.5 .2 5.8 .4-6.1 .3 5.7 0 2.7 .7-6.2 .2 4.7 .1 4.1 0-8.6 .2 3.5 .1 3.5 .2-7.2 .4-.7 0 .4 .2 3.9 0-.6 .2 .2 .1 7 .1-6.9 .1 5.3 0 3.3 0-13.4 0 5.7 .4 2.6 .4-2 .1-.5 .1 6.8 .1-14.8 .2 8.7 .1-3.8 .1 2.6 .5 2.4 .4-.5 .1-6.5 0 3.2 .2-.5 .1 5.5 .2-4 .1-1.1 0 4.6 .2 1.4 .4-1.9 0-8.9 .1 7.8 .2-7.3 .1 10.8 1-6 .1-.6 .1-2.4 .1 7.9 0-6.7 .1 3.6 .1 1.2 0 1.3 .1-7.2 .2-2.6 0 2.7 .1 4.4 0-5.7 0 2.7 .1 .8 .2 5.7 .4 0 .1 1.7 .2-4.1 .1-4.6 .1 7.4 0-3.3 .1 5.9 .1-4.5 .1 1.3 .3-5.8 .4 .1 .1 1.8 .2 .2 0 2.2 .4-2.1 0 3.6 .2 .5 0-5.2 .3 6.6 .2-8.3 .4-.7 .3 7.6 .2-9.6 .2 11.7 .1-9.4 .1 7.1 .1-.5 0-1.8 .3-4.4 0-.4 .3 1.8 0-.8 0 1.9 .3 4 .2-6.8 .2 2.1 .2 0 .1-.1 .1 5.3 .5-6.1 0 2.3 .1 .4 .3-4.9 .3 3.5 .1 6 .4-6.8 .2 7.7 .1-9.9 0 3.7 .1 7 .1-11.1 .1 2.1 .3 1.4 0 2.8 .1 2.8 .1-4.5 0 3.5 .6-6.5 .2 .6 0 7.2 .1-2.7 .4 2.1 .2-6 .1 3.2 .1 1.6 .4-3.9 0-3 .2 7.7 0-.8 .6 3.5 0-1.3 .1-6 .1-1.2 0 2.1 0 2.2 0-2.2 .1-1.3 .1-4.6 0 .9 0 4.8 .2-6.2 .1 10.4 0-3.2 0 2.2 .1-2.3 0-1.8 .1-6.3 .1 5.3 0 1.3 .1 1.5 0 3.6 .3-3.1 0-4.5 .2 3.6 0 4.4 .1 2 0-3.1 .1 2.5 .1-11 .1 1.4 0 5.4 .2-4.5 0 8.2 .1-6.3 0 2.3 .5-8.2 0 4.9 .1 5.7 .3-.7 .5-6.2 0 9.8 0-4.2 .4-3.2 .4 4.9 0 1.3 0-6 .2-.4 1-.8 .3 7.5 .1-8.2 .1 2.4 0 1.2 .2 1.1 .3-.1 .3-5.9 0 .8 .1 5.9 .1 .6 .2-1.1 .1-9.4 .2 9.9 .1-3.5 0 .8 .1-5.1 0 5.5 .4 5 .1 1.2 .3-2.2 .2 1 0-5 .1 3.7 0-6 .1 4.4 .3-1.3 .1-.6 .9 1.6 .5-1.3 .2 .8 .1-3.6 .1 .2 .1 6.1 .3-1.4 .6-5.1 .4 7.8 0 0 0-1.1 .2 2.4 .4 .7 0-3.8 .2-2.1 0 3.2 .2-.6 .2-6.4 .1 6 .2-.9 .3-1.5 .3 3.2 .2-1.9 .3-5.8 .5 11.1 .3-12.2 .1 3.1 .2 7.8 .1-2.5 0 .4 .3 2.4 0-5.3 .2 5.1 .1-8.4 .4 .2 .1-5.5 .3 11.8 .1-3.9 .3-.7 .2-2.1 .2 1.5 .6-2.2 .1 6.4 0-4 .1 4.7 0-.7 .1-5.5 0 1.9 .1 3.5 .1-6.3 .2 5.3 .1 3.6 .1-8.5 0-6.5 0 6.8 .2 2 0 2.8 0 7.3 .1-11.9 .1 3 .4 1.7 .1 4.5 0-2.2 .2 2.4 .2-2.8 .2-8.8 .2 2.3 0 8.8 .1-1 0-5.6 .1-1.7 .1-4.9 .2 6.5 .7 5.8 .5-4.9 .3 1.2 0-4.4 .1 4.9 .1 .8 0 .4 0-2.8 .1 7.7 .1-7.2 .1-5.7 .2 .1 .4 11.6 .5-4 .2-5 .3 8 0-2.7 .2-8.9 .1 12 0-9.5 .2 7.5 .2-8.6 0 2.1 .3 4 .2 3.1 .1-6.1 0 9 0-7.7 .1-5.1 .2 3.3 .1 6.9 .4 1.6 0-6.2 .2 5.3 .1-10.9 .2 8.9 .1 4 .1-11.7 .3 6.4 .3-4.8 0 .9 .1 .6 0 1 .3-2.5 .1 1.4 .1 4.6 .1-1.4 .4-1.5 .1 2.8 .4 2 0-1 .3-.7 .1-4.8 .2 .4 .3-1.2 0 7.7 .1-.1 .3 0 .4-4.4 0-.5 .1-2.1 .1 2.8 .5 4.8 .1-1.3 .2-3.1 .3-.4 .3 3.4 .2-7.6 .4 5.1 .5 3.5 .1-12.5 .1 7.6 0-4 0 2.9 .4 5.4 .1-5.7 .1-5 .2 2.8 0 4.7 .2-.7 0-4.4 0 1.6 0-.5 .9 4.6 .1 1.9 .1-2.6 0-5.4 .1 6.3 0 3 .1-1.4 .1-2.8 .4 .5 .1-.5 .5 5.9 0-.2 .3-2.7 .1-8.4 0 2.3 .4 7.4 .1-5.6 0 .2 0 3.2 .2-1.6 .3-3.9 .1 0 .3 7.3 0 3 .3-6.5 .3-.8 .5 3.3 .1-6.5 .2 8 .1-5.3 .3-.1 .3 .8 .2-5 .5 13.1 .1-5.3 0 2.4 .1 .7 .1-.9 0-7.8 0-5.6 .2 7.5 .3 4.9 .2-4.6 .2 6.6 .3-8.3 .4 3.3 .1 2.7 .1-8.4 0 2.4 .3 2.1 .1 .4 0 2 .4 5.9 .2-11 .4 8.4 .1-10.7 .2 10.1 .1-9.3 .2 2.7 .1 1.4 .2 1.5 0-5 .1-.5 .1 5.1 .4 1.2 .1-3.2 .1-3.8 .5 8.5 .3-2.1 .4-.2 .4 6.8 .1-6.7 .2 1.2 .4 3.3 .1-2.6 0-4.1 .2-2.2 0 9.2 .3-6.9 0 4.7 .1-2.5 0-1.8 .1-.9 .1 3 .2-3.3 .1 7.9 0-5.6 .1-5.5 .2 2.5 .1-.3 .3 8 .1-11.3 .1 11.4 0-3.5 0 1.6 .3 4.2 .1-13.3 .2 7.3 .6-2.1 .1 1.1 .4-2.6 .1 1.3 .5 1.9 .1 1.5 .2 1.1 0-5.5 .1 2.5 .5 4.3 0 4.1 .3-9.9 .2 2.4 .1-3.3 .1 4.5 0-5.2 .1 8.1 0 .7 .5-10.7 .5 .3 .1 7.9 .1-6.2 0-1.3 .1 1.6 0-4 .1 11.5 .2-6 .1-3 .2 6.3 .4 1.7 .3-3.4 .1 2.1 .1-5.3 .1-3.8 .4 12.3 .2 .3 .1-7.7 .6 3.1 .2 1.5 .3-2.8 .1 4.9 0-5.3 0-.1 .1 1.2 .7-1.8 .1 3.2 0 2.5 0-3.3 .1 5.6 0-7.9 .3 6.8 0-10.5 .2 11.8 .2-2.1 .1 .3 .1-6.4 .2 5.7 .1-2.4 .1-5.6 .1 6.5 .1-4.8 .2-1.8 .2 2.8 0 7.5 .2-9.3 0 5.8 .1-6.9 .2 3.5 .1 3.8 .1-3.6 0 6.7 .3-4.2 .1 2 .1-6.5 .1-.4 .1 3.8 .1 2.5 .3-5.5 0 6.4 .2-3.2 .2-1.8 .2-.6 .1 5.6 0-5.1 .2 7.1 0-5.8 .2-3.9 0 9.9 .1-3.2 .4-8.8 .1 12.2 .4-8.5 .2 1.1 .1 4.9 .4-4.6 0-6 .2 5.2 .2 2.7 .2-1.6 .3 1 .1-2.4 0 6.4 .2 .3 .2-3.3 .1-7.8 .2-.2 .1 2.7 .1 10.6 0-7.1 .6-4.6 .4 7.3 .1-3.3 .1-1.7 .1 2 .2 1.9 .5-5.2 0-1.8 .4 8.5 .2-8 .1 1.9 .2 3.3 .4-1.4 .1-4 .1 5 .2-5.7 .1 5.5 .3-1.4 .3-1.8 0-3.5 .7 6.4 0 8.5 0-3.8 .3-4.8 .2 .3 .1 5.8 .5-1.1 0 1.3 .1-1.6 .8-8.4 .1 6.4 .1-3.5 0 8.6 0-6.4 0-.1 .1 4.6 0-7.7 .6 6.9 0-6.6 .4 3 .3 2.5 .2-3.7 .2 1.9 .3-4.5 .4 .1 0 1.2 .2 6.7 .3-10.7 0 5.4 .2-4.4 0 9 .1-9.6 .4 11 0-7.4 .1 .6 .6 5.9 .3 .9 .1 .9 .2-7.1 .2 1.2 .1 2.9 .3-1.8 .2 2 0-10.2 .1 3.9 .2 5.5 0-2.6 0 .1 .2-.8 .1-.7 0 1.6 0-7.5 0 10 0-8.2 .3 .6 .3 11.3 0 .4 .3-3.2 .1-.2 .1-6.6 .1 4.6 0 3.7 .5 .1 .2-4 0-3.6 .1 4.9 .2-8 0 7.1 .4-5.9 .5 4.8 .1 6.8 0-10.2 .2 3.7 .1 3.5 0-6.2 .2 5 0-2.8 .5 5.1 0-9.4 .3 2.6 .3 5.3 0-9.3 .3 5.7 0 4.3 .1-5.9 .1 7 .1-8.8 0 4 .3 4.7 0-7 .6 4.1 .1-3.6 .1-2.6 .2 7 .3-5 0 3.6 .4-1.8 0-2.5 .3-2.9 .1 12.7 .1-3.8 .3-8.3 .1 2.3 .2-2.2 .1-.8 .1 8.2 .5 .9 .2-2.8 .2 1 .1 4.1 .1-6.9 .5 2.6 1.2-.5 .1-.3 .1 1.2 .4-8.2 0 12.9 .1-.2 0-10.1 .2 4.2 0 1.6 .2-6.2 .2 1.2 .1 4.6 .1-3.7 0 .9 .4 5.9 0-1.1 0-5.8 .1 2 .2 3.5 0 1.3 0-1.8 .1 3.4 .2-2.3 0-5.4 .3-1.9 0 1.8 .8 2.7 .1-2.9 .4 8.1 .1-7.2 .5 .9 .1-3.7 .1 3.1 .1 11 .8-3.7 .7-5.3 0-3.7 .1 1.7 0 1.4 .1 2.1 .1-5.2 0 7.7 .6-.4 0-9.4 .1 6.2 .3-.1 .1-1.5 0 .4 .3-4.7 .3 2.1 .2 4.7 .2 .5 .4 3.7 .1-7.5 .2 4.2 .3-3.3 .1 3.7 .6 6.1 0-10.2 .2 3.9 .4-1.3 .4 5 .1-8 .1 5 .3 5 .1-14.3 0 6.9 .1-6.1 .5 2.5 .1 2 0-4.5 .2 9.4 0-2.6 .2-.7 0-2.3 .7 4.5 0-.6 0-9.7 .4 10.8 0-.4 .3-1.6 0-1.5 .2 1.4 .2-3.1 0 .6 .1 7.7 .2-11.2 .1 6.1 .1-2.6 .1 1.9 .1-1.8 .1-.7 0-.3 0-.9 .1-2.7 .1-.8 .1-1.1 .1 4.6 0-.9 .3 5.2 .1-2 .2 5.4 .1-1 .3-2.8 .1-1.8 0 7.2 .1-7.2 .1 4 .2-.9 .1 3.2 0-10.3 0 9.8 .1-3.7 .3-2.5 .1 1.8 .1 5.2 0-7.5 .1 4.1 .1 .3 .2 .8 0 1.4 .1-1.3 .3 2.2 1.1-.8 .4 2.4 .4-9.1 .1-1.2 .3 6.2 .2-4.7 .1 .4 0 2 .1-4.6 .7 7.2 .1-6.9 0-1 0 6 .2 4.2 .1-3.9 .2-4.4 0 6.9 1.3-3.7 .4-.8 .2-1.8 .1 1.8 .1-.9 .5 5.7 0-5.2 .5 6.1 0-4.9 .4-5.8 .5 10.4 .1-.8 0-6.8 0-.3 .2 7.2 .3-6 0 5.1 .2-3.7 0 2.9 .1-1 .2 1.8 .2-5.4 .1 .5 .1 1.2 .7 2 .1 1.2 0-5.4 .1 .1 0 2.3 .1-6.5 .1 4.7 .3 2.8 .2-.2 0 6.1 0-7 .2 1.2 .2-4.1 .3 2.8 .6 1.6 0-1.2 .1-1.7 0 3.1 0-4.1 .1 1.5 .1 2.2 0-6.4 .7-.7 .4 6.2 0 5.9 .1-7.9 .3 5.3 .4-2.5 .6 3.3 .4-9.1 0 4.7 .1-3.5 .1 .4 .1 8.1 .3 .7 .6-.9 .2-9.3 .5 11.9 .5-3.2 0-1.5 0-5.4 .1 12.3 0-5.3 .2-6.8 .1 4.9 .1 1.5 .3-6.7 0 4.3 .2-3.9 .2 3.2 0 4.4 .4-6 .1 5.3 0-.6 0 3.1 .4 3 0-13 .1 7.7 0-8.7 .1 2 .2 5.3 .4-5 .2 5.1 .4-6.8 0 2.5 .1 2.4 .3-7.3 .4 4.7 .1 1.8 .6-5.5 .1 4.3 .1 5.3 .2-1.8 .1-.2 0 2 .1-7.1 0 6.2 .1-3.7 .3 2.9 0 2.5 .1-5.4 .1-6 .2 9.5 .4-6 0 .7 .1 3 .2 1.4 .1 1 .1-3 0 2.6 .2-3.8 0-1.5 0 .2 .1 5 0 2.7 .1-1.3 0 1.4 .1-8.6 0 7.4 .2-8.4 .1 3.2 .1 2.1 .1 2.9 0-2.9 .1-2.3 0 4.2 .2-2.5 .2-2.4 0 5.6 .1-6 .1-2.8 .2 7.3 0-6.4 .3 7 .3-1.6 0 4.5 .3-5.3 .1 7.6 .1-2.2 .2-8.7 0 2.1 .1 5.8 0-4.1 .1-2.3 .1 2.3 .2-3.1 0 3.7 .1-4.8 .1 5.6 .7 5.6 .1-7 0 2.4 0 .5 0-5.1 .1 4.6 1.1 4.6 .1-7.9 0 3 .2-2.3 0-2.1 .1-.5 .2 4.2 0-7.6 .1 3.1 .1 .1 .2 1.7 0-2.8 0 2.8 .1 .4 .5 2.9 .2-6.8 .1 4.1 .4 3.8 0-4.5 0-.5 .3 3.9 .5 2 .2-7.1 .1 5.8 .2-2.9 .2 5.9 .2-9.5 .2 10.3 0-12.2 .3 11 .5-1.4 0-5.2 0-.1 .1 .6 .1-.3 0 7.1 .1-2.5 .1-.2 0-4.1 .3 6.6 .3-5 .4-.8 .1 .2 0 3.3 .2-3 0-5.8 .2 2.4 0 2.7 0 1.8 .2-2.3 .1-3.7 .1 4.1 .1 5.1 .3-9.3 .1 8.2 .1 0 0-2.1 .5 1.6 .2-9.1 .2 .3 .4 2.9 .5 2.5 .1-3.7 .1 3.4 .2 3.3 .2-3.1 .3-4.7 0 11.1 0-7 .2-5.9 0 11.1 .1-5.6 .4 2.7 .2 2.9 .1-1.8 .1-6.4 0 7.3 .1 6.5 0-8.4 .1-2.9 .1 .7 0-1.2 .1-1.8 .2 4.2 .3 4.1 .2-10.9 0 9.7 .1-3.2 .1 5.5 .4-7.4 .3-3.3 .4 3.2 .1-.1 .1 7 0-.5 .3-.8 0-.6 .1-1 .1 .9 .2 2.7 .1-3.9 0 4.6 .1-3.1 .6-2.6 .3 2.6 .4 3.3 0-4.3 .4-7 .1 8.5 0 3 .6-1.7 .3-3 .4-5.6 0 6.6 .1-.4 .1 .4 .1-7.2 .4 3.7 0 5.7 .1-4 0-5.1 0 8.4 .5-10.9 0 6.7 .1 .1 .1 2.5 .3 3.3 .1-7.3 .2 8 .1-8.8 .2-.8 .2 .7 .5 4.4 .2-5.1 .1 4.9 .1-.2 .1-4 .1 0 .4 3.2 .6-1.5 0 2.8 .1-5.6 0 1.6 .2-1.8 .1 9.6 .1-9.9 .4 7.6 .2-3.4 0-2.7 .1 6.4 .1-4.2 .1-.4 .3 2 .1-1.8 .1-4 .2 5.5 0 .5 0-8.5 .1 6.9 .1 4.1 .2 .1 .1-4.9 0-5.7 .1 8.4 .1 2.2 .2-7.8 .6-1.7 .2 8.2 .1 2 .2-7.4 .1-1.4 .7 5.9 0-4.7 .3 2.8 0 1 0-6.3 .1 1.2 0 6.3 .2 .5 0-10.7 .1 3.4 .1-1.6 0 3.3 .1 1.6 0-4.4 .1 2.7 .3 2.9 .2-6.7 .1 5.8 .5-4.3 .4 9.4 .1 1 .4 .9 .4-5.5 .2-2.6 .1-4.7 .1 10.1 .3-3.6 .1-2.3 .1 2.1 0-5.9 .1 10.9 0-5.8 .1-1.3 0 1.2 .3-2.2 .1 7.4 .6-7.8 .3-3.3 0 11 .1-2 .1-5.5 .1-.1 0 3.6 .1 5.3 .6-5.1 .3-1.7 .1 1.4 0 1.5 0-4.8 .2 2.5 .1-5.3 0 1.9 .3 8.5 .5-1.1 0 .1 .4-2.6 0 .1 .5 2.8 .1 .4 .1-8.3 .1 1.6 .1 .3 0 2.3 0-3.9 .1 2.6 .1 .6 .1 .8 0-2.6 .3 2.7 .1 .1 0-1.2 .4 2 .4 4.4 0 3.1 .4-9.3 .2 1.1 0 1.5 .1-3.8 0-1.2 .1 5.2 .2-4.4 .3 6.5 .1-4.2 0 .9 .1-1.9 .4 3.2 0-6.5 .2 5.1 .1 4.7 .7-7.9 .1 6.7 .4-2.6 .2 3.8 0-3.4 .4 2.5 .1-8.8 0 9.6 .2-7 .2-1.9 .1 5.2 .9-1.5 .1 1.4 .4-.9 0-5.2 .1 6.3 .4-8.6 0 5.3 .1-.1 .1 6.2 .3-9.7 .1-.1 .2 7.9 .1 2.8 .1-2.3 0-3.9 .1-.8 0 4.5 .3-7 0 7.5 .5 2.8 0-6.6 .1 4.9 .4-1.5 .5 2.9 .5-1.2 0-2.8 .1-2.1 .1 1.9 .1-4.7 0 6.8 0-3.5 0 1.7 .1 4.7 .1-2.5 .3-7.8 .1 3.2 .1-.9 .1-.6 0 2.8 .1-2.8 0 1.2 .1 4.7 .1-7.8 0-1.2 0 11.8 .2-10.6 .1 6.1 0-8.8 0 5 .6 .1 .1 .3 .2 2.6 0-3.7 .2-1.4 .1-2.9 .2 12.8 .3 .9 .1-7.7 .1-.4 .1-5.9 .6 6.1 0-3.9 .4 6.8 .6 1 .5-4.2 .6 4.3 0-.4 .1-5.8 .2-1.3 0 9.7 .1-6.9 .1 2.3 .2-4.2 0 7.4 0-1.7 .3-.3 .2-1 0 1.6 .1-2.5 .1-4.1 0 5.9 .1-1.5 .1 2.8 0-5 .2 .3 .3 1 0 .2 0 .8 .1 .7 0-1.6 .9-1.1 0 1.2 0-2.7 .2 8.5 0-1.3 .3 0 .1-2.4 0 1.1 .1-3.2 .3 1.5 .3 3.9 .3 2.4 .1-13.8 .2 3.2 .2 5.9 .1-.6 .2-1.9 .1-.4 0-1.6 .1 4.9 .4-3.9 .2 .5 0-3.6 .3 10.5 0-8 .1 .5 .1 6.8 0-4.7 .8-1.8 0-6.8 0 6.5 .1 1.1 .2 1.7 .2 5.3 0-9.5 .1 10.5 0-11.5 .2 3.9 .1-3.6 .1 8.2 0-7.3 .1 2.2 0-6.2 .5 5.6 0 1.5 0-5 .2 7.6 .5-6.5 0-.8 .2 9.4 0-5.8 .2-2.6 .3-.6 .2 2 .1 1.3 .9 1.2 .1-3.1 .1 6.1 .4-3.2 .3 4.1 0-1.6 .1 .3 0-4.6 0-.3 .2-.4 .1 4.9 .3-5.7 .2 6.8 .1-1.3 0 3.3 .1-10.3 .2 4.4 0 2.6 0-6.7 .3-2.6 .3 .8 .2 3.9 0 3.9 1.3-5.5 .1 7.1 .1-4.2 .4 2.7 0 .5 .3-5.6 .1 2.2 .4 .6 .2-5.6 0 8.5 .2-8.5 0 12.6 .7-9.3 .1 5.1 .1 4.3 0-1.3 .1-6.4 .4 2.8 .1 2.5 .3-5.4 .4 3.6 .1 2.4 0-6.4 .4-.7 .1 10.2 .2-11.3 0-.1 0 3.5 .1 5 .2-5 .1 1.3 .2 1 0 2.3 .1-3.6 .3-1.1 .4-6.6 .1 4.5 .1 5.3 0-7.6 .3-.5 .1 7.1 0-2.8 0 3.1 .4-5.5 .1 3.9 0-2.6 .1-3.6 0 .9 0 1.4 0 7.7 .1-4 .1-2.1 .1 4.1 .1-3.6 .2-.4 .1 5.7 0-3.3 .3-1.6 .1-3.4 .4 4.2 0-3 .1 8.3 .3-4 .1-5 .1 1.5 .1 6.8 .2-1.7 0-7.8 .3 .8 .1 7.7 0-7.4 0 1.4 .5 1.1 0 2.1 .2-3.5 .1 6.3 .1 .9 .1-5.1 .1 1 .2-1.8 .2 .6 .2-5 .1 5 .4-1 .2 2.8 .1 4.7 .2-2.9 .4-6.2 .1 .3 .1 3.7 .2-5.4 .3 2.2 .2-4.2 0 5.4 .1-1.6 .1 8.7 .1-5.6 .1-3.6 .1-3 .2 1.2 .1 2.8 .1-2.6 .2 2.6 0 1.6 .1-6 0 5 .1 1.5 .1-4.5 .1 8.3 0-9.2 .1 8.7 .1-3.7 0 2.9 .1-2.6 .3-1.7 0 2.9 0 6.2 .4-7.4 .1-5.4 .2-.4 0 .6 .1 4.7 .3 1.3 .1-.4 .4 1.1 .1-5.6 0 1.4 .1 4 0-.9 .2 3.7 .9-5.5 0 2.7 0 3.9 .1-5.1 .1 2 .4 .3 0-3.4 .2 1.9 0-5.4 .7 5.8 .1 3.4 .5-.7 .1-3.4 .2 2.1 0-3.7 .2 5.7 0-3 .3-2.1 .1-1.5 .3 .6 0 2.8 .1 2.6 .1 .5 .7-8.9 0-.2 0 1.5 0-4.1 .8 11.9 .3-7.6 0 4 0-.4 .4 1.1 0-1.2 .1 2.3 0-7.2 0 10 .4-6.6 .7 3.5 .6-3.7 .3-.7 0 3.3 .2 0 0 1.5 .1-7.4 .4 6.5 .2 1.4 .2-2.3 .2-3.4 .4 3.1 0 4.3 .3-8.1 .5-.7 .2 .7 0 6.1 .1-6.6 .3 2.6 .1 3.4 .1-2.8 .1-7.3 0 7.2 0 1.2 0-4.9 .3 1.6 .1-1.3 .3 1.6 0 3 0 3.9 0-5.3 .3 4.7 0-12.8 .3 15.5 .1-9.1 .2 4.6 .1-7.3 .1 2 .2 3.4 .2 .9 .4 2.3 .2-.9 .1 .4 .1-2.8 .3 5.3 0-10.1 .3 8.7 0-5.9 .4 6 0-6 0 1.2 .1 4.9 .3-1.8 0-7.3 .2-.4 .1 5.9 .2 3.1 .1-5.4 .1 3.1 .1 1.9 .2-8.1 0-1 0 1.1 .7 9.2 0-4.3 .1-6.6 .3 4.1 .2-2.3 .3 5.5 .1-1.8 .1-5.4 .6 2.3 .3 4.5 .3 2.1 .1-1.1 0-1.3 0-5.8 0 5.4 .1 4.6 0-2.3 .5-2.7 .1 5.1 .1-.3 .8-5 .1-1.5 0 3.1 .1 1.5 0-7.1 .3 2.5 .1 4.8 .1 2.4 0-3.4 .5 4.9 .2-5.5 .2-3.9 .2-2.9 .3 10 0-12.2 0 11.4 .1-4.8 .1 5.3 .1-8.5 .2 6.4 0-8.1 .2 4.2 .4-.3 .3 .4 .1 3 .1-1.2 .1 .3 0-1.4 .1-2.9 0 .5 0 5.1 .2-7.6 .1 7 .1 .8 .1-2.9 0-2.6 .1 4.8 .5-.1 .7-1.1 0 1.8 0 1.7 .3-4 .5 2.3 .4-2.7 .2-.5 0-1.5 .7-.5 .4 2.9 .6-3.7 .2-2 .2-1.5 .3 3.4 0 5.3 .1 7.5 .4-10 .4-1.5 .1 5.4 .2 1.5 .3 .2 0-7.5 .2 1.1 .1-2.1 .1 3.9 .2-1.7 0 3 .1-4.1 0 5.8 .3-7 .1 7.7 0-8.8 0 3.2 0 2.1 .1 1.4 0 3.5 0-2.8 .2-4.5 0 4 .4-2.7 .1 3 .2-.9 0-1.5 0-.4 .2 4.3 0-4.3 0 6.2 .2-1.5 0-3.1 .3 2.4 .1 4.1 0-7.2 .1-4.7 0-.3 .1 8.3 .1 2.6 .2-7.3 .5 4.1 .5 2.3 .1-7.4 .3 2.3 0-5.8 .2 8.4 .3-.2 .3 4.5 .3-2.4 .1-1.1 0 3.7 .3-5 .1-.7 0 6.7 0-12.1 0 9.6 .6-13 .1 5.4 0 4.2 .2 1.7 .4 .5 0-4.7 .2-1.3 .2 3.9 0-4.5 .4-.4 .3-.3 0 5.3 .3 4.3 0-7.9 .6 8.2 .8-9.4 .1 1.8 .2 5 .4-3 0-2.5 .1 3.7 .1-2.7 0-5 .2 9.8 .2-.5 .2-.1 0-4.2 0-5.2 .2 10.7 .1-6.4 .1 7.8 .1-7.9 .1 .7 .1 8.4 0-8.4 .3 .5 0-3 0 8.6 .1-1.5 .1-.3 0-4.1 .2-2.9 .1 8.1 .2 .7 .2 .9 0-6.8 .2 4.1 0 .4 .1-2 .1-3 .2 6.8 0-4.1 0-.6 .1-3.9 .2-1.9 .3 4.9 .1-5.7 .2 14.3 0-8.2 .1 5.9 0-1.8 .1-3.3 .1 2.4 .1-1.3 0 .1 .3-3.5 .1-2.5 .1-.7 .2 4.1 .1 .6 0 4.7 .1-1.4 .4-1.9 .2-5.1 0 2.8 .3 2.4 0-6.9 .4 1.9 0 4.7 .2 1.1 0-8.4 .2 9.2 .2 .4 .8 1.2 0-8.1 .1 5.5 .5-7.9 0 10.9 .3-6.1 .5 6.8 .3-11 1.2 4.8 0 3.3 .7 .2 .2-5.6 .1 7.8 0-5.3 0-2.5 .1 3.5 .5 3 .2 .6 .4 0 .2-5.6 .4-3 0 4.3 0-1.3 .1 2 .1 1.6 .1-4.1 .2 3.2 0-.4 0-5.7 .1 10.8 .3-5.6 .1-2.7 .2 1.9 .2-3.3 .2 7.2 .1-9.3 .1 6.5 .1 .2 .4 4 0-10.9 .1 3.4 .3-1.1 0 2.7 .3-3.4 0 .2 .1 5 .1 4.2 .2 1.3 .6-9.8 .2 4.4 0 .9 .2-3.3 .2-1.3 .1-.7 .2 3 .1-4.9 .1 4.9 .1 1.8 .2 5.8 .6-7.7 .2-3.1 .1 5.1 .2-.9 0-5.7 .4 2.9 .2 3.9 0 .2 0-2.7 0 5.9 .2-1 0-3.2 .1-5.1 .3 4.6 0 1.2 .1 .2 .1-7.4 0 9.3 .1-3.3 .2 .1 .5-1.3 .1 1.7 .5-2.1 .2 .8 .2 6.1 .1-7.3 .4-2.1 .5 .2 0 1.2 0 1 .1-4.9 .1 6.1 .7 2.4 .1-10.5 .2 11.8 .3-5.8" fill="none" stroke="none" marker-start="url(#fP)" marker-mid="url(#fP)" marker-end="url(#fP)"/>
<path d="M596.9 822l.2 4 .1 4 .2 4 .2 4-.6 3 .2-3.1 .1 1.7 .2-1.4 .3 2.1 .3 4.3 .3-1.9 .1 1.6 .1 3.6 0-5.7 .3 6.2 .3 0 0-.5 .2 .8 0-.3 .5 1.6 .3-.5 .2 1.5 .2-2.1 .1 3.4 0-2.6 .2 2.3 0-.3 .1 1.5 .2-2.2 .2 3.6 0-.6 .4-2.9 .4 2 .3 1.9 .2-2.6 .2 3.5 .1-3.5 .3 3 0 2.3 .1-3 0-.5 .1 1.5 .1 1.5 0 .7 0-4.5 .1 3.9 0 1.1 0-2.6 .1-.7 .4 1.4 .2 .9 .2-1.1 0-.6 .4 .6 .1 1.4 0 2.1 .3-.2 .3-4.9 .1 .9 0 3.8 0-1.8 0 1.1 .1 3.3 0-5.8 0 1.4 .3 2.3 .6-5.6 .2 5.1 .1 2.4 .1-4 0 3.5 .2-1.8 .8 3.7 .1-4.9 .1 2.4 0 1.1 .6-.1 .4-4.9 0 6.2 1.1-1.5 .1-3.6 0 6.1 0-1.2 .2-3.9 .5-.5 0 5.8 0-2.9 .4 .1 0 .6 .1 .1 .1-1.4 0-.3 .1 .2 .1 3.4 .2-2.9 .2-3 .4 3.4 0-1.4 .2-.3 0 .6 .2 2.4 .1-.9 .2 1.4 0-.6 0 1.8 .4-6.2 .1 3.6 .1-2 .5 2.4 .5 1.8 .1 0 .1-1.8 .2 .6 .1 .4 .2-1.9 .2 2.4 0-3.4 0 4.3 .5-4.9 .1-1.4 .2 4.2 0-1.1 0-2.1 .1 2.5 .1-2.6 .1 .6 .5 3.2 .1-2.5 .1-2.1 .1 4 .3-1.7 0 1.5 .2 1.9 .1 .6 .1-.6 0 .9 .2-.1 .1-2.2 .3 .2 0 2.6 0-6 .1 1 0 2.9 .9-1.8 .2-1.5 0 3.4 .5-4.1 0 1.8 .1 2.1 .2-.6 .1-4.2 0 6.2 .1-1.3 .1-.4 .2-2.9 .1 .3 .2 2.1 .4-1.1 0 2.4 0-.9 .6 1.5 0-1.3 .3 0 .2 1.2 0-3.7 .1 1.1 .1 3.9 .3-4.8 0-2.3 .1 5.2 0-.6 .6 1.9 0-5.7 .3 3.5 0 .8 0 .6 .1-2.6 .1-3.1 .1 1.6 .3 .9 0 2.6 0-.8 .2-.5 .3 1.3 .7-1.5 0-1.9 0 .8 .3 5 0-6.2 .1 4.3 .2-3.1 .2 .7 .2 3.5 0-2.4 0 .3 .1-1.1 0 .9 .4-3.1 .1 3.6 .2-1 .3 1.4 .2-1 .1-1.7 .3 3.8 0-.2 .5-1.6 0 1.5 .2-1.2 .2 1.7 .5-3.4 0 1 .2-.6 .1-.9 0 4.1 .2-.4 0-1.1 .1-3.6 0 1.2 .7-.1 0-.7 .3 3.4 .1-2.4 .1-1.4 .1 4.6 0-4.6 0 5.5 .2-4.9 .1 3.3 .1 .1 .1-2 .1-3.8 .2 5.6 0-2.5 .5 .6 .1-2.2 .1 1 .1 0 .2 3.8 .2-.2 .4 0 .2-.5 0-1.4 .1 2.7 .3-3.3 0-.4 .1 3 0-3.2 .1 4 0 1.4 .1-3.2 .1-.4 .4-2.3 .2-.1 .3 3.7 .1 1.8 .1-.5 .3-2.4 .1-3.5 .2 5.7 .1-4.9 .3 4 0-4.4 .1-1.7 .1 5.9 .1 1.3 0-1 .1-2.9 .1 1.3 .8-.3 .1-1.2 0 1.9 .1-2.3 0 4 .1 2.3 .2-.8 .1-1.6 .4-4.4 .4 1.5 .1-2.4 .6 2.8 0-.6 0 1.8 .6 2.5 0-5.5 .2 1.2 .1 1.8 .1-.3 .1-1.6 0 1.6 .2-3.8 .3 .4 0 2.3 0-2.8 .6 2.1 .1-.4 0 .1 .1 1.5 0 1.7 .2-1.3 .2-3 .3 3.1 0-3.9 .3 2.2 0 3.8 .3-3.7 0-2 .1 1.2 0 .4 .3-.1 0 1.4 .6 5.5 .1-2 .1-2.8 .2 .8 .1-.3 0-.3 .3-1.6 0 2.7 0-2.9 .1 1.7 .1 2.4 .7-2.4 0-2.1 .2 4.8 0-.5 .3-.9 .2-1.5 .1 .6 .4 .9 .1-4 0-2 .2 1.4 .2 3.7 0 1.3 .2-2.9 .3 5.4 .1-4 0-2.9 .2 .4 .1 3.4 .1 0 .2-.1 .7-.6 .1-2.4 .1 .4 .2-1.3 .4-1.3 .2 6.1 .3-3.1 0 3.1 .8-4.4 0 4.5 .2-6.4 .2 6.3 .1-.9 .6 2.1 0-2.4 0-3.5 0 2.2 .1 3.7 .1-4 .2 2.8 0-.4 .1-1.3 .5-.8 0-1.5 .2 2.3 .4 1.3 0-.8 .1-.7 0 1.1 .1-4.2 .2 4.2 .2-5.4 0 1.8 0 2.4 .1-3.9 .2 6.3 .2-3 .1 .5 .1-2.2 0-.4 .1 3.6 .1-2.7 0 3.4 .1 .8 .1-.2 .1 1 .1-2.6 1.1 2 .5-5.2 .2 3.8 .3-1.2 .2-.9 0 .1 .1-.1 .1 3.1 .5 .9 0-2.7 .1 0 .2 .6 .1 .3 0-.5 .1 .2 0 2 .3-4.8 .2 1.7 .3-1.1 0-1.3 .5 1.9 0-.1 .1-1.6 0 .5 .1 4.6 .4-2.9 .1 3.5 .2-4.3 0 4.1 .3-2.3 .1-2.8 .4-.5 .1 4.2 .2-1.7 .1 1.8 .1-3.4 .1 2.2 .3 3.8 .3-1.9 0-2 .1 1.2 0-1 .1 1.4 .1 2.1 .9-3.6 .1 1.9 .7-4.7 .1 4.1 .8-5.6 .2 2 .1-.8 .2 5.9 0-3.3 .2 .6 .2-.9 .1 2.3 .2 .5 .1-2 .4-2.9 .3 .8 0 3.6 .1-1.3 .2-4.2 .2 6.8 0-4.7 .1-1.5 .1 2.8 .8-3 .4 6.8 .3-2 .1-2.8 .2 3.5 .2 .3 .2-4.4 .2 4.7 .1-5.3 0 1.1 .3 1.6 .1-1.7 .1 2.5 .1-2.5 .1 4.9 0-3.3 .4 2.2 .1 0 0 0 .4-4.4 .1 1.5 .1 3 .1-2.8 .3 2.4 .1-1.6 .1-1.8 .1 2 .2 .1 0 2.8 0-.9 .4-6.1 .1 1.3 .3 3.5 .2-.6 0 2.8 .1-.6 .4-.5 .1-1.2 .3 1.9 .1-5.3 .3 4.6 0-3.7 0 5.6 .1-5.9 .1 1.6 .1-.1 0 3.6 .2-3.4 .1-1.3 .4 0 0 1.6 .6-.2 0 .2 .3-1.4 .2-1.1 1.2-2.2 .3 4.4 .1-.7 0 2.6 .2-1.1 0-3.9 .1 6.2 .2-2.7 0-.6 .4-.6 0 2.8 .1 .4 0 1.2 .3-.8 .1-4.6 .6 .2 0-1.4 .3 1.7 .1 2.3 .2 2.8 .1-.1 .2-2.2 .1-2.2 0 0 0 0 .1-2.2 .1 1.2 .1 1.7 .2-1.9 0 4.4 .2-2.4 .2-2.3 .1 1 .1-.3 .6 .2 .1 4 .3-4.7 .4 0 .1 3.6 .1-4.2 .1 5 0-3.4 .1-2.3 .1 2.5 .1 2.3 0 1.1 .4-1.3 .3 1.3 0-4.4 .1 3.6 .1-2 0-1.8 .1 .1 .1 3.6 .4 2.3 .3-2.2 .2-2.8 .3 2 .2-2.1 0 1.5 .2 2.4 .1-.5 .2-5.7 0 .8 .3 2.3 .6 2.6 .3-.6 .3-2.2 .1-1.6 .2 1.9 0 3.9 0-4.7 .5 2.6 .6-.4 .1-3.4 .1 1.2 .2 4 .1-3.6 .3-.4 .1 .2 0 .1 .1-.5 .1 .3 .2 1.6 0-2.5 .1 2.8 .2-.2 .1 3.5 0-3.2 .2-.2 .2-2.2 .3 5.8 0-7.2 .2 2.6 .3 1 .2 2 0-5 .5 1.2 .2 3.4 0-1.8 .1 .3 .2 .6 .1-1 .1-4 0 2.7 .2-1.3 .1 4.8 .5 1.2 0-.8 .3-2.1 .1 .1 0-.4 0 2.3 .4-2.7 .3-3.9 .1 7.1 .1-.7 .4-4.4 .2 4.4 .3-5.2 .1 .2 .1 4.8 .2-3.7 .1-2.5 0 1.1 0 4 .4-.9 .1-1.9 .2 1.9 .2-1 0 2.1 .3-3.3 .2 1.7 .2 2.9 0-5.8 .1-2.2 .4 4.5 0-3.4 .1 5.7 .1-1.7 0-.6 .3 .4 .4 2.2 0-3.2 .1-1.3 .2 5.4 .1-4 0 2.5 0-.9 .2-1.3 .1 2.9 .2 1 0-4.5 .1 .3 .1 1.5 .4 2.6 .1-2.5 .1 1.5 0-3.9 .2 4.5 0-2.2 0-.3 .1 .4 .3-.1 .1-1.3 0 1.9 .6 2.6 0-3.4 .1-1.7 .5 2 .1-.1 0 1.9 .1-1.9 .6 4.8 .5-5.1 .1 1.4 .1 .7 .1-2.8 0 .2 .5 .9 0 .7 .1 1.3 0-3.6 .2-.4 .2 1.6 .2-1.2 0 .1 .1 .4 .4 5.2 .6-3.9 0 .3 0 2 .3-3.2 .1-2.1 .1 .5 .1 5.2 0 0 .1-.9 0-3.6 .1 3 .1-2.6 .1 1.5 .2-3.4 .2-.8 0 3 .3-2.2 .3 5.9 .5-3.5 .2 3.3 0-1.1 0-.1 0-1.5 .2 1.5 .1-2.5 .2-3.2 .1 4.7 .2-4.8 .1 4.5 0-1.5 .2 3 .2 .7 .2-5.2 .3 4.4 .4 1.1 0-1.3 .1-3.1 .1 4.6 .4-1.7 .1-4.2 .2 4.3 .1-5.1 .1 2.8 .3-3 .2 3.4 .2-.9 .2 4.1 .3-4.9 0 .7 .6 3.5 0-.6 .3-.8 .1 .6 0 2.1 .1-.1 .8-2.8 .1-1.4 0 3.2 .1-2 0 3.8 .1-5.6 0 3.9 0 1.9 0-6.4 .2 2.7 .3 1.1 .1-.6 0-1.5 .2 2.9 0-1.8 0-.5 .1 4 0-4.6 .2-.9 .3 3.1 .4 2.3 .1-.9 .1-4.6 0 1.5 .1 1.7 .1-4.8 .1 3.2 .1 1.6 .1-.3 .3 .5 .1-4.1 .1-1.9 .1 .3 .3 1.9 .2 2.8 .7-2.1 0 .1 .1 3.3 .6-.5 .1 1.3 .5-2.2 .1-1 .2 1.9 .1-3.2 0 2.9 .1-2 .2 0 .2 1.5 .1-4.8 .2 6.1 .1-6.7 0 7 .2-3 .3 2.4 .1-3.8 .2-.9 .1 4.1 0-1.4 .4-2.2 .1 2.7 .1 3.8 .1-3.3 .3 1.6 .2-4.4 .1 3.3 0 2.2 .4-2.7 .3-3.9 .3 3.2 0-1.2 .1 1.7 .2-4.1 .4 6 0-5.3 .1 4.8 .1 1 .5-4.4 .1 4.9 .3-5.9 0 3.3 .2 .9 .1-4.6 0 2.1 0 3.2 .4-1.4 0-2.7 0 1.8 .1 2 .3-6.8 .2 4.6 .1-.4 .1-3.2 .1 3.5 .3 1.7 .2-6.6 .4 5.7 0 1.1 .1-1.8 .1 2.6 .2-.8 0-.2 .3-2.1 .1-.7 .3 .9 .1 3.1 0-4.3 .1 5 .3-7.2 .1 2.6 .2 3.4 .1-1.8 .1 .1 .2-3.1 .2 4.7 .6-2.3 .4 1.1 0-1.5 .2 .5 0 2.5 .1-3.9 .3-.6 .2 6 .4-9 0 3.2 0 1 .2 .1 .3-2 0 2.3 0 3.8 .3-1.7 .1-.1 .1-.6 .8-1.6 0-1.3 0 4.7 .5-1.7 0 1.8 .1-6.3 0 5.6 .1-5.4 .1 2.3 0-3.2 .1 4.5 .1-.3 .2 2.5 0 .8 .4-.8 .5-6.6 0 5.1 .1 1.2 .2-4.2 .1 4 .2-5.7 .3-.5 .1 .8 .1 2.4 0-1.5 .3 2.5 .2-2.3 .6 3.7 .1-1.7 0 1.9 .1-1.2 .3-3.8 .4 3.3 .1-2.1 .2 6.4 .1-4.6 0 .1 0 1.2 .1-3.5 .1 3.8 .1-1 .5 2 .1-2.1 .1-.2 .3-1.5 0 .9 .1-1.7 0 2.5 .1-1.4 .1 .8 .4 4.8 0-7.4 0-.8 .1-.1 .7 4.7 0 .9 .2-3.5 0 1 .5 .9 .3-3.2 .4 5.8 .1-3.3 .2 2.2 .1-3.8 .1-1.5 0 1.8 .1 6.8 .2-8.1 .2 .8 .2 4.1 .2-1.9 .1-2.1 .1 .6 .3 1.7 .1 1 .1 2.7 .1-4.3 .3 1.7 0-.3 .2 1.1 0-5.5 .3 1.4 .5 5.7 .3-6.3 .2 2.1 .1 1.6 .1-1.4 .1-.5 .3 3.2 0-3.8 .1 2.1 .3-.8 .2-3.5 .1 8 .1-2.1 .3-2.8 .4 .5 0-3.3 .1 4.7 .5 .8 .1 .1 .2-4.6 0 6 .3-9.2 .3 1.4 .3 4.5 .1 3.1 .3-2.7 .1-4.7 0 5.3 .1-5.4 0 3.3 0 3.3 .1-6.1 0 4.3 .2 1.6 .1 1.2 .2-.2 .1-.8 .1 .8 0-5.5 0 1.4 .1 .4 .1-.2 .1 2.7 .2-2.8 0 5.3 .1-5.5 .1 2.7 .1-1.4 .1 1.1 .1-1.9 .1-1.6 .1 .1 .1 3 0-5.6 .2 6.8 .1-1.3 0 .6 .1-1.7 0 3.2 0-3.5 .4 0 .1 2.3 0-3.5 0-1.6 .1 1.1 .2 .8 .1-2.7 .1 2.5 .5 1.9 .1-1.7 .1 4.4 .1 .1 .1 .9 0-3.9 .4 1.7 .1-2.4 .8-.7 .4 4.1 .2-.8 .3-1.9 .1 3.2 0-2.1 .4-.3 0-3.2 .2 1.1 0 .9 .3-1.1 0-.9 0 2.9 .5 2.1 0-4.4 .2 2.9 .9-2.7 0 1.1 .1 2.5 .1-6.8 .2 4.7 .4 .4 0 1.4 0-.7 0 0 .3 0 .1 2 .3-3.6 .3 .4 0-2.3 .3 2.2 0-3.5 .1 1.7 .4-.5 .5 3.3 .1-2.7 .1 3.6 .1 3 .1-4.7 0-3.7 .1 2.3 .2 0 .3 1 .3 1.2 .4-1.5 .1-.3 .1-.2 0 1.8 .1-4.1 .1 4.7 .2-1.4 .3 .2 .1-3.1 .2 3.4 .5 1 .4-6.6 .1 8.3 .1-.6 .1-3.3 0-.5 0 2.3 .2-2.4 0 3 .1-3.4 .1-.6 .1 .6 .3-2.2 0 7.1 0-1.2 .4-2.8 .1-.6 .1 .5 0-2 0 4.6 .2 1.4 .2-2.5 .2-1.1 .1 .4 .3-1.5 .1 4.2 .2-4.8 .2-.5 0 .2 0 2.3 .2 5.5 0-7.1 0 1.4 .4 2.8 .3-3.3 0 0 .4-3.1 .1 1.6 .1-.1 .2 5.1 .1-2.5 0 2.8 .3-1.7 0 2.1 .3-3.4 0-.9 .3-1.3 .1 5.1 .1-6 .2 6.3 .4-2.3 .2-3.9 0 4.9 .2-1.2 0 .6 0 .4 .2 1.2 .1-3.8 .2 3.1 0-5.1 .6 0 0 2 .1 1.6 .2 1.8 .2-3.1 0 .9 .3-1.5 .3 3.7 .2-5.8 .1 5.4 .1-.1 .2-.7 0-.5 .1 1.8 0-.8 .3-1.7 .2 3.3 .2-6 0 2.2 .1 2 0-5.7 .1 7.7 .1-1.8 .1-1.1 .5 1.4 .3-2.9 0-1.1 .2 4.1 .4-.5 .2-5 .1 2.3 .3 1.5 0-2 .3 .4 .6-.1 .2 5.1 .8-5 .2-.4 .1-1.8 .1 .7 .2 4 0 2.4 .2-6.1 .2 1.7 .2 3 0-5.1 .8 4.3 0 .5 .3-3.6 .4-.4 .1 .4 .1 .6 0 2 .3-2.1 .2 .4 0-4.1 .1 6.1 0 2.8 .1-6 0 3.1 .4-.3 0-2.3 .2 1 .1-1.5 .1-1.2 .1 5.1 .2-.8 .1-5.4 .1 4.5 .2-2.3 0 4.1 0-2.9 .1 4.4 .3-.4 .1-5.9 0 .2 .1 4 .1-3.5 .8 3.1 .1 2.1 0-3.8 .1 1.2 .1-.5 .1-1.3 .2-1.9 .6 4.1 .2-.2 0 1.4 .1-2.4 .2-2.5 0 1.5 .3 .7 0 2.9 0-2.1 .1-.2 .5-2 0 3.7 .1-.9 .4 1.5 .1-3.3 .1 2.2 .2-2.1 .3 1.2 .1-2.3 .3-.7 .3 1.9 0 2 .2-4.1 .3 3.3 .4-2.1 .3-1.2 .2 5.9 .1-4.7 0-1.2 .1 4 0-3.8 .2 5.4 .1-.8 .2-1.5 .2 4.3 .1-4.7 0 2.2 .6-1.8 0-3.5 .1 1.8 0 0 0 4.9 .1-2.4 0 3.1 .2-3.9 .1 .7 .5-1.3 .1 3.5 0-3.9 .1 1.7 .2-4.1 0 .9 .7-1.2 .1 1.1 .2 3 .1-.4 .1 2.5 .1-2.4 .2 .1 .2-3.9 .1 4.4 .3 .3 .2-2.7 .2 .2 .3 0 .1-.9 .3 5 .3-1.9 0 1.8 .3-7.4 .1 6 .2 1.6 .1-.9 0-5 .2-.2 .2 .3 0 2 .3 4 .1-5.9 .2 3.6 0-.2 .3 .7 .1-.2 0-4.6 .2 .7 .2 2 .3 1.2 .2 1.8 .3-4.2 .5 1.2 .1-2.7 .3 3.3 0 0 0-3 0 6.7 0-6.4 .1 2.5 .2-2.2 .6 4 .6-1.7 .3 1.8 .2 .1 0-3 .1 1 0 2.2 .1-.9 0-2.5 .5 .4 0-3.2 .2 5.6 .2-1.9 .1 1.9 0 0 .2-3.3 .7 3.9 0-3.9 .7 3.7 .1 .8 .1-2.7 .3-.2 .5 2.1 .1 .8 .1-1 .1-2.1 0-3.4 .2 7.7 0-2.5 .1-6.4 .1 5.6 0 .4 .1 .2 0 .3 0-.1 .1 .7 .1 .1 .2 .1 .5-.5 .1-2.2 .1 .2 .1 3.8 .3-5.2 .1-1.1 .1 1.6 .2 2.7 0 0 .1 .3 .5-1.3 .1-2.3 0-.2 0 3.9 .3-2.3 .2 3.6 .1-.9 0-.4 .1-3.3 0 3.2 .2 2.1 .2-1 .3-1.3 .1 .2 0-4.4 .2-1.5 .2 4.3 0-2.7 .1 3.2 .1 .9 .1 .8 .3-4.9 0-1.2 .2 4.9 0-2.6 .1-.3 .1 1.6 0 3.6 .4-2.5 .4-2.7 .1 3.5 .1-1 .1 3 .5-4.8 .1 3.4 .1 .9 .2 .9 .1-2.2 .1-1.2 .1-1 .2 1.7 .1 2.5 .2-5 .1 1.1 .2 1.2 .1-2.9 .2 .1 0-.7 .2 4.4 0-2.7 .3 5.2 .4-2.9 .1-6 .2 6.6 .1-3.5 .4 .8 0 .9 .2-1.1 .2-2.6 .2 5.5 1.1-3.3 0 1.1 .1-4.5 .5 8.2 .4-.6 0-2.7 .2-1.9 .2 4.9 .1-4.1 0-.7 .1 1.6 .2-3 .4 .6 .3 4.7 0-3.3 0-3.6 0 4.6 .1-1.7 .9 1.3 0-1.7 .4-.6 .3 3.2 .1 2.4 .4-3.9 .3 2.1 .3-2.6 .1 5.2 .1-5.7 0 3.5 .1 2.6 0-3.7 0-3.7 0 .6 .1 6 .1-.1 .1-1.6 .1-1.1 .1 .5 .2-1.9 .4 5.7 .1-4.7 .3-.4 .1 2.3 .2 1.8 0-2.3 .1-1.5 0 .8 .5 2.4 0-5.3 0 .6 0-.4 .1 4.2 .2-2.3 0 1 .1 1.2 0-1.5 .1-3.1 .1 2.1 .2 2.8 0 0 .1 1.1 .4-1.4 0-5.7 .3 1.7 0-.3 .5 2.4 .8 4.2 0-1.1 .4-4.5 .2-.6 .5 3.3 .3 0 .3-4.7 0 2.8 .4-.8 .1-.1 0 .5 .3 2.5 .4 1 0-.3 .1-4.6 .1 4.4 0-.8 0-1.8 .1-1 .1 3.6 .1-3.7 .2 1.7 .4 2.2 0-5 0 .5 .4-1.6 0 5.9 0-2.7 .2-.2 .3-.8 .8 .2 .8 3.6 0-4.9 .1 2 .1 1 .3 .1 .4-.3 .1-.8 .3 1.9 .1-3.7 .1 4.1 .1-4.9 0 2.1 .3 2.7 0 .7 .1-2.8 .1-.9 .1 1.6 .1 0 .2 1.8 .1-1.5 .2-3.2 .2 1.3 .1 .6 .3-3.7 .2 4 .1-3.1 .1 2.3 0 1.1 0-3.6 .1 6 .1-2.4 .1-1.6 .6 .6 0 1 .2 1 0-.7 .2-5.3 .2 4.3 0-2.5 .2 1.9 0 2.4 .1 2.7 .5-1.2 .1-4.3 .4 4.2 0-2.9 .3 2.1 0-.4 .1-.4 .2 .4 .3-1.3 .1 .2 .1 1.9 .6-3.8 .2 4.2 .2-2.5 .1 .8 0-2.9 .1 2.2 0 .2 .1-1.4 0 3 0 1.3 0-2.4 .2 2 0-4.5 0 2.3 .1 1.8 .1-2.8 0-1.3 .6-.3 .1 6.5 0-7.9 .3 3.6 .3 .7 .2 .6 0-2 0-.9 .1 5.1 0-7.1 .2 4.3 0 .8 .2 2.6 0-7.6 .1 3.5 .1 3.6 .3-5.4 .1-.6 .2 .4 .1 4.8 0-6.4 .1 4.1 .4-2.7 .1-.6 .7 1.2 .2-.8 .1 3.2 0-2.7 .2 2 .1-1.9 .2-1.3 .1 2.2 0 5 .2-.7 0-2.4 .1 .3 .4-4 .2-2.8 .3 5.6 0 1.3 .3-4.6 .3 3.2 .4 2.1 .1-.1 .4-5.1 .1 3.8 .1-4.3 0 3.5 0-.6 .5-.2 .1 2.1 .3-2.6 .1 3.4 .2-5 .1 1.7 .5 2.4 .1-3.1 .1-.5 .2 2 .2 .9 .2 .3 .1-1.4 .5-.4 .3 .1 .3 1 .6 2.2 .2 1 .1-.1 0-5.9 0 2.4 .2 2.3 0 1.5 .2-.2 .3-1 .2-5 .3 5.7 .1-5.8 .2 2.6 .1 1.5 .1 .1 .2 .2 .4 .3 .2-4.2 .1 4.4 .2-2.1 .7-1 0 .5 .1 2.6 .1-1.6 .1-2 .2 .6 .3-.8 .3 4.8 .1-6.6 .6 .8 .1 1.1 .3 4.1 .1-5.5 0 6.2 .4-2.3 .2 1.4 0-2.8 0 3.3 .3-1 .2 .2 .1-1.3 .1 .1 .6-1.1 .2-2 .1 1.1 0 .4 .3 .4 .4 2.3 .4-.4 .2-3.7 .2-.9 .7 2.7 .1-.9 .3 1.4 .2-.4 0-3.3 .1 1.7 .1-1.9 .5 7.3 0-4.3 .1 .3 .1-1.2 .3-.4 .5-.8 .1 3.4 .2 .9 0 1.9 .1-6.1 .1 1.7 0 3.5 .1-3.5 0-1.5 0 1.9 .1 1.2 0-3.6 .1 5.3 .1-2.1 .1 .8 .1-.2 .1 3.3 .2-3.2 0-.3 .2 3.1 .1-6.2 .9-.3 .2 5.6 .2-1 0 .4 0-.6 0-1.6 .2 4.2 .3-5.1 .1-3.2 0 1.8 .2 1.8 .1 1.8 .1 2.9 .3-6.9 .3 2.8 .4 2.5 .4-1.6 0 1.9 .2-.4 .1-3.9 0 5.1 .1-3.5 .1 4.2 .2-5.6 0-4.1 .1 2.6 .2 7 .1-.8 .1-1.4 0-2.5 .1-1.3 0 1.5 .1 .7 .2-4.2 .1 3.5 .1-.3 .4-1.6 .1 4.6 .1 .6 .1-1.8 0-4.4 .4 3.1 0-.3 0-4.6 .1 3.8 .1 1.9 .1-2.4 0 3.1 .1-4.9 0 3.4 0 1.8 .2-.8 .1-2.6 .1 1.2 .1-.7 0-.2 .4 4.2 .1-3.4 .2-4.7 0 3.4 .3 3.1 0-1 .2-2.4 .1 4.5 .1-.9 .2-5.7 .1 6.2 0-1.4 .1 0 .2 .7 .3 3.1 .1-3.2 0-1.8 .1 3.8 .6-7.3 0 3.8 .1-1.7 0 .9 .2 2.1 .5-3.3 .1 4.4 .3 1.1 .2-2.9 .1-2.7 .1 3 .1 1 .3-1.7 .3-3.3 0 6.9 .3-3.8 .1 3 .2-2.9 .3-.3 0 1.4 0 2.7 .4-4.1 .2 .5 .3 .3 .1 1.9 .3 .9 .4-3 .1-.4 0 1 .5 .4 .2-2.1 .6-1.9 .5 2.1 0 1.1 .1 2.6 0-2.7 .3-1.3 .1 1.9 .7-1.5 .5 1.3 .1 .5 .1 1.2 .2-6.1 .2 1.4 .1 1.9 .3 4.8 .1-3.6 .2-2.4 .4 3.7 0-2 0 .8 .1 2.1 .2-4.9 0-.7 .3 2.2 .2 4.5 .1-1.7 .2 1.7 .2-2.8 0-.5 .2-.1 0 2.2 .2-7.5 0 2 0 .7 .1 5.4 .4-5.7 0 .2 .7 2.8 .1-.6 .9-.4 0 3.3 0-4.6 .3 1.7 0-1 .2 1 0 .6 0 .8 .2-1.6 .2-.4 .1 3.3 0-3.5 .1-1.1 .7 1 .1-1.9 .3-.3 .1 2.9 .1 2 0 .9 .1-3.2 0 2.4 .1-3.1 0-.5 .1 4.2 .5-2.7 0-1.6 .3 1.9 0-.6 .3 0 .2 .1 .1-.5 .1 5.5 .1-8.3 .2 8.3 .1-4.7 .1 1.7 .1-1.9 0-3.2 .3 2.5 .5-1.6 0 3.6 .1-6.2 0 7.4 .2-1.1 0-.1 0 2.4 0-2 .1-3 .1-1.4 .4 2.5 .2-.5 .2 3 .1-2.4 0 1.9 .1 1 0-4.5 .5 .7 .3-1.1 .2 1.4 .1 2.8 .6-3.9 .1-1.1 .1 3.9 .3 .5 .1-.2 .2-.2 .3-2.3 .1-1 0 5.5 .4-4 0 3.7 0-2.5 .1-3.1 .1 5 0-1.3 .5-2.1 .1-1.3 .1 4.6 0-3.9 .1 1.6 0 1.1 .1-.2 .2 2.7 0-3.8 0-.8 .1-2.3 0 7.3 0-1.3 .2 1 0-4 .3 .6 .9 2.7 .1-3.6 0 5 .1-1.7 .1-5.4 .2 4.2 .1-3.7 .3 3.1 0-.5 .4 5.1 0-3 .1-.4 .1 .9 .1 .2 .2-1.3 .1 .9 .2-4.9 0 1.4 .1 4.9 .2-3.8 .1-1 .4-1.8 0 3.6 .1-2.9 0-.8 0 0 .4 2 .1-.7 .2 3.6 .4 .8 .1-1.9 .2-1.4 .3 3.9 .4-2.8 0-2.7 .1 2.7 0 3.9 .4-4.3 0-1.3 .1 3.8 0-2.2 0-4.7 .3 6.1 0 .2 .2 2.2 .1-2.3 .1-.6 .4-.3 0-1.9 .2 .4 0 1.6 0-.1 .4 0 0 1.6 .2-1.9 .5-4.9 .1 .1 .2 5.9 0-.9 .1 1.2 .2-2.8 0 1.8 .4-2 .2 .1 0-1.4 1.1 4.5 .1-3.5 0 .4 .1 3.1 .1-5.5 .1 .4 .2 2.5 0 1.2 .1-2 .2-.3 0 2.6 .7 1.1 .1-.2 .4-5.5 .3 5.1 .4-2.9 0 0 .1-1.4 .1 2.6 .1 2.2 .3-2.8 0-3.3 .1 4.6 0 1.3 .1-1.8 .5-.9 .2 2.7 0-1.3 .5 3 0-2.8 .1-1.9 .2 .7 .1-2.2 .3 3.5 0 1 .1-3.6 .1 .8 .4-1.4 .2 .8 .1-.4 .2 4.3 0-4 .2 2.4 .2-1 .1 1.5 .1-1.8 .2 .4 .4-1.2 0 0 .3 .8 .3-.7 .1-1.3 .4-1.4 .1 2.4 .2 2.3 .2-3 .2 4 .4 .7 0-3.3 .2-2.6 .1 1.4 .2 0 0 3.3 0-3.2 .1 3.1 .3-4.8 .2 2.4 .1 2.3 .2-2.5 .2-2.1 .4 .8 0 .7 .1 .3 .1 1.3 0 3.9 0-4.7 .1-.3 .1-2.5 .3 6.5 .2-3.8 0 1.7 .1-3.1 .1 4.8 .3-3.9 .4 3.2 .1-3.6 0-2.4 .3 5.3 0-.3 .4 .1 0 1.1 0-1.4 0-1.4 .1-.8 .2 3 .2-1.9 .1-2.2 0 5.5 0-1 .1-6.3 .4 7 .2-.2 .1 1.7 .4-.6 .1-3.5 .2 1.6 0-1.6 .1 1.2 0-1 .1-.7 0 5 0 0 0-2.4 .3-4.2 .1 .5 .3-.9 0 1.2 .4 3 .2-1.8 .1-2.1 .1 4.6 .3-2.5 .1-2.9 .3 .7 .1 3.8 .1-1.6 .1 1.5 .2-2.5 .6 4.8 .8-5.2 .3 3.9 .1 .4 .1-6.5 .2 .5 .1 5 .4 1.9 .2-3.9 .3 3.1" fill="none" stroke="none" marker-start="url(#fR)" marker-mid="url(#fR)" marker-end="url(#fR)"/>
<path d="M596.9 800l.2 3.8 .1 3.7 .2 3.7 .2 3.8-.5 2.8 .5-1.5 .2 2.3 0 1.2 0-3.3 .1 1.4 .6 5.4 .1 .8 .2 2.2 .1-1 .1-2 .2 1.7 .1-.4 .1-.5 0 1 .2 1.4 0-2.8 .3 3.9 0 2.6 .1-5.8 .1 3.9 0 6.7 .1-4.1 .3-2.5 .3 3.3 .1-3.6 0 5.5 .1 .6 .2 1.7 .4-.3 .1 .3 .5-3.6 .2-.1 .4 3.7 .1 1.1 .1 0 .2 1.2 .2-5.9 .2 11.3 .1-7.1 .4 5.7 0-.5 .1-7.1 .2 3 0-1 .4 4.5 .2-.7 0-1.5 .1 2.2 .2 1.9 .3-6.3 .1 5.7 .1 .9 0 3.3 .3-6.1 .3 1.7 .3 2.6 .2 1.3 .4-5.1 .6-1 0 6 0-6.2 .1 .8 0 4.3 .1-3 .3 1.1 .1 2.9 .1-1.2 .1 .8 0 1.2 .1-.4 .2-.8 .2-1.8 0 2.6 .2-2.6 0-5.3 .6 2.3 .4 5.6 0-.2 0-3.3 .1 2 .2 .1 .1-.6 0 .8 .2-6 .1 1.8 .2 5.7 .1 .1 .3-6.2 .2 7 .4-2.9 .2 0 0-2.2 0-.9 0 5.2 .2-3.1 0 4.5 0-6.4 0 3.8 .1-3.2 0 2.7 .3 .7 0 1.3 .1 1.7 .2-3.2 .2 0 0-.9 .1 1.5 0-5.7 .1 3.3 .1 5.5 .4 .1 .4-5.7 .3-1.1 .5 5.2 0-.8 0-3.3 .4 2.3 .2 1.6 0 .2 .2-3.6 .4 3.3 .3 2.1 .3 5 .1-1.4 .2-1.9 .2-.8 .1-9 0 11.3 0-5.1 .1 3.4 .1-7.3 .1 .4 .1 3.3 0-1.8 0 4.7 .1-3.1 .6 1.3 .2-2.9 .3 1 .1-.7 .1-2.6 0 10.4 .1-5.9 .3 6.2 .1-10.4 .1 .8 .1 2.8 .1-3.6 0 3.7 0-3.5 .1 6 .2 2.6 0-4.8 .2 .7 .3-1.8 .2 1.4 0-3.8 .2 6.7 .1-6.9 .1 5.5 .3 3.9 .1-4 .4-3.8 .4 .3 .1 5.4 .1 .1 .2-4.3 .4-1.2 .1 2.3 .1-5 0 8.6 .3 .7 .1-2 .1 1 .1 .8 .6-5.5 .2 7.2 0-10.5 .5 7.5 .2 .9 .3-4.4 .1 .8 .3-1.4 .2 1.7 .3 .8 .4 .5 .2-3.5 .1-.5 .7 2.8 .1 4 .1 .3 0-4.2 .1 4.7 .3-6.9 .3-2.6 .6 8.8 .2-.7 .2-5.5 .2 5.4 0-1.9 .1 .5 .3-.1 .2-3.6 .5 6.1 .1-7.5 .1-.5 .2-2.4 .4 5.8 .3-.7 .1 3.5 .2-3.7 .1 .7 .6 3.7 .2-5.4 .2 1 .1 3.4 .2 3.5 0-3.6 .1-.1 .8 .6 0-4.5 0 6.6 .1-8 0 2.7 .2 6 .2-6.6 0-4.5 .1 12.5 .3-5.1 .3-5.7 0 2.2 .6 3.2 0-1.6 .3 4.3 0-3 .1-2.6 .1 2.2 .2 5.5 .3-9.3 .1 6.8 .2 1.7 .2-4.7 .2-.1 .1 .5 0-.8 0 1.1 .7-.2 0-1.3 .1 3 .3-2.8 0-.3 .3 2.2 .1-6.3 0 8.2 .1-3.1 0-2.7 .1 8.3 .2-5.3 0-.9 .4-2.6 .3 3 .2-1.5 .1 2.6 .1 1.2 .1 .6 .6 .2 .1-2.9 0 .3 .1 3.5 .1-.9 .2-2.9 .2-2.8 0 8 0-8.6 .1 6.6 .2 .3 .3-1.3 0-2.6 .2 10.8 .1-7.2 0 2.5 0-8.6 .2 8.7 .1-6.2 .1 .3 .1 4.9 .1-6.7 .1 2.6 .1-.1 0 .9 .3 .3 .1 .8 .3-1.3 .1 5.2 .1-8.7 .1 5.9 0-6.2 .1 2.1 .3-.8 .1-.3 .1-.4 .2 8.9 .2-10.4 .1-1.7 .3 2.4 .2 3.3 .1-1.7 .1 3.2 .1 3.1 .1-6.4 0-2.1 .3 4.4 .1-1.1 .3-1.7 .1 4 .5-4.5 0 4.1 .2-1.7 0 5.8 0-3.7 .1-6.5 .1 8.8 .5-2.7 .1 4.1 .1-7 .1-5.8 .4 12.1 0-1.4 .1 1.6 .2-5.7 .1 1.8 0-.2 .2-2.7 .2 4.3 .1 1.2 0-3.6 .1 1.1 .4 2.7 0-7.6 0 4.7 .4-4.2 .1 7.8 .1-6.3 0 2.3 .1-4.4 0 3.8 .2 1.9 0-3 .2-3.5 0 5 0 3.8 .1-2.7 0 2.2 .2-5.3 .3 4.6 .2-8.2 .1 .2 0 3.1 .1 4.7 0-5 0 3.2 .1-3.1 .3-1.8 0 7.5 .2-2.6 .1-2.4 0 3.5 .7-.3 .6-4.4 .1-1.5 .1-1.6 .1 11.1 .3-1.1 0-3.9 0-2.2 0-.6 .4 7.5 .2-8.1 .1 5.5 0-6 .1-.4 .3 .3 .3 2.5 .1-2.5 .3 6.4 .1-4 0 2.7 .1-5.5 .2 1.1 0 8.7 .2-9.5 0 4.3 .4-3.8 .2 2.7 .2-1 0 6 .1-2.6 .1-3.9 .2-2.9 .4 9.1 .1-5 .1-.1 .1-2.5 .1 10.1 0-11.7 .1 10 0-7.5 .1 2.6 .6-1.2 .3 1.4 .2-1.6 0-3.6 .1 3 0 4.1 .3-2.3 0 6 .3-3 0 .1 .3-8 .6-2.7 .4 5.9 .1 2.5 0 3.6 0-.7 0-4.9 .2 2.1 0 1.8 .2 1.8 0 .4 .2 .5 .1 .2 .2-.6 0-8.4 .3-.4 .1 .1 .1 5.5 .5-1.5 .3-2 .4 6 .2-2.5 .1-2.3 .2-.5 .1-2.4 .5 9.6 0-4.3 .1 2.6 0-6.5 0 2.1 .1 .9 .2-.4 .2-4.1 .1 6.4 .1-.5 .2 1.3 .1-2.9 0 .6 .1 1.1 .2-3.2 .3 7 .4-2.4 .7 1.4 .1-9 .5 5.9 .1 1.1 0-1.9 .1-3.7 .3 3.5 .2 3.2 0-5.3 .3-1.9 .3-1.8 0 3.3 .2 2.4 0 5.7 .2-7.7 .2-1.3 .1 6.7 0-7.1 0 5.8 .1-4.6 .1 6.3 .1-4.4 .1-1.7 0 2.2 .1-.7 .3-.2 .1-2.4 .2 1.2 .9 5.2 .1-1.8 .2 2.4 0-6.6 .2 1.7 .1 1.4 .3 1.8 .2-5 .1 4.3 .6 2.9 .2-4.8 .1-5 .1 5.9 .1-3.7 .8 3.2 0-1.6 .1 4 0-.9 .1-7.3 .1 9.6 .1 .1 .1-1.1 .3-.7 .1-2 .1 6 0-3.4 0 .4 .2-3.4 .5 .2 0 .1 .1-2.4 0 2.4 .2 2.8 .1 .3 .6-7 .1 .7 .2 4.4 .5-1.3 .3-2.6 .4 3.3 .5 1.4 .2 4 .2-11.7 0 9.8 .1-4.6 .2 4.4 0-2.5 0-1.5 0 .4 .1-3.2 .2 6 .3 3.3 .5-5.3 .3 3.1 0-1.6 .1-8 .1 7.6 0 3.8 .1-10.5 .1 4 .1 3.7 .3-6.7 .3 3.3 0-6.3 .1 7 0 1.8 .5-4.9 .2-1.3 .2 6 .1 3.4 .1-2 .3-3.6 .1 .9 0 2.1 .1 .8 .2-9.9 .3 10.1 .1-1.9 .1-.5 .8 1.4 0 1 .2-3.5 .4-4.3 .1 1.7 .1 2.6 0-3.5 .2 .2 0 .1 .1 .3 .1-.7 .2 2.3 .2 7.5 0-7.4 0-.4 .4-2.9 .1-.4 .1 .1 .4 3.2 0 .2 0 2.5 .1-4.3 .2 6.3 .4-4.4 .1 1.8 .1-2.5 .1 8.7 .2-8.8 .4 3.6 0 1.8 .5 1.4 .2-.8 0-2.6 0 .1 0-1.8 .2-2.1 0 6.7 0-2 .1-5.3 .1 3.6 .2 6 0-7.6 .1 1.8 .2-.2 .1-3.1 0-1.6 0 2.9 .1-4 .2 7.2 0-.7 .1-3.8 .1 5 .1 1.7 .2-2.6 .1 .5 .1-1.1 0 1.4 .4-4.2 .2 .7 .3-1 0 4.1 0-4.4 .1-1.7 0 7.3 .1-3.3 .1 1.9 .3-5.6 .2 6.4 0-6.5 0 4.3 .1-5 .3 8.9 .1-1 .2-7.8 .4 1.2 .1 6.8 0-5.4 0-2.5 .1 10.3 .1-2 0-8.8 .2 9.7 0-4.2 0-.9 0-3.5 .1 10.2 .1-8 .1 1.9 .2-4.1 .1 3.6 .3 4.7 .7-2.5 0-6.2 0 5.3 0-4.2 0 2.9 0 2.4 .7-6.3 .1 7.8 0-1.7 .1-5.5 .2 .4 0 1 .2 4.2 .9-4.2 .1 .7 .3 8.4 0-10 .2 2.6 .2 1.4 .1-.6 .6-4.8 .3 8.4 .3-7.8 .7 2.6 .2 6.3 .1-7.8 .2 5.4 .1-3.1 0 5.2 .5-4 0 5.2 .1-5.8 .6-2.8 .1 2.3 0 .5 0 .7 .4-.2 .5 .5 .1-4.6 .1 1 0 4.6 .1 1 .1 1.8 .2-5.7 0 .6 .2 3.8 .4-2.5 .2-3.3 .2 2.7 1.1-5.7 .1 5.2 0-4 .1 4.2 .1-2.3 .3 4.6 .4-6.6 .2 3.7 .1 4.2 .2-6 0 .1 0-1.8 .1 2.1 0 3.8 .4-4.4 .1 3.5 .1-.5 .1 1.8 .1-9.7 .1 8 .1 1.6 .1 1.4 .3-1.3 .1-2.2 .1-.4 0-4.1 .3 5.2 .1-1.4 0-4.7 0 5.4 .2 4 .3-2.6 0-.6 0-6.7 .1 5.3 0-3.2 0 8.6 .3-7.2 0 .2 .1 6.7 .2-2.3 .1-.5 .4 1.4 .1-6.6 .1 5.5 .2-.4 0-.2 .5-2.8 .4 2.4 .1-3.4 .1 1.1 .1 2.6 .2 1.9 .1-3.9 .4 3.1 .3-5.3 0-.2 .1 9.6 .1-5.4 .2-4.2 0 2.3 .2 3 .2-3.9 0-1.1 .1 .6 .2 5.5 0-5.8 .2 .8 0 6.1 .1-2.2 .4-4.7 .3 6.9 .1-3.6 .2-3.2 0 3.8 .6-4.8 .4 1.3 .1 4.5 .2 1.3 0-1.9 .2 .7 0 1.1 .1-4.8 .4-.8 .5 4.9 .4-6.2 .6 6.8 .7 .3 .3-5.1 .1 4.1 .5-7.1 .1 5.5 .2-.7 0-2.3 .1 5.1 .1-2.1 .1-5.7 0 7.1 .3-3.4 .2 3.3 0 0 .5 .7 .1 .7 .4-3.8 0 .4 .2 1.4 0-6 .3-.5 0 2.4 .1-2.4 .2 4.6 .1-.1 .1-2.7 .2 3.2 .1-1 0-1.5 .1 3.1 .1-3 0-.8 0 5.2 .1 .2 .1-6.2 .1-2.5 0 4.5 .1-.9 0 3.6 .3 1.1 .1 1.2 0-2 .4-3.7 .1 2.5 .1-.4 .2 3.4 0-2.6 .5-2.6 .1 4.7 0-7.7 .1 5.9 .3 2.5 0-5.4 .5-.5 .1 2 0-2.2 .3 6.2 .1-1.6 .2-4.2 .3 .2 .1 5.3 .2-4.2 .3-.8 0 6.4 .1-5.1 .2 1.8 0-3.8 0 1.7 .3-1.3 .1 1.5 .1 1.4 0-7.9 .1 2.3 .3 5.8 0-6.5 .1 6.6 0 3.7 .1-5.3 .5 4.6 .4-8.4 .1 7 .1-3.8 .1 3.2 0 2.9 .1-3 .2-10.8 .2 4.8 .1 9.1 0-3 .1 1.4 .1-4.5 .1-2.3 0-.3 .2 5.8 .3 .8 .3-8.9 .6 4.9 .1-2.1 .3 5.9 0-5.4 .1-4.9 .2 9.2 .2-1.4 .2-.7 .2-3.1 .2 .9 .3-.6 0 0 .8 .7 0 .5 .3-5.5 0 8.9 .1-4.3 .5 2.2 .1 4.8 .3-8.9 .1 4.7 .2-2.8 0-.8 .1 3.5 .8-.4 0 4.8 .2 .6 .1-9.5 0 10.2 .2-6.3 .3 .8 .3-2.7 .2 2.2 .1 .6 .1 .1 .1-5.4 .8 8.2 .1-4.2 .1-1 .1-2 .3 9.2 0-5.2 .2-2.5 .1 7 .3-5.5 .1 1.7 .1-6.8 0 6.2 .5 4.4 0-3.9 0-1.8 .1-1.6 0 4.2 .2-1 0-3.6 .2 3.9 0-3.7 0 1.9 .2 2.3 0 .8 .2-5.7 .1 2.3 .3-.8 .2 2.6 .1 2.7 0-6 .1 5.9 .1-6.5 .1 6.4 .2-8.6 .2 6.9 .1-2 0-2.3 .3 7.3 0-5.4 .1 1.9 .1 3.2 0-4.2 0 .8 .2-.7 .2-.8 .2-1.5 .2 1.2 .1 3 .4 1.5 .2-7.3 0 1.9 .5 2 .1-3.7 .2 1.3 .8 6.1 .3 .9 0-2.4 .1 3 .1-7.2 0-1.1 0 1.6 0 7.6 .1-6.9 .3 2.7 .5 1.8 .2-2.6 .1-7.2 .1 8.5 .2-4.4 0 2.8 .2 .4 .2-4.8 .2 1.6 .1 4.3 .1 2.1 .1-3.7 .1 1 0-4.7 .1 5.6 0-8.2 0 6.9 .6-2.5 .1 2.7 0-6.7 .3 1.3 .2 8.6 .2-11 .3 .6 .3 11.9 0-8 .1 4 .1-5.2 .1 1.4 .4 2.8 .2-5.1 .3 4.6 .2 2.3 .2-4.8 0 1.9 .7 4 .1-4.6 .2 0 0 3.5 .2-3.9 0-.1 .1-3.6 .4 3.2 .1 2.6 .1-1.8 0-1.9 .1 4.4 0-.6 .1-3.5 .1 5.6 .4-5.9 .1 5.3 0 .4 0-2.5 .1-5.9 0 4.9 0-1.3 .3 2.8 .5-2 .2 4.4 .1-7.6 0 3.7 .1 3.3 .2-2.5 .1 1.6 .3-4.3 0-.3 .3 5.4 .2 2.2 .1-4.2 .1-3.3 0 .4 .2 4.4 .1-8.4 .4 10.6 0-4.8 .3 2.9 .1 .5 .1-2.7 .2-.4 .1 4.7 .3-1 .2-5.5 .2 2.1 .1 .2 0-4.7 .2 1.2 1.1 9.3 .2-5 0-5.3 .3 2.3 0 4.6 .7-5.9 .2 3.2 .2 4.8 .4-3.9 .1 3.9 .1-11.9 0 11.8 .1-3.2 .2-3.3 .1 2.6 .4 2.5 .3-1.2 .2-1.1 .1 4.1 .3-1.5 0 1.9 .1-.4 .2-7.3 .1 5.7 .8-7.6 .1 6.7 .3 1.6 .3-1.2 .2-2.3 0 5.1 0-6 .3-.3 .2 5.9 .1-1.8 .2-2.3 0-4 .2 3.1 .3-1.3 .1 2.8 .1-5.2 0 2.8 .1-2.3 .1 1.6 .2 4.2 .3 3.3 .2-.6 0-9.8 0 1.3 0 .3 .6-.7 .2 5.8 0-4.4 .1 5.5 .2-2.2 .1-1.1 .2 2.5 .1 1.4 .1-5.6 0 2 .3-3.3 .1 1.9 .1-2.5 0 2.5 .1 5.3 0 .2 .5-2.4 .1-7.5 0 4.2 .3-3.9 .1 5 .1 4.9 .1-1.4 0-7.1 .1 4.2 .3 .4 .2-7.4 0 3.2 0 3.5 .2-2.2 .1 7.3 0-3.8 .3 1.8 .3-2.5 .2 1.3 .2-4.8 0-.5 .1-2.3 0 6.2 0 .3 .1-1.4 .2-2.5 .3-.5 .2-3.4 .6 7.2 .4 2.2 0-2.5 .2 3 .5-4 .2 6 .1-4.8 .1 4.1 .1-8.8 .3 4.9 .1-1.3 .3-.7 0 5.2 .3-3.5 .3 2.4 .1-2.8 .1-6.2 .1 4.7 .1 2.3 .1-.9 0 3.6 .2-5.1 .5 5.4 .1-2.6 .2-7.1 .1 4.3 0-.5 0 .6 .1 1.7 .2-3.7 0-1.1 0 2.2 .4 2.3 .1 6.7 .1-.2 0-7.5 .1-2.5 .8-.5 0 3.7 .1-3.7 .7 4.2 .3-4 .2 3.3 .1-2.9 .3 4.8 0-3.9 0 1.7 .1 7.4 .4-7.9 .1 3.3 .1-6.6 0 2.3 .1-1.9 0 7.2 .4-6.6 .2 .9 .1-1.3 .1 3.1 .2 3.4 0-1.9 0-4.5 .2 10 0-6.5 .2-2.1 .5 5 .1-1.4 .1 3.3 .1-8 .1 3.6 .2 .5 .1-2.4 .1-.8 0 3.5 .2 .5 0 3.7 .1-4.8 0 2.3 0 1 .2-2.9 .1 1.6 0-1.1 .4-.5 .1-.8 0 2.8 .2-4.9 .2 4.9 .2-8.4 .1 1.7 .2 7.2 .1 .9 .1-7.7 .1 2.1 .1 .5 .2 .4 .1 3 .1 1 .4-3.6 .1-1.8 .1 5 .1-5.5 .1 3.5 .1-5.3 0 8.6 .4-4 .1-1.8 .1-3.5 0 2.7 .4 7.4 .1-5.3 .1 1.8 0-5.9 .2-.7 .3 6.6 .1-3.6 0 3.2 .6 1.8 .1 .3 0-4.7 0 .1 .1 5.9 .1 .8 .4-3.1 0-1.4 .4 .5 .1-7.2 .1 5.7 0 1.4 .3-1.3 .1 5 .1 1.3 .3-7.3 .3 1.1 0-4.6 0 7 .1 2.1 .4-.7 0-7.6 .5 5.6 0-1.7 0-6.2 .1 10.3 .3-1.8 .2-5.7 0 1.5 0-1 .6 5.4 0-.1 .2-10.3 0 10.9 .2-1.1 .4-4.1 0 4.5 .2-1.7 0-.4 .1-1.2 .4-.8 .6 4.9 .1 .6 .2 .8 0-4.3 .2 1.6 0-5.2 .1 .7 .1 7.8 .3-9.3 .3 .2 .6 7.3 0 1.7 .3-6 0-1.9 0 4.2 0-7.8 .1 9.4 0-5.4 .4 6.2 0 6.4 .1-10.2 .2-2.9 .3-2.9 .1 8.8 .2-4.1 .3-5.5 .7 12.8 .3-10.4 .1 3.3 0 3.8 .1-2.7 .3 6 0-7.3 .2-2 .4 1.3 0 2.5 .1 6 .1-10.4 0 9.1 0-5.9 .1 1.9 .5-3 0 3.8 .1-2.7 .1-1.5 .1 4.7 .1-2.9 0 3.7 .2-.5 .1 .6 .2-1.4 .2-2.5 0 3.8 .1-4.3 .1 4.1 .4-6.3 0 .7 0-1.2 .2 7.3 .4-4.7 .1 2.2 .2-5.3 .3 4.1 .2 1.4 .4-3.5 .7-2.7 .4 6.3 .1-1.7 .1 4 0-8.8 .2 9.8 0-7.6 .1 9.2 .1-10.6 0 4.7 .1-3.6 .3-.9 .1 5.3 .1-1.3 0 2.9 .1-.3 0-1.6 .4-5.3 .3-2.5 0 9.4 .5-3.9 0 6 .1-5.2 .1 4 0-6.2 .3-1.2 .2 .9 .2-.1 0-.1 .1 5.3 .3-7.4 .5 5.3 .1-3.2 0 7.9 .3-4.2 .3 4.5 .2-2.7 .2 .5 .1 4.5 .1-8.1 .5 2.2 .1 4 .1-8.2 .3 2.8 .2-6.2 .1 6.4 .3 .1 .2 3.2 .1-4 .1 2 .2-4.5 .5 8.5 .2-6.5 .1-5.5 .3 6.3 .1 0 0-.3 0 .6 .1-1.5 0 5.4 .4-9.1 0 5.2 .1 1.7 .2 1.4 .1-8.4 .1 4.2 .1-.6 .2 5.2 .2 1.1 .2-6.1 .4-4.6 .2 10 .1-4.8 .4-2.2 .1 6.4 0-7.4 0 .5 .1 4.5 .1-3.5 .4 4.4 0-3.1 .2 3.3 .1-4.5 .1 7.4 0-5.5 .1 4.1 .1-5.1 .3 1.7 0 3.4 .3-9 .3 8.4 .2-5 .1 5 .1-2.7 0-5.8 .1 5.7 .1 .7 .1 .7 0 .8 0-.7 .3 .4 0-4.2 .2-.5 .2 1.8 .5-5.6 0 9.1 .2-3.4 0-.7 .2-2.2 .1 3.9 0 .4 .1-4.2 .1-2.7 .6 .3 .1 5.7 .2-1.4 0-2.3 .2 0 .1 4.7 0-2.2 .1 2.2 .1 2.5 .1-5 0 1.1 .1 .1 .2-1.2 .2 3.8 .2-3.6 .2-3.8 .1 11.5 .1-8.1 .1-1.9 .1 2.6 .1-.4 0-.1 .3-1.7 0-2.9 .2 9.4 .4-2.7 .1 2.4 .3-8.6 0 3.6 .6 5 0-1 0 2.7 .9-5.6 .1-4 .1 8.3 0 .4 .4 .7 0-5.8 .3 5 .1 .1 .2-4 0 4.8 .2-6.9 0 1.4 .6-3.5 .1-1.7 .2 10 .1-.5 .1 .9 .2-9.3 .3 .2 .5 7.9 0-1.1 .2-4.7 .1 5.1 0 2.9 .1-7.6 0-2.2 .1 4 0 4.4 .1 1.2 0-3.4 .1-1.9 0 1.4 .1-6.2 .2 7.1 .1-6.4 0-.5 0 2.2 .6 9.6 .3-12.1 .3 1.8 0 7.3 0-8.2 .5 3.4 .3-.5 .1 1.7 0-.2 .2-5.2 .1-1.6 .4 2.9 .2 7.5 .1-7.7 .1 3.4 .2-.5 0 4 .1 .5 0-1.2 .4-3.4 0 3.4 .5 .5 .2-3.7 .1 1.4 .6-.2 0 4.1 .2-7.1 .2 6.6 .5-5.7 .4 .7 .5-1.3 .2 6 .3-3.9 0 1.9 .1-.4 0-4.4 .1 1.8 .3 1.5 .3-.6 .1 2 .2-1.6 .1-.7 .1 2.2 1-2.4 .1 .5 .3-1.6 .2 4.8 .2-7.3 0 7.1 0-4.9 .1-1.8 0 4.9 .2-5.3 .2 5.4 .1 4.3 0-6.7 .4-5.7 0 2.2 0 2.8 .2 2.5 .1-3.3 0 0 .1 .3 .4 7.8 0-8.3 .1-1.6 .8 4.9 0 .9 .1-3 .1 3.8 0-4.5 .1 10.8 .1-3.3 0-1.5 0 1.1 .1-1.7 .4-3.6 .2 .4 .1 5.8 0-7.7 .2 .5 .2 5.8 .2 1.6 0-6.7 .3 2.9 0 4.6 .1-4.1 .1-1.3 .1-1.4 .1-.1 .3 6.7 .3-8.8 .1 8.4 .1-7 .1 6.7 0-2.1 .7-5.2 .1 4.5 0 3.1 .1-1.2 0-6 .3 2.2 0 2.5 .1-6.1 0-2.3 .1 1.4 .1 5.6 .1-2.1 .2 .7 .1-4.3 .4 4.8 0 3.5 .3-8 .2 1.3 .2 3.4 0-6.3 .7 6.2 0 1.8 .2 .1 0-.6 .3-3.7 0 3.9 .4-2.6 .2 2.2 .1-4.5 .1 8.7 0-6.2 .2-.2 .1 1.1 .1-4.7 .1 7.2 .3-3 .1-5.2 0 11.5 0-11.6 0 8.5 .2-9.4 0 1.3 0 10.7 .5-9.4 0 1.2 .4 1.8 .2-1.9 0 .9 .2 .1 .3 4.1 .2-.7 .3 .5 0-3.2 .1-1.8 0 5.2 .1-3 0 2 .6 1.6 .1 1.7 0-4.6 .1 3.2 .3-.8 .1-7.8 0 3.6 .4 3.7 .1 2.8 .1 1.1 .4-8.2 .1 4.9 0-7.8 .5 1.9 .1 5.1 .1-2.8 .2-.2 .1-.7 0 4.4 .1 1.8 0-3 .1-1.5 .6-2.2 .1-3.8 0 1 0 .7 .3 3.9 .2-2.6 .5 .3 .5 8 0-1.3 0-4.2 .3-3.2 .2-.4 0 4.9 .1 1.8 .1 3.5 .2-9.1 0 2.8 .2 .8 0-3.7 .5 5 .1-.4 .5-7.4 .1 5 .2-1.1 .1 4.4 .2-2.4 .2 4.6 .2-12.2 0 11.8 .4-7.4 .4 3 .1-4.9 .1 7.5 0-5.2 .5 .9 .1 4.6 0-4 .4-.4 .2-.8 0-4.4 .3 7.2 .1-6.1 .5 8.9 0-5.2 .2-1.9 .1 3.6 .1-1.4 .1 7.3 .8-7.6 .2-1.7 0 2.3 .1-5.1 0 9.1 .4-1.9 .1-3.4 0 .8 0 .3 .1 4.2 .2-5.6 0 3.1 0 2.3 .4 3 0-9.2 .1 2.4 .1-2.5 .1 .9 .2 .3 .1 0 .1-1.4 .1 2.1 .1-1.9 .1 3.6 .1 .9 0-1.7 .1 .2 0-2.2 0 5.6 .3-2.3 .4-.3 0 1.4 .6-1.1 0 3.3 .1-8.7 .1 2.5 .1 3.8 .1-1.1 .1 5 .1-.3 .3-2.4 0-5.7 .1 2.2 0-1.4 0 1.5 .1 1.8 .2 0 .3-1.3 .2 .1 .1 1.3 .1-3.9 .2 2.5 .1-1.4 0 5 .2-4.5 .1 3.6 .2-3.2 .1 1 .1-2 .2-1.5 0-3.4 0 3.1 .2 5.4 .1-5.9 .1 1.8 .1-.6 0 2.7 .3 4.9 .1-4.8 .1-1.1 .1 2.6 0-3.6 0-1.6 .4 8.1 .4-2.6 .1 1.7 .8 .7 .1-5.8 .1 .9 0 2.5 .2-5.7 .1-2.9 .7 5.4 .1-1.6 .3-2.9 .9 7.8 .4 2.3 0-9.2 .2 1.4 .2 .7 .1 5.3 .6-4.4 .1-.4 0 1.7 .1 .2 .2-2 0-1 0 3.4 .1-3.8 0 1.7 .3 5 .5-6.2 .2 3 .1-.9 .1-1.4 .2 .8 0 .1 .4 1.2 .1-2.6 .1-.6 .1 6.9 .1-3.1 0-3.8 0 5.5 .1 .5 .5-5.8 0 .6 .1 7.6 .1 3.9 .2-9.4 .4 1.2 .1-.3 .1 1.1 .1 2.4 .3-3.4 0 5.5 .4-5.2 .2-3 0 6.3 .2 .5 .4-6.4 .1 2.1 0-8.1 .3 6.1 .2 4.4 .7-2.8 .2-1.9 .3 .8 .1 3.1 .1 2.7 .2-3.2 0-2.6 .3 4.3 .3 1.5 .3-1.7 .4-4.8 .1-2.2 .2 3.2 .1-2.9 .4 .2 .1 6.4 .2-1.8 .3-1.7 .3-2.3 .4 3.9 .4-4.3 .2 1.2 .2 5.5 .1-3.4 0 4 .1-.9 0-6.2 .1 7.2 .4-3.3 .2-1.1 .1-1.9 .2 2.7 .1-.3 0-3.8 .2 4.3 .3-5.7 0 1.9 .1 8.9 .2-4.4 0-5.2 .1 9.4 .1-1.6 .3 .4 .5-.9 .1-4.6 .1 .9 .1-2 .3 4.9 .5-.5 .1-2 .2-3.3 .2-.3 .2 7.6 .3-1.1 .1-2.7 .2-1.3 .1-4.4 .5 3.4 .1 6.3 0-6.8 .1 3 .2-1.6 .2 1.9 .1 1.4 .3 .3 .7-.2 .2-6.4 .1 9.9 .1-5.3 0 3.5 .4-8.9 .1 7.3 .1-4.2 .2 5.4 0-5.2 0 3.9 .4 2.8 .1-10.5 0 10.5 .2-7.9 0 2 .1 1 0-1.3 .2 .6 .1-1.7 .3-.3 .1 5.3 .1-1.1 .1 3 .4-6.3 .6 3.2 .5 0 .1-4 0 .6 .2 4.8 0-8.3 .1 7.6 .1 .8 0-4.8 .3 2.5 .1 .5 .1-2.5 .3 2.2 0-3.2 .3-.9 0-1.1 .3 .5 0 4.5 0-3.7 0-4.1 .1 9.6 .2 4.5 0 .6 .2-2.5 .6-7.5 .2 1.7 .7-1.1 .2-1.4 .1 3.1 .5-3 .1-2.4 .3 4.1 .1 4.6 .1-3.4 .1 1.5 0 .6 .2-4.3 0 6 .1-5.2 0 4 0-6.4 .1 .4 .1 3.6 .2 .6 .4-2 .2 2.5 .1-.8 .1 3.2 0-1 .8-1.4 .1 1 .2-6 .3 2.9 0-.4 .5 1 .2-.4 .3-5.6 .1 6 .2-1.5 0 2.2 .2 4.3 0-1.3 .1-.6 0-2.9 .3-2.6 .1-1 .1 5.3 .5 1.2 .1-3.9 .2 .9 .2 1.8 1.1-2.3 0-5.4 .3 1.3 .1 10.7 .1-4.2 .1 .3 .1-2.3 0 5.3 .2-3.5 .3 2.9 0-2.5 .1 1.3 0-7.7 .3-.4 0 2.2 .3 6.1 0-2 .2 3 0-1.4 .5-6.2 .2 3.4 .1 5.2 .2-8 .1 10.3 .2-12 .1 5.4 .2-3.9 0 4.1 .1 4.9 .3-7.3 .3-3 .5 11.7 .3-10.9 .5-.8 .1 8.7 .1-7.2 .2-1.4 .3 5.5 .2-6.2 0 3.9 .1-2.5 0 6.3 .2 1.6 .1-3.6 .4 .6 .5 2.1 .1 1.3 .2-2.5 .8-5.1 .1 4.1 .1-2.1 0 6.7 .1-4.1 .5 1.3 .4-.5 .2-.4 .1-3 .1-.4 .2 4.4 .1-2.7 .1-1.4 .4 2.5 .5-3.9 .1-1.6 0 7.9 .1-5.6 .2 5.3 .1 3.1 .8-8.1 .2 5.4 .2-1.2 .1-8 .1 2.3 0 5.5 .1-4 .4 0 .2 .1 0 5 .2-.4 .1-3.9 .4-.8 .1-.1 .5 2.9 .2-3.2 .3 2.6 .2-1.2 .1 .9 0 .3 .3 4.4 .2-11 .1 12.6 .1-8 0-1.8 .1-.5 .9 5.9 .6-2.2 .1 3.4 .2-3.2 .3 3.2 0 3.3 .1-3 .2-8.1 .1 5.4 .1-1 0 4.5 .1-3.6 .2 1.3" fill="none" stroke="none" marker-start="url(#fB)" marker-mid="url(#fB)" marker-end="url(#fB)"/>
<path d="M143 72.6V254.2" stroke="#141210" stroke-width="3.6" stroke-linecap="round" fill="none"/>
<path d="M144 92.7H155.3" stroke="#141210" stroke-width="3.2" fill="none"/>
<path d="M144 166.0H155.3" stroke="#141210" stroke-width="3.2" fill="none"/>
<path d="M144 239.8H155.3" stroke="#141210" stroke-width="3.2" fill="none"/>
<path d="M143 274.3V958.6H988.7" stroke="#141210" stroke-width="3.8" stroke-linecap="butt" fill="none"/>
<circle cx="143" cy="274.3" r="1.9" fill="#141210"/>
<path d="M144 291.4H151.2" stroke="#141210" stroke-width="3" fill="none"/>
<path d="M144 512.4H151.2" stroke="#141210" stroke-width="3" fill="none"/>
<path d="M144 735.4H151.2" stroke="#141210" stroke-width="3" fill="none"/>
<path d="M234.2 949.4V957" stroke="#141210" stroke-width="2.6" fill="none"/>
<path d="M415.9 949.4V957" stroke="#141210" stroke-width="2.6" fill="none"/>
<path d="M596.6 949.4V957" stroke="#141210" stroke-width="2.6" fill="none"/>
<path d="M777.6 949.4V957" stroke="#141210" stroke-width="2.6" fill="none"/>
<path d="M959.3 949.4V957" stroke="#141210" stroke-width="2.6" fill="none"/>
<rect x="826.8" y="363.1" width="20.4" height="20.2" fill="#141210"/>
<circle cx="837" cy="416.5" r="10.8" fill="#e30a17"/>
<circle cx="837" cy="460.6" r="10.9" fill="#3d4d9f"/>
<circle cx="837" cy="505.7" r="10.9" fill="#7f2080"/>
<path d="M837.5 537L847.4 550.5L837.5 564L827.6 550.5Z" fill="#2c2670" stroke="#2c2670" stroke-width="1.6" stroke-linejoin="round"/>
<circle cx="837" cy="592.5" r="10.5" fill="#c9c7c7"/>
<path d="M836.80 622.80L840.56 630.22L848.78 631.51L842.89 637.38L844.21 645.59L836.80 641.80L829.39 645.59L830.71 637.38L824.82 631.51L833.04 630.22Z" fill="#117d3b" stroke="#117d3b" stroke-width="2.0" stroke-linejoin="round"/>
<rect x="826.8" y="671.8" width="20.4" height="19.4" fill="#8b8787"/>
<text x="62.42" y="51.40" font-size="46" textLength="266.60" lengthAdjust="spacingAndGlyphs">Напряжение,</text>
<text x="343.96" y="51.40" font-size="46" textLength="28.75" lengthAdjust="spacingAndGlyphs">В</text>
<text x="106.47" y="107.80" font-size="46" textLength="21.30" lengthAdjust="spacingAndGlyphs">4</text>
<text x="105.83" y="175.20" font-size="46" textLength="23.24" lengthAdjust="spacingAndGlyphs">0</text>
<text x="74.39" y="250.60" font-size="46" textLength="53.70" lengthAdjust="spacingAndGlyphs">−4</text>
<text x="61.42" y="308.60" font-size="46" textLength="67.60" lengthAdjust="spacingAndGlyphs">200</text>
<text x="62.82" y="529.00" font-size="46" textLength="66.16" lengthAdjust="spacingAndGlyphs">150</text>
<text x="62.82" y="746.40" font-size="46" textLength="66.16" lengthAdjust="spacingAndGlyphs">100</text>
<text x="84.09" y="967.40" font-size="46" textLength="44.92" lengthAdjust="spacingAndGlyphs">50</text>
<text x="204.07" y="1010.60" font-size="46" textLength="56.76" lengthAdjust="spacingAndGlyphs">0.0</text>
<text x="385.56" y="1011.00" font-size="46" textLength="57.02" lengthAdjust="spacingAndGlyphs">0.5</text>
<text x="567.65" y="1011.00" font-size="46" textLength="56.16" lengthAdjust="spacingAndGlyphs">1.0</text>
<text x="750.35" y="1011.00" font-size="46" textLength="54.76" lengthAdjust="spacingAndGlyphs">1.5</text>
<text x="929.65" y="1011.00" font-size="46" textLength="55.44" lengthAdjust="spacingAndGlyphs">2.0</text>
<text x="248.24" y="1061.80" font-size="46.5" textLength="419.28" lengthAdjust="spacingAndGlyphs">Время/Длительность</text>
<text x="682.86" y="1061.80" font-size="46.5" textLength="187.17" lengthAdjust="spacingAndGlyphs">импульса</text>
<g transform="translate(40,815.5) rotate(-90)"><text x="-1.95" y="0.00" font-size="46.5" textLength="325.54" lengthAdjust="spacingAndGlyphs">Сопротивление,</text><text x="338.47" y="0.00" font-size="46.5" textLength="63.84" lengthAdjust="spacingAndGlyphs">Ом</text></g>
<text x="860.59" y="387.10" font-size="46.5" textLength="43.40" lengthAdjust="spacingAndGlyphs">25</text>
<text x="919.43" y="387.10" font-size="46.5" textLength="20.59" lengthAdjust="spacingAndGlyphs">с</text>
<text x="862.09" y="429.70" font-size="46.5" textLength="43.36" lengthAdjust="spacingAndGlyphs">10</text>
<text x="919.43" y="429.70" font-size="46.5" textLength="20.59" lengthAdjust="spacingAndGlyphs">с</text>
<text x="860.45" y="471.40" font-size="46.5" textLength="21.10" lengthAdjust="spacingAndGlyphs">5</text>
<text x="897.53" y="471.40" font-size="46.5" textLength="20.59" lengthAdjust="spacingAndGlyphs">с</text>
<text x="860.82" y="515.20" font-size="46.5" textLength="55.10" lengthAdjust="spacingAndGlyphs">0.5</text>
<text x="931.43" y="515.20" font-size="46.5" textLength="20.59" lengthAdjust="spacingAndGlyphs">с</text>
<text x="860.77" y="561.10" font-size="46.5" textLength="43.95" lengthAdjust="spacingAndGlyphs">25</text>
<text x="919.93" y="561.10" font-size="46.5" textLength="50.31" lengthAdjust="spacingAndGlyphs">мс</text>
<text x="860.92" y="602.90" font-size="46.5" textLength="21.35" lengthAdjust="spacingAndGlyphs">5</text>
<text x="897.53" y="602.90" font-size="46.5" textLength="50.31" lengthAdjust="spacingAndGlyphs">мс</text>
<text x="862.53" y="651.80" font-size="46.5" textLength="18.04" lengthAdjust="spacingAndGlyphs">1</text>
<text x="897.53" y="651.80" font-size="46.5" textLength="50.31" lengthAdjust="spacingAndGlyphs">мс</text>
<text x="861.07" y="697.40" font-size="46.5" textLength="53.50" lengthAdjust="spacingAndGlyphs">0.1</text>
<text x="931.84" y="697.40" font-size="46.5" textLength="49.57" lengthAdjust="spacingAndGlyphs">мс</text>
</svg>
</body></html>
